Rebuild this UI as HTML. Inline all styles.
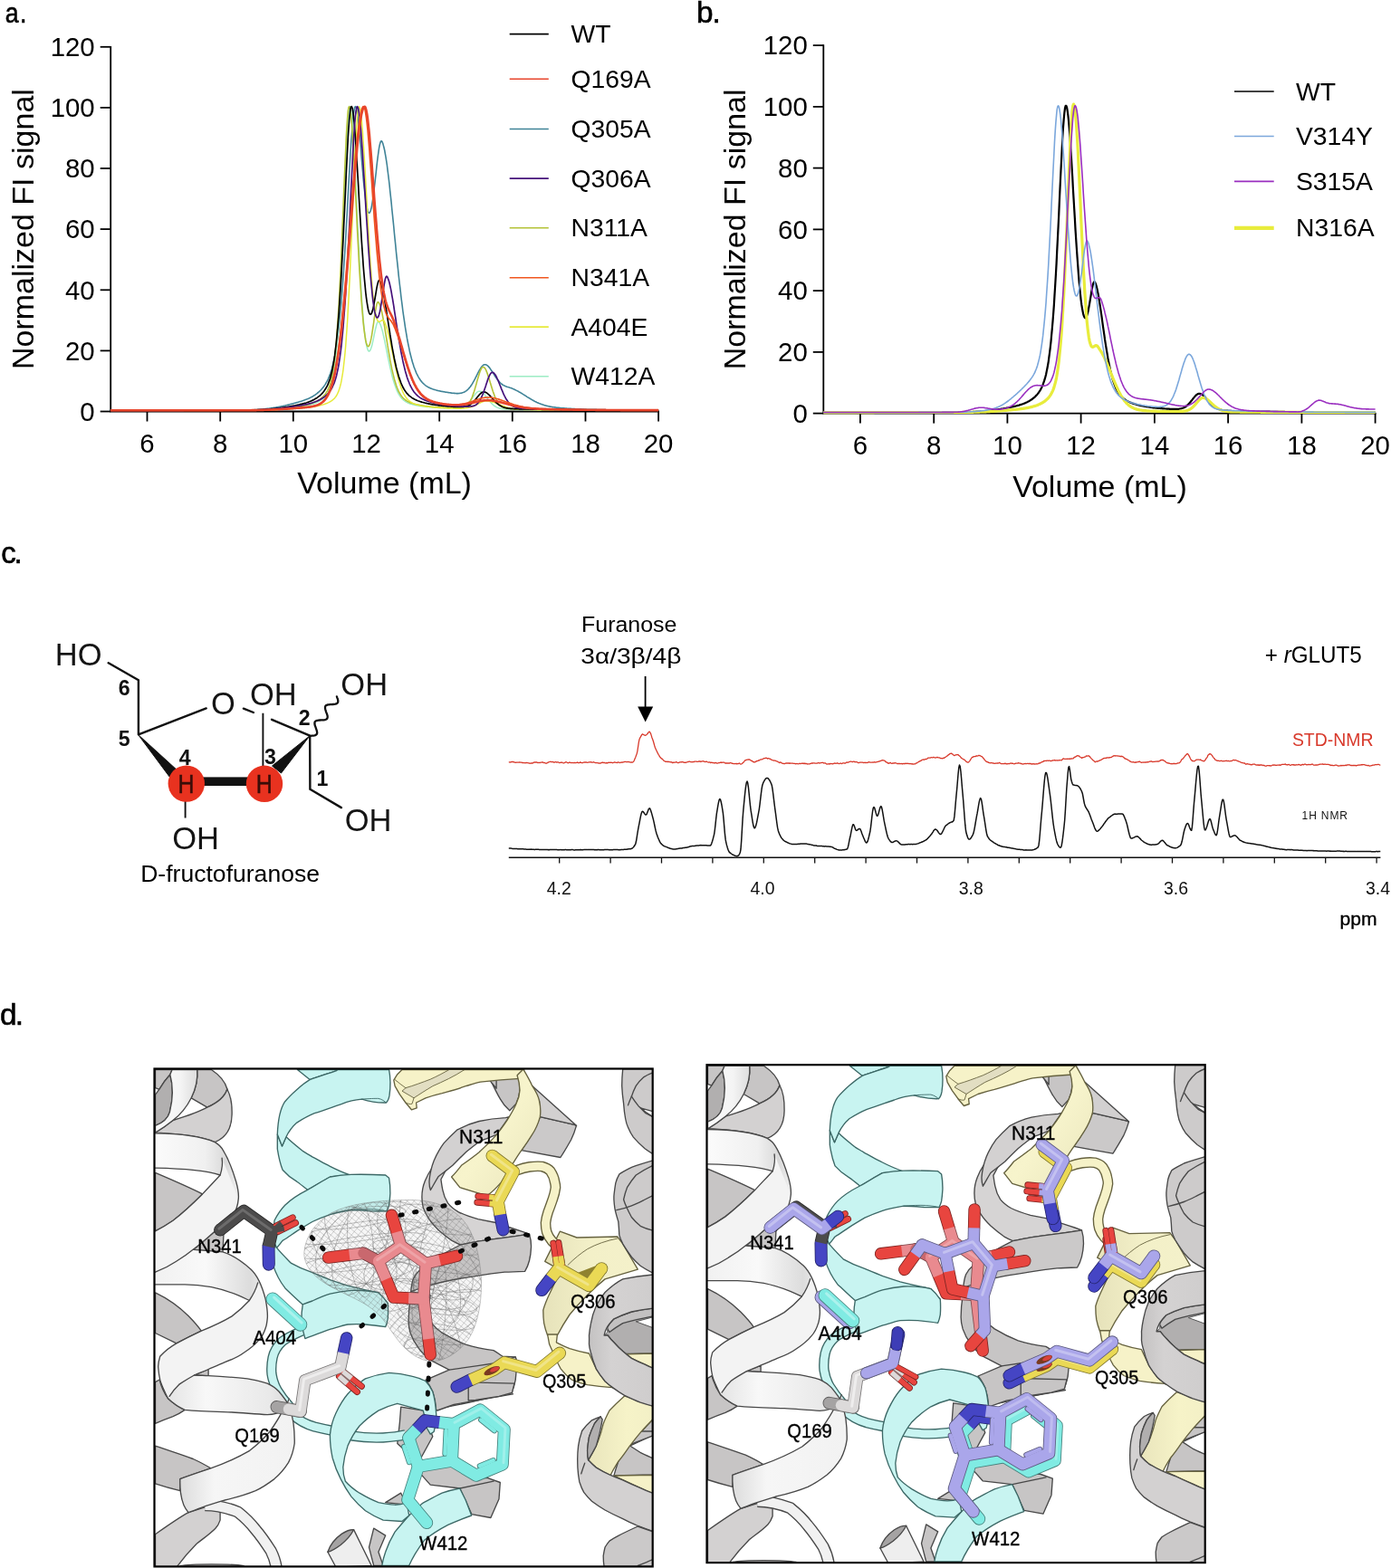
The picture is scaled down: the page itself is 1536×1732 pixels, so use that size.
<!DOCTYPE html>
<html lang="en"><head><meta charset="utf-8"><title>Figure</title><style>
html,body{margin:0;padding:0;background:#fff;}
body{width:1536px;height:1732px;overflow:hidden;font-family:"Liberation Sans",sans-serif;}
svg{display:block;}
text{font-family:"Liberation Sans",sans-serif;fill:#000;}
.tk{font-size:29.4px;}
.ti{font-size:34px;}
.lg{font-size:28.3px;}
.pl{font-size:31.8px;stroke:#000;stroke-width:0.6px;}
.nt{font-size:19.5px;fill:#111;}
.ppm{font-size:20px;stroke:#000;stroke-width:0.35px;}
.fur{font-size:24.5px;}
.glut{font-size:25.5px;}
.std{font-size:20px;fill:#d8392b;}
.h1{font-size:12px;fill:#111;}
.chA{font-size:34.5px;fill:#151515;}
.chN{font-size:23.2px;font-weight:bold;fill:#111;}
.chH{font-size:29px;fill:#3a0d08;stroke:#3a0d08;stroke-width:0.5px;}
.chT{font-size:25.5px;}
.rl{font-size:21.4px;fill:#000;stroke:#000;stroke-width:0.35px;}
</style></head><body>
<svg width="1536" height="1732" viewBox="0 0 1536 1732">
<rect width="1536" height="1732" fill="#fff"/>
<path d="M122.2,51.8 V454.5 H727.1" fill="none" stroke="#000" stroke-width="1.8" stroke-linecap="square"/>
<path d="M110.7,454.5 H122.2" stroke="#000" stroke-width="1.8"/>
<text x="104.7" y="464.7" text-anchor="end" class="tk">0</text>
<path d="M110.7,387.4 H122.2" stroke="#000" stroke-width="1.8"/>
<text x="104.7" y="397.6" text-anchor="end" class="tk">20</text>
<path d="M110.7,320.3 H122.2" stroke="#000" stroke-width="1.8"/>
<text x="104.7" y="330.5" text-anchor="end" class="tk">40</text>
<path d="M110.7,253.1 H122.2" stroke="#000" stroke-width="1.8"/>
<text x="104.7" y="263.3" text-anchor="end" class="tk">60</text>
<path d="M110.7,186.0 H122.2" stroke="#000" stroke-width="1.8"/>
<text x="104.7" y="196.2" text-anchor="end" class="tk">80</text>
<path d="M110.7,118.9 H122.2" stroke="#000" stroke-width="1.8"/>
<text x="104.7" y="129.1" text-anchor="end" class="tk">100</text>
<path d="M110.7,51.8 H122.2" stroke="#000" stroke-width="1.8"/>
<text x="104.7" y="62.0" text-anchor="end" class="tk">120</text>
<path d="M162.5,454.5 V465.5" stroke="#000" stroke-width="1.8"/>
<text x="162.5" y="500.0" text-anchor="middle" class="tk">6</text>
<path d="M243.2,454.5 V465.5" stroke="#000" stroke-width="1.8"/>
<text x="243.2" y="500.0" text-anchor="middle" class="tk">8</text>
<path d="M323.8,454.5 V465.5" stroke="#000" stroke-width="1.8"/>
<text x="323.8" y="500.0" text-anchor="middle" class="tk">10</text>
<path d="M404.5,454.5 V465.5" stroke="#000" stroke-width="1.8"/>
<text x="404.5" y="500.0" text-anchor="middle" class="tk">12</text>
<path d="M485.2,454.5 V465.5" stroke="#000" stroke-width="1.8"/>
<text x="485.2" y="500.0" text-anchor="middle" class="tk">14</text>
<path d="M565.8,454.5 V465.5" stroke="#000" stroke-width="1.8"/>
<text x="565.8" y="500.0" text-anchor="middle" class="tk">16</text>
<path d="M646.5,454.5 V465.5" stroke="#000" stroke-width="1.8"/>
<text x="646.5" y="500.0" text-anchor="middle" class="tk">18</text>
<path d="M727.1,454.5 V465.5" stroke="#000" stroke-width="1.8"/>
<text x="727.1" y="500.0" text-anchor="middle" class="tk">20</text>
<text x="424.6" y="545.0" text-anchor="middle" class="ti">Volume (mL)</text>
<text transform="translate(36.8,253.1) rotate(-90)" text-anchor="middle" class="ti">Normalized FI signal</text>
<path d="M122.2,453.3 L122.9,453.3 L123.5,453.3 L124.2,453.3 L124.9,453.3 L125.6,453.3 L126.2,453.3 L126.9,453.3 L127.6,453.3 L128.2,453.3 L128.9,453.2 L129.6,453.2 L130.3,453.2 L130.9,453.2 L131.6,453.2 L132.3,453.2 L133.0,453.2 L133.6,453.2 L134.3,453.2 L135.0,453.2 L135.6,453.2 L136.3,453.2 L137.0,453.2 L137.7,453.2 L138.3,453.2 L139.0,453.2 L139.7,453.2 L140.3,453.2 L141.0,453.2 L141.7,453.2 L142.4,453.2 L143.0,453.2 L143.7,453.2 L144.4,453.2 L145.1,453.2 L145.7,453.2 L146.4,453.2 L147.1,453.2 L147.7,453.2 L148.4,453.2 L149.1,453.2 L149.8,453.2 L150.4,453.2 L151.1,453.2 L151.8,453.2 L152.4,453.2 L153.1,453.2 L153.8,453.2 L154.5,453.2 L155.1,453.2 L155.8,453.2 L156.5,453.2 L157.2,453.2 L157.8,453.2 L158.5,453.2 L159.2,453.2 L159.8,453.2 L160.5,453.2 L161.2,453.2 L161.9,453.2 L162.5,453.2 L163.2,453.2 L163.9,453.2 L164.5,453.2 L165.2,453.2 L165.9,453.2 L166.6,453.2 L167.2,453.2 L167.9,453.2 L168.6,453.2 L169.3,453.2 L169.9,453.2 L170.6,453.2 L171.3,453.2 L171.9,453.2 L172.6,453.2 L173.3,453.2 L174.0,453.2 L174.6,453.2 L175.3,453.2 L176.0,453.2 L176.6,453.2 L177.3,453.2 L178.0,453.2 L178.7,453.2 L179.3,453.2 L180.0,453.2 L180.7,453.2 L181.4,453.2 L182.0,453.2 L182.7,453.2 L183.4,453.2 L184.0,453.2 L184.7,453.2 L185.4,453.2 L186.1,453.2 L186.7,453.2 L187.4,453.2 L188.1,453.2 L188.7,453.2 L189.4,453.2 L190.1,453.2 L190.8,453.2 L191.4,453.2 L192.1,453.2 L192.8,453.2 L193.4,453.2 L194.1,453.2 L194.8,453.2 L195.5,453.2 L196.1,453.2 L196.8,453.2 L197.5,453.2 L198.2,453.2 L198.8,453.2 L199.5,453.2 L200.2,453.2 L200.8,453.2 L201.5,453.2 L202.2,453.2 L202.9,453.2 L203.5,453.2 L204.2,453.2 L204.9,453.2 L205.5,453.2 L206.2,453.2 L206.9,453.2 L207.6,453.2 L208.2,453.2 L208.9,453.2 L209.6,453.2 L210.3,453.2 L210.9,453.2 L211.6,453.2 L212.3,453.2 L212.9,453.2 L213.6,453.2 L214.3,453.2 L215.0,453.2 L215.6,453.2 L216.3,453.2 L217.0,453.2 L217.6,453.2 L218.3,453.2 L219.0,453.2 L219.7,453.2 L220.3,453.2 L221.0,453.2 L221.7,453.2 L222.4,453.2 L223.0,453.1 L223.7,453.1 L224.4,453.1 L225.0,453.1 L225.7,453.1 L226.4,453.1 L227.1,453.1 L227.7,453.1 L228.4,453.1 L229.1,453.1 L229.7,453.1 L230.4,453.1 L231.1,453.1 L231.8,453.1 L232.4,453.1 L233.1,453.1 L233.8,453.1 L234.5,453.1 L235.1,453.1 L235.8,453.1 L236.5,453.1 L237.1,453.1 L237.8,453.1 L238.5,453.1 L239.2,453.1 L239.8,453.1 L240.5,453.1 L241.2,453.1 L241.8,453.1 L242.5,453.1 L243.2,453.1 L243.9,453.1 L244.5,453.1 L245.2,453.1 L245.9,453.1 L246.6,453.1 L247.2,453.1 L247.9,453.1 L248.6,453.1 L249.2,453.1 L249.9,453.1 L250.6,453.1 L251.3,453.1 L251.9,453.1 L252.6,453.1 L253.3,453.1 L253.9,453.1 L254.6,453.1 L255.3,453.1 L256.0,453.1 L256.6,453.1 L257.3,453.1 L258.0,453.1 L258.6,453.1 L259.3,453.0 L260.0,453.0 L260.7,453.0 L261.3,453.0 L262.0,453.0 L262.7,453.0 L263.4,453.0 L264.0,453.0 L264.7,453.0 L265.4,453.0 L266.0,453.0 L266.7,453.0 L267.4,453.0 L268.1,453.0 L268.7,453.0 L269.4,453.0 L270.1,453.0 L270.7,453.0 L271.4,453.0 L272.1,453.0 L272.8,452.9 L273.4,452.9 L274.1,452.9 L274.8,452.9 L275.5,452.9 L276.1,452.8 L276.8,452.8 L277.5,452.8 L278.1,452.8 L278.8,452.7 L279.5,452.7 L280.2,452.7 L280.8,452.6 L281.5,452.6 L282.2,452.5 L282.8,452.5 L283.5,452.5 L284.2,452.4 L284.9,452.4 L285.5,452.3 L286.2,452.3 L286.9,452.2 L287.6,452.2 L288.2,452.1 L288.9,452.0 L289.6,452.0 L290.2,451.9 L290.9,451.8 L291.6,451.8 L292.3,451.7 L292.9,451.6 L293.6,451.6 L294.3,451.5 L294.9,451.4 L295.6,451.3 L296.3,451.2 L297.0,451.2 L297.6,451.1 L298.3,451.0 L299.0,450.9 L299.7,450.8 L300.3,450.7 L301.0,450.6 L301.7,450.5 L302.3,450.4 L303.0,450.3 L303.7,450.2 L304.4,450.1 L305.0,449.9 L305.7,449.8 L306.4,449.7 L307.0,449.6 L307.7,449.5 L308.4,449.3 L309.1,449.2 L309.7,449.1 L310.4,448.9 L311.1,448.8 L311.8,448.7 L312.4,448.5 L313.1,448.4 L313.8,448.2 L314.4,448.1 L315.1,447.9 L315.8,447.8 L316.5,447.6 L317.1,447.4 L317.8,447.3 L318.5,447.1 L319.1,447.0 L319.8,446.8 L320.5,446.6 L321.2,446.4 L321.8,446.3 L322.5,446.1 L323.2,445.9 L323.8,445.7 L324.5,445.5 L325.2,445.3 L325.9,445.2 L326.5,445.0 L327.2,444.8 L327.9,444.6 L328.6,444.4 L329.2,444.2 L329.9,444.0 L330.6,443.8 L331.2,443.6 L331.9,443.4 L332.6,443.2 L333.3,443.0 L333.9,442.8 L334.6,442.6 L335.3,442.3 L335.9,442.1 L336.6,441.8 L337.3,441.6 L338.0,441.3 L338.6,441.1 L339.3,440.8 L340.0,440.5 L340.7,440.2 L341.3,439.9 L342.0,439.6 L342.7,439.2 L343.3,438.9 L344.0,438.5 L344.7,438.2 L345.4,437.8 L346.0,437.4 L346.7,436.9 L347.4,436.5 L348.0,436.1 L348.7,435.6 L349.4,435.1 L350.1,434.6 L350.7,434.0 L351.4,433.5 L352.1,432.9 L352.8,432.3 L353.4,431.6 L354.1,431.0 L354.8,430.3 L355.4,429.5 L356.1,428.7 L356.8,427.9 L357.5,427.0 L358.1,426.1 L358.8,425.1 L359.5,424.0 L360.1,422.9 L360.8,421.7 L361.5,420.4 L362.2,419.0 L362.8,417.5 L363.5,415.9 L364.2,414.1 L364.9,412.2 L365.5,410.2 L366.2,408.0 L366.9,405.6 L367.5,402.9 L368.2,400.1 L368.9,397.0 L369.6,393.6 L370.2,390.0 L370.9,386.0 L371.6,381.7 L372.2,377.0 L372.9,371.9 L373.6,366.5 L374.3,360.6 L374.9,354.2 L375.6,347.4 L376.3,340.1 L377.0,332.3 L377.6,324.1 L378.3,315.3 L379.0,306.0 L379.6,296.2 L380.3,285.9 L381.0,275.2 L381.7,264.0 L382.3,252.5 L383.0,240.7 L383.7,228.6 L384.3,216.3 L385.0,204.1 L385.7,191.9 L386.4,180.0 L387.0,168.6 L387.7,157.9 L388.4,148.0 L389.1,139.2 L389.7,131.7 L390.4,125.7 L391.1,121.3 L391.7,118.6 L392.4,117.7 L393.1,118.4 L393.8,120.5 L394.4,124.1 L395.1,128.8 L395.8,134.7 L396.4,141.4 L397.1,148.8 L397.8,156.6 L398.5,164.8 L399.1,173.0 L399.8,181.2 L400.5,189.2 L401.1,196.8 L401.8,204.0 L402.5,210.5 L403.2,216.5 L403.8,221.7 L404.5,226.1 L405.2,229.6 L405.9,232.4 L406.5,234.2 L407.2,235.1 L407.9,235.2 L408.5,234.4 L409.2,232.7 L409.9,230.3 L410.6,227.0 L411.2,223.1 L411.9,218.6 L412.6,213.6 L413.2,208.1 L413.9,202.3 L414.6,196.2 L415.3,190.1 L415.9,184.1 L416.6,178.2 L417.3,172.7 L418.0,167.7 L418.6,163.4 L419.3,159.9 L420.0,157.4 L420.6,156.0 L421.3,155.7 L422.0,156.6 L422.7,158.3 L423.3,160.4 L424.0,163.0 L424.7,166.0 L425.3,169.5 L426.0,173.4 L426.7,177.8 L427.4,182.5 L428.0,187.6 L428.7,193.0 L429.4,198.7 L430.1,204.6 L430.7,210.8 L431.4,217.1 L432.1,223.6 L432.7,230.2 L433.4,236.9 L434.1,243.7 L434.8,250.5 L435.4,257.3 L436.1,264.1 L436.8,270.8 L437.4,277.5 L438.1,284.1 L438.8,290.7 L439.5,297.1 L440.1,303.3 L440.8,309.5 L441.5,315.5 L442.2,321.3 L442.8,327.0 L443.5,332.5 L444.2,337.8 L444.8,343.0 L445.5,347.9 L446.2,352.7 L446.9,357.3 L447.5,361.7 L448.2,365.9 L448.9,369.9 L449.5,373.7 L450.2,377.4 L450.9,380.8 L451.6,384.1 L452.2,387.2 L452.9,390.2 L453.6,393.0 L454.3,395.6 L454.9,398.1 L455.6,400.4 L456.3,402.6 L456.9,404.6 L457.6,406.5 L458.3,408.3 L459.0,410.0 L459.6,411.6 L460.3,413.1 L461.0,414.4 L461.6,415.7 L462.3,416.9 L463.0,418.0 L463.7,419.0 L464.3,420.0 L465.0,420.9 L465.7,421.7 L466.3,422.5 L467.0,423.2 L467.7,423.8 L468.4,424.5 L469.0,425.0 L469.7,425.6 L470.4,426.1 L471.1,426.5 L471.7,427.0 L472.4,427.4 L473.1,427.7 L473.7,428.1 L474.4,428.4 L475.1,428.7 L475.8,429.0 L476.4,429.3 L477.1,429.6 L477.8,429.8 L478.4,430.0 L479.1,430.2 L479.8,430.4 L480.5,430.6 L481.1,430.8 L481.8,431.0 L482.5,431.2 L483.2,431.4 L483.8,431.5 L484.5,431.7 L485.2,431.8 L485.8,432.0 L486.5,432.1 L487.2,432.2 L487.9,432.4 L488.5,432.5 L489.2,432.6 L489.9,432.7 L490.5,432.8 L491.2,433.0 L491.9,433.1 L492.6,433.2 L493.2,433.3 L493.9,433.4 L494.6,433.5 L495.3,433.6 L495.9,433.7 L496.6,433.8 L497.3,433.9 L497.9,434.0 L498.6,434.1 L499.3,434.2 L500.0,434.3 L500.6,434.3 L501.3,434.4 L502.0,434.4 L502.6,434.5 L503.3,434.5 L504.0,434.6 L504.7,434.6 L505.3,434.6 L506.0,434.6 L506.7,434.5 L507.4,434.5 L508.0,434.4 L508.7,434.3 L509.4,434.2 L510.0,434.0 L510.7,433.8 L511.4,433.6 L512.1,433.3 L512.7,433.0 L513.4,432.7 L514.1,432.2 L514.7,431.8 L515.4,431.3 L516.1,430.7 L516.8,430.1 L517.4,429.4 L518.1,428.6 L518.8,427.8 L519.5,427.0 L520.1,426.0 L520.8,425.0 L521.5,423.9 L522.1,422.8 L522.8,421.6 L523.5,420.4 L524.2,419.2 L524.8,417.9 L525.5,416.5 L526.2,415.2 L526.8,413.9 L527.5,412.5 L528.2,411.2 L528.9,410.0 L529.5,408.7 L530.2,407.6 L530.9,406.5 L531.5,405.6 L532.2,404.7 L532.9,404.0 L533.6,403.4 L534.2,403.0 L534.9,402.8 L535.6,402.7 L536.3,402.8 L536.9,403.0 L537.6,403.4 L538.3,403.9 L538.9,404.4 L539.6,405.1 L540.3,405.9 L541.0,406.8 L541.6,407.7 L542.3,408.7 L543.0,409.7 L543.6,410.7 L544.3,411.8 L545.0,412.9 L545.7,413.9 L546.3,415.0 L547.0,416.0 L547.7,417.0 L548.4,418.0 L549.0,418.9 L549.7,419.8 L550.4,420.6 L551.0,421.4 L551.7,422.2 L552.4,422.8 L553.1,423.5 L553.7,424.0 L554.4,424.5 L555.1,425.0 L555.7,425.4 L556.4,425.8 L557.1,426.1 L557.8,426.4 L558.4,426.7 L559.1,426.9 L559.8,427.2 L560.5,427.4 L561.1,427.6 L561.8,427.8 L562.5,428.0 L563.1,428.2 L563.8,428.4 L564.5,428.6 L565.2,428.9 L565.8,429.2 L566.5,429.5 L567.2,429.8 L567.8,430.1 L568.5,430.4 L569.2,430.7 L569.9,431.1 L570.5,431.4 L571.2,431.8 L571.9,432.1 L572.6,432.5 L573.2,432.9 L573.9,433.2 L574.6,433.6 L575.2,434.0 L575.9,434.4 L576.6,434.9 L577.3,435.3 L577.9,435.7 L578.6,436.1 L579.3,436.5 L579.9,437.0 L580.6,437.4 L581.3,437.8 L582.0,438.3 L582.6,438.7 L583.3,439.1 L584.0,439.5 L584.7,439.9 L585.3,440.3 L586.0,440.7 L586.7,441.1 L587.3,441.5 L588.0,441.9 L588.7,442.3 L589.4,442.7 L590.0,443.0 L590.7,443.4 L591.4,443.7 L592.0,444.0 L592.7,444.4 L593.4,444.7 L594.1,445.0 L594.7,445.3 L595.4,445.6 L596.1,445.8 L596.7,446.1 L597.4,446.4 L598.1,446.6 L598.8,446.8 L599.4,447.1 L600.1,447.3 L600.8,447.5 L601.5,447.7 L602.1,447.9 L602.8,448.0 L603.5,448.2 L604.1,448.4 L604.8,448.5 L605.5,448.7 L606.2,448.8 L606.8,449.0 L607.5,449.1 L608.2,449.2 L608.8,449.3 L609.5,449.5 L610.2,449.6 L610.9,449.7 L611.5,449.8 L612.2,449.9 L612.9,449.9 L613.6,450.0 L614.2,450.1 L614.9,450.2 L615.6,450.3 L616.2,450.3 L616.9,450.4 L617.6,450.5 L618.3,450.5 L618.9,450.6 L619.6,450.7 L620.3,450.7 L620.9,450.8 L621.6,450.8 L622.3,450.9 L623.0,450.9 L623.6,451.0 L624.3,451.0 L625.0,451.1 L625.7,451.1 L626.3,451.2 L627.0,451.2 L627.7,451.3 L628.3,451.3 L629.0,451.3 L629.7,451.4 L630.4,451.4 L631.0,451.5 L631.7,451.5 L632.4,451.5 L633.0,451.6 L633.7,451.6 L634.4,451.6 L635.1,451.7 L635.7,451.7 L636.4,451.7 L637.1,451.8 L637.8,451.8 L638.4,451.8 L639.1,451.8 L639.8,451.9 L640.4,451.9 L641.1,451.9 L641.8,451.9 L642.5,452.0 L643.1,452.0 L643.8,452.0 L644.5,452.0 L645.1,452.1 L645.8,452.1 L646.5,452.1 L647.2,452.1 L647.8,452.2 L648.5,452.2 L649.2,452.2 L649.9,452.2 L650.5,452.2 L651.2,452.3 L651.9,452.3 L652.5,452.3 L653.2,452.3 L653.9,452.3 L654.6,452.3 L655.2,452.4 L655.9,452.4 L656.6,452.4 L657.2,452.4 L657.9,452.4 L658.6,452.4 L659.3,452.5 L659.9,452.5 L660.6,452.5 L661.3,452.5 L661.9,452.5 L662.6,452.5 L663.3,452.5 L664.0,452.6 L664.6,452.6 L665.3,452.6 L666.0,452.6 L666.7,452.6 L667.3,452.6 L668.0,452.6 L668.7,452.6 L669.3,452.7 L670.0,452.7 L670.7,452.7 L671.4,452.7 L672.0,452.7 L672.7,452.7 L673.4,452.7 L674.0,452.7 L674.7,452.7 L675.4,452.7 L676.1,452.7 L676.7,452.8 L677.4,452.8 L678.1,452.8 L678.8,452.8 L679.4,452.8 L680.1,452.8 L680.8,452.8 L681.4,452.8 L682.1,452.8 L682.8,452.8 L683.5,452.8 L684.1,452.8 L684.8,452.8 L685.5,452.9 L686.1,452.9 L686.8,452.9 L687.5,452.9 L688.2,452.9 L688.8,452.9 L689.5,452.9 L690.2,452.9 L690.9,452.9 L691.5,452.9 L692.2,452.9 L692.9,452.9 L693.5,452.9 L694.2,452.9 L694.9,452.9 L695.6,452.9 L696.2,452.9 L696.9,452.9 L697.6,452.9 L698.2,452.9 L698.9,452.9 L699.6,452.9 L700.3,453.0 L700.9,453.0 L701.6,453.0 L702.3,453.0 L703.0,453.0 L703.6,453.0 L704.3,453.0 L705.0,453.0 L705.6,453.0 L706.3,453.0 L707.0,453.0 L707.7,453.0 L708.3,453.0 L709.0,453.0 L709.7,453.0 L710.3,453.0 L711.0,453.0 L711.7,453.0 L712.4,453.0 L713.0,453.0 L713.7,453.0 L714.4,453.0 L715.1,453.0 L715.7,453.0 L716.4,453.0 L717.1,453.0 L717.7,453.0 L718.4,453.0 L719.1,453.0 L719.8,453.0 L720.4,453.0 L721.1,453.0 L721.8,453.0 L722.4,453.0 L723.1,453.0 L723.8,453.0 L724.5,453.0 L725.1,453.0 L725.8,453.0 L726.5,453.0 L727.1,453.0" fill="none" stroke="#3f8397" stroke-width="1.6" stroke-linejoin="round"/>
<path d="M122.2,453.3 L122.9,453.3 L123.5,453.3 L124.2,453.3 L124.9,453.3 L125.6,453.3 L126.2,453.3 L126.9,453.3 L127.6,453.3 L128.2,453.3 L128.9,453.3 L129.6,453.3 L130.3,453.3 L130.9,453.3 L131.6,453.3 L132.3,453.3 L133.0,453.3 L133.6,453.3 L134.3,453.3 L135.0,453.3 L135.6,453.3 L136.3,453.3 L137.0,453.3 L137.7,453.3 L138.3,453.3 L139.0,453.3 L139.7,453.3 L140.3,453.3 L141.0,453.3 L141.7,453.3 L142.4,453.3 L143.0,453.3 L143.7,453.3 L144.4,453.3 L145.1,453.3 L145.7,453.3 L146.4,453.3 L147.1,453.3 L147.7,453.3 L148.4,453.3 L149.1,453.3 L149.8,453.3 L150.4,453.3 L151.1,453.3 L151.8,453.3 L152.4,453.3 L153.1,453.3 L153.8,453.3 L154.5,453.3 L155.1,453.3 L155.8,453.3 L156.5,453.3 L157.2,453.3 L157.8,453.3 L158.5,453.3 L159.2,453.3 L159.8,453.3 L160.5,453.3 L161.2,453.3 L161.9,453.3 L162.5,453.3 L163.2,453.3 L163.9,453.3 L164.5,453.3 L165.2,453.3 L165.9,453.3 L166.6,453.3 L167.2,453.3 L167.9,453.3 L168.6,453.3 L169.3,453.3 L169.9,453.3 L170.6,453.3 L171.3,453.3 L171.9,453.3 L172.6,453.3 L173.3,453.3 L174.0,453.3 L174.6,453.3 L175.3,453.3 L176.0,453.3 L176.6,453.3 L177.3,453.3 L178.0,453.3 L178.7,453.3 L179.3,453.3 L180.0,453.3 L180.7,453.3 L181.4,453.3 L182.0,453.3 L182.7,453.3 L183.4,453.3 L184.0,453.3 L184.7,453.3 L185.4,453.3 L186.1,453.3 L186.7,453.3 L187.4,453.3 L188.1,453.3 L188.7,453.3 L189.4,453.3 L190.1,453.3 L190.8,453.3 L191.4,453.3 L192.1,453.3 L192.8,453.3 L193.4,453.3 L194.1,453.3 L194.8,453.3 L195.5,453.3 L196.1,453.3 L196.8,453.3 L197.5,453.3 L198.2,453.3 L198.8,453.3 L199.5,453.3 L200.2,453.3 L200.8,453.3 L201.5,453.3 L202.2,453.3 L202.9,453.3 L203.5,453.3 L204.2,453.3 L204.9,453.3 L205.5,453.3 L206.2,453.3 L206.9,453.3 L207.6,453.3 L208.2,453.3 L208.9,453.3 L209.6,453.3 L210.3,453.3 L210.9,453.3 L211.6,453.3 L212.3,453.3 L212.9,453.3 L213.6,453.3 L214.3,453.3 L215.0,453.3 L215.6,453.3 L216.3,453.3 L217.0,453.3 L217.6,453.3 L218.3,453.3 L219.0,453.3 L219.7,453.3 L220.3,453.3 L221.0,453.3 L221.7,453.3 L222.4,453.3 L223.0,453.3 L223.7,453.3 L224.4,453.3 L225.0,453.3 L225.7,453.3 L226.4,453.3 L227.1,453.3 L227.7,453.3 L228.4,453.3 L229.1,453.3 L229.7,453.3 L230.4,453.3 L231.1,453.3 L231.8,453.3 L232.4,453.3 L233.1,453.3 L233.8,453.3 L234.5,453.3 L235.1,453.3 L235.8,453.3 L236.5,453.3 L237.1,453.3 L237.8,453.3 L238.5,453.3 L239.2,453.3 L239.8,453.3 L240.5,453.3 L241.2,453.2 L241.8,453.2 L242.5,453.2 L243.2,453.2 L243.9,453.2 L244.5,453.2 L245.2,453.2 L245.9,453.2 L246.6,453.2 L247.2,453.2 L247.9,453.2 L248.6,453.2 L249.2,453.2 L249.9,453.2 L250.6,453.2 L251.3,453.2 L251.9,453.2 L252.6,453.2 L253.3,453.2 L253.9,453.2 L254.6,453.2 L255.3,453.2 L256.0,453.2 L256.6,453.2 L257.3,453.2 L258.0,453.2 L258.6,453.2 L259.3,453.2 L260.0,453.2 L260.7,453.2 L261.3,453.2 L262.0,453.2 L262.7,453.2 L263.4,453.2 L264.0,453.2 L264.7,453.2 L265.4,453.2 L266.0,453.2 L266.7,453.2 L267.4,453.2 L268.1,453.2 L268.7,453.2 L269.4,453.2 L270.1,453.2 L270.7,453.2 L271.4,453.2 L272.1,453.2 L272.8,453.2 L273.4,453.2 L274.1,453.2 L274.8,453.2 L275.5,453.2 L276.1,453.1 L276.8,453.1 L277.5,453.1 L278.1,453.1 L278.8,453.1 L279.5,453.1 L280.2,453.1 L280.8,453.1 L281.5,453.1 L282.2,453.0 L282.8,453.0 L283.5,453.0 L284.2,453.0 L284.9,453.0 L285.5,453.0 L286.2,452.9 L286.9,452.9 L287.6,452.9 L288.2,452.9 L288.9,452.8 L289.6,452.8 L290.2,452.8 L290.9,452.8 L291.6,452.7 L292.3,452.7 L292.9,452.7 L293.6,452.7 L294.3,452.6 L294.9,452.6 L295.6,452.6 L296.3,452.5 L297.0,452.5 L297.6,452.5 L298.3,452.4 L299.0,452.4 L299.7,452.4 L300.3,452.3 L301.0,452.3 L301.7,452.2 L302.3,452.2 L303.0,452.2 L303.7,452.1 L304.4,452.1 L305.0,452.0 L305.7,452.0 L306.4,451.9 L307.0,451.9 L307.7,451.8 L308.4,451.8 L309.1,451.7 L309.7,451.7 L310.4,451.6 L311.1,451.6 L311.8,451.5 L312.4,451.4 L313.1,451.4 L313.8,451.3 L314.4,451.3 L315.1,451.2 L315.8,451.1 L316.5,451.1 L317.1,451.0 L317.8,450.9 L318.5,450.9 L319.1,450.8 L319.8,450.7 L320.5,450.6 L321.2,450.6 L321.8,450.5 L322.5,450.4 L323.2,450.3 L323.8,450.2 L324.5,450.1 L325.2,450.1 L325.9,450.0 L326.5,449.9 L327.2,449.8 L327.9,449.7 L328.6,449.6 L329.2,449.5 L329.9,449.4 L330.6,449.3 L331.2,449.2 L331.9,449.1 L332.6,449.0 L333.3,448.9 L333.9,448.8 L334.6,448.7 L335.3,448.6 L335.9,448.5 L336.6,448.4 L337.3,448.2 L338.0,448.1 L338.6,448.0 L339.3,447.8 L340.0,447.7 L340.7,447.5 L341.3,447.3 L342.0,447.2 L342.7,447.0 L343.3,446.8 L344.0,446.6 L344.7,446.4 L345.4,446.2 L346.0,446.0 L346.7,445.7 L347.4,445.5 L348.0,445.2 L348.7,445.0 L349.4,444.7 L350.1,444.4 L350.7,444.1 L351.4,443.7 L352.1,443.4 L352.8,443.0 L353.4,442.6 L354.1,442.2 L354.8,441.8 L355.4,441.3 L356.1,440.8 L356.8,440.3 L357.5,439.7 L358.1,439.1 L358.8,438.4 L359.5,437.6 L360.1,436.8 L360.8,435.9 L361.5,434.9 L362.2,433.8 L362.8,432.5 L363.5,431.1 L364.2,429.5 L364.9,427.6 L365.5,425.5 L366.2,423.1 L366.9,420.3 L367.5,417.1 L368.2,413.4 L368.9,409.2 L369.6,404.4 L370.2,399.0 L370.9,392.8 L371.6,385.9 L372.2,378.1 L372.9,369.4 L373.6,359.8 L374.3,349.2 L374.9,337.6 L375.6,325.1 L376.3,311.6 L377.0,297.3 L377.6,282.2 L378.3,266.4 L379.0,250.0 L379.6,233.3 L380.3,216.5 L381.0,199.8 L381.7,183.6 L382.3,168.3 L383.0,154.3 L383.7,142.0 L384.3,131.8 L385.0,124.1 L385.7,119.4 L386.4,117.7 L387.0,118.8 L387.7,122.2 L388.4,127.8 L389.1,135.5 L389.7,144.8 L390.4,155.7 L391.1,167.8 L391.7,180.8 L392.4,194.4 L393.1,208.5 L393.8,222.8 L394.4,237.0 L395.1,251.1 L395.8,264.9 L396.4,278.2 L397.1,291.0 L397.8,303.1 L398.5,314.5 L399.1,325.2 L399.8,335.0 L400.5,344.1 L401.1,352.3 L401.8,359.6 L402.5,366.1 L403.2,371.7 L403.8,376.4 L404.5,380.3 L405.2,383.4 L405.9,385.6 L406.5,387.1 L407.2,387.9 L407.9,387.9 L408.5,387.3 L409.2,386.1 L409.9,384.3 L410.6,382.1 L411.2,379.4 L411.9,376.4 L412.6,373.2 L413.2,369.9 L413.9,366.6 L414.6,363.5 L415.3,360.7 L415.9,358.3 L416.6,356.5 L417.3,355.5 L418.0,355.3 L418.6,355.9 L419.3,357.0 L420.0,358.3 L420.6,360.1 L421.3,362.1 L422.0,364.5 L422.7,367.1 L423.3,370.0 L424.0,373.0 L424.7,376.1 L425.3,379.4 L426.0,382.7 L426.7,386.1 L427.4,389.5 L428.0,392.8 L428.7,396.1 L429.4,399.4 L430.1,402.6 L430.7,405.6 L431.4,408.6 L432.1,411.4 L432.7,414.1 L433.4,416.7 L434.1,419.2 L434.8,421.5 L435.4,423.6 L436.1,425.6 L436.8,427.5 L437.4,429.3 L438.1,430.9 L438.8,432.4 L439.5,433.8 L440.1,435.0 L440.8,436.2 L441.5,437.3 L442.2,438.2 L442.8,439.1 L443.5,439.9 L444.2,440.6 L444.8,441.3 L445.5,441.9 L446.2,442.5 L446.9,443.0 L447.5,443.4 L448.2,443.8 L448.9,444.2 L449.5,444.6 L450.2,444.9 L450.9,445.2 L451.6,445.5 L452.2,445.7 L452.9,446.0 L453.6,446.2 L454.3,446.4 L454.9,446.6 L455.6,446.8 L456.3,447.0 L456.9,447.1 L457.6,447.3 L458.3,447.4 L459.0,447.6 L459.6,447.7 L460.3,447.8 L461.0,448.0 L461.6,448.1 L462.3,448.2 L463.0,448.3 L463.7,448.4 L464.3,448.5 L465.0,448.6 L465.7,448.7 L466.3,448.8 L467.0,448.9 L467.7,449.0 L468.4,449.1 L469.0,449.1 L469.7,449.2 L470.4,449.3 L471.1,449.4 L471.7,449.4 L472.4,449.5 L473.1,449.6 L473.7,449.6 L474.4,449.7 L475.1,449.8 L475.8,449.8 L476.4,449.9 L477.1,449.9 L477.8,450.0 L478.4,450.0 L479.1,450.1 L479.8,450.1 L480.5,450.2 L481.1,450.2 L481.8,450.3 L482.5,450.3 L483.2,450.4 L483.8,450.4 L484.5,450.4 L485.2,450.5 L485.8,450.5 L486.5,450.6 L487.2,450.6 L487.9,450.6 L488.5,450.6 L489.2,450.7 L489.9,450.7 L490.5,450.7 L491.2,450.8 L491.9,450.8 L492.6,450.8 L493.2,450.8 L493.9,450.9 L494.6,450.9 L495.3,450.9 L495.9,450.9 L496.6,450.9 L497.3,450.9 L497.9,451.0 L498.6,451.0 L499.3,451.0 L500.0,451.0 L500.6,451.0 L501.3,451.0 L502.0,451.0 L502.6,451.0 L503.3,450.9 L504.0,450.9 L504.7,450.9 L505.3,450.8 L506.0,450.8 L506.7,450.7 L507.4,450.6 L508.0,450.5 L508.7,450.3 L509.4,450.2 L510.0,450.0 L510.7,449.7 L511.4,449.5 L512.1,449.2 L512.7,448.8 L513.4,448.4 L514.1,448.0 L514.7,447.5 L515.4,446.9 L516.1,446.3 L516.8,445.7 L517.4,444.9 L518.1,444.2 L518.8,443.4 L519.5,442.5 L520.1,441.6 L520.8,440.7 L521.5,439.8 L522.1,438.8 L522.8,437.9 L523.5,437.0 L524.2,436.1 L524.8,435.2 L525.5,434.5 L526.2,433.8 L526.8,433.2 L527.5,432.8 L528.2,432.4 L528.9,432.2 L529.5,432.2 L530.2,432.2 L530.9,432.4 L531.5,432.7 L532.2,433.2 L532.9,433.7 L533.6,434.3 L534.2,435.0 L534.9,435.7 L535.6,436.5 L536.3,437.4 L536.9,438.3 L537.6,439.2 L538.3,440.0 L538.9,440.9 L539.6,441.8 L540.3,442.7 L541.0,443.5 L541.6,444.3 L542.3,445.0 L543.0,445.7 L543.6,446.4 L544.3,447.0 L545.0,447.6 L545.7,448.1 L546.3,448.6 L547.0,449.0 L547.7,449.4 L548.4,449.8 L549.0,450.1 L549.7,450.4 L550.4,450.6 L551.0,450.8 L551.7,451.0 L552.4,451.2 L553.1,451.3 L553.7,451.5 L554.4,451.6 L555.1,451.7 L555.7,451.8 L556.4,451.8 L557.1,451.9 L557.8,451.9 L558.4,452.0 L559.1,452.0 L559.8,452.1 L560.5,452.1 L561.1,452.1 L561.8,452.2 L562.5,452.2 L563.1,452.2 L563.8,452.2 L564.5,452.3 L565.2,452.3 L565.8,452.3 L566.5,452.3 L567.2,452.3 L567.8,452.3 L568.5,452.4 L569.2,452.4 L569.9,452.4 L570.5,452.4 L571.2,452.4 L571.9,452.4 L572.6,452.4 L573.2,452.5 L573.9,452.5 L574.6,452.5 L575.2,452.5 L575.9,452.5 L576.6,452.5 L577.3,452.5 L577.9,452.5 L578.6,452.5 L579.3,452.5 L579.9,452.6 L580.6,452.6 L581.3,452.6 L582.0,452.6 L582.6,452.6 L583.3,452.6 L584.0,452.6 L584.7,452.6 L585.3,452.6 L586.0,452.6 L586.7,452.6 L587.3,452.6 L588.0,452.6 L588.7,452.6 L589.4,452.7 L590.0,452.7 L590.7,452.7 L591.4,452.7 L592.0,452.7 L592.7,452.7 L593.4,452.7 L594.1,452.7 L594.7,452.7 L595.4,452.7 L596.1,452.7 L596.7,452.7 L597.4,452.7 L598.1,452.7 L598.8,452.7 L599.4,452.8 L600.1,452.8 L600.8,452.8 L601.5,452.8 L602.1,452.8 L602.8,452.8 L603.5,452.8 L604.1,452.8 L604.8,452.8 L605.5,452.8 L606.2,452.8 L606.8,452.8 L607.5,452.8 L608.2,452.8 L608.8,452.8 L609.5,452.8 L610.2,452.8 L610.9,452.8 L611.5,452.9 L612.2,452.9 L612.9,452.9 L613.6,452.9 L614.2,452.9 L614.9,452.9 L615.6,452.9 L616.2,452.9 L616.9,452.9 L617.6,452.9 L618.3,452.9 L618.9,452.9 L619.6,452.9 L620.3,452.9 L620.9,452.9 L621.6,452.9 L622.3,452.9 L623.0,452.9 L623.6,452.9 L624.3,452.9 L625.0,453.0 L625.7,453.0 L626.3,453.0 L627.0,453.0 L627.7,453.0 L628.3,453.0 L629.0,453.0 L629.7,453.0 L630.4,453.0 L631.0,453.0 L631.7,453.0 L632.4,453.0 L633.0,453.0 L633.7,453.0 L634.4,453.0 L635.1,453.0 L635.7,453.0 L636.4,453.0 L637.1,453.0 L637.8,453.0 L638.4,453.0 L639.1,453.0 L639.8,453.0 L640.4,453.0 L641.1,453.0 L641.8,453.0 L642.5,453.1 L643.1,453.1 L643.8,453.1 L644.5,453.1 L645.1,453.1 L645.8,453.1 L646.5,453.1 L647.2,453.1 L647.8,453.1 L648.5,453.1 L649.2,453.1 L649.9,453.1 L650.5,453.1 L651.2,453.1 L651.9,453.1 L652.5,453.1 L653.2,453.1 L653.9,453.1 L654.6,453.1 L655.2,453.1 L655.9,453.1 L656.6,453.1 L657.2,453.1 L657.9,453.1 L658.6,453.1 L659.3,453.1 L659.9,453.1 L660.6,453.1 L661.3,453.1 L661.9,453.1 L662.6,453.1 L663.3,453.1 L664.0,453.1 L664.6,453.1 L665.3,453.2 L666.0,453.2 L666.7,453.2 L667.3,453.2 L668.0,453.2 L668.7,453.2 L669.3,453.2 L670.0,453.2 L670.7,453.2 L671.4,453.2 L672.0,453.2 L672.7,453.2 L673.4,453.2 L674.0,453.2 L674.7,453.2 L675.4,453.2 L676.1,453.2 L676.7,453.2 L677.4,453.2 L678.1,453.2 L678.8,453.2 L679.4,453.2 L680.1,453.2 L680.8,453.2 L681.4,453.2 L682.1,453.2 L682.8,453.2 L683.5,453.2 L684.1,453.2 L684.8,453.2 L685.5,453.2 L686.1,453.2 L686.8,453.2 L687.5,453.2 L688.2,453.2 L688.8,453.2 L689.5,453.2 L690.2,453.2 L690.9,453.2 L691.5,453.2 L692.2,453.2 L692.9,453.2 L693.5,453.2 L694.2,453.2 L694.9,453.2 L695.6,453.2 L696.2,453.2 L696.9,453.2 L697.6,453.2 L698.2,453.2 L698.9,453.2 L699.6,453.2 L700.3,453.2 L700.9,453.2 L701.6,453.2 L702.3,453.2 L703.0,453.2 L703.6,453.2 L704.3,453.2 L705.0,453.2 L705.6,453.2 L706.3,453.2 L707.0,453.2 L707.7,453.2 L708.3,453.2 L709.0,453.2 L709.7,453.2 L710.3,453.2 L711.0,453.2 L711.7,453.2 L712.4,453.2 L713.0,453.2 L713.7,453.2 L714.4,453.2 L715.1,453.2 L715.7,453.2 L716.4,453.2 L717.1,453.2 L717.7,453.2 L718.4,453.2 L719.1,453.2 L719.8,453.2 L720.4,453.2 L721.1,453.2 L721.8,453.2 L722.4,453.2 L723.1,453.2 L723.8,453.2 L724.5,453.2 L725.1,453.2 L725.8,453.2 L726.5,453.2 L727.1,453.2" fill="none" stroke="#9cecc4" stroke-width="1.5" stroke-linejoin="round"/>
<path d="M122.2,453.3 L122.9,453.3 L123.5,453.3 L124.2,453.3 L124.9,453.3 L125.6,453.3 L126.2,453.3 L126.9,453.3 L127.6,453.3 L128.2,453.3 L128.9,453.3 L129.6,453.3 L130.3,453.3 L130.9,453.3 L131.6,453.3 L132.3,453.3 L133.0,453.3 L133.6,453.3 L134.3,453.3 L135.0,453.3 L135.6,453.3 L136.3,453.3 L137.0,453.3 L137.7,453.3 L138.3,453.3 L139.0,453.3 L139.7,453.3 L140.3,453.3 L141.0,453.3 L141.7,453.3 L142.4,453.3 L143.0,453.3 L143.7,453.3 L144.4,453.3 L145.1,453.3 L145.7,453.3 L146.4,453.3 L147.1,453.3 L147.7,453.3 L148.4,453.3 L149.1,453.3 L149.8,453.3 L150.4,453.3 L151.1,453.3 L151.8,453.3 L152.4,453.3 L153.1,453.3 L153.8,453.3 L154.5,453.3 L155.1,453.3 L155.8,453.3 L156.5,453.3 L157.2,453.3 L157.8,453.3 L158.5,453.3 L159.2,453.3 L159.8,453.3 L160.5,453.3 L161.2,453.3 L161.9,453.3 L162.5,453.3 L163.2,453.3 L163.9,453.3 L164.5,453.3 L165.2,453.3 L165.9,453.3 L166.6,453.3 L167.2,453.3 L167.9,453.3 L168.6,453.3 L169.3,453.3 L169.9,453.3 L170.6,453.3 L171.3,453.3 L171.9,453.3 L172.6,453.3 L173.3,453.3 L174.0,453.3 L174.6,453.3 L175.3,453.3 L176.0,453.3 L176.6,453.3 L177.3,453.3 L178.0,453.3 L178.7,453.3 L179.3,453.3 L180.0,453.3 L180.7,453.3 L181.4,453.3 L182.0,453.3 L182.7,453.3 L183.4,453.3 L184.0,453.3 L184.7,453.3 L185.4,453.3 L186.1,453.3 L186.7,453.3 L187.4,453.3 L188.1,453.3 L188.7,453.3 L189.4,453.3 L190.1,453.3 L190.8,453.3 L191.4,453.3 L192.1,453.3 L192.8,453.3 L193.4,453.3 L194.1,453.3 L194.8,453.3 L195.5,453.3 L196.1,453.3 L196.8,453.3 L197.5,453.3 L198.2,453.3 L198.8,453.3 L199.5,453.3 L200.2,453.3 L200.8,453.3 L201.5,453.3 L202.2,453.3 L202.9,453.3 L203.5,453.3 L204.2,453.3 L204.9,453.3 L205.5,453.3 L206.2,453.3 L206.9,453.3 L207.6,453.3 L208.2,453.3 L208.9,453.3 L209.6,453.3 L210.3,453.3 L210.9,453.3 L211.6,453.3 L212.3,453.3 L212.9,453.3 L213.6,453.3 L214.3,453.3 L215.0,453.3 L215.6,453.3 L216.3,453.3 L217.0,453.3 L217.6,453.3 L218.3,453.3 L219.0,453.3 L219.7,453.3 L220.3,453.3 L221.0,453.3 L221.7,453.3 L222.4,453.3 L223.0,453.3 L223.7,453.3 L224.4,453.3 L225.0,453.3 L225.7,453.3 L226.4,453.3 L227.1,453.3 L227.7,453.3 L228.4,453.3 L229.1,453.3 L229.7,453.3 L230.4,453.3 L231.1,453.3 L231.8,453.2 L232.4,453.2 L233.1,453.2 L233.8,453.2 L234.5,453.2 L235.1,453.2 L235.8,453.2 L236.5,453.2 L237.1,453.2 L237.8,453.2 L238.5,453.2 L239.2,453.2 L239.8,453.2 L240.5,453.2 L241.2,453.2 L241.8,453.2 L242.5,453.2 L243.2,453.2 L243.9,453.2 L244.5,453.2 L245.2,453.2 L245.9,453.2 L246.6,453.2 L247.2,453.2 L247.9,453.2 L248.6,453.2 L249.2,453.2 L249.9,453.2 L250.6,453.2 L251.3,453.2 L251.9,453.2 L252.6,453.2 L253.3,453.2 L253.9,453.2 L254.6,453.2 L255.3,453.2 L256.0,453.2 L256.6,453.2 L257.3,453.2 L258.0,453.2 L258.6,453.2 L259.3,453.2 L260.0,453.2 L260.7,453.2 L261.3,453.2 L262.0,453.2 L262.7,453.2 L263.4,453.2 L264.0,453.2 L264.7,453.2 L265.4,453.2 L266.0,453.2 L266.7,453.2 L267.4,453.2 L268.1,453.2 L268.7,453.2 L269.4,453.2 L270.1,453.2 L270.7,453.2 L271.4,453.2 L272.1,453.2 L272.8,453.2 L273.4,453.2 L274.1,453.2 L274.8,453.1 L275.5,453.1 L276.1,453.1 L276.8,453.1 L277.5,453.1 L278.1,453.1 L278.8,453.1 L279.5,453.1 L280.2,453.1 L280.8,453.0 L281.5,453.0 L282.2,453.0 L282.8,453.0 L283.5,453.0 L284.2,452.9 L284.9,452.9 L285.5,452.9 L286.2,452.9 L286.9,452.9 L287.6,452.8 L288.2,452.8 L288.9,452.8 L289.6,452.8 L290.2,452.7 L290.9,452.7 L291.6,452.7 L292.3,452.6 L292.9,452.6 L293.6,452.6 L294.3,452.5 L294.9,452.5 L295.6,452.5 L296.3,452.4 L297.0,452.4 L297.6,452.4 L298.3,452.3 L299.0,452.3 L299.7,452.2 L300.3,452.2 L301.0,452.1 L301.7,452.1 L302.3,452.1 L303.0,452.0 L303.7,452.0 L304.4,451.9 L305.0,451.9 L305.7,451.8 L306.4,451.7 L307.0,451.7 L307.7,451.6 L308.4,451.6 L309.1,451.5 L309.7,451.4 L310.4,451.4 L311.1,451.3 L311.8,451.3 L312.4,451.2 L313.1,451.1 L313.8,451.0 L314.4,451.0 L315.1,450.9 L315.8,450.8 L316.5,450.7 L317.1,450.7 L317.8,450.6 L318.5,450.5 L319.1,450.4 L319.8,450.3 L320.5,450.3 L321.2,450.2 L321.8,450.1 L322.5,450.0 L323.2,449.9 L323.8,449.8 L324.5,449.7 L325.2,449.6 L325.9,449.5 L326.5,449.4 L327.2,449.3 L327.9,449.2 L328.6,449.1 L329.2,449.0 L329.9,448.9 L330.6,448.8 L331.2,448.7 L331.9,448.5 L332.6,448.4 L333.3,448.3 L333.9,448.2 L334.6,448.1 L335.3,447.9 L335.9,447.8 L336.6,447.6 L337.3,447.5 L338.0,447.3 L338.6,447.2 L339.3,447.0 L340.0,446.8 L340.7,446.6 L341.3,446.4 L342.0,446.2 L342.7,446.0 L343.3,445.8 L344.0,445.6 L344.7,445.4 L345.4,445.1 L346.0,444.8 L346.7,444.6 L347.4,444.3 L348.0,444.0 L348.7,443.7 L349.4,443.3 L350.1,443.0 L350.7,442.6 L351.4,442.2 L352.1,441.8 L352.8,441.4 L353.4,440.9 L354.1,440.4 L354.8,439.9 L355.4,439.3 L356.1,438.7 L356.8,438.1 L357.5,437.4 L358.1,436.6 L358.8,435.8 L359.5,434.9 L360.1,433.9 L360.8,432.8 L361.5,431.6 L362.2,430.2 L362.8,428.7 L363.5,427.0 L364.2,425.0 L364.9,422.8 L365.5,420.2 L366.2,417.3 L366.9,414.0 L367.5,410.2 L368.2,406.0 L368.9,401.1 L369.6,395.6 L370.2,389.3 L370.9,382.3 L371.6,374.5 L372.2,365.8 L372.9,356.2 L373.6,345.7 L374.3,334.2 L374.9,321.7 L375.6,308.4 L376.3,294.1 L377.0,279.1 L377.6,263.4 L378.3,247.1 L379.0,230.5 L379.6,213.8 L380.3,197.2 L381.0,181.2 L381.7,166.0 L382.3,152.1 L383.0,140.1 L383.7,130.2 L384.3,123.0 L385.0,118.8 L385.7,117.7 L386.4,119.3 L387.0,123.0 L387.7,128.9 L388.4,136.7 L389.1,146.2 L389.7,157.1 L390.4,169.1 L391.1,181.9 L391.7,195.3 L392.4,209.1 L393.1,223.0 L393.8,236.9 L394.4,250.6 L395.1,263.9 L395.8,276.8 L396.4,289.2 L397.1,300.9 L397.8,312.0 L398.5,322.3 L399.1,331.9 L399.8,340.7 L400.5,348.7 L401.1,355.9 L401.8,362.2 L402.5,367.6 L403.2,372.3 L403.8,376.0 L404.5,379.0 L405.2,381.0 L405.9,382.3 L406.5,382.7 L407.2,382.4 L407.9,381.2 L408.5,379.4 L409.2,376.9 L409.9,373.7 L410.6,370.0 L411.2,365.9 L411.9,361.5 L412.6,356.8 L413.2,352.1 L413.9,347.5 L414.6,343.3 L415.3,339.6 L415.9,336.6 L416.6,334.5 L417.3,333.6 L418.0,333.9 L418.6,334.9 L419.3,336.4 L420.0,338.3 L420.6,340.6 L421.3,343.3 L422.0,346.4 L422.7,349.8 L423.3,353.4 L424.0,357.2 L424.7,361.2 L425.3,365.2 L426.0,369.3 L426.7,373.5 L427.4,377.6 L428.0,381.7 L428.7,385.8 L429.4,389.7 L430.1,393.5 L430.7,397.2 L431.4,400.8 L432.1,404.2 L432.7,407.4 L433.4,410.5 L434.1,413.4 L434.8,416.1 L435.4,418.7 L436.1,421.0 L436.8,423.3 L437.4,425.3 L438.1,427.2 L438.8,429.0 L439.5,430.6 L440.1,432.1 L440.8,433.4 L441.5,434.6 L442.2,435.8 L442.8,436.8 L443.5,437.7 L444.2,438.5 L444.8,439.3 L445.5,440.0 L446.2,440.7 L446.9,441.2 L447.5,441.8 L448.2,442.2 L448.9,442.7 L449.5,443.1 L450.2,443.5 L450.9,443.8 L451.6,444.1 L452.2,444.4 L452.9,444.7 L453.6,445.0 L454.3,445.2 L454.9,445.4 L455.6,445.6 L456.3,445.8 L456.9,446.0 L457.6,446.2 L458.3,446.4 L459.0,446.5 L459.6,446.7 L460.3,446.9 L461.0,447.0 L461.6,447.1 L462.3,447.3 L463.0,447.4 L463.7,447.5 L464.3,447.7 L465.0,447.8 L465.7,447.9 L466.3,448.0 L467.0,448.1 L467.7,448.2 L468.4,448.3 L469.0,448.4 L469.7,448.5 L470.4,448.6 L471.1,448.6 L471.7,448.7 L472.4,448.8 L473.1,448.9 L473.7,449.0 L474.4,449.0 L475.1,449.1 L475.8,449.2 L476.4,449.2 L477.1,449.3 L477.8,449.4 L478.4,449.4 L479.1,449.5 L479.8,449.5 L480.5,449.6 L481.1,449.6 L481.8,449.7 L482.5,449.7 L483.2,449.8 L483.8,449.8 L484.5,449.9 L485.2,449.9 L485.8,449.9 L486.5,450.0 L487.2,450.0 L487.9,450.1 L488.5,450.1 L489.2,450.1 L489.9,450.2 L490.5,450.2 L491.2,450.2 L491.9,450.2 L492.6,450.3 L493.2,450.3 L493.9,450.3 L494.6,450.3 L495.3,450.4 L495.9,450.4 L496.6,450.4 L497.3,450.4 L497.9,450.4 L498.6,450.4 L499.3,450.4 L500.0,450.4 L500.6,450.5 L501.3,450.5 L502.0,450.5 L502.6,450.5 L503.3,450.5 L504.0,450.4 L504.7,450.4 L505.3,450.4 L506.0,450.4 L506.7,450.4 L507.4,450.3 L508.0,450.3 L508.7,450.2 L509.4,450.1 L510.0,450.0 L510.7,449.9 L511.4,449.7 L512.1,449.5 L512.7,449.3 L513.4,449.0 L514.1,448.7 L514.7,448.3 L515.4,447.8 L516.1,447.2 L516.8,446.5 L517.4,445.7 L518.1,444.8 L518.8,443.8 L519.5,442.6 L520.1,441.3 L520.8,439.8 L521.5,438.2 L522.1,436.5 L522.8,434.5 L523.5,432.5 L524.2,430.3 L524.8,428.1 L525.5,425.7 L526.2,423.3 L526.8,420.9 L527.5,418.5 L528.2,416.2 L528.9,413.9 L529.5,411.9 L530.2,410.0 L530.9,408.4 L531.5,407.1 L532.2,406.1 L532.9,405.6 L533.6,405.4 L534.2,405.6 L534.9,406.1 L535.6,406.9 L536.3,408.0 L536.9,409.4 L537.6,411.1 L538.3,412.9 L538.9,414.9 L539.6,417.0 L540.3,419.1 L541.0,421.4 L541.6,423.6 L542.3,425.8 L543.0,428.0 L543.6,430.1 L544.3,432.2 L545.0,434.1 L545.7,436.0 L546.3,437.7 L547.0,439.3 L547.7,440.7 L548.4,442.1 L549.0,443.3 L549.7,444.4 L550.4,445.4 L551.0,446.2 L551.7,447.0 L552.4,447.7 L553.1,448.3 L553.7,448.8 L554.4,449.2 L555.1,449.6 L555.7,449.9 L556.4,450.2 L557.1,450.4 L557.8,450.6 L558.4,450.8 L559.1,450.9 L559.8,451.1 L560.5,451.2 L561.1,451.3 L561.8,451.4 L562.5,451.4 L563.1,451.5 L563.8,451.6 L564.5,451.6 L565.2,451.7 L565.8,451.7 L566.5,451.7 L567.2,451.8 L567.8,451.8 L568.5,451.8 L569.2,451.9 L569.9,451.9 L570.5,451.9 L571.2,452.0 L571.9,452.0 L572.6,452.0 L573.2,452.0 L573.9,452.1 L574.6,452.1 L575.2,452.1 L575.9,452.1 L576.6,452.1 L577.3,452.2 L577.9,452.2 L578.6,452.2 L579.3,452.2 L579.9,452.2 L580.6,452.2 L581.3,452.3 L582.0,452.3 L582.6,452.3 L583.3,452.3 L584.0,452.3 L584.7,452.3 L585.3,452.3 L586.0,452.3 L586.7,452.4 L587.3,452.4 L588.0,452.4 L588.7,452.4 L589.4,452.4 L590.0,452.4 L590.7,452.4 L591.4,452.4 L592.0,452.5 L592.7,452.5 L593.4,452.5 L594.1,452.5 L594.7,452.5 L595.4,452.5 L596.1,452.5 L596.7,452.5 L597.4,452.5 L598.1,452.5 L598.8,452.6 L599.4,452.6 L600.1,452.6 L600.8,452.6 L601.5,452.6 L602.1,452.6 L602.8,452.6 L603.5,452.6 L604.1,452.6 L604.8,452.6 L605.5,452.6 L606.2,452.6 L606.8,452.7 L607.5,452.7 L608.2,452.7 L608.8,452.7 L609.5,452.7 L610.2,452.7 L610.9,452.7 L611.5,452.7 L612.2,452.7 L612.9,452.7 L613.6,452.7 L614.2,452.7 L614.9,452.7 L615.6,452.8 L616.2,452.8 L616.9,452.8 L617.6,452.8 L618.3,452.8 L618.9,452.8 L619.6,452.8 L620.3,452.8 L620.9,452.8 L621.6,452.8 L622.3,452.8 L623.0,452.8 L623.6,452.8 L624.3,452.8 L625.0,452.8 L625.7,452.9 L626.3,452.9 L627.0,452.9 L627.7,452.9 L628.3,452.9 L629.0,452.9 L629.7,452.9 L630.4,452.9 L631.0,452.9 L631.7,452.9 L632.4,452.9 L633.0,452.9 L633.7,452.9 L634.4,452.9 L635.1,452.9 L635.7,452.9 L636.4,452.9 L637.1,452.9 L637.8,452.9 L638.4,453.0 L639.1,453.0 L639.8,453.0 L640.4,453.0 L641.1,453.0 L641.8,453.0 L642.5,453.0 L643.1,453.0 L643.8,453.0 L644.5,453.0 L645.1,453.0 L645.8,453.0 L646.5,453.0 L647.2,453.0 L647.8,453.0 L648.5,453.0 L649.2,453.0 L649.9,453.0 L650.5,453.0 L651.2,453.0 L651.9,453.0 L652.5,453.0 L653.2,453.0 L653.9,453.1 L654.6,453.1 L655.2,453.1 L655.9,453.1 L656.6,453.1 L657.2,453.1 L657.9,453.1 L658.6,453.1 L659.3,453.1 L659.9,453.1 L660.6,453.1 L661.3,453.1 L661.9,453.1 L662.6,453.1 L663.3,453.1 L664.0,453.1 L664.6,453.1 L665.3,453.1 L666.0,453.1 L666.7,453.1 L667.3,453.1 L668.0,453.1 L668.7,453.1 L669.3,453.1 L670.0,453.1 L670.7,453.1 L671.4,453.1 L672.0,453.1 L672.7,453.1 L673.4,453.1 L674.0,453.1 L674.7,453.1 L675.4,453.1 L676.1,453.2 L676.7,453.2 L677.4,453.2 L678.1,453.2 L678.8,453.2 L679.4,453.2 L680.1,453.2 L680.8,453.2 L681.4,453.2 L682.1,453.2 L682.8,453.2 L683.5,453.2 L684.1,453.2 L684.8,453.2 L685.5,453.2 L686.1,453.2 L686.8,453.2 L687.5,453.2 L688.2,453.2 L688.8,453.2 L689.5,453.2 L690.2,453.2 L690.9,453.2 L691.5,453.2 L692.2,453.2 L692.9,453.2 L693.5,453.2 L694.2,453.2 L694.9,453.2 L695.6,453.2 L696.2,453.2 L696.9,453.2 L697.6,453.2 L698.2,453.2 L698.9,453.2 L699.6,453.2 L700.3,453.2 L700.9,453.2 L701.6,453.2 L702.3,453.2 L703.0,453.2 L703.6,453.2 L704.3,453.2 L705.0,453.2 L705.6,453.2 L706.3,453.2 L707.0,453.2 L707.7,453.2 L708.3,453.2 L709.0,453.2 L709.7,453.2 L710.3,453.2 L711.0,453.2 L711.7,453.2 L712.4,453.2 L713.0,453.2 L713.7,453.2 L714.4,453.2 L715.1,453.2 L715.7,453.2 L716.4,453.2 L717.1,453.2 L717.7,453.2 L718.4,453.2 L719.1,453.2 L719.8,453.2 L720.4,453.2 L721.1,453.2 L721.8,453.2 L722.4,453.2 L723.1,453.2 L723.8,453.2 L724.5,453.2 L725.1,453.2 L725.8,453.2 L726.5,453.2 L727.1,453.2" fill="none" stroke="#b4c236" stroke-width="1.6" stroke-linejoin="round"/>
<path d="M122.2,453.3 L122.9,453.3 L123.5,453.3 L124.2,453.3 L124.9,453.3 L125.6,453.3 L126.2,453.3 L126.9,453.3 L127.6,453.3 L128.2,453.3 L128.9,453.3 L129.6,453.3 L130.3,453.3 L130.9,453.3 L131.6,453.3 L132.3,453.3 L133.0,453.3 L133.6,453.3 L134.3,453.3 L135.0,453.3 L135.6,453.3 L136.3,453.3 L137.0,453.3 L137.7,453.3 L138.3,453.3 L139.0,453.3 L139.7,453.3 L140.3,453.3 L141.0,453.3 L141.7,453.3 L142.4,453.3 L143.0,453.3 L143.7,453.3 L144.4,453.3 L145.1,453.3 L145.7,453.3 L146.4,453.3 L147.1,453.3 L147.7,453.3 L148.4,453.3 L149.1,453.3 L149.8,453.3 L150.4,453.3 L151.1,453.3 L151.8,453.3 L152.4,453.3 L153.1,453.3 L153.8,453.3 L154.5,453.3 L155.1,453.3 L155.8,453.3 L156.5,453.3 L157.2,453.3 L157.8,453.3 L158.5,453.3 L159.2,453.3 L159.8,453.3 L160.5,453.3 L161.2,453.3 L161.9,453.3 L162.5,453.3 L163.2,453.3 L163.9,453.3 L164.5,453.3 L165.2,453.3 L165.9,453.3 L166.6,453.3 L167.2,453.3 L167.9,453.3 L168.6,453.3 L169.3,453.3 L169.9,453.3 L170.6,453.3 L171.3,453.3 L171.9,453.3 L172.6,453.3 L173.3,453.3 L174.0,453.3 L174.6,453.3 L175.3,453.3 L176.0,453.3 L176.6,453.3 L177.3,453.3 L178.0,453.3 L178.7,453.3 L179.3,453.3 L180.0,453.3 L180.7,453.3 L181.4,453.3 L182.0,453.3 L182.7,453.3 L183.4,453.3 L184.0,453.3 L184.7,453.3 L185.4,453.3 L186.1,453.3 L186.7,453.3 L187.4,453.3 L188.1,453.3 L188.7,453.3 L189.4,453.3 L190.1,453.3 L190.8,453.3 L191.4,453.3 L192.1,453.3 L192.8,453.3 L193.4,453.3 L194.1,453.3 L194.8,453.3 L195.5,453.3 L196.1,453.3 L196.8,453.3 L197.5,453.3 L198.2,453.3 L198.8,453.3 L199.5,453.3 L200.2,453.3 L200.8,453.3 L201.5,453.3 L202.2,453.3 L202.9,453.3 L203.5,453.3 L204.2,453.3 L204.9,453.3 L205.5,453.3 L206.2,453.3 L206.9,453.3 L207.6,453.3 L208.2,453.3 L208.9,453.3 L209.6,453.3 L210.3,453.3 L210.9,453.3 L211.6,453.3 L212.3,453.3 L212.9,453.3 L213.6,453.3 L214.3,453.3 L215.0,453.3 L215.6,453.3 L216.3,453.3 L217.0,453.3 L217.6,453.3 L218.3,453.3 L219.0,453.3 L219.7,453.3 L220.3,453.3 L221.0,453.3 L221.7,453.3 L222.4,453.3 L223.0,453.3 L223.7,453.3 L224.4,453.3 L225.0,453.3 L225.7,453.3 L226.4,453.3 L227.1,453.3 L227.7,453.3 L228.4,453.3 L229.1,453.3 L229.7,453.3 L230.4,453.3 L231.1,453.3 L231.8,453.3 L232.4,453.3 L233.1,453.3 L233.8,453.3 L234.5,453.3 L235.1,453.3 L235.8,453.3 L236.5,453.3 L237.1,453.3 L237.8,453.3 L238.5,453.3 L239.2,453.3 L239.8,453.3 L240.5,453.3 L241.2,453.3 L241.8,453.3 L242.5,453.3 L243.2,453.3 L243.9,453.3 L244.5,453.3 L245.2,453.3 L245.9,453.3 L246.6,453.3 L247.2,453.3 L247.9,453.3 L248.6,453.3 L249.2,453.3 L249.9,453.3 L250.6,453.3 L251.3,453.3 L251.9,453.3 L252.6,453.3 L253.3,453.3 L253.9,453.3 L254.6,453.3 L255.3,453.3 L256.0,453.3 L256.6,453.3 L257.3,453.3 L258.0,453.3 L258.6,453.3 L259.3,453.3 L260.0,453.3 L260.7,453.3 L261.3,453.3 L262.0,453.3 L262.7,453.2 L263.4,453.2 L264.0,453.2 L264.7,453.2 L265.4,453.2 L266.0,453.2 L266.7,453.2 L267.4,453.2 L268.1,453.2 L268.7,453.2 L269.4,453.2 L270.1,453.2 L270.7,453.2 L271.4,453.2 L272.1,453.2 L272.8,453.2 L273.4,453.2 L274.1,453.2 L274.8,453.2 L275.5,453.2 L276.1,453.2 L276.8,453.2 L277.5,453.2 L278.1,453.2 L278.8,453.2 L279.5,453.2 L280.2,453.2 L280.8,453.1 L281.5,453.1 L282.2,453.1 L282.8,453.1 L283.5,453.1 L284.2,453.1 L284.9,453.1 L285.5,453.1 L286.2,453.0 L286.9,453.0 L287.6,453.0 L288.2,453.0 L288.9,453.0 L289.6,453.0 L290.2,453.0 L290.9,452.9 L291.6,452.9 L292.3,452.9 L292.9,452.9 L293.6,452.9 L294.3,452.8 L294.9,452.8 L295.6,452.8 L296.3,452.8 L297.0,452.8 L297.6,452.7 L298.3,452.7 L299.0,452.7 L299.7,452.7 L300.3,452.6 L301.0,452.6 L301.7,452.6 L302.3,452.6 L303.0,452.5 L303.7,452.5 L304.4,452.5 L305.0,452.4 L305.7,452.4 L306.4,452.4 L307.0,452.3 L307.7,452.3 L308.4,452.3 L309.1,452.2 L309.7,452.2 L310.4,452.2 L311.1,452.1 L311.8,452.1 L312.4,452.1 L313.1,452.0 L313.8,452.0 L314.4,452.0 L315.1,451.9 L315.8,451.9 L316.5,451.8 L317.1,451.8 L317.8,451.8 L318.5,451.7 L319.1,451.7 L319.8,451.6 L320.5,451.6 L321.2,451.5 L321.8,451.5 L322.5,451.4 L323.2,451.4 L323.8,451.3 L324.5,451.3 L325.2,451.2 L325.9,451.2 L326.5,451.2 L327.2,451.1 L327.9,451.1 L328.6,451.0 L329.2,451.0 L329.9,450.9 L330.6,450.8 L331.2,450.8 L331.9,450.7 L332.6,450.7 L333.3,450.6 L333.9,450.6 L334.6,450.5 L335.3,450.5 L335.9,450.4 L336.6,450.3 L337.3,450.3 L338.0,450.2 L338.6,450.1 L339.3,450.1 L340.0,450.0 L340.7,449.9 L341.3,449.8 L342.0,449.8 L342.7,449.7 L343.3,449.6 L344.0,449.5 L344.7,449.4 L345.4,449.3 L346.0,449.2 L346.7,449.1 L347.4,449.0 L348.0,448.9 L348.7,448.8 L349.4,448.6 L350.1,448.5 L350.7,448.4 L351.4,448.2 L352.1,448.1 L352.8,447.9 L353.4,447.8 L354.1,447.6 L354.8,447.4 L355.4,447.3 L356.1,447.1 L356.8,446.9 L357.5,446.7 L358.1,446.5 L358.8,446.2 L359.5,446.0 L360.1,445.7 L360.8,445.5 L361.5,445.2 L362.2,444.9 L362.8,444.6 L363.5,444.2 L364.2,443.9 L364.9,443.5 L365.5,443.1 L366.2,442.6 L366.9,442.1 L367.5,441.6 L368.2,441.0 L368.9,440.4 L369.6,439.7 L370.2,438.9 L370.9,438.0 L371.6,437.0 L372.2,435.8 L372.9,434.4 L373.6,432.9 L374.3,431.1 L374.9,429.1 L375.6,426.7 L376.3,424.0 L377.0,420.8 L377.6,417.2 L378.3,413.1 L379.0,408.3 L379.6,402.9 L380.3,396.8 L381.0,389.9 L381.7,382.2 L382.3,373.6 L383.0,364.1 L383.7,353.7 L384.3,342.4 L385.0,330.1 L385.7,317.0 L386.4,303.1 L387.0,288.4 L387.7,273.0 L388.4,257.2 L389.1,241.1 L389.7,224.8 L390.4,208.6 L391.1,192.7 L391.7,177.6 L392.4,163.4 L393.1,150.5 L393.8,139.4 L394.4,130.3 L395.1,123.5 L395.8,119.2 L396.4,117.7 L397.1,118.5 L397.8,121.0 L398.5,125.1 L399.1,130.8 L399.8,138.0 L400.5,146.4 L401.1,155.8 L401.8,166.2 L402.5,177.3 L403.2,188.9 L403.8,200.9 L404.5,213.1 L405.2,225.4 L405.9,237.5 L406.5,249.5 L407.2,261.1 L407.9,272.3 L408.5,282.9 L409.2,293.0 L409.9,302.4 L410.6,311.0 L411.2,318.9 L411.9,326.0 L412.6,332.3 L413.2,337.7 L413.9,342.4 L414.6,346.2 L415.3,349.3 L415.9,351.7 L416.6,353.4 L417.3,354.6 L418.0,355.2 L418.6,355.4 L419.3,355.3 L420.0,354.9 L420.6,354.5 L421.3,354.0 L422.0,353.7 L422.7,353.6 L423.3,353.8 L424.0,354.5 L424.7,355.7 L425.3,357.2 L426.0,359.0 L426.7,361.0 L427.4,363.2 L428.0,365.6 L428.7,368.2 L429.4,371.0 L430.1,374.0 L430.7,377.0 L431.4,380.2 L432.1,383.4 L432.7,386.7 L433.4,389.9 L434.1,393.2 L434.8,396.5 L435.4,399.7 L436.1,402.8 L436.8,405.8 L437.4,408.8 L438.1,411.6 L438.8,414.4 L439.5,417.0 L440.1,419.4 L440.8,421.8 L441.5,424.0 L442.2,426.0 L442.8,427.9 L443.5,429.7 L444.2,431.4 L444.8,432.9 L445.5,434.3 L446.2,435.6 L446.9,436.8 L447.5,437.9 L448.2,438.9 L448.9,439.8 L449.5,440.6 L450.2,441.4 L450.9,442.0 L451.6,442.6 L452.2,443.2 L452.9,443.7 L453.6,444.1 L454.3,444.5 L454.9,444.9 L455.6,445.3 L456.3,445.6 L456.9,445.9 L457.6,446.1 L458.3,446.4 L459.0,446.6 L459.6,446.8 L460.3,447.0 L461.0,447.2 L461.6,447.3 L462.3,447.5 L463.0,447.6 L463.7,447.8 L464.3,447.9 L465.0,448.1 L465.7,448.2 L466.3,448.3 L467.0,448.4 L467.7,448.5 L468.4,448.6 L469.0,448.7 L469.7,448.8 L470.4,448.9 L471.1,449.0 L471.7,449.1 L472.4,449.2 L473.1,449.3 L473.7,449.3 L474.4,449.4 L475.1,449.5 L475.8,449.6 L476.4,449.6 L477.1,449.7 L477.8,449.8 L478.4,449.8 L479.1,449.9 L479.8,449.9 L480.5,450.0 L481.1,450.0 L481.8,450.1 L482.5,450.2 L483.2,450.2 L483.8,450.3 L484.5,450.3 L485.2,450.4 L485.8,450.4 L486.5,450.4 L487.2,450.5 L487.9,450.5 L488.5,450.6 L489.2,450.6 L489.9,450.6 L490.5,450.7 L491.2,450.7 L491.9,450.8 L492.6,450.8 L493.2,450.8 L493.9,450.9 L494.6,450.9 L495.3,450.9 L495.9,450.9 L496.6,451.0 L497.3,451.0 L497.9,451.0 L498.6,451.0 L499.3,451.1 L500.0,451.1 L500.6,451.1 L501.3,451.1 L502.0,451.1 L502.6,451.2 L503.3,451.2 L504.0,451.2 L504.7,451.2 L505.3,451.2 L506.0,451.2 L506.7,451.2 L507.4,451.2 L508.0,451.2 L508.7,451.2 L509.4,451.2 L510.0,451.1 L510.7,451.1 L511.4,451.1 L512.1,451.0 L512.7,451.0 L513.4,450.9 L514.1,450.8 L514.7,450.7 L515.4,450.7 L516.1,450.5 L516.8,450.4 L517.4,450.3 L518.1,450.1 L518.8,450.0 L519.5,449.8 L520.1,449.6 L520.8,449.3 L521.5,449.1 L522.1,448.9 L522.8,448.6 L523.5,448.3 L524.2,448.0 L524.8,447.7 L525.5,447.4 L526.2,447.0 L526.8,446.7 L527.5,446.4 L528.2,446.0 L528.9,445.7 L529.5,445.3 L530.2,445.0 L530.9,444.7 L531.5,444.4 L532.2,444.1 L532.9,443.8 L533.6,443.6 L534.2,443.4 L534.9,443.2 L535.6,443.1 L536.3,443.0 L536.9,442.9 L537.6,442.9 L538.3,443.0 L538.9,443.0 L539.6,443.1 L540.3,443.2 L541.0,443.3 L541.6,443.4 L542.3,443.6 L543.0,443.8 L543.6,443.9 L544.3,444.2 L545.0,444.4 L545.7,444.6 L546.3,444.9 L547.0,445.1 L547.7,445.4 L548.4,445.6 L549.0,445.9 L549.7,446.2 L550.4,446.5 L551.0,446.7 L551.7,447.0 L552.4,447.3 L553.1,447.5 L553.7,447.8 L554.4,448.1 L555.1,448.3 L555.7,448.6 L556.4,448.8 L557.1,449.0 L557.8,449.3 L558.4,449.5 L559.1,449.7 L559.8,449.9 L560.5,450.1 L561.1,450.3 L561.8,450.4 L562.5,450.6 L563.1,450.7 L563.8,450.9 L564.5,451.0 L565.2,451.1 L565.8,451.2 L566.5,451.4 L567.2,451.5 L567.8,451.6 L568.5,451.6 L569.2,451.7 L569.9,451.8 L570.5,451.9 L571.2,451.9 L571.9,452.0 L572.6,452.0 L573.2,452.1 L573.9,452.1 L574.6,452.2 L575.2,452.2 L575.9,452.3 L576.6,452.3 L577.3,452.3 L577.9,452.3 L578.6,452.4 L579.3,452.4 L579.9,452.4 L580.6,452.4 L581.3,452.5 L582.0,452.5 L582.6,452.5 L583.3,452.5 L584.0,452.5 L584.7,452.5 L585.3,452.5 L586.0,452.6 L586.7,452.6 L587.3,452.6 L588.0,452.6 L588.7,452.6 L589.4,452.6 L590.0,452.6 L590.7,452.6 L591.4,452.6 L592.0,452.6 L592.7,452.6 L593.4,452.7 L594.1,452.7 L594.7,452.7 L595.4,452.7 L596.1,452.7 L596.7,452.7 L597.4,452.7 L598.1,452.7 L598.8,452.7 L599.4,452.7 L600.1,452.7 L600.8,452.7 L601.5,452.7 L602.1,452.8 L602.8,452.8 L603.5,452.8 L604.1,452.8 L604.8,452.8 L605.5,452.8 L606.2,452.8 L606.8,452.8 L607.5,452.8 L608.2,452.8 L608.8,452.8 L609.5,452.8 L610.2,452.8 L610.9,452.8 L611.5,452.8 L612.2,452.8 L612.9,452.8 L613.6,452.9 L614.2,452.9 L614.9,452.9 L615.6,452.9 L616.2,452.9 L616.9,452.9 L617.6,452.9 L618.3,452.9 L618.9,452.9 L619.6,452.9 L620.3,452.9 L620.9,452.9 L621.6,452.9 L622.3,452.9 L623.0,452.9 L623.6,452.9 L624.3,452.9 L625.0,452.9 L625.7,452.9 L626.3,453.0 L627.0,453.0 L627.7,453.0 L628.3,453.0 L629.0,453.0 L629.7,453.0 L630.4,453.0 L631.0,453.0 L631.7,453.0 L632.4,453.0 L633.0,453.0 L633.7,453.0 L634.4,453.0 L635.1,453.0 L635.7,453.0 L636.4,453.0 L637.1,453.0 L637.8,453.0 L638.4,453.0 L639.1,453.0 L639.8,453.0 L640.4,453.0 L641.1,453.0 L641.8,453.0 L642.5,453.1 L643.1,453.1 L643.8,453.1 L644.5,453.1 L645.1,453.1 L645.8,453.1 L646.5,453.1 L647.2,453.1 L647.8,453.1 L648.5,453.1 L649.2,453.1 L649.9,453.1 L650.5,453.1 L651.2,453.1 L651.9,453.1 L652.5,453.1 L653.2,453.1 L653.9,453.1 L654.6,453.1 L655.2,453.1 L655.9,453.1 L656.6,453.1 L657.2,453.1 L657.9,453.1 L658.6,453.1 L659.3,453.1 L659.9,453.1 L660.6,453.1 L661.3,453.1 L661.9,453.1 L662.6,453.1 L663.3,453.1 L664.0,453.1 L664.6,453.1 L665.3,453.2 L666.0,453.2 L666.7,453.2 L667.3,453.2 L668.0,453.2 L668.7,453.2 L669.3,453.2 L670.0,453.2 L670.7,453.2 L671.4,453.2 L672.0,453.2 L672.7,453.2 L673.4,453.2 L674.0,453.2 L674.7,453.2 L675.4,453.2 L676.1,453.2 L676.7,453.2 L677.4,453.2 L678.1,453.2 L678.8,453.2 L679.4,453.2 L680.1,453.2 L680.8,453.2 L681.4,453.2 L682.1,453.2 L682.8,453.2 L683.5,453.2 L684.1,453.2 L684.8,453.2 L685.5,453.2 L686.1,453.2 L686.8,453.2 L687.5,453.2 L688.2,453.2 L688.8,453.2 L689.5,453.2 L690.2,453.2 L690.9,453.2 L691.5,453.2 L692.2,453.2 L692.9,453.2 L693.5,453.2 L694.2,453.2 L694.9,453.2 L695.6,453.2 L696.2,453.2 L696.9,453.2 L697.6,453.2 L698.2,453.2 L698.9,453.2 L699.6,453.2 L700.3,453.2 L700.9,453.2 L701.6,453.2 L702.3,453.2 L703.0,453.2 L703.6,453.2 L704.3,453.2 L705.0,453.2 L705.6,453.2 L706.3,453.2 L707.0,453.2 L707.7,453.2 L708.3,453.2 L709.0,453.2 L709.7,453.2 L710.3,453.2 L711.0,453.2 L711.7,453.2 L712.4,453.2 L713.0,453.2 L713.7,453.2 L714.4,453.2 L715.1,453.2 L715.7,453.2 L716.4,453.2 L717.1,453.2 L717.7,453.2 L718.4,453.2 L719.1,453.2 L719.8,453.2 L720.4,453.2 L721.1,453.2 L721.8,453.2 L722.4,453.2 L723.1,453.2 L723.8,453.2 L724.5,453.2 L725.1,453.2 L725.8,453.2 L726.5,453.2 L727.1,453.2" fill="none" stroke="#e6ea3a" stroke-width="1.5" stroke-linejoin="round"/>
<path d="M122.2,453.3 L122.9,453.3 L123.5,453.3 L124.2,453.3 L124.9,453.3 L125.6,453.3 L126.2,453.3 L126.9,453.3 L127.6,453.3 L128.2,453.3 L128.9,453.3 L129.6,453.3 L130.3,453.3 L130.9,453.3 L131.6,453.3 L132.3,453.3 L133.0,453.3 L133.6,453.3 L134.3,453.3 L135.0,453.3 L135.6,453.3 L136.3,453.3 L137.0,453.3 L137.7,453.3 L138.3,453.3 L139.0,453.3 L139.7,453.3 L140.3,453.3 L141.0,453.3 L141.7,453.3 L142.4,453.3 L143.0,453.3 L143.7,453.3 L144.4,453.3 L145.1,453.3 L145.7,453.3 L146.4,453.3 L147.1,453.3 L147.7,453.3 L148.4,453.3 L149.1,453.3 L149.8,453.3 L150.4,453.3 L151.1,453.3 L151.8,453.3 L152.4,453.3 L153.1,453.3 L153.8,453.3 L154.5,453.3 L155.1,453.3 L155.8,453.3 L156.5,453.3 L157.2,453.3 L157.8,453.3 L158.5,453.3 L159.2,453.3 L159.8,453.3 L160.5,453.3 L161.2,453.3 L161.9,453.3 L162.5,453.3 L163.2,453.3 L163.9,453.3 L164.5,453.3 L165.2,453.3 L165.9,453.3 L166.6,453.3 L167.2,453.3 L167.9,453.3 L168.6,453.3 L169.3,453.3 L169.9,453.3 L170.6,453.3 L171.3,453.3 L171.9,453.3 L172.6,453.3 L173.3,453.3 L174.0,453.3 L174.6,453.3 L175.3,453.3 L176.0,453.3 L176.6,453.3 L177.3,453.3 L178.0,453.3 L178.7,453.3 L179.3,453.3 L180.0,453.3 L180.7,453.3 L181.4,453.3 L182.0,453.3 L182.7,453.3 L183.4,453.3 L184.0,453.3 L184.7,453.3 L185.4,453.3 L186.1,453.3 L186.7,453.3 L187.4,453.3 L188.1,453.3 L188.7,453.3 L189.4,453.3 L190.1,453.3 L190.8,453.3 L191.4,453.3 L192.1,453.3 L192.8,453.3 L193.4,453.3 L194.1,453.3 L194.8,453.3 L195.5,453.3 L196.1,453.3 L196.8,453.2 L197.5,453.2 L198.2,453.2 L198.8,453.2 L199.5,453.2 L200.2,453.2 L200.8,453.2 L201.5,453.2 L202.2,453.2 L202.9,453.2 L203.5,453.2 L204.2,453.2 L204.9,453.2 L205.5,453.2 L206.2,453.2 L206.9,453.2 L207.6,453.2 L208.2,453.2 L208.9,453.2 L209.6,453.2 L210.3,453.2 L210.9,453.2 L211.6,453.2 L212.3,453.2 L212.9,453.2 L213.6,453.2 L214.3,453.2 L215.0,453.2 L215.6,453.2 L216.3,453.2 L217.0,453.2 L217.6,453.2 L218.3,453.2 L219.0,453.2 L219.7,453.2 L220.3,453.2 L221.0,453.2 L221.7,453.2 L222.4,453.2 L223.0,453.2 L223.7,453.2 L224.4,453.2 L225.0,453.2 L225.7,453.2 L226.4,453.2 L227.1,453.2 L227.7,453.2 L228.4,453.2 L229.1,453.2 L229.7,453.2 L230.4,453.2 L231.1,453.2 L231.8,453.2 L232.4,453.2 L233.1,453.2 L233.8,453.2 L234.5,453.2 L235.1,453.2 L235.8,453.2 L236.5,453.2 L237.1,453.2 L237.8,453.2 L238.5,453.2 L239.2,453.2 L239.8,453.2 L240.5,453.2 L241.2,453.2 L241.8,453.2 L242.5,453.2 L243.2,453.2 L243.9,453.2 L244.5,453.2 L245.2,453.2 L245.9,453.2 L246.6,453.2 L247.2,453.2 L247.9,453.2 L248.6,453.2 L249.2,453.2 L249.9,453.2 L250.6,453.2 L251.3,453.2 L251.9,453.2 L252.6,453.2 L253.3,453.2 L253.9,453.2 L254.6,453.2 L255.3,453.2 L256.0,453.2 L256.6,453.2 L257.3,453.2 L258.0,453.2 L258.6,453.2 L259.3,453.2 L260.0,453.2 L260.7,453.2 L261.3,453.2 L262.0,453.2 L262.7,453.2 L263.4,453.2 L264.0,453.1 L264.7,453.1 L265.4,453.1 L266.0,453.1 L266.7,453.1 L267.4,453.1 L268.1,453.1 L268.7,453.1 L269.4,453.1 L270.1,453.1 L270.7,453.1 L271.4,453.1 L272.1,453.1 L272.8,453.1 L273.4,453.1 L274.1,453.1 L274.8,453.1 L275.5,453.0 L276.1,453.0 L276.8,453.0 L277.5,453.0 L278.1,453.0 L278.8,453.0 L279.5,452.9 L280.2,452.9 L280.8,452.9 L281.5,452.9 L282.2,452.9 L282.8,452.8 L283.5,452.8 L284.2,452.8 L284.9,452.7 L285.5,452.7 L286.2,452.7 L286.9,452.6 L287.6,452.6 L288.2,452.6 L288.9,452.5 L289.6,452.5 L290.2,452.5 L290.9,452.4 L291.6,452.4 L292.3,452.3 L292.9,452.3 L293.6,452.2 L294.3,452.2 L294.9,452.1 L295.6,452.1 L296.3,452.0 L297.0,452.0 L297.6,451.9 L298.3,451.9 L299.0,451.8 L299.7,451.7 L300.3,451.7 L301.0,451.6 L301.7,451.5 L302.3,451.5 L303.0,451.4 L303.7,451.3 L304.4,451.3 L305.0,451.2 L305.7,451.1 L306.4,451.0 L307.0,451.0 L307.7,450.9 L308.4,450.8 L309.1,450.7 L309.7,450.6 L310.4,450.5 L311.1,450.4 L311.8,450.3 L312.4,450.2 L313.1,450.1 L313.8,450.0 L314.4,449.9 L315.1,449.8 L315.8,449.7 L316.5,449.6 L317.1,449.5 L317.8,449.4 L318.5,449.3 L319.1,449.2 L319.8,449.0 L320.5,448.9 L321.2,448.8 L321.8,448.7 L322.5,448.6 L323.2,448.4 L323.8,448.3 L324.5,448.2 L325.2,448.0 L325.9,447.9 L326.5,447.8 L327.2,447.6 L327.9,447.5 L328.6,447.3 L329.2,447.2 L329.9,447.0 L330.6,446.9 L331.2,446.7 L331.9,446.6 L332.6,446.4 L333.3,446.3 L333.9,446.1 L334.6,445.9 L335.3,445.7 L335.9,445.6 L336.6,445.4 L337.3,445.2 L338.0,445.0 L338.6,444.8 L339.3,444.5 L340.0,444.3 L340.7,444.1 L341.3,443.8 L342.0,443.5 L342.7,443.3 L343.3,443.0 L344.0,442.7 L344.7,442.4 L345.4,442.1 L346.0,441.7 L346.7,441.4 L347.4,441.0 L348.0,440.6 L348.7,440.2 L349.4,439.8 L350.1,439.4 L350.7,438.9 L351.4,438.4 L352.1,437.9 L352.8,437.4 L353.4,436.8 L354.1,436.2 L354.8,435.5 L355.4,434.8 L356.1,434.1 L356.8,433.3 L357.5,432.5 L358.1,431.6 L358.8,430.6 L359.5,429.6 L360.1,428.4 L360.8,427.2 L361.5,425.9 L362.2,424.4 L362.8,422.7 L363.5,420.9 L364.2,419.0 L364.9,416.8 L365.5,414.3 L366.2,411.6 L366.9,408.6 L367.5,405.2 L368.2,401.5 L368.9,397.3 L369.6,392.7 L370.2,387.6 L370.9,382.0 L371.6,375.8 L372.2,369.0 L372.9,361.6 L373.6,353.5 L374.3,344.7 L374.9,335.2 L375.6,325.0 L376.3,314.1 L377.0,302.5 L377.6,290.2 L378.3,277.3 L379.0,263.8 L379.6,249.8 L380.3,235.5 L381.0,221.0 L381.7,206.4 L382.3,192.0 L383.0,178.0 L383.7,164.7 L384.3,152.4 L385.0,141.5 L385.7,132.3 L386.4,125.1 L387.0,120.2 L387.7,117.8 L388.4,117.7 L389.1,119.5 L389.7,123.1 L390.4,128.2 L391.1,134.8 L391.7,142.7 L392.4,151.7 L393.1,161.7 L393.8,172.3 L394.4,183.4 L395.1,194.9 L395.8,206.6 L396.4,218.3 L397.1,229.9 L397.8,241.4 L398.5,252.5 L399.1,263.2 L399.8,273.5 L400.5,283.3 L401.1,292.6 L401.8,301.2 L402.5,309.1 L403.2,316.4 L403.8,323.0 L404.5,328.8 L405.2,333.9 L405.9,338.1 L406.5,341.6 L407.2,344.2 L407.9,346.1 L408.5,347.1 L409.2,347.3 L409.9,346.8 L410.6,345.5 L411.2,343.6 L411.9,341.0 L412.6,337.9 L413.2,334.4 L413.9,330.5 L414.6,326.5 L415.3,322.4 L415.9,318.6 L416.6,315.2 L417.3,312.4 L418.0,310.4 L418.6,309.6 L419.3,309.9 L420.0,311.2 L420.6,312.9 L421.3,315.1 L422.0,317.6 L422.7,320.5 L423.3,323.7 L424.0,327.2 L424.7,331.0 L425.3,335.0 L426.0,339.1 L426.7,343.3 L427.4,347.7 L428.0,352.0 L428.7,356.4 L429.4,360.8 L430.1,365.1 L430.7,369.4 L431.4,373.6 L432.1,377.6 L432.7,381.6 L433.4,385.4 L434.1,389.1 L434.8,392.6 L435.4,396.0 L436.1,399.2 L436.8,402.3 L437.4,405.2 L438.1,407.9 L438.8,410.5 L439.5,413.0 L440.1,415.2 L440.8,417.4 L441.5,419.4 L442.2,421.2 L442.8,423.0 L443.5,424.6 L444.2,426.1 L444.8,427.5 L445.5,428.8 L446.2,430.0 L446.9,431.1 L447.5,432.1 L448.2,433.0 L448.9,433.9 L449.5,434.7 L450.2,435.4 L450.9,436.1 L451.6,436.8 L452.2,437.4 L452.9,437.9 L453.6,438.4 L454.3,438.9 L454.9,439.4 L455.6,439.8 L456.3,440.2 L456.9,440.6 L457.6,440.9 L458.3,441.3 L459.0,441.6 L459.6,441.9 L460.3,442.2 L461.0,442.5 L461.6,442.7 L462.3,443.0 L463.0,443.2 L463.7,443.4 L464.3,443.7 L465.0,443.9 L465.7,444.1 L466.3,444.3 L467.0,444.5 L467.7,444.6 L468.4,444.8 L469.0,445.0 L469.7,445.2 L470.4,445.3 L471.1,445.5 L471.7,445.6 L472.4,445.8 L473.1,445.9 L473.7,446.1 L474.4,446.2 L475.1,446.3 L475.8,446.4 L476.4,446.6 L477.1,446.7 L477.8,446.8 L478.4,446.9 L479.1,447.0 L479.8,447.1 L480.5,447.2 L481.1,447.3 L481.8,447.4 L482.5,447.5 L483.2,447.6 L483.8,447.7 L484.5,447.8 L485.2,447.9 L485.8,447.9 L486.5,448.0 L487.2,448.1 L487.9,448.2 L488.5,448.2 L489.2,448.3 L489.9,448.4 L490.5,448.5 L491.2,448.5 L491.9,448.6 L492.6,448.6 L493.2,448.7 L493.9,448.8 L494.6,448.8 L495.3,448.9 L495.9,448.9 L496.6,449.0 L497.3,449.0 L497.9,449.1 L498.6,449.1 L499.3,449.2 L500.0,449.2 L500.6,449.3 L501.3,449.3 L502.0,449.3 L502.6,449.4 L503.3,449.4 L504.0,449.4 L504.7,449.4 L505.3,449.5 L506.0,449.5 L506.7,449.5 L507.4,449.5 L508.0,449.5 L508.7,449.5 L509.4,449.5 L510.0,449.5 L510.7,449.4 L511.4,449.4 L512.1,449.3 L512.7,449.2 L513.4,449.1 L514.1,449.0 L514.7,448.9 L515.4,448.7 L516.1,448.4 L516.8,448.2 L517.4,447.9 L518.1,447.6 L518.8,447.2 L519.5,446.7 L520.1,446.3 L520.8,445.7 L521.5,445.1 L522.1,444.5 L522.8,443.8 L523.5,443.1 L524.2,442.4 L524.8,441.6 L525.5,440.7 L526.2,439.9 L526.8,439.1 L527.5,438.2 L528.2,437.4 L528.9,436.6 L529.5,435.8 L530.2,435.1 L530.9,434.5 L531.5,434.0 L532.2,433.5 L532.9,433.2 L533.6,433.0 L534.2,432.9 L534.9,433.0 L535.6,433.1 L536.3,433.4 L536.9,433.7 L537.6,434.1 L538.3,434.6 L538.9,435.2 L539.6,435.8 L540.3,436.4 L541.0,437.1 L541.6,437.9 L542.3,438.6 L543.0,439.4 L543.6,440.1 L544.3,440.9 L545.0,441.6 L545.7,442.4 L546.3,443.1 L547.0,443.8 L547.7,444.5 L548.4,445.1 L549.0,445.7 L549.7,446.3 L550.4,446.8 L551.0,447.3 L551.7,447.7 L552.4,448.1 L553.1,448.5 L553.7,448.9 L554.4,449.2 L555.1,449.5 L555.7,449.7 L556.4,450.0 L557.1,450.2 L557.8,450.3 L558.4,450.5 L559.1,450.7 L559.8,450.8 L560.5,450.9 L561.1,451.0 L561.8,451.1 L562.5,451.2 L563.1,451.2 L563.8,451.3 L564.5,451.4 L565.2,451.4 L565.8,451.4 L566.5,451.5 L567.2,451.5 L567.8,451.6 L568.5,451.6 L569.2,451.6 L569.9,451.6 L570.5,451.7 L571.2,451.7 L571.9,451.7 L572.6,451.7 L573.2,451.8 L573.9,451.8 L574.6,451.8 L575.2,451.8 L575.9,451.8 L576.6,451.8 L577.3,451.9 L577.9,451.9 L578.6,451.9 L579.3,451.9 L579.9,451.9 L580.6,451.9 L581.3,452.0 L582.0,452.0 L582.6,452.0 L583.3,452.0 L584.0,452.0 L584.7,452.0 L585.3,452.0 L586.0,452.0 L586.7,452.1 L587.3,452.1 L588.0,452.1 L588.7,452.1 L589.4,452.1 L590.0,452.1 L590.7,452.1 L591.4,452.1 L592.0,452.2 L592.7,452.2 L593.4,452.2 L594.1,452.2 L594.7,452.2 L595.4,452.2 L596.1,452.2 L596.7,452.2 L597.4,452.2 L598.1,452.3 L598.8,452.3 L599.4,452.3 L600.1,452.3 L600.8,452.3 L601.5,452.3 L602.1,452.3 L602.8,452.3 L603.5,452.3 L604.1,452.3 L604.8,452.4 L605.5,452.4 L606.2,452.4 L606.8,452.4 L607.5,452.4 L608.2,452.4 L608.8,452.4 L609.5,452.4 L610.2,452.4 L610.9,452.4 L611.5,452.5 L612.2,452.5 L612.9,452.5 L613.6,452.5 L614.2,452.5 L614.9,452.5 L615.6,452.5 L616.2,452.5 L616.9,452.5 L617.6,452.5 L618.3,452.5 L618.9,452.6 L619.6,452.6 L620.3,452.6 L620.9,452.6 L621.6,452.6 L622.3,452.6 L623.0,452.6 L623.6,452.6 L624.3,452.6 L625.0,452.6 L625.7,452.6 L626.3,452.6 L627.0,452.7 L627.7,452.7 L628.3,452.7 L629.0,452.7 L629.7,452.7 L630.4,452.7 L631.0,452.7 L631.7,452.7 L632.4,452.7 L633.0,452.7 L633.7,452.7 L634.4,452.7 L635.1,452.7 L635.7,452.8 L636.4,452.8 L637.1,452.8 L637.8,452.8 L638.4,452.8 L639.1,452.8 L639.8,452.8 L640.4,452.8 L641.1,452.8 L641.8,452.8 L642.5,452.8 L643.1,452.8 L643.8,452.8 L644.5,452.8 L645.1,452.8 L645.8,452.8 L646.5,452.9 L647.2,452.9 L647.8,452.9 L648.5,452.9 L649.2,452.9 L649.9,452.9 L650.5,452.9 L651.2,452.9 L651.9,452.9 L652.5,452.9 L653.2,452.9 L653.9,452.9 L654.6,452.9 L655.2,452.9 L655.9,452.9 L656.6,452.9 L657.2,452.9 L657.9,452.9 L658.6,453.0 L659.3,453.0 L659.9,453.0 L660.6,453.0 L661.3,453.0 L661.9,453.0 L662.6,453.0 L663.3,453.0 L664.0,453.0 L664.6,453.0 L665.3,453.0 L666.0,453.0 L666.7,453.0 L667.3,453.0 L668.0,453.0 L668.7,453.0 L669.3,453.0 L670.0,453.0 L670.7,453.0 L671.4,453.0 L672.0,453.0 L672.7,453.0 L673.4,453.0 L674.0,453.1 L674.7,453.1 L675.4,453.1 L676.1,453.1 L676.7,453.1 L677.4,453.1 L678.1,453.1 L678.8,453.1 L679.4,453.1 L680.1,453.1 L680.8,453.1 L681.4,453.1 L682.1,453.1 L682.8,453.1 L683.5,453.1 L684.1,453.1 L684.8,453.1 L685.5,453.1 L686.1,453.1 L686.8,453.1 L687.5,453.1 L688.2,453.1 L688.8,453.1 L689.5,453.1 L690.2,453.1 L690.9,453.1 L691.5,453.1 L692.2,453.1 L692.9,453.1 L693.5,453.1 L694.2,453.1 L694.9,453.1 L695.6,453.1 L696.2,453.1 L696.9,453.1 L697.6,453.1 L698.2,453.1 L698.9,453.1 L699.6,453.1 L700.3,453.1 L700.9,453.1 L701.6,453.1 L702.3,453.1 L703.0,453.1 L703.6,453.2 L704.3,453.2 L705.0,453.2 L705.6,453.2 L706.3,453.2 L707.0,453.2 L707.7,453.2 L708.3,453.2 L709.0,453.2 L709.7,453.2 L710.3,453.2 L711.0,453.2 L711.7,453.2 L712.4,453.2 L713.0,453.2 L713.7,453.2 L714.4,453.2 L715.1,453.2 L715.7,453.2 L716.4,453.2 L717.1,453.2 L717.7,453.2 L718.4,453.2 L719.1,453.2 L719.8,453.2 L720.4,453.2 L721.1,453.2 L721.8,453.2 L722.4,453.2 L723.1,453.2 L723.8,453.2 L724.5,453.2 L725.1,453.2 L725.8,453.2 L726.5,453.2 L727.1,453.2" fill="none" stroke="#000000" stroke-width="1.7" stroke-linejoin="round"/>
<path d="M122.2,453.3 L122.9,453.3 L123.5,453.3 L124.2,453.3 L124.9,453.3 L125.6,453.3 L126.2,453.3 L126.9,453.3 L127.6,453.3 L128.2,453.3 L128.9,453.3 L129.6,453.3 L130.3,453.3 L130.9,453.3 L131.6,453.3 L132.3,453.3 L133.0,453.3 L133.6,453.3 L134.3,453.3 L135.0,453.3 L135.6,453.3 L136.3,453.3 L137.0,453.3 L137.7,453.3 L138.3,453.3 L139.0,453.3 L139.7,453.3 L140.3,453.3 L141.0,453.3 L141.7,453.3 L142.4,453.3 L143.0,453.3 L143.7,453.3 L144.4,453.3 L145.1,453.3 L145.7,453.3 L146.4,453.3 L147.1,453.3 L147.7,453.3 L148.4,453.3 L149.1,453.3 L149.8,453.3 L150.4,453.3 L151.1,453.3 L151.8,453.3 L152.4,453.3 L153.1,453.3 L153.8,453.3 L154.5,453.3 L155.1,453.3 L155.8,453.3 L156.5,453.3 L157.2,453.3 L157.8,453.3 L158.5,453.3 L159.2,453.3 L159.8,453.3 L160.5,453.3 L161.2,453.3 L161.9,453.3 L162.5,453.3 L163.2,453.3 L163.9,453.3 L164.5,453.3 L165.2,453.3 L165.9,453.3 L166.6,453.3 L167.2,453.3 L167.9,453.3 L168.6,453.3 L169.3,453.3 L169.9,453.3 L170.6,453.3 L171.3,453.3 L171.9,453.3 L172.6,453.3 L173.3,453.3 L174.0,453.3 L174.6,453.3 L175.3,453.3 L176.0,453.3 L176.6,453.3 L177.3,453.3 L178.0,453.3 L178.7,453.3 L179.3,453.3 L180.0,453.3 L180.7,453.3 L181.4,453.3 L182.0,453.3 L182.7,453.3 L183.4,453.3 L184.0,453.3 L184.7,453.3 L185.4,453.3 L186.1,453.3 L186.7,453.3 L187.4,453.3 L188.1,453.3 L188.7,453.3 L189.4,453.3 L190.1,453.3 L190.8,453.3 L191.4,453.3 L192.1,453.3 L192.8,453.3 L193.4,453.3 L194.1,453.3 L194.8,453.3 L195.5,453.3 L196.1,453.3 L196.8,453.3 L197.5,453.3 L198.2,453.3 L198.8,453.3 L199.5,453.3 L200.2,453.3 L200.8,453.3 L201.5,453.3 L202.2,453.3 L202.9,453.2 L203.5,453.2 L204.2,453.2 L204.9,453.2 L205.5,453.2 L206.2,453.2 L206.9,453.2 L207.6,453.2 L208.2,453.2 L208.9,453.2 L209.6,453.2 L210.3,453.2 L210.9,453.2 L211.6,453.2 L212.3,453.2 L212.9,453.2 L213.6,453.2 L214.3,453.2 L215.0,453.2 L215.6,453.2 L216.3,453.2 L217.0,453.2 L217.6,453.2 L218.3,453.2 L219.0,453.2 L219.7,453.2 L220.3,453.2 L221.0,453.2 L221.7,453.2 L222.4,453.2 L223.0,453.2 L223.7,453.2 L224.4,453.2 L225.0,453.2 L225.7,453.2 L226.4,453.2 L227.1,453.2 L227.7,453.2 L228.4,453.2 L229.1,453.2 L229.7,453.2 L230.4,453.2 L231.1,453.2 L231.8,453.2 L232.4,453.2 L233.1,453.2 L233.8,453.2 L234.5,453.2 L235.1,453.2 L235.8,453.2 L236.5,453.2 L237.1,453.2 L237.8,453.2 L238.5,453.2 L239.2,453.2 L239.8,453.2 L240.5,453.2 L241.2,453.2 L241.8,453.2 L242.5,453.2 L243.2,453.2 L243.9,453.2 L244.5,453.2 L245.2,453.2 L245.9,453.2 L246.6,453.2 L247.2,453.2 L247.9,453.2 L248.6,453.2 L249.2,453.2 L249.9,453.2 L250.6,453.2 L251.3,453.2 L251.9,453.2 L252.6,453.2 L253.3,453.2 L253.9,453.2 L254.6,453.2 L255.3,453.2 L256.0,453.2 L256.6,453.2 L257.3,453.2 L258.0,453.2 L258.6,453.2 L259.3,453.2 L260.0,453.2 L260.7,453.2 L261.3,453.2 L262.0,453.2 L262.7,453.2 L263.4,453.2 L264.0,453.2 L264.7,453.2 L265.4,453.2 L266.0,453.2 L266.7,453.2 L267.4,453.2 L268.1,453.2 L268.7,453.2 L269.4,453.1 L270.1,453.1 L270.7,453.1 L271.4,453.1 L272.1,453.1 L272.8,453.1 L273.4,453.1 L274.1,453.1 L274.8,453.1 L275.5,453.1 L276.1,453.1 L276.8,453.0 L277.5,453.0 L278.1,453.0 L278.8,453.0 L279.5,453.0 L280.2,453.0 L280.8,452.9 L281.5,452.9 L282.2,452.9 L282.8,452.9 L283.5,452.9 L284.2,452.8 L284.9,452.8 L285.5,452.8 L286.2,452.8 L286.9,452.7 L287.6,452.7 L288.2,452.7 L288.9,452.6 L289.6,452.6 L290.2,452.6 L290.9,452.5 L291.6,452.5 L292.3,452.4 L292.9,452.4 L293.6,452.4 L294.3,452.3 L294.9,452.3 L295.6,452.2 L296.3,452.2 L297.0,452.1 L297.6,452.1 L298.3,452.0 L299.0,452.0 L299.7,451.9 L300.3,451.9 L301.0,451.8 L301.7,451.8 L302.3,451.7 L303.0,451.7 L303.7,451.6 L304.4,451.5 L305.0,451.5 L305.7,451.4 L306.4,451.4 L307.0,451.3 L307.7,451.2 L308.4,451.1 L309.1,451.1 L309.7,451.0 L310.4,450.9 L311.1,450.9 L311.8,450.8 L312.4,450.7 L313.1,450.6 L313.8,450.5 L314.4,450.5 L315.1,450.4 L315.8,450.3 L316.5,450.2 L317.1,450.1 L317.8,450.0 L318.5,449.9 L319.1,449.8 L319.8,449.7 L320.5,449.7 L321.2,449.6 L321.8,449.5 L322.5,449.4 L323.2,449.3 L323.8,449.2 L324.5,449.1 L325.2,449.0 L325.9,448.9 L326.5,448.7 L327.2,448.6 L327.9,448.5 L328.6,448.4 L329.2,448.3 L329.9,448.2 L330.6,448.1 L331.2,448.0 L331.9,447.9 L332.6,447.8 L333.3,447.6 L333.9,447.5 L334.6,447.4 L335.3,447.3 L335.9,447.1 L336.6,447.0 L337.3,446.9 L338.0,446.7 L338.6,446.6 L339.3,446.4 L340.0,446.3 L340.7,446.1 L341.3,445.9 L342.0,445.7 L342.7,445.6 L343.3,445.4 L344.0,445.2 L344.7,445.0 L345.4,444.7 L346.0,444.5 L346.7,444.3 L347.4,444.0 L348.0,443.8 L348.7,443.5 L349.4,443.3 L350.1,443.0 L350.7,442.7 L351.4,442.4 L352.1,442.1 L352.8,441.7 L353.4,441.4 L354.1,441.0 L354.8,440.6 L355.4,440.2 L356.1,439.8 L356.8,439.3 L357.5,438.9 L358.1,438.4 L358.8,437.9 L359.5,437.3 L360.1,436.7 L360.8,436.1 L361.5,435.4 L362.2,434.7 L362.8,434.0 L363.5,433.1 L364.2,432.3 L364.9,431.3 L365.5,430.3 L366.2,429.1 L366.9,427.9 L367.5,426.5 L368.2,425.0 L368.9,423.4 L369.6,421.5 L370.2,419.5 L370.9,417.2 L371.6,414.7 L372.2,411.9 L372.9,408.8 L373.6,405.4 L374.3,401.5 L374.9,397.3 L375.6,392.6 L376.3,387.4 L377.0,381.6 L377.6,375.3 L378.3,368.5 L379.0,361.0 L379.6,352.8 L380.3,344.0 L381.0,334.6 L381.7,324.4 L382.3,313.7 L383.0,302.2 L383.7,290.2 L384.3,277.6 L385.0,264.5 L385.7,250.9 L386.4,237.1 L387.0,223.1 L387.7,209.0 L388.4,195.1 L389.1,181.5 L389.7,168.6 L390.4,156.5 L391.1,145.6 L391.7,136.1 L392.4,128.4 L393.1,122.6 L393.8,119.0 L394.4,117.7 L395.1,118.4 L395.8,120.6 L396.4,124.4 L397.1,129.5 L397.8,136.0 L398.5,143.6 L399.1,152.2 L399.8,161.6 L400.5,171.6 L401.1,182.2 L401.8,193.1 L402.5,204.2 L403.2,215.4 L403.8,226.6 L404.5,237.7 L405.2,248.5 L405.9,259.1 L406.5,269.3 L407.2,279.1 L407.9,288.5 L408.5,297.3 L409.2,305.5 L409.9,313.2 L410.6,320.2 L411.2,326.6 L411.9,332.3 L412.6,337.3 L413.2,341.5 L413.9,345.0 L414.6,347.6 L415.3,349.5 L415.9,350.6 L416.6,351.0 L417.3,350.5 L418.0,349.3 L418.6,347.4 L419.3,344.8 L420.0,341.6 L420.6,337.8 L421.3,333.7 L422.0,329.2 L422.7,324.6 L423.3,320.0 L424.0,315.7 L424.7,311.8 L425.3,308.6 L426.0,306.3 L426.7,305.2 L427.4,305.4 L428.0,306.5 L428.7,308.2 L429.4,310.2 L430.1,312.7 L430.7,315.5 L431.4,318.6 L432.1,322.1 L432.7,325.8 L433.4,329.7 L434.1,333.8 L434.8,338.1 L435.4,342.4 L436.1,346.8 L436.8,351.2 L437.4,355.6 L438.1,360.0 L438.8,364.4 L439.5,368.6 L440.1,372.8 L440.8,376.9 L441.5,380.8 L442.2,384.6 L442.8,388.3 L443.5,391.8 L444.2,395.2 L444.8,398.4 L445.5,401.5 L446.2,404.4 L446.9,407.2 L447.5,409.8 L448.2,412.2 L448.9,414.5 L449.5,416.7 L450.2,418.7 L450.9,420.6 L451.6,422.3 L452.2,424.0 L452.9,425.5 L453.6,426.9 L454.3,428.2 L454.9,429.4 L455.6,430.5 L456.3,431.6 L456.9,432.5 L457.6,433.4 L458.3,434.2 L459.0,435.0 L459.6,435.7 L460.3,436.4 L461.0,437.0 L461.6,437.6 L462.3,438.1 L463.0,438.6 L463.7,439.1 L464.3,439.5 L465.0,439.9 L465.7,440.3 L466.3,440.7 L467.0,441.0 L467.7,441.3 L468.4,441.6 L469.0,441.9 L469.7,442.2 L470.4,442.5 L471.1,442.7 L471.7,443.0 L472.4,443.2 L473.1,443.4 L473.7,443.6 L474.4,443.8 L475.1,444.0 L475.8,444.2 L476.4,444.4 L477.1,444.6 L477.8,444.8 L478.4,444.9 L479.1,445.1 L479.8,445.3 L480.5,445.4 L481.1,445.6 L481.8,445.7 L482.5,445.8 L483.2,446.0 L483.8,446.1 L484.5,446.2 L485.2,446.3 L485.8,446.5 L486.5,446.6 L487.2,446.7 L487.9,446.8 L488.5,446.9 L489.2,447.0 L489.9,447.1 L490.5,447.2 L491.2,447.3 L491.9,447.4 L492.6,447.5 L493.2,447.6 L493.9,447.6 L494.6,447.7 L495.3,447.8 L495.9,447.9 L496.6,447.9 L497.3,448.0 L497.9,448.1 L498.6,448.1 L499.3,448.2 L500.0,448.3 L500.6,448.3 L501.3,448.4 L502.0,448.5 L502.6,448.5 L503.3,448.6 L504.0,448.6 L504.7,448.7 L505.3,448.7 L506.0,448.7 L506.7,448.8 L507.4,448.8 L508.0,448.9 L508.7,448.9 L509.4,448.9 L510.0,449.0 L510.7,449.0 L511.4,449.0 L512.1,449.1 L512.7,449.1 L513.4,449.1 L514.1,449.1 L514.7,449.1 L515.4,449.1 L516.1,449.1 L516.8,449.1 L517.4,449.1 L518.1,449.1 L518.8,449.0 L519.5,449.0 L520.1,448.9 L520.8,448.8 L521.5,448.7 L522.1,448.6 L522.8,448.4 L523.5,448.2 L524.2,447.9 L524.8,447.6 L525.5,447.2 L526.2,446.7 L526.8,446.1 L527.5,445.5 L528.2,444.7 L528.9,443.8 L529.5,442.9 L530.2,441.8 L530.9,440.5 L531.5,439.1 L532.2,437.7 L532.9,436.0 L533.6,434.3 L534.2,432.5 L534.9,430.5 L535.6,428.5 L536.3,426.5 L536.9,424.5 L537.6,422.4 L538.3,420.4 L538.9,418.6 L539.6,416.8 L540.3,415.2 L541.0,413.9 L541.6,412.8 L542.3,412.0 L543.0,411.5 L543.6,411.3 L544.3,411.4 L545.0,411.8 L545.7,412.4 L546.3,413.2 L547.0,414.1 L547.7,415.3 L548.4,416.6 L549.0,418.0 L549.7,419.5 L550.4,421.1 L551.0,422.8 L551.7,424.5 L552.4,426.2 L553.1,427.9 L553.7,429.6 L554.4,431.2 L555.1,432.8 L555.7,434.4 L556.4,435.9 L557.1,437.3 L557.8,438.6 L558.4,439.9 L559.1,441.1 L559.8,442.1 L560.5,443.1 L561.1,444.1 L561.8,444.9 L562.5,445.6 L563.1,446.3 L563.8,446.9 L564.5,447.5 L565.2,448.0 L565.8,448.4 L566.5,448.8 L567.2,449.1 L567.8,449.4 L568.5,449.6 L569.2,449.9 L569.9,450.1 L570.5,450.2 L571.2,450.4 L571.9,450.5 L572.6,450.6 L573.2,450.7 L573.9,450.8 L574.6,450.9 L575.2,451.0 L575.9,451.0 L576.6,451.1 L577.3,451.1 L577.9,451.2 L578.6,451.2 L579.3,451.3 L579.9,451.3 L580.6,451.3 L581.3,451.4 L582.0,451.4 L582.6,451.4 L583.3,451.5 L584.0,451.5 L584.7,451.5 L585.3,451.5 L586.0,451.6 L586.7,451.6 L587.3,451.6 L588.0,451.6 L588.7,451.7 L589.4,451.7 L590.0,451.7 L590.7,451.7 L591.4,451.8 L592.0,451.8 L592.7,451.8 L593.4,451.8 L594.1,451.8 L594.7,451.9 L595.4,451.9 L596.1,451.9 L596.7,451.9 L597.4,451.9 L598.1,451.9 L598.8,452.0 L599.4,452.0 L600.1,452.0 L600.8,452.0 L601.5,452.0 L602.1,452.0 L602.8,452.1 L603.5,452.1 L604.1,452.1 L604.8,452.1 L605.5,452.1 L606.2,452.1 L606.8,452.1 L607.5,452.2 L608.2,452.2 L608.8,452.2 L609.5,452.2 L610.2,452.2 L610.9,452.2 L611.5,452.2 L612.2,452.3 L612.9,452.3 L613.6,452.3 L614.2,452.3 L614.9,452.3 L615.6,452.3 L616.2,452.3 L616.9,452.3 L617.6,452.4 L618.3,452.4 L618.9,452.4 L619.6,452.4 L620.3,452.4 L620.9,452.4 L621.6,452.4 L622.3,452.4 L623.0,452.4 L623.6,452.5 L624.3,452.5 L625.0,452.5 L625.7,452.5 L626.3,452.5 L627.0,452.5 L627.7,452.5 L628.3,452.5 L629.0,452.5 L629.7,452.6 L630.4,452.6 L631.0,452.6 L631.7,452.6 L632.4,452.6 L633.0,452.6 L633.7,452.6 L634.4,452.6 L635.1,452.6 L635.7,452.6 L636.4,452.6 L637.1,452.7 L637.8,452.7 L638.4,452.7 L639.1,452.7 L639.8,452.7 L640.4,452.7 L641.1,452.7 L641.8,452.7 L642.5,452.7 L643.1,452.7 L643.8,452.7 L644.5,452.7 L645.1,452.8 L645.8,452.8 L646.5,452.8 L647.2,452.8 L647.8,452.8 L648.5,452.8 L649.2,452.8 L649.9,452.8 L650.5,452.8 L651.2,452.8 L651.9,452.8 L652.5,452.8 L653.2,452.8 L653.9,452.8 L654.6,452.9 L655.2,452.9 L655.9,452.9 L656.6,452.9 L657.2,452.9 L657.9,452.9 L658.6,452.9 L659.3,452.9 L659.9,452.9 L660.6,452.9 L661.3,452.9 L661.9,452.9 L662.6,452.9 L663.3,452.9 L664.0,452.9 L664.6,452.9 L665.3,452.9 L666.0,453.0 L666.7,453.0 L667.3,453.0 L668.0,453.0 L668.7,453.0 L669.3,453.0 L670.0,453.0 L670.7,453.0 L671.4,453.0 L672.0,453.0 L672.7,453.0 L673.4,453.0 L674.0,453.0 L674.7,453.0 L675.4,453.0 L676.1,453.0 L676.7,453.0 L677.4,453.0 L678.1,453.0 L678.8,453.0 L679.4,453.0 L680.1,453.0 L680.8,453.0 L681.4,453.1 L682.1,453.1 L682.8,453.1 L683.5,453.1 L684.1,453.1 L684.8,453.1 L685.5,453.1 L686.1,453.1 L686.8,453.1 L687.5,453.1 L688.2,453.1 L688.8,453.1 L689.5,453.1 L690.2,453.1 L690.9,453.1 L691.5,453.1 L692.2,453.1 L692.9,453.1 L693.5,453.1 L694.2,453.1 L694.9,453.1 L695.6,453.1 L696.2,453.1 L696.9,453.1 L697.6,453.1 L698.2,453.1 L698.9,453.1 L699.6,453.1 L700.3,453.1 L700.9,453.1 L701.6,453.1 L702.3,453.1 L703.0,453.1 L703.6,453.1 L704.3,453.1 L705.0,453.1 L705.6,453.1 L706.3,453.1 L707.0,453.1 L707.7,453.1 L708.3,453.1 L709.0,453.1 L709.7,453.1 L710.3,453.1 L711.0,453.1 L711.7,453.1 L712.4,453.1 L713.0,453.1 L713.7,453.1 L714.4,453.1 L715.1,453.1 L715.7,453.1 L716.4,453.1 L717.1,453.1 L717.7,453.1 L718.4,453.1 L719.1,453.1 L719.8,453.1 L720.4,453.1 L721.1,453.1 L721.8,453.2 L722.4,453.2 L723.1,453.2 L723.8,453.2 L724.5,453.2 L725.1,453.2 L725.8,453.2 L726.5,453.2 L727.1,453.2" fill="none" stroke="#45107a" stroke-width="1.7" stroke-linejoin="round"/>
<path d="M122.2,453.3 L122.9,453.3 L123.5,453.3 L124.2,453.3 L124.9,453.3 L125.6,453.3 L126.2,453.3 L126.9,453.3 L127.6,453.3 L128.2,453.3 L128.9,453.3 L129.6,453.3 L130.3,453.3 L130.9,453.3 L131.6,453.3 L132.3,453.3 L133.0,453.3 L133.6,453.3 L134.3,453.3 L135.0,453.3 L135.6,453.3 L136.3,453.3 L137.0,453.3 L137.7,453.3 L138.3,453.3 L139.0,453.3 L139.7,453.3 L140.3,453.3 L141.0,453.3 L141.7,453.3 L142.4,453.3 L143.0,453.3 L143.7,453.3 L144.4,453.3 L145.1,453.3 L145.7,453.3 L146.4,453.3 L147.1,453.3 L147.7,453.3 L148.4,453.3 L149.1,453.3 L149.8,453.3 L150.4,453.3 L151.1,453.3 L151.8,453.3 L152.4,453.3 L153.1,453.3 L153.8,453.3 L154.5,453.3 L155.1,453.3 L155.8,453.3 L156.5,453.3 L157.2,453.3 L157.8,453.3 L158.5,453.3 L159.2,453.3 L159.8,453.3 L160.5,453.3 L161.2,453.3 L161.9,453.3 L162.5,453.3 L163.2,453.3 L163.9,453.3 L164.5,453.3 L165.2,453.3 L165.9,453.3 L166.6,453.3 L167.2,453.3 L167.9,453.3 L168.6,453.3 L169.3,453.3 L169.9,453.3 L170.6,453.3 L171.3,453.3 L171.9,453.3 L172.6,453.3 L173.3,453.3 L174.0,453.3 L174.6,453.3 L175.3,453.3 L176.0,453.3 L176.6,453.3 L177.3,453.3 L178.0,453.3 L178.7,453.3 L179.3,453.3 L180.0,453.3 L180.7,453.3 L181.4,453.3 L182.0,453.3 L182.7,453.3 L183.4,453.3 L184.0,453.3 L184.7,453.3 L185.4,453.3 L186.1,453.3 L186.7,453.3 L187.4,453.3 L188.1,453.3 L188.7,453.3 L189.4,453.3 L190.1,453.3 L190.8,453.3 L191.4,453.3 L192.1,453.3 L192.8,453.3 L193.4,453.3 L194.1,453.3 L194.8,453.3 L195.5,453.3 L196.1,453.3 L196.8,453.3 L197.5,453.3 L198.2,453.3 L198.8,453.3 L199.5,453.3 L200.2,453.3 L200.8,453.3 L201.5,453.3 L202.2,453.3 L202.9,453.3 L203.5,453.3 L204.2,453.3 L204.9,453.3 L205.5,453.3 L206.2,453.3 L206.9,453.3 L207.6,453.3 L208.2,453.3 L208.9,453.3 L209.6,453.3 L210.3,453.3 L210.9,453.3 L211.6,453.3 L212.3,453.3 L212.9,453.3 L213.6,453.3 L214.3,453.3 L215.0,453.3 L215.6,453.3 L216.3,453.3 L217.0,453.3 L217.6,453.3 L218.3,453.3 L219.0,453.3 L219.7,453.3 L220.3,453.3 L221.0,453.3 L221.7,453.3 L222.4,453.3 L223.0,453.3 L223.7,453.3 L224.4,453.3 L225.0,453.3 L225.7,453.3 L226.4,453.3 L227.1,453.3 L227.7,453.3 L228.4,453.3 L229.1,453.3 L229.7,453.3 L230.4,453.3 L231.1,453.3 L231.8,453.3 L232.4,453.3 L233.1,453.3 L233.8,453.3 L234.5,453.3 L235.1,453.3 L235.8,453.3 L236.5,453.3 L237.1,453.3 L237.8,453.3 L238.5,453.3 L239.2,453.3 L239.8,453.3 L240.5,453.3 L241.2,453.3 L241.8,453.3 L242.5,453.3 L243.2,453.3 L243.9,453.3 L244.5,453.3 L245.2,453.3 L245.9,453.3 L246.6,453.2 L247.2,453.2 L247.9,453.2 L248.6,453.2 L249.2,453.2 L249.9,453.2 L250.6,453.2 L251.3,453.2 L251.9,453.2 L252.6,453.2 L253.3,453.2 L253.9,453.2 L254.6,453.2 L255.3,453.2 L256.0,453.2 L256.6,453.2 L257.3,453.2 L258.0,453.2 L258.6,453.2 L259.3,453.2 L260.0,453.2 L260.7,453.2 L261.3,453.2 L262.0,453.2 L262.7,453.2 L263.4,453.2 L264.0,453.2 L264.7,453.2 L265.4,453.2 L266.0,453.2 L266.7,453.2 L267.4,453.2 L268.1,453.2 L268.7,453.2 L269.4,453.2 L270.1,453.2 L270.7,453.2 L271.4,453.2 L272.1,453.2 L272.8,453.2 L273.4,453.2 L274.1,453.2 L274.8,453.2 L275.5,453.2 L276.1,453.2 L276.8,453.2 L277.5,453.2 L278.1,453.1 L278.8,453.1 L279.5,453.1 L280.2,453.1 L280.8,453.1 L281.5,453.1 L282.2,453.1 L282.8,453.1 L283.5,453.1 L284.2,453.0 L284.9,453.0 L285.5,453.0 L286.2,453.0 L286.9,453.0 L287.6,453.0 L288.2,452.9 L288.9,452.9 L289.6,452.9 L290.2,452.9 L290.9,452.9 L291.6,452.8 L292.3,452.8 L292.9,452.8 L293.6,452.8 L294.3,452.8 L294.9,452.7 L295.6,452.7 L296.3,452.7 L297.0,452.7 L297.6,452.6 L298.3,452.6 L299.0,452.6 L299.7,452.5 L300.3,452.5 L301.0,452.5 L301.7,452.5 L302.3,452.4 L303.0,452.4 L303.7,452.4 L304.4,452.3 L305.0,452.3 L305.7,452.3 L306.4,452.2 L307.0,452.2 L307.7,452.1 L308.4,452.1 L309.1,452.1 L309.7,452.0 L310.4,452.0 L311.1,452.0 L311.8,451.9 L312.4,451.9 L313.1,451.8 L313.8,451.8 L314.4,451.8 L315.1,451.7 L315.8,451.7 L316.5,451.6 L317.1,451.6 L317.8,451.5 L318.5,451.5 L319.1,451.4 L319.8,451.4 L320.5,451.3 L321.2,451.3 L321.8,451.2 L322.5,451.2 L323.2,451.2 L323.8,451.1 L324.5,451.1 L325.2,451.0 L325.9,451.0 L326.5,450.9 L327.2,450.9 L327.9,450.8 L328.6,450.8 L329.2,450.7 L329.9,450.7 L330.6,450.6 L331.2,450.6 L331.9,450.5 L332.6,450.4 L333.3,450.4 L333.9,450.3 L334.6,450.3 L335.3,450.2 L335.9,450.2 L336.6,450.1 L337.3,450.0 L338.0,450.0 L338.6,449.9 L339.3,449.8 L340.0,449.7 L340.7,449.7 L341.3,449.6 L342.0,449.5 L342.7,449.4 L343.3,449.3 L344.0,449.1 L344.7,449.0 L345.4,448.9 L346.0,448.8 L346.7,448.6 L347.4,448.4 L348.0,448.3 L348.7,448.1 L349.4,447.8 L350.1,447.6 L350.7,447.4 L351.4,447.1 L352.1,446.8 L352.8,446.4 L353.4,446.0 L354.1,445.6 L354.8,445.2 L355.4,444.7 L356.1,444.1 L356.8,443.5 L357.5,442.8 L358.1,442.1 L358.8,441.2 L359.5,440.3 L360.1,439.3 L360.8,438.2 L361.5,437.0 L362.2,435.7 L362.8,434.3 L363.5,432.7 L364.2,431.0 L364.9,429.2 L365.5,427.1 L366.2,424.9 L366.9,422.6 L367.5,420.0 L368.2,417.2 L368.9,414.2 L369.6,411.0 L370.2,407.6 L370.9,403.9 L371.6,400.0 L372.2,395.8 L372.9,391.4 L373.6,386.6 L374.3,381.6 L374.9,376.4 L375.6,370.8 L376.3,365.0 L377.0,358.9 L377.6,352.5 L378.3,345.9 L379.0,338.9 L379.6,331.8 L380.3,324.3 L381.0,316.7 L381.7,308.8 L382.3,300.7 L383.0,292.4 L383.7,284.0 L384.3,275.4 L385.0,266.8 L385.7,258.0 L386.4,249.2 L387.0,240.4 L387.7,231.6 L388.4,222.8 L389.1,214.1 L389.7,205.6 L390.4,197.2 L391.1,189.0 L391.7,181.1 L392.4,173.4 L393.1,166.1 L393.8,159.2 L394.4,152.6 L395.1,146.6 L395.8,141.0 L396.4,135.9 L397.1,131.4 L397.8,127.5 L398.5,124.3 L399.1,121.6 L399.8,119.7 L400.5,118.3 L401.1,117.7 L401.8,117.9 L402.5,119.3 L403.2,121.9 L403.8,125.5 L404.5,130.2 L405.2,135.8 L405.9,142.3 L406.5,149.5 L407.2,157.4 L407.9,165.8 L408.5,174.6 L409.2,183.7 L409.9,193.0 L410.6,202.5 L411.2,212.0 L411.9,221.5 L412.6,230.9 L413.2,240.1 L413.9,249.1 L414.6,257.9 L415.3,266.3 L415.9,274.4 L416.6,282.1 L417.3,289.4 L418.0,296.3 L418.6,302.8 L419.3,308.8 L420.0,314.4 L420.6,319.5 L421.3,324.1 L422.0,328.4 L422.7,332.2 L423.3,335.6 L424.0,338.6 L424.7,341.2 L425.3,343.5 L426.0,345.4 L426.7,347.1 L427.4,348.5 L428.0,349.7 L428.7,350.7 L429.4,351.7 L430.1,352.5 L430.7,353.3 L431.4,354.1 L432.1,354.9 L432.7,355.9 L433.4,356.9 L434.1,358.2 L434.8,359.6 L435.4,361.1 L436.1,362.7 L436.8,364.4 L437.4,366.1 L438.1,368.0 L438.8,369.9 L439.5,371.8 L440.1,373.9 L440.8,375.9 L441.5,378.1 L442.2,380.3 L442.8,382.5 L443.5,384.7 L444.2,386.9 L444.8,389.2 L445.5,391.4 L446.2,393.7 L446.9,395.9 L447.5,398.1 L448.2,400.2 L448.9,402.4 L449.5,404.4 L450.2,406.5 L450.9,408.5 L451.6,410.4 L452.2,412.3 L452.9,414.1 L453.6,415.8 L454.3,417.5 L454.9,419.1 L455.6,420.7 L456.3,422.2 L456.9,423.6 L457.6,425.0 L458.3,426.3 L459.0,427.5 L459.6,428.7 L460.3,429.8 L461.0,430.9 L461.6,431.9 L462.3,432.8 L463.0,433.7 L463.7,434.5 L464.3,435.3 L465.0,436.0 L465.7,436.7 L466.3,437.4 L467.0,438.0 L467.7,438.6 L468.4,439.1 L469.0,439.6 L469.7,440.1 L470.4,440.5 L471.1,440.9 L471.7,441.3 L472.4,441.7 L473.1,442.0 L473.7,442.3 L474.4,442.6 L475.1,442.9 L475.8,443.2 L476.4,443.4 L477.1,443.7 L477.8,443.9 L478.4,444.1 L479.1,444.3 L479.8,444.5 L480.5,444.7 L481.1,444.9 L481.8,445.0 L482.5,445.2 L483.2,445.3 L483.8,445.5 L484.5,445.6 L485.2,445.7 L485.8,445.9 L486.5,446.0 L487.2,446.1 L487.9,446.2 L488.5,446.3 L489.2,446.4 L489.9,446.5 L490.5,446.6 L491.2,446.7 L491.9,446.7 L492.6,446.8 L493.2,446.9 L493.9,446.9 L494.6,447.0 L495.3,447.0 L495.9,447.1 L496.6,447.1 L497.3,447.1 L497.9,447.2 L498.6,447.2 L499.3,447.2 L500.0,447.2 L500.6,447.2 L501.3,447.2 L502.0,447.2 L502.6,447.2 L503.3,447.1 L504.0,447.1 L504.7,447.0 L505.3,447.0 L506.0,446.9 L506.7,446.9 L507.4,446.8 L508.0,446.7 L508.7,446.6 L509.4,446.5 L510.0,446.4 L510.7,446.3 L511.4,446.1 L512.1,446.0 L512.7,445.9 L513.4,445.7 L514.1,445.5 L514.7,445.4 L515.4,445.2 L516.1,445.0 L516.8,444.8 L517.4,444.6 L518.1,444.4 L518.8,444.2 L519.5,444.0 L520.1,443.8 L520.8,443.5 L521.5,443.3 L522.1,443.1 L522.8,442.8 L523.5,442.6 L524.2,442.4 L524.8,442.1 L525.5,441.9 L526.2,441.7 L526.8,441.4 L527.5,441.2 L528.2,441.0 L528.9,440.8 L529.5,440.5 L530.2,440.3 L530.9,440.2 L531.5,440.0 L532.2,439.8 L532.9,439.6 L533.6,439.5 L534.2,439.4 L534.9,439.3 L535.6,439.2 L536.3,439.1 L536.9,439.0 L537.6,439.0 L538.3,439.0 L538.9,438.9 L539.6,439.0 L540.3,439.0 L541.0,439.0 L541.6,439.1 L542.3,439.2 L543.0,439.3 L543.6,439.3 L544.3,439.5 L545.0,439.6 L545.7,439.7 L546.3,439.9 L547.0,440.0 L547.7,440.2 L548.4,440.4 L549.0,440.5 L549.7,440.7 L550.4,440.9 L551.0,441.1 L551.7,441.4 L552.4,441.6 L553.1,441.8 L553.7,442.0 L554.4,442.3 L555.1,442.5 L555.7,442.7 L556.4,443.0 L557.1,443.2 L557.8,443.5 L558.4,443.7 L559.1,444.0 L559.8,444.2 L560.5,444.4 L561.1,444.7 L561.8,444.9 L562.5,445.2 L563.1,445.4 L563.8,445.6 L564.5,445.9 L565.2,446.1 L565.8,446.3 L566.5,446.5 L567.2,446.8 L567.8,447.0 L568.5,447.2 L569.2,447.4 L569.9,447.6 L570.5,447.8 L571.2,447.9 L571.9,448.1 L572.6,448.3 L573.2,448.5 L573.9,448.6 L574.6,448.8 L575.2,449.0 L575.9,449.1 L576.6,449.3 L577.3,449.4 L577.9,449.5 L578.6,449.7 L579.3,449.8 L579.9,449.9 L580.6,450.0 L581.3,450.1 L582.0,450.2 L582.6,450.3 L583.3,450.4 L584.0,450.5 L584.7,450.6 L585.3,450.7 L586.0,450.8 L586.7,450.8 L587.3,450.9 L588.0,451.0 L588.7,451.0 L589.4,451.1 L590.0,451.2 L590.7,451.2 L591.4,451.3 L592.0,451.3 L592.7,451.4 L593.4,451.4 L594.1,451.5 L594.7,451.5 L595.4,451.5 L596.1,451.6 L596.7,451.6 L597.4,451.7 L598.1,451.7 L598.8,451.7 L599.4,451.8 L600.1,451.8 L600.8,451.8 L601.5,451.8 L602.1,451.9 L602.8,451.9 L603.5,451.9 L604.1,451.9 L604.8,452.0 L605.5,452.0 L606.2,452.0 L606.8,452.0 L607.5,452.0 L608.2,452.1 L608.8,452.1 L609.5,452.1 L610.2,452.1 L610.9,452.1 L611.5,452.2 L612.2,452.2 L612.9,452.2 L613.6,452.2 L614.2,452.2 L614.9,452.2 L615.6,452.2 L616.2,452.3 L616.9,452.3 L617.6,452.3 L618.3,452.3 L618.9,452.3 L619.6,452.3 L620.3,452.3 L620.9,452.4 L621.6,452.4 L622.3,452.4 L623.0,452.4 L623.6,452.4 L624.3,452.4 L625.0,452.4 L625.7,452.4 L626.3,452.4 L627.0,452.5 L627.7,452.5 L628.3,452.5 L629.0,452.5 L629.7,452.5 L630.4,452.5 L631.0,452.5 L631.7,452.5 L632.4,452.5 L633.0,452.6 L633.7,452.6 L634.4,452.6 L635.1,452.6 L635.7,452.6 L636.4,452.6 L637.1,452.6 L637.8,452.6 L638.4,452.6 L639.1,452.6 L639.8,452.6 L640.4,452.7 L641.1,452.7 L641.8,452.7 L642.5,452.7 L643.1,452.7 L643.8,452.7 L644.5,452.7 L645.1,452.7 L645.8,452.7 L646.5,452.7 L647.2,452.7 L647.8,452.8 L648.5,452.8 L649.2,452.8 L649.9,452.8 L650.5,452.8 L651.2,452.8 L651.9,452.8 L652.5,452.8 L653.2,452.8 L653.9,452.8 L654.6,452.8 L655.2,452.8 L655.9,452.8 L656.6,452.8 L657.2,452.9 L657.9,452.9 L658.6,452.9 L659.3,452.9 L659.9,452.9 L660.6,452.9 L661.3,452.9 L661.9,452.9 L662.6,452.9 L663.3,452.9 L664.0,452.9 L664.6,452.9 L665.3,452.9 L666.0,452.9 L666.7,452.9 L667.3,452.9 L668.0,452.9 L668.7,453.0 L669.3,453.0 L670.0,453.0 L670.7,453.0 L671.4,453.0 L672.0,453.0 L672.7,453.0 L673.4,453.0 L674.0,453.0 L674.7,453.0 L675.4,453.0 L676.1,453.0 L676.7,453.0 L677.4,453.0 L678.1,453.0 L678.8,453.0 L679.4,453.0 L680.1,453.0 L680.8,453.0 L681.4,453.0 L682.1,453.0 L682.8,453.0 L683.5,453.0 L684.1,453.0 L684.8,453.1 L685.5,453.1 L686.1,453.1 L686.8,453.1 L687.5,453.1 L688.2,453.1 L688.8,453.1 L689.5,453.1 L690.2,453.1 L690.9,453.1 L691.5,453.1 L692.2,453.1 L692.9,453.1 L693.5,453.1 L694.2,453.1 L694.9,453.1 L695.6,453.1 L696.2,453.1 L696.9,453.1 L697.6,453.1 L698.2,453.1 L698.9,453.1 L699.6,453.1 L700.3,453.1 L700.9,453.1 L701.6,453.1 L702.3,453.1 L703.0,453.1 L703.6,453.1 L704.3,453.1 L705.0,453.1 L705.6,453.1 L706.3,453.1 L707.0,453.1 L707.7,453.1 L708.3,453.1 L709.0,453.1 L709.7,453.1 L710.3,453.1 L711.0,453.1 L711.7,453.1 L712.4,453.1 L713.0,453.1 L713.7,453.1 L714.4,453.1 L715.1,453.1 L715.7,453.1 L716.4,453.1 L717.1,453.1 L717.7,453.1 L718.4,453.1 L719.1,453.1 L719.8,453.1 L720.4,453.1 L721.1,453.1 L721.8,453.1 L722.4,453.1 L723.1,453.1 L723.8,453.1 L724.5,453.1 L725.1,453.1 L725.8,453.1 L726.5,453.1 L727.1,453.1" fill="none" stroke="#f0561e" stroke-width="1.7" stroke-linejoin="round"/>
<path d="M122.2,453.3 L122.9,453.3 L123.5,453.3 L124.2,453.3 L124.9,453.3 L125.6,453.3 L126.2,453.3 L126.9,453.3 L127.6,453.3 L128.2,453.3 L128.9,453.3 L129.6,453.3 L130.3,453.3 L130.9,453.3 L131.6,453.3 L132.3,453.3 L133.0,453.3 L133.6,453.3 L134.3,453.3 L135.0,453.3 L135.6,453.3 L136.3,453.3 L137.0,453.3 L137.7,453.3 L138.3,453.3 L139.0,453.3 L139.7,453.3 L140.3,453.3 L141.0,453.3 L141.7,453.3 L142.4,453.3 L143.0,453.3 L143.7,453.3 L144.4,453.3 L145.1,453.3 L145.7,453.3 L146.4,453.3 L147.1,453.3 L147.7,453.3 L148.4,453.3 L149.1,453.3 L149.8,453.3 L150.4,453.3 L151.1,453.3 L151.8,453.3 L152.4,453.3 L153.1,453.3 L153.8,453.3 L154.5,453.3 L155.1,453.3 L155.8,453.3 L156.5,453.3 L157.2,453.3 L157.8,453.3 L158.5,453.3 L159.2,453.3 L159.8,453.3 L160.5,453.3 L161.2,453.3 L161.9,453.3 L162.5,453.3 L163.2,453.3 L163.9,453.3 L164.5,453.3 L165.2,453.3 L165.9,453.3 L166.6,453.3 L167.2,453.3 L167.9,453.3 L168.6,453.3 L169.3,453.3 L169.9,453.3 L170.6,453.3 L171.3,453.3 L171.9,453.3 L172.6,453.3 L173.3,453.3 L174.0,453.3 L174.6,453.3 L175.3,453.3 L176.0,453.3 L176.6,453.3 L177.3,453.3 L178.0,453.3 L178.7,453.3 L179.3,453.3 L180.0,453.3 L180.7,453.3 L181.4,453.3 L182.0,453.3 L182.7,453.3 L183.4,453.3 L184.0,453.3 L184.7,453.3 L185.4,453.3 L186.1,453.3 L186.7,453.3 L187.4,453.3 L188.1,453.3 L188.7,453.3 L189.4,453.3 L190.1,453.3 L190.8,453.3 L191.4,453.3 L192.1,453.3 L192.8,453.3 L193.4,453.3 L194.1,453.3 L194.8,453.3 L195.5,453.3 L196.1,453.3 L196.8,453.3 L197.5,453.3 L198.2,453.3 L198.8,453.3 L199.5,453.3 L200.2,453.3 L200.8,453.3 L201.5,453.3 L202.2,453.3 L202.9,453.3 L203.5,453.3 L204.2,453.3 L204.9,453.3 L205.5,453.3 L206.2,453.3 L206.9,453.3 L207.6,453.3 L208.2,453.3 L208.9,453.3 L209.6,453.3 L210.3,453.3 L210.9,453.3 L211.6,453.3 L212.3,453.3 L212.9,453.3 L213.6,453.3 L214.3,453.3 L215.0,453.3 L215.6,453.3 L216.3,453.3 L217.0,453.3 L217.6,453.3 L218.3,453.3 L219.0,453.3 L219.7,453.3 L220.3,453.3 L221.0,453.3 L221.7,453.3 L222.4,453.3 L223.0,453.3 L223.7,453.3 L224.4,453.3 L225.0,453.3 L225.7,453.3 L226.4,453.3 L227.1,453.3 L227.7,453.3 L228.4,453.3 L229.1,453.3 L229.7,453.3 L230.4,453.3 L231.1,453.3 L231.8,453.3 L232.4,453.3 L233.1,453.3 L233.8,453.3 L234.5,453.3 L235.1,453.3 L235.8,453.3 L236.5,453.3 L237.1,453.3 L237.8,453.3 L238.5,453.3 L239.2,453.3 L239.8,453.3 L240.5,453.3 L241.2,453.3 L241.8,453.3 L242.5,453.3 L243.2,453.3 L243.9,453.3 L244.5,453.2 L245.2,453.2 L245.9,453.2 L246.6,453.2 L247.2,453.2 L247.9,453.2 L248.6,453.2 L249.2,453.2 L249.9,453.2 L250.6,453.2 L251.3,453.2 L251.9,453.2 L252.6,453.2 L253.3,453.2 L253.9,453.2 L254.6,453.2 L255.3,453.2 L256.0,453.2 L256.6,453.2 L257.3,453.2 L258.0,453.2 L258.6,453.2 L259.3,453.2 L260.0,453.2 L260.7,453.2 L261.3,453.2 L262.0,453.2 L262.7,453.2 L263.4,453.2 L264.0,453.2 L264.7,453.2 L265.4,453.2 L266.0,453.2 L266.7,453.2 L267.4,453.2 L268.1,453.2 L268.7,453.2 L269.4,453.2 L270.1,453.2 L270.7,453.2 L271.4,453.2 L272.1,453.2 L272.8,453.2 L273.4,453.2 L274.1,453.2 L274.8,453.2 L275.5,453.2 L276.1,453.2 L276.8,453.2 L277.5,453.2 L278.1,453.1 L278.8,453.1 L279.5,453.1 L280.2,453.1 L280.8,453.1 L281.5,453.1 L282.2,453.1 L282.8,453.1 L283.5,453.0 L284.2,453.0 L284.9,453.0 L285.5,453.0 L286.2,453.0 L286.9,453.0 L287.6,453.0 L288.2,452.9 L288.9,452.9 L289.6,452.9 L290.2,452.9 L290.9,452.9 L291.6,452.8 L292.3,452.8 L292.9,452.8 L293.6,452.8 L294.3,452.7 L294.9,452.7 L295.6,452.7 L296.3,452.7 L297.0,452.6 L297.6,452.6 L298.3,452.6 L299.0,452.6 L299.7,452.5 L300.3,452.5 L301.0,452.5 L301.7,452.4 L302.3,452.4 L303.0,452.4 L303.7,452.3 L304.4,452.3 L305.0,452.3 L305.7,452.2 L306.4,452.2 L307.0,452.2 L307.7,452.1 L308.4,452.1 L309.1,452.1 L309.7,452.0 L310.4,452.0 L311.1,451.9 L311.8,451.9 L312.4,451.9 L313.1,451.8 L313.8,451.8 L314.4,451.7 L315.1,451.7 L315.8,451.6 L316.5,451.6 L317.1,451.6 L317.8,451.5 L318.5,451.5 L319.1,451.4 L319.8,451.4 L320.5,451.3 L321.2,451.3 L321.8,451.2 L322.5,451.2 L323.2,451.1 L323.8,451.1 L324.5,451.0 L325.2,451.0 L325.9,450.9 L326.5,450.9 L327.2,450.8 L327.9,450.8 L328.6,450.7 L329.2,450.7 L329.9,450.6 L330.6,450.6 L331.2,450.5 L331.9,450.5 L332.6,450.4 L333.3,450.4 L333.9,450.3 L334.6,450.3 L335.3,450.2 L335.9,450.1 L336.6,450.1 L337.3,450.0 L338.0,450.0 L338.6,449.9 L339.3,449.8 L340.0,449.7 L340.7,449.6 L341.3,449.6 L342.0,449.5 L342.7,449.4 L343.3,449.3 L344.0,449.1 L344.7,449.0 L345.4,448.9 L346.0,448.8 L346.7,448.6 L347.4,448.4 L348.0,448.3 L348.7,448.1 L349.4,447.9 L350.1,447.6 L350.7,447.4 L351.4,447.1 L352.1,446.8 L352.8,446.5 L353.4,446.1 L354.1,445.7 L354.8,445.3 L355.4,444.8 L356.1,444.3 L356.8,443.7 L357.5,443.0 L358.1,442.3 L358.8,441.6 L359.5,440.7 L360.1,439.8 L360.8,438.7 L361.5,437.6 L362.2,436.4 L362.8,435.0 L363.5,433.6 L364.2,432.0 L364.9,430.2 L365.5,428.3 L366.2,426.3 L366.9,424.1 L367.5,421.7 L368.2,419.1 L368.9,416.3 L369.6,413.4 L370.2,410.2 L370.9,406.8 L371.6,403.1 L372.2,399.2 L372.9,395.1 L373.6,390.7 L374.3,386.0 L374.9,381.1 L375.6,376.0 L376.3,370.5 L377.0,364.8 L377.6,358.8 L378.3,352.6 L379.0,346.1 L379.6,339.3 L380.3,332.3 L381.0,325.1 L381.7,317.6 L382.3,310.0 L383.0,302.1 L383.7,294.0 L384.3,285.8 L385.0,277.5 L385.7,269.0 L386.4,260.5 L387.0,251.9 L387.7,243.3 L388.4,234.7 L389.1,226.1 L389.7,217.5 L390.4,209.1 L391.1,200.9 L391.7,192.8 L392.4,184.9 L393.1,177.3 L393.8,170.0 L394.4,163.0 L395.1,156.4 L395.8,150.2 L396.4,144.4 L397.1,139.2 L397.8,134.4 L398.5,130.2 L399.1,126.6 L399.8,123.6 L400.5,121.1 L401.1,119.4 L401.8,118.2 L402.5,117.7 L403.2,118.1 L403.8,119.6 L404.5,122.2 L405.2,125.8 L405.9,130.4 L406.5,135.8 L407.2,142.1 L407.9,149.0 L408.5,156.5 L409.2,164.6 L409.9,173.0 L410.6,181.7 L411.2,190.6 L411.9,199.7 L412.6,208.7 L413.2,217.8 L413.9,226.8 L414.6,235.6 L415.3,244.2 L415.9,252.5 L416.6,260.6 L417.3,268.3 L418.0,275.7 L418.6,282.7 L419.3,289.3 L420.0,295.5 L420.6,301.3 L421.3,306.6 L422.0,311.6 L422.7,316.1 L423.3,320.2 L424.0,324.0 L424.7,327.3 L425.3,330.3 L426.0,333.0 L426.7,335.4 L427.4,337.5 L428.0,339.3 L428.7,341.0 L429.4,342.6 L430.1,344.0 L430.7,345.3 L431.4,346.7 L432.1,348.0 L432.7,349.4 L433.4,350.9 L434.1,352.6 L434.8,354.4 L435.4,356.3 L436.1,358.2 L436.8,360.2 L437.4,362.2 L438.1,364.3 L438.8,366.5 L439.5,368.7 L440.1,370.9 L440.8,373.2 L441.5,375.5 L442.2,377.8 L442.8,380.2 L443.5,382.5 L444.2,384.9 L444.8,387.2 L445.5,389.6 L446.2,391.9 L446.9,394.2 L447.5,396.5 L448.2,398.7 L448.9,400.9 L449.5,403.0 L450.2,405.1 L450.9,407.2 L451.6,409.1 L452.2,411.0 L452.9,412.9 L453.6,414.7 L454.3,416.4 L454.9,418.1 L455.6,419.7 L456.3,421.2 L456.9,422.7 L457.6,424.1 L458.3,425.4 L459.0,426.6 L459.6,427.8 L460.3,429.0 L461.0,430.1 L461.6,431.1 L462.3,432.0 L463.0,432.9 L463.7,433.8 L464.3,434.6 L465.0,435.4 L465.7,436.1 L466.3,436.7 L467.0,437.4 L467.7,437.9 L468.4,438.5 L469.0,439.0 L469.7,439.5 L470.4,439.9 L471.1,440.4 L471.7,440.8 L472.4,441.2 L473.1,441.5 L473.7,441.8 L474.4,442.2 L475.1,442.5 L475.8,442.7 L476.4,443.0 L477.1,443.2 L477.8,443.5 L478.4,443.7 L479.1,443.9 L479.8,444.1 L480.5,444.3 L481.1,444.5 L481.8,444.7 L482.5,444.8 L483.2,445.0 L483.8,445.2 L484.5,445.3 L485.2,445.4 L485.8,445.6 L486.5,445.7 L487.2,445.8 L487.9,445.9 L488.5,446.1 L489.2,446.2 L489.9,446.3 L490.5,446.4 L491.2,446.5 L491.9,446.5 L492.6,446.6 L493.2,446.7 L493.9,446.8 L494.6,446.9 L495.3,446.9 L495.9,447.0 L496.6,447.0 L497.3,447.1 L497.9,447.1 L498.6,447.2 L499.3,447.2 L500.0,447.2 L500.6,447.3 L501.3,447.3 L502.0,447.3 L502.6,447.3 L503.3,447.3 L504.0,447.3 L504.7,447.3 L505.3,447.3 L506.0,447.2 L506.7,447.2 L507.4,447.2 L508.0,447.1 L508.7,447.1 L509.4,447.0 L510.0,447.0 L510.7,446.9 L511.4,446.8 L512.1,446.8 L512.7,446.7 L513.4,446.6 L514.1,446.5 L514.7,446.4 L515.4,446.2 L516.1,446.1 L516.8,446.0 L517.4,445.9 L518.1,445.7 L518.8,445.6 L519.5,445.5 L520.1,445.3 L520.8,445.2 L521.5,445.0 L522.1,444.9 L522.8,444.7 L523.5,444.5 L524.2,444.4 L524.8,444.2 L525.5,444.1 L526.2,443.9 L526.8,443.8 L527.5,443.6 L528.2,443.4 L528.9,443.3 L529.5,443.2 L530.2,443.0 L530.9,442.9 L531.5,442.8 L532.2,442.7 L532.9,442.6 L533.6,442.5 L534.2,442.4 L534.9,442.3 L535.6,442.3 L536.3,442.2 L536.9,442.2 L537.6,442.1 L538.3,442.1 L538.9,442.1 L539.6,442.2 L540.3,442.2 L541.0,442.2 L541.6,442.3 L542.3,442.3 L543.0,442.4 L543.6,442.5 L544.3,442.6 L545.0,442.7 L545.7,442.8 L546.3,442.9 L547.0,443.0 L547.7,443.1 L548.4,443.3 L549.0,443.4 L549.7,443.6 L550.4,443.7 L551.0,443.9 L551.7,444.0 L552.4,444.2 L553.1,444.4 L553.7,444.5 L554.4,444.7 L555.1,444.9 L555.7,445.1 L556.4,445.2 L557.1,445.4 L557.8,445.6 L558.4,445.8 L559.1,446.0 L559.8,446.1 L560.5,446.3 L561.1,446.5 L561.8,446.7 L562.5,446.9 L563.1,447.0 L563.8,447.2 L564.5,447.4 L565.2,447.6 L565.8,447.7 L566.5,447.9 L567.2,448.0 L567.8,448.2 L568.5,448.4 L569.2,448.5 L569.9,448.6 L570.5,448.8 L571.2,448.9 L571.9,449.1 L572.6,449.2 L573.2,449.3 L573.9,449.4 L574.6,449.6 L575.2,449.7 L575.9,449.8 L576.6,449.9 L577.3,450.0 L577.9,450.1 L578.6,450.2 L579.3,450.3 L579.9,450.4 L580.6,450.5 L581.3,450.6 L582.0,450.6 L582.6,450.7 L583.3,450.8 L584.0,450.8 L584.7,450.9 L585.3,451.0 L586.0,451.0 L586.7,451.1 L587.3,451.2 L588.0,451.2 L588.7,451.3 L589.4,451.3 L590.0,451.4 L590.7,451.4 L591.4,451.4 L592.0,451.5 L592.7,451.5 L593.4,451.6 L594.1,451.6 L594.7,451.6 L595.4,451.7 L596.1,451.7 L596.7,451.7 L597.4,451.7 L598.1,451.8 L598.8,451.8 L599.4,451.8 L600.1,451.9 L600.8,451.9 L601.5,451.9 L602.1,451.9 L602.8,451.9 L603.5,452.0 L604.1,452.0 L604.8,452.0 L605.5,452.0 L606.2,452.0 L606.8,452.1 L607.5,452.1 L608.2,452.1 L608.8,452.1 L609.5,452.1 L610.2,452.1 L610.9,452.2 L611.5,452.2 L612.2,452.2 L612.9,452.2 L613.6,452.2 L614.2,452.2 L614.9,452.2 L615.6,452.3 L616.2,452.3 L616.9,452.3 L617.6,452.3 L618.3,452.3 L618.9,452.3 L619.6,452.3 L620.3,452.3 L620.9,452.4 L621.6,452.4 L622.3,452.4 L623.0,452.4 L623.6,452.4 L624.3,452.4 L625.0,452.4 L625.7,452.4 L626.3,452.4 L627.0,452.5 L627.7,452.5 L628.3,452.5 L629.0,452.5 L629.7,452.5 L630.4,452.5 L631.0,452.5 L631.7,452.5 L632.4,452.5 L633.0,452.6 L633.7,452.6 L634.4,452.6 L635.1,452.6 L635.7,452.6 L636.4,452.6 L637.1,452.6 L637.8,452.6 L638.4,452.6 L639.1,452.6 L639.8,452.6 L640.4,452.7 L641.1,452.7 L641.8,452.7 L642.5,452.7 L643.1,452.7 L643.8,452.7 L644.5,452.7 L645.1,452.7 L645.8,452.7 L646.5,452.7 L647.2,452.7 L647.8,452.7 L648.5,452.8 L649.2,452.8 L649.9,452.8 L650.5,452.8 L651.2,452.8 L651.9,452.8 L652.5,452.8 L653.2,452.8 L653.9,452.8 L654.6,452.8 L655.2,452.8 L655.9,452.8 L656.6,452.8 L657.2,452.8 L657.9,452.9 L658.6,452.9 L659.3,452.9 L659.9,452.9 L660.6,452.9 L661.3,452.9 L661.9,452.9 L662.6,452.9 L663.3,452.9 L664.0,452.9 L664.6,452.9 L665.3,452.9 L666.0,452.9 L666.7,452.9 L667.3,452.9 L668.0,452.9 L668.7,452.9 L669.3,453.0 L670.0,453.0 L670.7,453.0 L671.4,453.0 L672.0,453.0 L672.7,453.0 L673.4,453.0 L674.0,453.0 L674.7,453.0 L675.4,453.0 L676.1,453.0 L676.7,453.0 L677.4,453.0 L678.1,453.0 L678.8,453.0 L679.4,453.0 L680.1,453.0 L680.8,453.0 L681.4,453.0 L682.1,453.0 L682.8,453.0 L683.5,453.0 L684.1,453.0 L684.8,453.0 L685.5,453.1 L686.1,453.1 L686.8,453.1 L687.5,453.1 L688.2,453.1 L688.8,453.1 L689.5,453.1 L690.2,453.1 L690.9,453.1 L691.5,453.1 L692.2,453.1 L692.9,453.1 L693.5,453.1 L694.2,453.1 L694.9,453.1 L695.6,453.1 L696.2,453.1 L696.9,453.1 L697.6,453.1 L698.2,453.1 L698.9,453.1 L699.6,453.1 L700.3,453.1 L700.9,453.1 L701.6,453.1 L702.3,453.1 L703.0,453.1 L703.6,453.1 L704.3,453.1 L705.0,453.1 L705.6,453.1 L706.3,453.1 L707.0,453.1 L707.7,453.1 L708.3,453.1 L709.0,453.1 L709.7,453.1 L710.3,453.1 L711.0,453.1 L711.7,453.1 L712.4,453.1 L713.0,453.1 L713.7,453.1 L714.4,453.1 L715.1,453.1 L715.7,453.1 L716.4,453.1 L717.1,453.1 L717.7,453.1 L718.4,453.1 L719.1,453.1 L719.8,453.1 L720.4,453.1 L721.1,453.1 L721.8,453.1 L722.4,453.1 L723.1,453.1 L723.8,453.1 L724.5,453.1 L725.1,453.1 L725.8,453.1 L726.5,453.1 L727.1,453.1" fill="none" stroke="#e8452c" stroke-width="2.6" stroke-linejoin="round"/>
<path d="M562.7,37.6 H605.8" stroke="#000000" stroke-width="1.6"/>
<text x="630.5" y="47.2" class="lg">WT</text>
<path d="M562.7,87.3 H605.8" stroke="#e8452c" stroke-width="1.6"/>
<text x="630.5" y="96.9" class="lg">Q169A</text>
<path d="M562.7,142.5 H605.8" stroke="#3f8397" stroke-width="1.6"/>
<text x="630.5" y="152.1" class="lg">Q305A</text>
<path d="M562.7,197.1 H605.8" stroke="#45107a" stroke-width="1.6"/>
<text x="630.5" y="206.7" class="lg">Q306A</text>
<path d="M562.7,251.8 H605.8" stroke="#b4c236" stroke-width="1.6"/>
<text x="630.5" y="261.4" class="lg">N311A</text>
<path d="M562.7,306.7 H605.8" stroke="#f0561e" stroke-width="1.6"/>
<text x="630.5" y="316.3" class="lg">N341A</text>
<path d="M562.7,361.1 H605.8" stroke="#e6ea3a" stroke-width="1.6"/>
<text x="630.5" y="370.7" class="lg">A404E</text>
<path d="M562.7,415.8 H605.8" stroke="#9cecc4" stroke-width="1.6"/>
<text x="630.5" y="425.4" class="lg">W412A</text>
<path d="M909.3,50.1 V456.6 H1518.6" fill="none" stroke="#000" stroke-width="1.8" stroke-linecap="square"/>
<path d="M897.8,456.6 H909.3" stroke="#000" stroke-width="1.8"/>
<text x="891.8" y="466.8" text-anchor="end" class="tk">0</text>
<path d="M897.8,388.9 H909.3" stroke="#000" stroke-width="1.8"/>
<text x="891.8" y="399.1" text-anchor="end" class="tk">20</text>
<path d="M897.8,321.1 H909.3" stroke="#000" stroke-width="1.8"/>
<text x="891.8" y="331.3" text-anchor="end" class="tk">40</text>
<path d="M897.8,253.4 H909.3" stroke="#000" stroke-width="1.8"/>
<text x="891.8" y="263.6" text-anchor="end" class="tk">60</text>
<path d="M897.8,185.6 H909.3" stroke="#000" stroke-width="1.8"/>
<text x="891.8" y="195.8" text-anchor="end" class="tk">80</text>
<path d="M897.8,117.9 H909.3" stroke="#000" stroke-width="1.8"/>
<text x="891.8" y="128.1" text-anchor="end" class="tk">100</text>
<path d="M897.8,50.1 H909.3" stroke="#000" stroke-width="1.8"/>
<text x="891.8" y="60.3" text-anchor="end" class="tk">120</text>
<path d="M949.9,456.6 V467.6" stroke="#000" stroke-width="1.8"/>
<text x="949.9" y="502.1" text-anchor="middle" class="tk">6</text>
<path d="M1031.2,456.6 V467.6" stroke="#000" stroke-width="1.8"/>
<text x="1031.2" y="502.1" text-anchor="middle" class="tk">8</text>
<path d="M1112.4,456.6 V467.6" stroke="#000" stroke-width="1.8"/>
<text x="1112.4" y="502.1" text-anchor="middle" class="tk">10</text>
<path d="M1193.6,456.6 V467.6" stroke="#000" stroke-width="1.8"/>
<text x="1193.6" y="502.1" text-anchor="middle" class="tk">12</text>
<path d="M1274.9,456.6 V467.6" stroke="#000" stroke-width="1.8"/>
<text x="1274.9" y="502.1" text-anchor="middle" class="tk">14</text>
<path d="M1356.1,456.6 V467.6" stroke="#000" stroke-width="1.8"/>
<text x="1356.1" y="502.1" text-anchor="middle" class="tk">16</text>
<path d="M1437.4,456.6 V467.6" stroke="#000" stroke-width="1.8"/>
<text x="1437.4" y="502.1" text-anchor="middle" class="tk">18</text>
<path d="M1518.6,456.6 V467.6" stroke="#000" stroke-width="1.8"/>
<text x="1518.6" y="502.1" text-anchor="middle" class="tk">20</text>
<text x="1214.5" y="549.2" text-anchor="middle" class="ti">Volume (mL)</text>
<text transform="translate(823.0,253.4) rotate(-90)" text-anchor="middle" class="ti">Normalized FI signal</text>
<path d="M909.3,455.5 L910.0,455.5 L910.7,455.5 L911.3,455.5 L912.0,455.5 L912.7,455.5 L913.4,455.5 L914.0,455.5 L914.7,455.5 L915.4,455.5 L916.1,455.5 L916.7,455.5 L917.4,455.5 L918.1,455.5 L918.8,455.5 L919.5,455.5 L920.1,455.5 L920.8,455.5 L921.5,455.5 L922.2,455.5 L922.8,455.5 L923.5,455.5 L924.2,455.5 L924.9,455.5 L925.5,455.5 L926.2,455.5 L926.9,455.5 L927.6,455.5 L928.3,455.5 L928.9,455.5 L929.6,455.5 L930.3,455.5 L931.0,455.5 L931.6,455.5 L932.3,455.5 L933.0,455.5 L933.7,455.5 L934.3,455.5 L935.0,455.5 L935.7,455.5 L936.4,455.5 L937.1,455.5 L937.7,455.5 L938.4,455.5 L939.1,455.5 L939.8,455.5 L940.4,455.5 L941.1,455.5 L941.8,455.5 L942.5,455.5 L943.1,455.5 L943.8,455.5 L944.5,455.5 L945.2,455.5 L945.9,455.5 L946.5,455.5 L947.2,455.5 L947.9,455.5 L948.6,455.5 L949.2,455.5 L949.9,455.5 L950.6,455.5 L951.3,455.5 L952.0,455.5 L952.6,455.5 L953.3,455.5 L954.0,455.5 L954.7,455.5 L955.3,455.5 L956.0,455.5 L956.7,455.5 L957.4,455.5 L958.0,455.5 L958.7,455.5 L959.4,455.5 L960.1,455.5 L960.8,455.5 L961.4,455.5 L962.1,455.5 L962.8,455.5 L963.5,455.5 L964.1,455.5 L964.8,455.5 L965.5,455.5 L966.2,455.5 L966.8,455.5 L967.5,455.5 L968.2,455.5 L968.9,455.5 L969.6,455.5 L970.2,455.5 L970.9,455.5 L971.6,455.5 L972.3,455.5 L972.9,455.5 L973.6,455.5 L974.3,455.5 L975.0,455.5 L975.6,455.5 L976.3,455.5 L977.0,455.5 L977.7,455.5 L978.4,455.5 L979.0,455.5 L979.7,455.5 L980.4,455.5 L981.1,455.5 L981.7,455.5 L982.4,455.5 L983.1,455.5 L983.8,455.5 L984.4,455.5 L985.1,455.5 L985.8,455.5 L986.5,455.5 L987.2,455.5 L987.8,455.5 L988.5,455.5 L989.2,455.5 L989.9,455.5 L990.5,455.5 L991.2,455.5 L991.9,455.5 L992.6,455.5 L993.2,455.5 L993.9,455.5 L994.6,455.5 L995.3,455.5 L996.0,455.5 L996.6,455.5 L997.3,455.5 L998.0,455.5 L998.7,455.5 L999.3,455.5 L1000.0,455.5 L1000.7,455.5 L1001.4,455.5 L1002.0,455.5 L1002.7,455.5 L1003.4,455.5 L1004.1,455.5 L1004.8,455.5 L1005.4,455.5 L1006.1,455.5 L1006.8,455.5 L1007.5,455.5 L1008.1,455.5 L1008.8,455.5 L1009.5,455.5 L1010.2,455.5 L1010.8,455.5 L1011.5,455.5 L1012.2,455.5 L1012.9,455.5 L1013.6,455.5 L1014.2,455.5 L1014.9,455.5 L1015.6,455.5 L1016.3,455.5 L1016.9,455.5 L1017.6,455.5 L1018.3,455.5 L1019.0,455.5 L1019.7,455.5 L1020.3,455.5 L1021.0,455.5 L1021.7,455.5 L1022.4,455.5 L1023.0,455.5 L1023.7,455.5 L1024.4,455.5 L1025.1,455.5 L1025.7,455.5 L1026.4,455.5 L1027.1,455.5 L1027.8,455.5 L1028.5,455.5 L1029.1,455.5 L1029.8,455.5 L1030.5,455.5 L1031.2,455.5 L1031.8,455.5 L1032.5,455.4 L1033.2,455.4 L1033.9,455.4 L1034.5,455.4 L1035.2,455.4 L1035.9,455.4 L1036.6,455.4 L1037.3,455.4 L1037.9,455.4 L1038.6,455.4 L1039.3,455.4 L1040.0,455.4 L1040.6,455.4 L1041.3,455.4 L1042.0,455.4 L1042.7,455.4 L1043.3,455.4 L1044.0,455.4 L1044.7,455.4 L1045.4,455.4 L1046.1,455.4 L1046.7,455.4 L1047.4,455.4 L1048.1,455.4 L1048.8,455.4 L1049.4,455.4 L1050.1,455.4 L1050.8,455.4 L1051.5,455.4 L1052.1,455.4 L1052.8,455.4 L1053.5,455.4 L1054.2,455.4 L1054.9,455.4 L1055.5,455.4 L1056.2,455.4 L1056.9,455.4 L1057.6,455.4 L1058.2,455.4 L1058.9,455.4 L1059.6,455.4 L1060.3,455.4 L1060.9,455.3 L1061.6,455.3 L1062.3,455.3 L1063.0,455.3 L1063.7,455.3 L1064.3,455.3 L1065.0,455.3 L1065.7,455.3 L1066.4,455.2 L1067.0,455.2 L1067.7,455.2 L1068.4,455.2 L1069.1,455.2 L1069.7,455.1 L1070.4,455.1 L1071.1,455.1 L1071.8,455.1 L1072.5,455.0 L1073.1,455.0 L1073.8,455.0 L1074.5,454.9 L1075.2,454.9 L1075.8,454.9 L1076.5,454.8 L1077.2,454.8 L1077.9,454.7 L1078.5,454.7 L1079.2,454.7 L1079.9,454.6 L1080.6,454.6 L1081.3,454.5 L1081.9,454.5 L1082.6,454.4 L1083.3,454.4 L1084.0,454.3 L1084.6,454.3 L1085.3,454.2 L1086.0,454.2 L1086.7,454.1 L1087.4,454.0 L1088.0,454.0 L1088.7,453.9 L1089.4,453.9 L1090.1,453.8 L1090.7,453.7 L1091.4,453.6 L1092.1,453.6 L1092.8,453.5 L1093.4,453.4 L1094.1,453.3 L1094.8,453.3 L1095.5,453.2 L1096.2,453.1 L1096.8,453.0 L1097.5,452.9 L1098.2,452.8 L1098.9,452.8 L1099.5,452.7 L1100.2,452.6 L1100.9,452.5 L1101.6,452.4 L1102.2,452.3 L1102.9,452.2 L1103.6,452.1 L1104.3,452.0 L1105.0,451.8 L1105.6,451.7 L1106.3,451.6 L1107.0,451.5 L1107.7,451.4 L1108.3,451.3 L1109.0,451.1 L1109.7,451.0 L1110.4,450.9 L1111.0,450.8 L1111.7,450.6 L1112.4,450.5 L1113.1,450.4 L1113.8,450.2 L1114.4,450.1 L1115.1,450.0 L1115.8,449.8 L1116.5,449.7 L1117.1,449.5 L1117.8,449.4 L1118.5,449.2 L1119.2,449.1 L1119.8,448.9 L1120.5,448.8 L1121.2,448.6 L1121.9,448.5 L1122.6,448.3 L1123.2,448.1 L1123.9,447.9 L1124.6,447.8 L1125.3,447.6 L1125.9,447.4 L1126.6,447.1 L1127.3,446.9 L1128.0,446.7 L1128.6,446.5 L1129.3,446.2 L1130.0,446.0 L1130.7,445.7 L1131.4,445.4 L1132.0,445.2 L1132.7,444.9 L1133.4,444.5 L1134.1,444.2 L1134.7,443.9 L1135.4,443.5 L1136.1,443.2 L1136.8,442.8 L1137.4,442.4 L1138.1,441.9 L1138.8,441.5 L1139.5,441.0 L1140.2,440.5 L1140.8,440.0 L1141.5,439.5 L1142.2,438.9 L1142.9,438.3 L1143.5,437.6 L1144.2,436.9 L1144.9,436.2 L1145.6,435.4 L1146.2,434.6 L1146.9,433.7 L1147.6,432.7 L1148.3,431.6 L1149.0,430.5 L1149.6,429.2 L1150.3,427.9 L1151.0,426.4 L1151.7,424.7 L1152.3,422.9 L1153.0,420.9 L1153.7,418.7 L1154.4,416.2 L1155.1,413.5 L1155.7,410.4 L1156.4,407.0 L1157.1,403.2 L1157.8,399.1 L1158.4,394.4 L1159.1,389.3 L1159.8,383.6 L1160.5,377.3 L1161.1,370.5 L1161.8,363.0 L1162.5,354.8 L1163.2,345.9 L1163.9,336.3 L1164.5,326.0 L1165.2,315.0 L1165.9,303.3 L1166.6,290.9 L1167.2,277.9 L1167.9,264.3 L1168.6,250.2 L1169.3,235.7 L1169.9,221.1 L1170.6,206.3 L1171.3,191.8 L1172.0,177.7 L1172.7,164.3 L1173.3,151.9 L1174.0,140.9 L1174.7,131.6 L1175.4,124.3 L1176.0,119.3 L1176.7,116.9 L1177.4,116.8 L1178.1,118.7 L1178.7,122.2 L1179.4,127.4 L1180.1,134.1 L1180.8,142.1 L1181.5,151.2 L1182.1,161.3 L1182.8,172.0 L1183.5,183.3 L1184.2,194.9 L1184.8,206.7 L1185.5,218.5 L1186.2,230.3 L1186.9,241.9 L1187.5,253.1 L1188.2,264.0 L1188.9,274.5 L1189.6,284.5 L1190.3,293.9 L1190.9,302.6 L1191.6,310.8 L1192.3,318.3 L1193.0,325.0 L1193.6,331.1 L1194.3,336.4 L1195.0,340.8 L1195.7,344.5 L1196.3,347.4 L1197.0,349.5 L1197.7,350.8 L1198.4,351.3 L1199.1,351.0 L1199.7,349.9 L1200.4,348.2 L1201.1,345.8 L1201.8,342.8 L1202.4,339.3 L1203.1,335.5 L1203.8,331.3 L1204.5,327.1 L1205.1,323.0 L1205.8,319.2 L1206.5,315.8 L1207.2,313.3 L1207.9,311.7 L1208.5,311.2 L1209.2,311.9 L1209.9,313.5 L1210.6,315.5 L1211.2,318.1 L1211.9,321.1 L1212.6,324.5 L1213.3,328.3 L1213.9,332.5 L1214.6,336.8 L1215.3,341.4 L1216.0,346.1 L1216.7,350.9 L1217.3,355.7 L1218.0,360.6 L1218.7,365.4 L1219.4,370.1 L1220.0,374.7 L1220.7,379.2 L1221.4,383.5 L1222.1,387.7 L1222.8,391.7 L1223.4,395.5 L1224.1,399.2 L1224.8,402.6 L1225.5,405.9 L1226.1,409.0 L1226.8,411.8 L1227.5,414.5 L1228.2,417.0 L1228.8,419.4 L1229.5,421.5 L1230.2,423.5 L1230.9,425.4 L1231.6,427.1 L1232.2,428.7 L1232.9,430.1 L1233.6,431.4 L1234.3,432.6 L1234.9,433.8 L1235.6,434.8 L1236.3,435.7 L1237.0,436.6 L1237.6,437.4 L1238.3,438.1 L1239.0,438.8 L1239.7,439.4 L1240.4,440.0 L1241.0,440.5 L1241.7,441.0 L1242.4,441.5 L1243.1,442.0 L1243.7,442.4 L1244.4,442.8 L1245.1,443.1 L1245.8,443.5 L1246.4,443.8 L1247.1,444.1 L1247.8,444.4 L1248.5,444.7 L1249.2,444.9 L1249.8,445.2 L1250.5,445.4 L1251.2,445.7 L1251.9,445.9 L1252.5,446.1 L1253.2,446.3 L1253.9,446.5 L1254.6,446.7 L1255.2,446.9 L1255.9,447.1 L1256.6,447.3 L1257.3,447.4 L1258.0,447.6 L1258.6,447.8 L1259.3,447.9 L1260.0,448.1 L1260.7,448.2 L1261.3,448.4 L1262.0,448.5 L1262.7,448.6 L1263.4,448.7 L1264.0,448.9 L1264.7,449.0 L1265.4,449.1 L1266.1,449.2 L1266.8,449.3 L1267.4,449.4 L1268.1,449.5 L1268.8,449.6 L1269.5,449.7 L1270.1,449.8 L1270.8,449.9 L1271.5,450.0 L1272.2,450.1 L1272.8,450.2 L1273.5,450.3 L1274.2,450.3 L1274.9,450.4 L1275.6,450.5 L1276.2,450.6 L1276.9,450.6 L1277.6,450.7 L1278.3,450.8 L1278.9,450.9 L1279.6,450.9 L1280.3,451.0 L1281.0,451.0 L1281.6,451.1 L1282.3,451.2 L1283.0,451.2 L1283.7,451.3 L1284.4,451.3 L1285.0,451.4 L1285.7,451.4 L1286.4,451.5 L1287.1,451.5 L1287.7,451.6 L1288.4,451.6 L1289.1,451.6 L1289.8,451.7 L1290.5,451.7 L1291.1,451.7 L1291.8,451.8 L1292.5,451.8 L1293.2,451.8 L1293.8,451.9 L1294.5,451.9 L1295.2,451.9 L1295.9,451.9 L1296.5,451.9 L1297.2,451.9 L1297.9,451.9 L1298.6,451.9 L1299.3,451.9 L1299.9,451.9 L1300.6,451.8 L1301.3,451.8 L1302.0,451.7 L1302.6,451.6 L1303.3,451.5 L1304.0,451.4 L1304.7,451.2 L1305.3,451.0 L1306.0,450.8 L1306.7,450.5 L1307.4,450.2 L1308.1,449.9 L1308.7,449.5 L1309.4,449.0 L1310.1,448.5 L1310.8,448.0 L1311.4,447.4 L1312.1,446.7 L1312.8,446.0 L1313.5,445.3 L1314.1,444.5 L1314.8,443.7 L1315.5,442.8 L1316.2,442.0 L1316.9,441.1 L1317.5,440.2 L1318.2,439.4 L1318.9,438.6 L1319.6,437.8 L1320.2,437.1 L1320.9,436.4 L1321.6,435.9 L1322.3,435.4 L1322.9,435.1 L1323.6,434.9 L1324.3,434.8 L1325.0,434.8 L1325.7,435.0 L1326.3,435.2 L1327.0,435.6 L1327.7,436.0 L1328.4,436.5 L1329.0,437.1 L1329.7,437.7 L1330.4,438.4 L1331.1,439.1 L1331.7,439.8 L1332.4,440.6 L1333.1,441.4 L1333.8,442.2 L1334.5,442.9 L1335.1,443.7 L1335.8,444.5 L1336.5,445.2 L1337.2,445.9 L1337.8,446.6 L1338.5,447.3 L1339.2,447.9 L1339.9,448.4 L1340.5,449.0 L1341.2,449.5 L1341.9,450.0 L1342.6,450.4 L1343.3,450.8 L1343.9,451.1 L1344.6,451.5 L1345.3,451.7 L1346.0,452.0 L1346.6,452.2 L1347.3,452.5 L1348.0,452.6 L1348.7,452.8 L1349.3,453.0 L1350.0,453.1 L1350.7,453.2 L1351.4,453.3 L1352.1,453.4 L1352.7,453.5 L1353.4,453.5 L1354.1,453.6 L1354.8,453.7 L1355.4,453.7 L1356.1,453.8 L1356.8,453.8 L1357.5,453.8 L1358.2,453.9 L1358.8,453.9 L1359.5,453.9 L1360.2,454.0 L1360.9,454.0 L1361.5,454.0 L1362.2,454.0 L1362.9,454.0 L1363.6,454.1 L1364.2,454.1 L1364.9,454.1 L1365.6,454.1 L1366.3,454.1 L1367.0,454.2 L1367.6,454.2 L1368.3,454.2 L1369.0,454.2 L1369.7,454.2 L1370.3,454.2 L1371.0,454.3 L1371.7,454.3 L1372.4,454.3 L1373.0,454.3 L1373.7,454.3 L1374.4,454.3 L1375.1,454.3 L1375.8,454.3 L1376.4,454.4 L1377.1,454.4 L1377.8,454.4 L1378.5,454.4 L1379.1,454.4 L1379.8,454.4 L1380.5,454.4 L1381.2,454.4 L1381.8,454.4 L1382.5,454.5 L1383.2,454.5 L1383.9,454.5 L1384.6,454.5 L1385.2,454.5 L1385.9,454.5 L1386.6,454.5 L1387.3,454.5 L1387.9,454.5 L1388.6,454.6 L1389.3,454.6 L1390.0,454.6 L1390.6,454.6 L1391.3,454.6 L1392.0,454.6 L1392.7,454.6 L1393.4,454.6 L1394.0,454.6 L1394.7,454.6 L1395.4,454.7 L1396.1,454.7 L1396.7,454.7 L1397.4,454.7 L1398.1,454.7 L1398.8,454.7 L1399.4,454.7 L1400.1,454.7 L1400.8,454.7 L1401.5,454.7 L1402.2,454.7 L1402.8,454.8 L1403.5,454.8 L1404.2,454.8 L1404.9,454.8 L1405.5,454.8 L1406.2,454.8 L1406.9,454.8 L1407.6,454.8 L1408.2,454.8 L1408.9,454.8 L1409.6,454.8 L1410.3,454.9 L1411.0,454.9 L1411.6,454.9 L1412.3,454.9 L1413.0,454.9 L1413.7,454.9 L1414.3,454.9 L1415.0,454.9 L1415.7,454.9 L1416.4,454.9 L1417.0,454.9 L1417.7,454.9 L1418.4,454.9 L1419.1,455.0 L1419.8,455.0 L1420.4,455.0 L1421.1,455.0 L1421.8,455.0 L1422.5,455.0 L1423.1,455.0 L1423.8,455.0 L1424.5,455.0 L1425.2,455.0 L1425.9,455.0 L1426.5,455.0 L1427.2,455.0 L1427.9,455.0 L1428.6,455.1 L1429.2,455.1 L1429.9,455.1 L1430.6,455.1 L1431.3,455.1 L1431.9,455.1 L1432.6,455.1 L1433.3,455.1 L1434.0,455.1 L1434.7,455.1 L1435.3,455.1 L1436.0,455.1 L1436.7,455.1 L1437.4,455.1 L1438.0,455.1 L1438.7,455.1 L1439.4,455.1 L1440.1,455.2 L1440.7,455.2 L1441.4,455.2 L1442.1,455.2 L1442.8,455.2 L1443.5,455.2 L1444.1,455.2 L1444.8,455.2 L1445.5,455.2 L1446.2,455.2 L1446.8,455.2 L1447.5,455.2 L1448.2,455.2 L1448.9,455.2 L1449.5,455.2 L1450.2,455.2 L1450.9,455.2 L1451.6,455.2 L1452.3,455.2 L1452.9,455.3 L1453.6,455.3 L1454.3,455.3 L1455.0,455.3 L1455.6,455.3 L1456.3,455.3 L1457.0,455.3 L1457.7,455.3 L1458.3,455.3 L1459.0,455.3 L1459.7,455.3 L1460.4,455.3 L1461.1,455.3 L1461.7,455.3 L1462.4,455.3 L1463.1,455.3 L1463.8,455.3 L1464.4,455.3 L1465.1,455.3 L1465.8,455.3 L1466.5,455.3 L1467.1,455.3 L1467.8,455.3 L1468.5,455.3 L1469.2,455.3 L1469.9,455.3 L1470.5,455.3 L1471.2,455.3 L1471.9,455.4 L1472.6,455.4 L1473.2,455.4 L1473.9,455.4 L1474.6,455.4 L1475.3,455.4 L1475.9,455.4 L1476.6,455.4 L1477.3,455.4 L1478.0,455.4 L1478.7,455.4 L1479.3,455.4 L1480.0,455.4 L1480.7,455.4 L1481.4,455.4 L1482.0,455.4 L1482.7,455.4 L1483.4,455.4 L1484.1,455.4 L1484.7,455.4 L1485.4,455.4 L1486.1,455.4 L1486.8,455.4 L1487.5,455.4 L1488.1,455.4 L1488.8,455.4 L1489.5,455.4 L1490.2,455.4 L1490.8,455.4 L1491.5,455.4 L1492.2,455.4 L1492.9,455.4 L1493.6,455.4 L1494.2,455.4 L1494.9,455.4 L1495.6,455.4 L1496.3,455.4 L1496.9,455.4 L1497.6,455.4 L1498.3,455.4 L1499.0,455.4 L1499.6,455.4 L1500.3,455.4 L1501.0,455.4 L1501.7,455.4 L1502.4,455.4 L1503.0,455.4 L1503.7,455.4 L1504.4,455.4 L1505.1,455.4 L1505.7,455.4 L1506.4,455.4 L1507.1,455.4 L1507.8,455.4 L1508.4,455.4 L1509.1,455.4 L1509.8,455.4 L1510.5,455.4 L1511.2,455.4 L1511.8,455.4 L1512.5,455.4 L1513.2,455.4 L1513.9,455.4 L1514.5,455.4 L1515.2,455.4 L1515.9,455.4 L1516.6,455.4 L1517.2,455.4 L1517.9,455.4 L1518.6,455.4" fill="none" stroke="#000000" stroke-width="2.2" stroke-linejoin="round"/>
<path d="M909.3,455.6 L910.0,455.6 L910.7,455.6 L911.3,455.6 L912.0,455.6 L912.7,455.6 L913.4,455.6 L914.0,455.6 L914.7,455.6 L915.4,455.6 L916.1,455.6 L916.7,455.6 L917.4,455.6 L918.1,455.6 L918.8,455.6 L919.5,455.6 L920.1,455.6 L920.8,455.6 L921.5,455.6 L922.2,455.6 L922.8,455.6 L923.5,455.6 L924.2,455.6 L924.9,455.6 L925.5,455.6 L926.2,455.6 L926.9,455.6 L927.6,455.6 L928.3,455.6 L928.9,455.6 L929.6,455.6 L930.3,455.6 L931.0,455.6 L931.6,455.6 L932.3,455.6 L933.0,455.6 L933.7,455.6 L934.3,455.6 L935.0,455.6 L935.7,455.6 L936.4,455.6 L937.1,455.6 L937.7,455.6 L938.4,455.6 L939.1,455.6 L939.8,455.6 L940.4,455.6 L941.1,455.6 L941.8,455.6 L942.5,455.6 L943.1,455.6 L943.8,455.6 L944.5,455.6 L945.2,455.6 L945.9,455.6 L946.5,455.6 L947.2,455.6 L947.9,455.6 L948.6,455.6 L949.2,455.6 L949.9,455.6 L950.6,455.6 L951.3,455.6 L952.0,455.6 L952.6,455.6 L953.3,455.6 L954.0,455.6 L954.7,455.6 L955.3,455.6 L956.0,455.6 L956.7,455.6 L957.4,455.6 L958.0,455.6 L958.7,455.6 L959.4,455.6 L960.1,455.6 L960.8,455.6 L961.4,455.6 L962.1,455.6 L962.8,455.6 L963.5,455.6 L964.1,455.6 L964.8,455.6 L965.5,455.5 L966.2,455.5 L966.8,455.5 L967.5,455.5 L968.2,455.5 L968.9,455.5 L969.6,455.5 L970.2,455.5 L970.9,455.5 L971.6,455.5 L972.3,455.5 L972.9,455.5 L973.6,455.5 L974.3,455.5 L975.0,455.5 L975.6,455.5 L976.3,455.5 L977.0,455.5 L977.7,455.5 L978.4,455.5 L979.0,455.5 L979.7,455.5 L980.4,455.5 L981.1,455.5 L981.7,455.5 L982.4,455.5 L983.1,455.5 L983.8,455.5 L984.4,455.5 L985.1,455.5 L985.8,455.5 L986.5,455.5 L987.2,455.5 L987.8,455.5 L988.5,455.5 L989.2,455.5 L989.9,455.5 L990.5,455.5 L991.2,455.5 L991.9,455.5 L992.6,455.5 L993.2,455.5 L993.9,455.5 L994.6,455.5 L995.3,455.5 L996.0,455.5 L996.6,455.5 L997.3,455.5 L998.0,455.5 L998.7,455.5 L999.3,455.5 L1000.0,455.5 L1000.7,455.5 L1001.4,455.5 L1002.0,455.5 L1002.7,455.5 L1003.4,455.5 L1004.1,455.5 L1004.8,455.5 L1005.4,455.5 L1006.1,455.5 L1006.8,455.5 L1007.5,455.5 L1008.1,455.5 L1008.8,455.5 L1009.5,455.5 L1010.2,455.5 L1010.8,455.5 L1011.5,455.5 L1012.2,455.5 L1012.9,455.5 L1013.6,455.5 L1014.2,455.5 L1014.9,455.5 L1015.6,455.5 L1016.3,455.5 L1016.9,455.5 L1017.6,455.5 L1018.3,455.5 L1019.0,455.5 L1019.7,455.5 L1020.3,455.5 L1021.0,455.5 L1021.7,455.5 L1022.4,455.5 L1023.0,455.5 L1023.7,455.5 L1024.4,455.5 L1025.1,455.5 L1025.7,455.5 L1026.4,455.5 L1027.1,455.5 L1027.8,455.5 L1028.5,455.5 L1029.1,455.5 L1029.8,455.5 L1030.5,455.5 L1031.2,455.5 L1031.8,455.5 L1032.5,455.5 L1033.2,455.5 L1033.9,455.5 L1034.5,455.5 L1035.2,455.5 L1035.9,455.5 L1036.6,455.5 L1037.3,455.5 L1037.9,455.5 L1038.6,455.5 L1039.3,455.5 L1040.0,455.5 L1040.6,455.5 L1041.3,455.5 L1042.0,455.5 L1042.7,455.5 L1043.3,455.5 L1044.0,455.5 L1044.7,455.5 L1045.4,455.5 L1046.1,455.5 L1046.7,455.5 L1047.4,455.5 L1048.1,455.5 L1048.8,455.5 L1049.4,455.5 L1050.1,455.5 L1050.8,455.5 L1051.5,455.5 L1052.1,455.5 L1052.8,455.5 L1053.5,455.5 L1054.2,455.5 L1054.9,455.5 L1055.5,455.5 L1056.2,455.5 L1056.9,455.5 L1057.6,455.5 L1058.2,455.5 L1058.9,455.5 L1059.6,455.5 L1060.3,455.5 L1060.9,455.5 L1061.6,455.5 L1062.3,455.5 L1063.0,455.4 L1063.7,455.4 L1064.3,455.4 L1065.0,455.4 L1065.7,455.4 L1066.4,455.4 L1067.0,455.4 L1067.7,455.4 L1068.4,455.4 L1069.1,455.4 L1069.7,455.4 L1070.4,455.3 L1071.1,455.3 L1071.8,455.3 L1072.5,455.3 L1073.1,455.3 L1073.8,455.3 L1074.5,455.3 L1075.2,455.2 L1075.8,455.2 L1076.5,455.2 L1077.2,455.2 L1077.9,455.2 L1078.5,455.1 L1079.2,455.1 L1079.9,455.1 L1080.6,455.1 L1081.3,455.1 L1081.9,455.0 L1082.6,455.0 L1083.3,455.0 L1084.0,455.0 L1084.6,454.9 L1085.3,454.9 L1086.0,454.9 L1086.7,454.8 L1087.4,454.8 L1088.0,454.8 L1088.7,454.8 L1089.4,454.7 L1090.1,454.7 L1090.7,454.7 L1091.4,454.6 L1092.1,454.6 L1092.8,454.6 L1093.4,454.5 L1094.1,454.5 L1094.8,454.4 L1095.5,454.4 L1096.2,454.4 L1096.8,454.3 L1097.5,454.3 L1098.2,454.2 L1098.9,454.2 L1099.5,454.2 L1100.2,454.1 L1100.9,454.1 L1101.6,454.0 L1102.2,454.0 L1102.9,453.9 L1103.6,453.9 L1104.3,453.8 L1105.0,453.8 L1105.6,453.7 L1106.3,453.7 L1107.0,453.6 L1107.7,453.6 L1108.3,453.5 L1109.0,453.5 L1109.7,453.4 L1110.4,453.3 L1111.0,453.3 L1111.7,453.2 L1112.4,453.2 L1113.1,453.1 L1113.8,453.0 L1114.4,453.0 L1115.1,452.9 L1115.8,452.9 L1116.5,452.8 L1117.1,452.7 L1117.8,452.7 L1118.5,452.6 L1119.2,452.5 L1119.8,452.5 L1120.5,452.4 L1121.2,452.4 L1121.9,452.3 L1122.6,452.2 L1123.2,452.1 L1123.9,452.1 L1124.6,452.0 L1125.3,451.9 L1125.9,451.8 L1126.6,451.7 L1127.3,451.7 L1128.0,451.6 L1128.6,451.5 L1129.3,451.4 L1130.0,451.3 L1130.7,451.2 L1131.4,451.1 L1132.0,451.0 L1132.7,450.8 L1133.4,450.7 L1134.1,450.6 L1134.7,450.5 L1135.4,450.3 L1136.1,450.2 L1136.8,450.0 L1137.4,449.9 L1138.1,449.7 L1138.8,449.6 L1139.5,449.4 L1140.2,449.2 L1140.8,449.0 L1141.5,448.8 L1142.2,448.6 L1142.9,448.4 L1143.5,448.2 L1144.2,448.0 L1144.9,447.7 L1145.6,447.5 L1146.2,447.2 L1146.9,446.9 L1147.6,446.6 L1148.3,446.3 L1149.0,446.0 L1149.6,445.6 L1150.3,445.3 L1151.0,444.9 L1151.7,444.5 L1152.3,444.0 L1153.0,443.6 L1153.7,443.1 L1154.4,442.6 L1155.1,442.0 L1155.7,441.4 L1156.4,440.8 L1157.1,440.1 L1157.8,439.4 L1158.4,438.6 L1159.1,437.7 L1159.8,436.7 L1160.5,435.6 L1161.1,434.4 L1161.8,433.1 L1162.5,431.6 L1163.2,429.9 L1163.9,427.9 L1164.5,425.7 L1165.2,423.2 L1165.9,420.4 L1166.6,417.1 L1167.2,413.4 L1167.9,409.1 L1168.6,404.3 L1169.3,398.8 L1169.9,392.7 L1170.6,385.7 L1171.3,377.9 L1172.0,369.3 L1172.7,359.7 L1173.3,349.2 L1174.0,337.6 L1174.7,325.2 L1175.4,311.8 L1176.0,297.4 L1176.7,282.3 L1177.4,266.4 L1178.1,250.0 L1178.7,233.1 L1179.4,216.1 L1180.1,199.1 L1180.8,182.7 L1181.5,167.0 L1182.1,152.6 L1182.8,140.0 L1183.5,129.5 L1184.2,121.7 L1184.8,116.8 L1185.5,115.1 L1186.2,116.3 L1186.9,119.8 L1187.5,125.5 L1188.2,133.3 L1188.9,142.9 L1189.6,154.0 L1190.3,166.5 L1190.9,179.9 L1191.6,194.2 L1192.3,208.9 L1193.0,223.9 L1193.6,238.9 L1194.3,253.8 L1195.0,268.2 L1195.7,282.2 L1196.3,295.5 L1197.0,308.1 L1197.7,319.8 L1198.4,330.5 L1199.1,340.2 L1199.7,348.9 L1200.4,356.5 L1201.1,363.0 L1201.8,368.5 L1202.4,373.0 L1203.1,376.6 L1203.8,379.3 L1204.5,381.2 L1205.1,382.5 L1205.8,383.1 L1206.5,383.3 L1207.2,383.2 L1207.9,382.8 L1208.5,382.4 L1209.2,382.0 L1209.9,381.7 L1210.6,381.6 L1211.2,381.9 L1211.9,382.4 L1212.6,383.4 L1213.3,384.4 L1213.9,385.4 L1214.6,386.4 L1215.3,387.5 L1216.0,388.6 L1216.7,389.7 L1217.3,390.9 L1218.0,392.2 L1218.7,393.5 L1219.4,394.8 L1220.0,396.2 L1220.7,397.7 L1221.4,399.2 L1222.1,400.7 L1222.8,402.3 L1223.4,403.9 L1224.1,405.5 L1224.8,407.2 L1225.5,408.9 L1226.1,410.6 L1226.8,412.3 L1227.5,414.0 L1228.2,415.7 L1228.8,417.4 L1229.5,419.1 L1230.2,420.7 L1230.9,422.3 L1231.6,423.9 L1232.2,425.5 L1232.9,427.0 L1233.6,428.5 L1234.3,430.0 L1234.9,431.4 L1235.6,432.7 L1236.3,434.0 L1237.0,435.3 L1237.6,436.5 L1238.3,437.7 L1239.0,438.8 L1239.7,439.8 L1240.4,440.8 L1241.0,441.8 L1241.7,442.7 L1242.4,443.5 L1243.1,444.3 L1243.7,445.1 L1244.4,445.8 L1245.1,446.4 L1245.8,447.0 L1246.4,447.6 L1247.1,448.2 L1247.8,448.6 L1248.5,449.1 L1249.2,449.5 L1249.8,449.9 L1250.5,450.3 L1251.2,450.6 L1251.9,450.9 L1252.5,451.2 L1253.2,451.5 L1253.9,451.7 L1254.6,451.9 L1255.2,452.2 L1255.9,452.3 L1256.6,452.5 L1257.3,452.7 L1258.0,452.8 L1258.6,452.9 L1259.3,453.0 L1260.0,453.1 L1260.7,453.2 L1261.3,453.3 L1262.0,453.4 L1262.7,453.5 L1263.4,453.6 L1264.0,453.6 L1264.7,453.7 L1265.4,453.7 L1266.1,453.8 L1266.8,453.8 L1267.4,453.9 L1268.1,453.9 L1268.8,453.9 L1269.5,454.0 L1270.1,454.0 L1270.8,454.0 L1271.5,454.1 L1272.2,454.1 L1272.8,454.1 L1273.5,454.1 L1274.2,454.2 L1274.9,454.2 L1275.6,454.2 L1276.2,454.2 L1276.9,454.2 L1277.6,454.3 L1278.3,454.3 L1278.9,454.3 L1279.6,454.3 L1280.3,454.3 L1281.0,454.3 L1281.6,454.3 L1282.3,454.4 L1283.0,454.4 L1283.7,454.4 L1284.4,454.4 L1285.0,454.4 L1285.7,454.4 L1286.4,454.4 L1287.1,454.4 L1287.7,454.4 L1288.4,454.5 L1289.1,454.5 L1289.8,454.5 L1290.5,454.5 L1291.1,454.5 L1291.8,454.5 L1292.5,454.5 L1293.2,454.5 L1293.8,454.5 L1294.5,454.5 L1295.2,454.5 L1295.9,454.5 L1296.5,454.5 L1297.2,454.5 L1297.9,454.5 L1298.6,454.5 L1299.3,454.5 L1299.9,454.5 L1300.6,454.5 L1301.3,454.5 L1302.0,454.5 L1302.6,454.4 L1303.3,454.4 L1304.0,454.4 L1304.7,454.4 L1305.3,454.3 L1306.0,454.3 L1306.7,454.2 L1307.4,454.1 L1308.1,454.1 L1308.7,453.9 L1309.4,453.8 L1310.1,453.7 L1310.8,453.5 L1311.4,453.2 L1312.1,453.0 L1312.8,452.7 L1313.5,452.4 L1314.1,452.0 L1314.8,451.5 L1315.5,451.1 L1316.2,450.5 L1316.9,450.0 L1317.5,449.3 L1318.2,448.6 L1318.9,447.9 L1319.6,447.2 L1320.2,446.4 L1320.9,445.6 L1321.6,444.8 L1322.3,444.0 L1322.9,443.2 L1323.6,442.4 L1324.3,441.7 L1325.0,441.1 L1325.7,440.5 L1326.3,440.1 L1327.0,439.7 L1327.7,439.5 L1328.4,439.4 L1329.0,439.4 L1329.7,439.6 L1330.4,439.7 L1331.1,440.0 L1331.7,440.4 L1332.4,440.8 L1333.1,441.2 L1333.8,441.7 L1334.5,442.3 L1335.1,442.9 L1335.8,443.5 L1336.5,444.1 L1337.2,444.8 L1337.8,445.4 L1338.5,446.1 L1339.2,446.7 L1339.9,447.3 L1340.5,447.9 L1341.2,448.5 L1341.9,449.1 L1342.6,449.6 L1343.3,450.1 L1343.9,450.6 L1344.6,451.0 L1345.3,451.4 L1346.0,451.8 L1346.6,452.1 L1347.3,452.5 L1348.0,452.8 L1348.7,453.0 L1349.3,453.3 L1350.0,453.5 L1350.7,453.7 L1351.4,453.8 L1352.1,454.0 L1352.7,454.1 L1353.4,454.2 L1354.1,454.3 L1354.8,454.4 L1355.4,454.5 L1356.1,454.6 L1356.8,454.6 L1357.5,454.7 L1358.2,454.7 L1358.8,454.8 L1359.5,454.8 L1360.2,454.8 L1360.9,454.9 L1361.5,454.9 L1362.2,454.9 L1362.9,454.9 L1363.6,454.9 L1364.2,455.0 L1364.9,455.0 L1365.6,455.0 L1366.3,455.0 L1367.0,455.0 L1367.6,455.0 L1368.3,455.0 L1369.0,455.0 L1369.7,455.1 L1370.3,455.1 L1371.0,455.1 L1371.7,455.1 L1372.4,455.1 L1373.0,455.1 L1373.7,455.1 L1374.4,455.1 L1375.1,455.1 L1375.8,455.1 L1376.4,455.1 L1377.1,455.1 L1377.8,455.1 L1378.5,455.1 L1379.1,455.2 L1379.8,455.2 L1380.5,455.2 L1381.2,455.2 L1381.8,455.2 L1382.5,455.2 L1383.2,455.2 L1383.9,455.2 L1384.6,455.2 L1385.2,455.2 L1385.9,455.2 L1386.6,455.2 L1387.3,455.2 L1387.9,455.2 L1388.6,455.2 L1389.3,455.2 L1390.0,455.2 L1390.6,455.2 L1391.3,455.2 L1392.0,455.2 L1392.7,455.3 L1393.4,455.3 L1394.0,455.3 L1394.7,455.3 L1395.4,455.3 L1396.1,455.3 L1396.7,455.3 L1397.4,455.3 L1398.1,455.3 L1398.8,455.3 L1399.4,455.3 L1400.1,455.3 L1400.8,455.3 L1401.5,455.3 L1402.2,455.3 L1402.8,455.3 L1403.5,455.3 L1404.2,455.3 L1404.9,455.3 L1405.5,455.3 L1406.2,455.3 L1406.9,455.3 L1407.6,455.3 L1408.2,455.3 L1408.9,455.3 L1409.6,455.3 L1410.3,455.3 L1411.0,455.3 L1411.6,455.4 L1412.3,455.4 L1413.0,455.4 L1413.7,455.4 L1414.3,455.4 L1415.0,455.4 L1415.7,455.4 L1416.4,455.4 L1417.0,455.4 L1417.7,455.4 L1418.4,455.4 L1419.1,455.4 L1419.8,455.4 L1420.4,455.4 L1421.1,455.4 L1421.8,455.4 L1422.5,455.4 L1423.1,455.4 L1423.8,455.4 L1424.5,455.4 L1425.2,455.4 L1425.9,455.4 L1426.5,455.4 L1427.2,455.4 L1427.9,455.4 L1428.6,455.4 L1429.2,455.4 L1429.9,455.4 L1430.6,455.4 L1431.3,455.4 L1431.9,455.4 L1432.6,455.4 L1433.3,455.4 L1434.0,455.4 L1434.7,455.4 L1435.3,455.4 L1436.0,455.4 L1436.7,455.4 L1437.4,455.4 L1438.0,455.4 L1438.7,455.4 L1439.4,455.4 L1440.1,455.5 L1440.7,455.5 L1441.4,455.5 L1442.1,455.5 L1442.8,455.5 L1443.5,455.5 L1444.1,455.5 L1444.8,455.5 L1445.5,455.5 L1446.2,455.5 L1446.8,455.5 L1447.5,455.5 L1448.2,455.5 L1448.9,455.5 L1449.5,455.5 L1450.2,455.5 L1450.9,455.5 L1451.6,455.5 L1452.3,455.5 L1452.9,455.5 L1453.6,455.5 L1454.3,455.5 L1455.0,455.5 L1455.6,455.5 L1456.3,455.5 L1457.0,455.5 L1457.7,455.5 L1458.3,455.5 L1459.0,455.5 L1459.7,455.5 L1460.4,455.5 L1461.1,455.5 L1461.7,455.5 L1462.4,455.5 L1463.1,455.5 L1463.8,455.5 L1464.4,455.5 L1465.1,455.5 L1465.8,455.5 L1466.5,455.5 L1467.1,455.5 L1467.8,455.5 L1468.5,455.5 L1469.2,455.5 L1469.9,455.5 L1470.5,455.5 L1471.2,455.5 L1471.9,455.5 L1472.6,455.5 L1473.2,455.5 L1473.9,455.5 L1474.6,455.5 L1475.3,455.5 L1475.9,455.5 L1476.6,455.5 L1477.3,455.5 L1478.0,455.5 L1478.7,455.5 L1479.3,455.5 L1480.0,455.5 L1480.7,455.5 L1481.4,455.5 L1482.0,455.5 L1482.7,455.5 L1483.4,455.5 L1484.1,455.5 L1484.7,455.5 L1485.4,455.5 L1486.1,455.5 L1486.8,455.5 L1487.5,455.5 L1488.1,455.5 L1488.8,455.5 L1489.5,455.5 L1490.2,455.5 L1490.8,455.5 L1491.5,455.5 L1492.2,455.5 L1492.9,455.5 L1493.6,455.5 L1494.2,455.5 L1494.9,455.5 L1495.6,455.5 L1496.3,455.5 L1496.9,455.5 L1497.6,455.5 L1498.3,455.5 L1499.0,455.5 L1499.6,455.5 L1500.3,455.5 L1501.0,455.5 L1501.7,455.5 L1502.4,455.5 L1503.0,455.5 L1503.7,455.5 L1504.4,455.5 L1505.1,455.5 L1505.7,455.5 L1506.4,455.5 L1507.1,455.5 L1507.8,455.5 L1508.4,455.5 L1509.1,455.5 L1509.8,455.5 L1510.5,455.5 L1511.2,455.5 L1511.8,455.5 L1512.5,455.5 L1513.2,455.5 L1513.9,455.5 L1514.5,455.5 L1515.2,455.5 L1515.9,455.5 L1516.6,455.5 L1517.2,455.5 L1517.9,455.5 L1518.6,455.5" fill="none" stroke="#e8ec3c" stroke-width="3.2" stroke-linejoin="round"/>
<path d="M909.3,455.5 L910.0,455.5 L910.7,455.5 L911.3,455.5 L912.0,455.5 L912.7,455.5 L913.4,455.5 L914.0,455.5 L914.7,455.5 L915.4,455.5 L916.1,455.5 L916.7,455.5 L917.4,455.5 L918.1,455.5 L918.8,455.5 L919.5,455.5 L920.1,455.5 L920.8,455.5 L921.5,455.5 L922.2,455.5 L922.8,455.5 L923.5,455.5 L924.2,455.5 L924.9,455.5 L925.5,455.5 L926.2,455.5 L926.9,455.5 L927.6,455.5 L928.3,455.5 L928.9,455.5 L929.6,455.5 L930.3,455.5 L931.0,455.5 L931.6,455.5 L932.3,455.5 L933.0,455.5 L933.7,455.5 L934.3,455.5 L935.0,455.5 L935.7,455.5 L936.4,455.5 L937.1,455.5 L937.7,455.5 L938.4,455.5 L939.1,455.5 L939.8,455.5 L940.4,455.5 L941.1,455.5 L941.8,455.5 L942.5,455.5 L943.1,455.5 L943.8,455.5 L944.5,455.5 L945.2,455.5 L945.9,455.5 L946.5,455.5 L947.2,455.5 L947.9,455.5 L948.6,455.5 L949.2,455.5 L949.9,455.5 L950.6,455.5 L951.3,455.5 L952.0,455.5 L952.6,455.5 L953.3,455.5 L954.0,455.5 L954.7,455.5 L955.3,455.5 L956.0,455.5 L956.7,455.5 L957.4,455.5 L958.0,455.5 L958.7,455.5 L959.4,455.5 L960.1,455.5 L960.8,455.5 L961.4,455.5 L962.1,455.5 L962.8,455.5 L963.5,455.5 L964.1,455.5 L964.8,455.5 L965.5,455.5 L966.2,455.5 L966.8,455.5 L967.5,455.5 L968.2,455.5 L968.9,455.5 L969.6,455.5 L970.2,455.5 L970.9,455.5 L971.6,455.5 L972.3,455.5 L972.9,455.5 L973.6,455.5 L974.3,455.5 L975.0,455.5 L975.6,455.5 L976.3,455.5 L977.0,455.5 L977.7,455.5 L978.4,455.5 L979.0,455.5 L979.7,455.5 L980.4,455.5 L981.1,455.5 L981.7,455.5 L982.4,455.5 L983.1,455.5 L983.8,455.5 L984.4,455.5 L985.1,455.5 L985.8,455.5 L986.5,455.5 L987.2,455.5 L987.8,455.5 L988.5,455.5 L989.2,455.5 L989.9,455.5 L990.5,455.5 L991.2,455.5 L991.9,455.5 L992.6,455.5 L993.2,455.5 L993.9,455.5 L994.6,455.5 L995.3,455.5 L996.0,455.5 L996.6,455.5 L997.3,455.5 L998.0,455.5 L998.7,455.5 L999.3,455.5 L1000.0,455.5 L1000.7,455.5 L1001.4,455.5 L1002.0,455.5 L1002.7,455.5 L1003.4,455.5 L1004.1,455.5 L1004.8,455.5 L1005.4,455.5 L1006.1,455.5 L1006.8,455.5 L1007.5,455.5 L1008.1,455.5 L1008.8,455.5 L1009.5,455.5 L1010.2,455.5 L1010.8,455.5 L1011.5,455.5 L1012.2,455.5 L1012.9,455.5 L1013.6,455.5 L1014.2,455.5 L1014.9,455.4 L1015.6,455.4 L1016.3,455.4 L1016.9,455.4 L1017.6,455.4 L1018.3,455.4 L1019.0,455.4 L1019.7,455.4 L1020.3,455.4 L1021.0,455.4 L1021.7,455.4 L1022.4,455.4 L1023.0,455.4 L1023.7,455.4 L1024.4,455.4 L1025.1,455.4 L1025.7,455.4 L1026.4,455.4 L1027.1,455.4 L1027.8,455.4 L1028.5,455.4 L1029.1,455.4 L1029.8,455.4 L1030.5,455.4 L1031.2,455.4 L1031.8,455.4 L1032.5,455.4 L1033.2,455.4 L1033.9,455.4 L1034.5,455.4 L1035.2,455.4 L1035.9,455.4 L1036.6,455.4 L1037.3,455.4 L1037.9,455.4 L1038.6,455.4 L1039.3,455.4 L1040.0,455.4 L1040.6,455.4 L1041.3,455.4 L1042.0,455.4 L1042.7,455.4 L1043.3,455.4 L1044.0,455.4 L1044.7,455.4 L1045.4,455.4 L1046.1,455.4 L1046.7,455.4 L1047.4,455.4 L1048.1,455.4 L1048.8,455.4 L1049.4,455.4 L1050.1,455.4 L1050.8,455.4 L1051.5,455.4 L1052.1,455.4 L1052.8,455.4 L1053.5,455.3 L1054.2,455.3 L1054.9,455.3 L1055.5,455.3 L1056.2,455.3 L1056.9,455.3 L1057.6,455.3 L1058.2,455.3 L1058.9,455.3 L1059.6,455.3 L1060.3,455.3 L1060.9,455.3 L1061.6,455.3 L1062.3,455.2 L1063.0,455.2 L1063.7,455.2 L1064.3,455.2 L1065.0,455.2 L1065.7,455.2 L1066.4,455.1 L1067.0,455.1 L1067.7,455.1 L1068.4,455.0 L1069.1,455.0 L1069.7,455.0 L1070.4,455.0 L1071.1,454.9 L1071.8,454.9 L1072.5,454.8 L1073.1,454.8 L1073.8,454.8 L1074.5,454.7 L1075.2,454.7 L1075.8,454.6 L1076.5,454.6 L1077.2,454.5 L1077.9,454.5 L1078.5,454.4 L1079.2,454.3 L1079.9,454.3 L1080.6,454.2 L1081.3,454.1 L1081.9,454.1 L1082.6,454.0 L1083.3,453.9 L1084.0,453.8 L1084.6,453.8 L1085.3,453.7 L1086.0,453.6 L1086.7,453.5 L1087.4,453.4 L1088.0,453.3 L1088.7,453.2 L1089.4,453.1 L1090.1,452.9 L1090.7,452.8 L1091.4,452.7 L1092.1,452.5 L1092.8,452.4 L1093.4,452.3 L1094.1,452.1 L1094.8,451.9 L1095.5,451.8 L1096.2,451.6 L1096.8,451.4 L1097.5,451.2 L1098.2,451.0 L1098.9,450.7 L1099.5,450.5 L1100.2,450.3 L1100.9,450.0 L1101.6,449.7 L1102.2,449.5 L1102.9,449.2 L1103.6,448.9 L1104.3,448.5 L1105.0,448.2 L1105.6,447.8 L1106.3,447.5 L1107.0,447.1 L1107.7,446.7 L1108.3,446.3 L1109.0,445.9 L1109.7,445.4 L1110.4,445.0 L1111.0,444.5 L1111.7,444.0 L1112.4,443.5 L1113.1,443.0 L1113.8,442.5 L1114.4,442.0 L1115.1,441.4 L1115.8,440.9 L1116.5,440.3 L1117.1,439.7 L1117.8,439.2 L1118.5,438.6 L1119.2,438.0 L1119.8,437.4 L1120.5,436.8 L1121.2,436.3 L1121.9,435.7 L1122.6,435.1 L1123.2,434.5 L1123.9,433.8 L1124.6,433.2 L1125.3,432.6 L1125.9,431.9 L1126.6,431.3 L1127.3,430.7 L1128.0,430.0 L1128.6,429.3 L1129.3,428.7 L1130.0,428.0 L1130.7,427.3 L1131.4,426.6 L1132.0,425.9 L1132.7,425.2 L1133.4,424.5 L1134.1,423.8 L1134.7,423.0 L1135.4,422.2 L1136.1,421.4 L1136.8,420.6 L1137.4,419.7 L1138.1,418.8 L1138.8,417.9 L1139.5,416.9 L1140.2,415.9 L1140.8,414.8 L1141.5,413.6 L1142.2,412.3 L1142.9,411.0 L1143.5,409.4 L1144.2,407.8 L1144.9,405.9 L1145.6,403.8 L1146.2,401.5 L1146.9,398.9 L1147.6,396.1 L1148.3,392.9 L1149.0,389.3 L1149.6,385.3 L1150.3,380.8 L1151.0,375.9 L1151.7,370.4 L1152.3,364.3 L1153.0,357.7 L1153.7,350.4 L1154.4,342.4 L1155.1,333.7 L1155.7,324.3 L1156.4,314.2 L1157.1,303.4 L1157.8,291.9 L1158.4,279.7 L1159.1,266.9 L1159.8,253.6 L1160.5,239.7 L1161.1,225.6 L1161.8,211.2 L1162.5,196.9 L1163.2,182.8 L1163.9,169.3 L1164.5,156.6 L1165.2,145.1 L1165.9,135.1 L1166.6,127.1 L1167.2,121.2 L1167.9,117.7 L1168.6,116.8 L1169.3,117.9 L1169.9,120.7 L1170.6,125.0 L1171.3,130.8 L1172.0,137.8 L1172.7,146.0 L1173.3,155.2 L1174.0,165.1 L1174.7,175.5 L1175.4,186.4 L1176.0,197.4 L1176.7,208.6 L1177.4,219.6 L1178.1,230.6 L1178.7,241.2 L1179.4,251.5 L1180.1,261.3 L1180.8,270.6 L1181.5,279.4 L1182.1,287.5 L1182.8,295.0 L1183.5,301.8 L1184.2,307.8 L1184.8,313.0 L1185.5,317.4 L1186.2,321.0 L1186.9,323.8 L1187.5,325.7 L1188.2,326.7 L1188.9,326.9 L1189.6,326.2 L1190.3,324.7 L1190.9,322.5 L1191.6,319.4 L1192.3,315.8 L1193.0,311.5 L1193.6,306.7 L1194.3,301.5 L1195.0,296.1 L1195.7,290.6 L1196.3,285.1 L1197.0,280.0 L1197.7,275.3 L1198.4,271.3 L1199.1,268.3 L1199.7,266.5 L1200.4,265.9 L1201.1,266.7 L1201.8,268.3 L1202.4,270.5 L1203.1,273.2 L1203.8,276.4 L1204.5,280.1 L1205.1,284.2 L1205.8,288.7 L1206.5,293.5 L1207.2,298.6 L1207.9,304.0 L1208.5,309.4 L1209.2,315.1 L1209.9,320.8 L1210.6,326.5 L1211.2,332.2 L1211.9,337.9 L1212.6,343.5 L1213.3,349.0 L1213.9,354.4 L1214.6,359.7 L1215.3,364.8 L1216.0,369.7 L1216.7,374.5 L1217.3,379.0 L1218.0,383.4 L1218.7,387.5 L1219.4,391.5 L1220.0,395.2 L1220.7,398.8 L1221.4,402.1 L1222.1,405.2 L1222.8,408.2 L1223.4,410.9 L1224.1,413.5 L1224.8,415.9 L1225.5,418.1 L1226.1,420.2 L1226.8,422.1 L1227.5,423.9 L1228.2,425.5 L1228.8,427.0 L1229.5,428.4 L1230.2,429.7 L1230.9,430.9 L1231.6,432.0 L1232.2,433.0 L1232.9,434.0 L1233.6,434.8 L1234.3,435.6 L1234.9,436.4 L1235.6,437.1 L1236.3,437.7 L1237.0,438.3 L1237.6,438.9 L1238.3,439.4 L1239.0,439.9 L1239.7,440.3 L1240.4,440.7 L1241.0,441.1 L1241.7,441.5 L1242.4,441.9 L1243.1,442.2 L1243.7,442.5 L1244.4,442.9 L1245.1,443.1 L1245.8,443.4 L1246.4,443.7 L1247.1,444.0 L1247.8,444.2 L1248.5,444.4 L1249.2,444.7 L1249.8,444.9 L1250.5,445.1 L1251.2,445.3 L1251.9,445.5 L1252.5,445.7 L1253.2,445.9 L1253.9,446.1 L1254.6,446.2 L1255.2,446.4 L1255.9,446.5 L1256.6,446.7 L1257.3,446.9 L1258.0,447.0 L1258.6,447.1 L1259.3,447.3 L1260.0,447.4 L1260.7,447.5 L1261.3,447.7 L1262.0,447.8 L1262.7,447.9 L1263.4,448.0 L1264.0,448.1 L1264.7,448.2 L1265.4,448.3 L1266.1,448.4 L1266.8,448.5 L1267.4,448.6 L1268.1,448.7 L1268.8,448.8 L1269.5,448.8 L1270.1,448.9 L1270.8,449.0 L1271.5,449.1 L1272.2,449.1 L1272.8,449.2 L1273.5,449.2 L1274.2,449.3 L1274.9,449.3 L1275.6,449.4 L1276.2,449.4 L1276.9,449.4 L1277.6,449.5 L1278.3,449.5 L1278.9,449.5 L1279.6,449.5 L1280.3,449.5 L1281.0,449.4 L1281.6,449.4 L1282.3,449.3 L1283.0,449.2 L1283.7,449.1 L1284.4,449.0 L1285.0,448.8 L1285.7,448.6 L1286.4,448.3 L1287.1,448.0 L1287.7,447.7 L1288.4,447.2 L1289.1,446.8 L1289.8,446.2 L1290.5,445.6 L1291.1,444.9 L1291.8,444.1 L1292.5,443.2 L1293.2,442.2 L1293.8,441.1 L1294.5,439.9 L1295.2,438.6 L1295.9,437.1 L1296.5,435.5 L1297.2,433.9 L1297.9,432.1 L1298.6,430.2 L1299.3,428.1 L1299.9,426.0 L1300.6,423.8 L1301.3,421.5 L1302.0,419.2 L1302.6,416.8 L1303.3,414.4 L1304.0,412.0 L1304.7,409.6 L1305.3,407.2 L1306.0,404.9 L1306.7,402.7 L1307.4,400.6 L1308.1,398.7 L1308.7,396.9 L1309.4,395.4 L1310.1,394.0 L1310.8,392.9 L1311.4,392.1 L1312.1,391.6 L1312.8,391.3 L1313.5,391.4 L1314.1,391.7 L1314.8,392.3 L1315.5,393.2 L1316.2,394.3 L1316.9,395.7 L1317.5,397.3 L1318.2,399.0 L1318.9,400.9 L1319.6,403.0 L1320.2,405.2 L1320.9,407.4 L1321.6,409.8 L1322.3,412.1 L1322.9,414.5 L1323.6,416.9 L1324.3,419.3 L1325.0,421.6 L1325.7,423.9 L1326.3,426.1 L1327.0,428.3 L1327.7,430.3 L1328.4,432.3 L1329.0,434.1 L1329.7,435.9 L1330.4,437.5 L1331.1,439.1 L1331.7,440.5 L1332.4,441.8 L1333.1,443.0 L1333.8,444.1 L1334.5,445.1 L1335.1,446.1 L1335.8,446.9 L1336.5,447.6 L1337.2,448.3 L1337.8,448.9 L1338.5,449.4 L1339.2,449.9 L1339.9,450.3 L1340.5,450.7 L1341.2,451.0 L1341.9,451.3 L1342.6,451.5 L1343.3,451.8 L1343.9,452.0 L1344.6,452.1 L1345.3,452.3 L1346.0,452.4 L1346.6,452.5 L1347.3,452.6 L1348.0,452.7 L1348.7,452.8 L1349.3,452.9 L1350.0,452.9 L1350.7,453.0 L1351.4,453.1 L1352.1,453.1 L1352.7,453.2 L1353.4,453.2 L1354.1,453.2 L1354.8,453.3 L1355.4,453.3 L1356.1,453.4 L1356.8,453.4 L1357.5,453.4 L1358.2,453.5 L1358.8,453.5 L1359.5,453.5 L1360.2,453.5 L1360.9,453.6 L1361.5,453.6 L1362.2,453.6 L1362.9,453.6 L1363.6,453.7 L1364.2,453.7 L1364.9,453.7 L1365.6,453.7 L1366.3,453.8 L1367.0,453.8 L1367.6,453.8 L1368.3,453.8 L1369.0,453.8 L1369.7,453.9 L1370.3,453.9 L1371.0,453.9 L1371.7,453.9 L1372.4,453.9 L1373.0,453.9 L1373.7,454.0 L1374.4,454.0 L1375.1,454.0 L1375.8,454.0 L1376.4,454.0 L1377.1,454.0 L1377.8,454.1 L1378.5,454.1 L1379.1,454.1 L1379.8,454.1 L1380.5,454.1 L1381.2,454.1 L1381.8,454.1 L1382.5,454.2 L1383.2,454.2 L1383.9,454.2 L1384.6,454.2 L1385.2,454.2 L1385.9,454.2 L1386.6,454.2 L1387.3,454.3 L1387.9,454.3 L1388.6,454.3 L1389.3,454.3 L1390.0,454.3 L1390.6,454.3 L1391.3,454.3 L1392.0,454.3 L1392.7,454.4 L1393.4,454.4 L1394.0,454.4 L1394.7,454.4 L1395.4,454.4 L1396.1,454.4 L1396.7,454.4 L1397.4,454.4 L1398.1,454.5 L1398.8,454.5 L1399.4,454.5 L1400.1,454.5 L1400.8,454.5 L1401.5,454.5 L1402.2,454.5 L1402.8,454.5 L1403.5,454.6 L1404.2,454.6 L1404.9,454.6 L1405.5,454.6 L1406.2,454.6 L1406.9,454.6 L1407.6,454.6 L1408.2,454.6 L1408.9,454.6 L1409.6,454.7 L1410.3,454.7 L1411.0,454.7 L1411.6,454.7 L1412.3,454.7 L1413.0,454.7 L1413.7,454.7 L1414.3,454.7 L1415.0,454.7 L1415.7,454.7 L1416.4,454.8 L1417.0,454.8 L1417.7,454.8 L1418.4,454.8 L1419.1,454.8 L1419.8,454.8 L1420.4,454.8 L1421.1,454.8 L1421.8,454.8 L1422.5,454.8 L1423.1,454.8 L1423.8,454.9 L1424.5,454.9 L1425.2,454.9 L1425.9,454.9 L1426.5,454.9 L1427.2,454.9 L1427.9,454.9 L1428.6,454.9 L1429.2,454.9 L1429.9,454.9 L1430.6,454.9 L1431.3,455.0 L1431.9,455.0 L1432.6,455.0 L1433.3,455.0 L1434.0,455.0 L1434.7,455.0 L1435.3,455.0 L1436.0,455.0 L1436.7,455.0 L1437.4,455.0 L1438.0,455.0 L1438.7,455.0 L1439.4,455.0 L1440.1,455.0 L1440.7,455.1 L1441.4,455.1 L1442.1,455.1 L1442.8,455.1 L1443.5,455.1 L1444.1,455.1 L1444.8,455.1 L1445.5,455.1 L1446.2,455.1 L1446.8,455.1 L1447.5,455.1 L1448.2,455.1 L1448.9,455.1 L1449.5,455.1 L1450.2,455.1 L1450.9,455.2 L1451.6,455.2 L1452.3,455.2 L1452.9,455.2 L1453.6,455.2 L1454.3,455.2 L1455.0,455.2 L1455.6,455.2 L1456.3,455.2 L1457.0,455.2 L1457.7,455.2 L1458.3,455.2 L1459.0,455.2 L1459.7,455.2 L1460.4,455.2 L1461.1,455.2 L1461.7,455.2 L1462.4,455.2 L1463.1,455.2 L1463.8,455.2 L1464.4,455.3 L1465.1,455.3 L1465.8,455.3 L1466.5,455.3 L1467.1,455.3 L1467.8,455.3 L1468.5,455.3 L1469.2,455.3 L1469.9,455.3 L1470.5,455.3 L1471.2,455.3 L1471.9,455.3 L1472.6,455.3 L1473.2,455.3 L1473.9,455.3 L1474.6,455.3 L1475.3,455.3 L1475.9,455.3 L1476.6,455.3 L1477.3,455.3 L1478.0,455.3 L1478.7,455.3 L1479.3,455.3 L1480.0,455.3 L1480.7,455.3 L1481.4,455.3 L1482.0,455.3 L1482.7,455.3 L1483.4,455.3 L1484.1,455.3 L1484.7,455.3 L1485.4,455.4 L1486.1,455.4 L1486.8,455.4 L1487.5,455.4 L1488.1,455.4 L1488.8,455.4 L1489.5,455.4 L1490.2,455.4 L1490.8,455.4 L1491.5,455.4 L1492.2,455.4 L1492.9,455.4 L1493.6,455.4 L1494.2,455.4 L1494.9,455.4 L1495.6,455.4 L1496.3,455.4 L1496.9,455.4 L1497.6,455.4 L1498.3,455.4 L1499.0,455.4 L1499.6,455.4 L1500.3,455.4 L1501.0,455.4 L1501.7,455.4 L1502.4,455.4 L1503.0,455.4 L1503.7,455.4 L1504.4,455.4 L1505.1,455.4 L1505.7,455.4 L1506.4,455.4 L1507.1,455.4 L1507.8,455.4 L1508.4,455.4 L1509.1,455.4 L1509.8,455.4 L1510.5,455.4 L1511.2,455.4 L1511.8,455.4 L1512.5,455.4 L1513.2,455.4 L1513.9,455.4 L1514.5,455.4 L1515.2,455.4 L1515.9,455.4 L1516.6,455.4 L1517.2,455.4 L1517.9,455.4 L1518.6,455.4" fill="none" stroke="#7ba7dc" stroke-width="1.6" stroke-linejoin="round"/>
<path d="M909.3,455.5 L910.0,455.5 L910.7,455.5 L911.3,455.5 L912.0,455.5 L912.7,455.5 L913.4,455.5 L914.0,455.5 L914.7,455.5 L915.4,455.5 L916.1,455.5 L916.7,455.5 L917.4,455.5 L918.1,455.5 L918.8,455.5 L919.5,455.5 L920.1,455.5 L920.8,455.5 L921.5,455.5 L922.2,455.5 L922.8,455.5 L923.5,455.5 L924.2,455.5 L924.9,455.5 L925.5,455.5 L926.2,455.5 L926.9,455.5 L927.6,455.5 L928.3,455.5 L928.9,455.5 L929.6,455.5 L930.3,455.5 L931.0,455.5 L931.6,455.5 L932.3,455.5 L933.0,455.5 L933.7,455.5 L934.3,455.5 L935.0,455.5 L935.7,455.5 L936.4,455.5 L937.1,455.5 L937.7,455.5 L938.4,455.5 L939.1,455.5 L939.8,455.5 L940.4,455.5 L941.1,455.5 L941.8,455.5 L942.5,455.5 L943.1,455.5 L943.8,455.5 L944.5,455.5 L945.2,455.5 L945.9,455.5 L946.5,455.5 L947.2,455.5 L947.9,455.5 L948.6,455.5 L949.2,455.5 L949.9,455.5 L950.6,455.5 L951.3,455.5 L952.0,455.5 L952.6,455.5 L953.3,455.5 L954.0,455.5 L954.7,455.5 L955.3,455.5 L956.0,455.5 L956.7,455.5 L957.4,455.5 L958.0,455.5 L958.7,455.5 L959.4,455.5 L960.1,455.5 L960.8,455.5 L961.4,455.5 L962.1,455.5 L962.8,455.5 L963.5,455.5 L964.1,455.5 L964.8,455.5 L965.5,455.5 L966.2,455.5 L966.8,455.5 L967.5,455.5 L968.2,455.5 L968.9,455.5 L969.6,455.5 L970.2,455.5 L970.9,455.5 L971.6,455.5 L972.3,455.5 L972.9,455.5 L973.6,455.5 L974.3,455.5 L975.0,455.5 L975.6,455.5 L976.3,455.5 L977.0,455.5 L977.7,455.5 L978.4,455.5 L979.0,455.5 L979.7,455.5 L980.4,455.5 L981.1,455.5 L981.7,455.5 L982.4,455.5 L983.1,455.5 L983.8,455.5 L984.4,455.5 L985.1,455.5 L985.8,455.5 L986.5,455.5 L987.2,455.5 L987.8,455.5 L988.5,455.5 L989.2,455.5 L989.9,455.5 L990.5,455.5 L991.2,455.5 L991.9,455.5 L992.6,455.5 L993.2,455.5 L993.9,455.5 L994.6,455.5 L995.3,455.5 L996.0,455.5 L996.6,455.5 L997.3,455.5 L998.0,455.5 L998.7,455.5 L999.3,455.5 L1000.0,455.5 L1000.7,455.5 L1001.4,455.5 L1002.0,455.5 L1002.7,455.5 L1003.4,455.5 L1004.1,455.5 L1004.8,455.5 L1005.4,455.5 L1006.1,455.5 L1006.8,455.5 L1007.5,455.5 L1008.1,455.5 L1008.8,455.5 L1009.5,455.5 L1010.2,455.5 L1010.8,455.5 L1011.5,455.5 L1012.2,455.5 L1012.9,455.5 L1013.6,455.5 L1014.2,455.5 L1014.9,455.5 L1015.6,455.5 L1016.3,455.5 L1016.9,455.5 L1017.6,455.5 L1018.3,455.5 L1019.0,455.5 L1019.7,455.5 L1020.3,455.5 L1021.0,455.5 L1021.7,455.5 L1022.4,455.5 L1023.0,455.5 L1023.7,455.5 L1024.4,455.5 L1025.1,455.5 L1025.7,455.5 L1026.4,455.5 L1027.1,455.5 L1027.8,455.5 L1028.5,455.5 L1029.1,455.5 L1029.8,455.5 L1030.5,455.5 L1031.2,455.5 L1031.8,455.5 L1032.5,455.5 L1033.2,455.5 L1033.9,455.5 L1034.5,455.5 L1035.2,455.5 L1035.9,455.5 L1036.6,455.5 L1037.3,455.5 L1037.9,455.5 L1038.6,455.5 L1039.3,455.5 L1040.0,455.5 L1040.6,455.4 L1041.3,455.4 L1042.0,455.4 L1042.7,455.4 L1043.3,455.4 L1044.0,455.4 L1044.7,455.4 L1045.4,455.4 L1046.1,455.4 L1046.7,455.4 L1047.4,455.4 L1048.1,455.4 L1048.8,455.4 L1049.4,455.4 L1050.1,455.4 L1050.8,455.4 L1051.5,455.4 L1052.1,455.4 L1052.8,455.4 L1053.5,455.3 L1054.2,455.3 L1054.9,455.3 L1055.5,455.3 L1056.2,455.3 L1056.9,455.2 L1057.6,455.2 L1058.2,455.1 L1058.9,455.1 L1059.6,455.0 L1060.3,455.0 L1060.9,454.9 L1061.6,454.8 L1062.3,454.7 L1063.0,454.6 L1063.7,454.5 L1064.3,454.4 L1065.0,454.2 L1065.7,454.1 L1066.4,454.0 L1067.0,453.8 L1067.7,453.6 L1068.4,453.5 L1069.1,453.3 L1069.7,453.1 L1070.4,452.9 L1071.1,452.7 L1071.8,452.5 L1072.5,452.3 L1073.1,452.1 L1073.8,451.9 L1074.5,451.7 L1075.2,451.5 L1075.8,451.3 L1076.5,451.1 L1077.2,451.0 L1077.9,450.8 L1078.5,450.7 L1079.2,450.6 L1079.9,450.5 L1080.6,450.4 L1081.3,450.3 L1081.9,450.3 L1082.6,450.2 L1083.3,450.2 L1084.0,450.2 L1084.6,450.2 L1085.3,450.3 L1086.0,450.3 L1086.7,450.4 L1087.4,450.5 L1088.0,450.6 L1088.7,450.7 L1089.4,450.8 L1090.1,450.9 L1090.7,451.0 L1091.4,451.2 L1092.1,451.3 L1092.8,451.4 L1093.4,451.5 L1094.1,451.6 L1094.8,451.7 L1095.5,451.8 L1096.2,451.9 L1096.8,452.0 L1097.5,452.1 L1098.2,452.1 L1098.9,452.2 L1099.5,452.2 L1100.2,452.2 L1100.9,452.3 L1101.6,452.3 L1102.2,452.2 L1102.9,452.2 L1103.6,452.2 L1104.3,452.1 L1105.0,452.1 L1105.6,452.0 L1106.3,451.9 L1107.0,451.8 L1107.7,451.7 L1108.3,451.6 L1109.0,451.4 L1109.7,451.3 L1110.4,451.1 L1111.0,450.9 L1111.7,450.7 L1112.4,450.4 L1113.1,450.2 L1113.8,449.9 L1114.4,449.6 L1115.1,449.3 L1115.8,449.0 L1116.5,448.6 L1117.1,448.2 L1117.8,447.8 L1118.5,447.3 L1119.2,446.9 L1119.8,446.4 L1120.5,445.9 L1121.2,445.3 L1121.9,444.7 L1122.6,444.1 L1123.2,443.5 L1123.9,442.8 L1124.6,442.2 L1125.3,441.5 L1125.9,440.7 L1126.6,440.0 L1127.3,439.2 L1128.0,438.5 L1128.6,437.7 L1129.3,436.9 L1130.0,436.1 L1130.7,435.3 L1131.4,434.5 L1132.0,433.8 L1132.7,433.0 L1133.4,432.3 L1134.1,431.6 L1134.7,430.9 L1135.4,430.2 L1136.1,429.6 L1136.8,429.0 L1137.4,428.5 L1138.1,428.0 L1138.8,427.6 L1139.5,427.2 L1140.2,426.8 L1140.8,426.5 L1141.5,426.3 L1142.2,426.0 L1142.9,425.9 L1143.5,425.8 L1144.2,425.7 L1144.9,425.6 L1145.6,425.6 L1146.2,425.7 L1146.9,425.7 L1147.6,425.8 L1148.3,425.8 L1149.0,425.9 L1149.6,426.0 L1150.3,426.1 L1151.0,426.1 L1151.7,426.2 L1152.3,426.2 L1153.0,426.2 L1153.7,426.1 L1154.4,426.0 L1155.1,425.8 L1155.7,425.6 L1156.4,425.2 L1157.1,424.8 L1157.8,424.2 L1158.4,423.5 L1159.1,422.7 L1159.8,421.7 L1160.5,420.6 L1161.1,419.2 L1161.8,417.7 L1162.5,415.9 L1163.2,413.8 L1163.9,411.5 L1164.5,408.8 L1165.2,405.8 L1165.9,402.4 L1166.6,398.6 L1167.2,394.4 L1167.9,389.7 L1168.6,384.5 L1169.3,378.8 L1169.9,372.5 L1170.6,365.6 L1171.3,358.1 L1172.0,350.0 L1172.7,341.3 L1173.3,331.9 L1174.0,321.9 L1174.7,311.2 L1175.4,300.0 L1176.0,288.2 L1176.7,275.8 L1177.4,263.0 L1178.1,249.8 L1178.7,236.3 L1179.4,222.7 L1180.1,209.0 L1180.8,195.5 L1181.5,182.2 L1182.1,169.6 L1182.8,157.7 L1183.5,146.8 L1184.2,137.3 L1184.8,129.3 L1185.5,123.1 L1186.2,118.9 L1186.9,116.9 L1187.5,116.8 L1188.2,118.3 L1188.9,121.2 L1189.6,125.4 L1190.3,130.8 L1190.9,137.4 L1191.6,144.9 L1192.3,153.3 L1193.0,162.4 L1193.6,172.1 L1194.3,182.1 L1195.0,192.5 L1195.7,203.0 L1196.3,213.6 L1197.0,224.1 L1197.7,234.4 L1198.4,244.4 L1199.1,254.1 L1199.7,263.4 L1200.4,272.2 L1201.1,280.5 L1201.8,288.2 L1202.4,295.2 L1203.1,301.6 L1203.8,307.3 L1204.5,312.3 L1205.1,316.7 L1205.8,320.3 L1206.5,323.2 L1207.2,325.6 L1207.9,327.3 L1208.5,328.5 L1209.2,329.2 L1209.9,329.5 L1210.6,329.5 L1211.2,329.3 L1211.9,329.0 L1212.6,328.7 L1213.3,328.5 L1213.9,328.5 L1214.6,328.9 L1215.3,329.8 L1216.0,331.2 L1216.7,333.2 L1217.3,335.3 L1218.0,337.6 L1218.7,340.0 L1219.4,342.5 L1220.0,345.2 L1220.7,348.0 L1221.4,350.9 L1222.1,353.9 L1222.8,357.0 L1223.4,360.2 L1224.1,363.4 L1224.8,366.7 L1225.5,370.0 L1226.1,373.3 L1226.8,376.6 L1227.5,379.9 L1228.2,383.1 L1228.8,386.3 L1229.5,389.4 L1230.2,392.5 L1230.9,395.5 L1231.6,398.4 L1232.2,401.2 L1232.9,403.9 L1233.6,406.5 L1234.3,409.0 L1234.9,411.4 L1235.6,413.6 L1236.3,415.8 L1237.0,417.8 L1237.6,419.7 L1238.3,421.5 L1239.0,423.2 L1239.7,424.8 L1240.4,426.3 L1241.0,427.6 L1241.7,428.9 L1242.4,430.0 L1243.1,431.1 L1243.7,432.1 L1244.4,433.0 L1245.1,433.8 L1245.8,434.6 L1246.4,435.3 L1247.1,435.9 L1247.8,436.4 L1248.5,436.9 L1249.2,437.4 L1249.8,437.8 L1250.5,438.2 L1251.2,438.5 L1251.9,438.8 L1252.5,439.0 L1253.2,439.3 L1253.9,439.5 L1254.6,439.7 L1255.2,439.8 L1255.9,440.0 L1256.6,440.1 L1257.3,440.2 L1258.0,440.3 L1258.6,440.4 L1259.3,440.5 L1260.0,440.6 L1260.7,440.7 L1261.3,440.8 L1262.0,440.9 L1262.7,440.9 L1263.4,441.0 L1264.0,441.1 L1264.7,441.1 L1265.4,441.2 L1266.1,441.3 L1266.8,441.4 L1267.4,441.5 L1268.1,441.5 L1268.8,441.6 L1269.5,441.7 L1270.1,441.8 L1270.8,441.9 L1271.5,442.0 L1272.2,442.1 L1272.8,442.2 L1273.5,442.3 L1274.2,442.5 L1274.9,442.6 L1275.6,442.7 L1276.2,442.8 L1276.9,443.0 L1277.6,443.1 L1278.3,443.2 L1278.9,443.4 L1279.6,443.5 L1280.3,443.6 L1281.0,443.8 L1281.6,443.9 L1282.3,444.1 L1283.0,444.2 L1283.7,444.4 L1284.4,444.5 L1285.0,444.7 L1285.7,444.8 L1286.4,445.0 L1287.1,445.1 L1287.7,445.3 L1288.4,445.5 L1289.1,445.6 L1289.8,445.8 L1290.5,445.9 L1291.1,446.1 L1291.8,446.2 L1292.5,446.4 L1293.2,446.6 L1293.8,446.7 L1294.5,446.9 L1295.2,447.0 L1295.9,447.1 L1296.5,447.3 L1297.2,447.4 L1297.9,447.6 L1298.6,447.7 L1299.3,447.8 L1299.9,447.9 L1300.6,448.0 L1301.3,448.1 L1302.0,448.2 L1302.6,448.3 L1303.3,448.4 L1304.0,448.4 L1304.7,448.5 L1305.3,448.5 L1306.0,448.5 L1306.7,448.5 L1307.4,448.5 L1308.1,448.5 L1308.7,448.4 L1309.4,448.3 L1310.1,448.2 L1310.8,448.1 L1311.4,447.9 L1312.1,447.7 L1312.8,447.5 L1313.5,447.2 L1314.1,446.9 L1314.8,446.6 L1315.5,446.2 L1316.2,445.8 L1316.9,445.4 L1317.5,444.9 L1318.2,444.4 L1318.9,443.8 L1319.6,443.3 L1320.2,442.6 L1320.9,442.0 L1321.6,441.3 L1322.3,440.6 L1322.9,439.9 L1323.6,439.1 L1324.3,438.4 L1325.0,437.6 L1325.7,436.8 L1326.3,436.0 L1327.0,435.3 L1327.7,434.5 L1328.4,433.8 L1329.0,433.2 L1329.7,432.5 L1330.4,431.9 L1331.1,431.4 L1331.7,431.0 L1332.4,430.6 L1333.1,430.3 L1333.8,430.1 L1334.5,430.0 L1335.1,430.0 L1335.8,430.1 L1336.5,430.3 L1337.2,430.5 L1337.8,430.7 L1338.5,431.0 L1339.2,431.4 L1339.9,431.8 L1340.5,432.3 L1341.2,432.8 L1341.9,433.3 L1342.6,433.9 L1343.3,434.5 L1343.9,435.1 L1344.6,435.8 L1345.3,436.5 L1346.0,437.1 L1346.6,437.8 L1347.3,438.5 L1348.0,439.2 L1348.7,439.8 L1349.3,440.5 L1350.0,441.2 L1350.7,441.8 L1351.4,442.5 L1352.1,443.1 L1352.7,443.7 L1353.4,444.3 L1354.1,444.9 L1354.8,445.4 L1355.4,446.0 L1356.1,446.5 L1356.8,447.0 L1357.5,447.5 L1358.2,447.9 L1358.8,448.3 L1359.5,448.7 L1360.2,449.1 L1360.9,449.5 L1361.5,449.8 L1362.2,450.1 L1362.9,450.4 L1363.6,450.7 L1364.2,451.0 L1364.9,451.2 L1365.6,451.4 L1366.3,451.6 L1367.0,451.8 L1367.6,452.0 L1368.3,452.2 L1369.0,452.3 L1369.7,452.5 L1370.3,452.6 L1371.0,452.7 L1371.7,452.8 L1372.4,452.9 L1373.0,453.0 L1373.7,453.1 L1374.4,453.2 L1375.1,453.3 L1375.8,453.3 L1376.4,453.4 L1377.1,453.5 L1377.8,453.5 L1378.5,453.6 L1379.1,453.6 L1379.8,453.7 L1380.5,453.7 L1381.2,453.7 L1381.8,453.8 L1382.5,453.8 L1383.2,453.9 L1383.9,453.9 L1384.6,453.9 L1385.2,453.9 L1385.9,454.0 L1386.6,454.0 L1387.3,454.0 L1387.9,454.1 L1388.6,454.1 L1389.3,454.1 L1390.0,454.1 L1390.6,454.1 L1391.3,454.2 L1392.0,454.2 L1392.7,454.2 L1393.4,454.2 L1394.0,454.3 L1394.7,454.3 L1395.4,454.3 L1396.1,454.3 L1396.7,454.3 L1397.4,454.3 L1398.1,454.4 L1398.8,454.4 L1399.4,454.4 L1400.1,454.4 L1400.8,454.4 L1401.5,454.4 L1402.2,454.5 L1402.8,454.5 L1403.5,454.5 L1404.2,454.5 L1404.9,454.5 L1405.5,454.5 L1406.2,454.6 L1406.9,454.6 L1407.6,454.6 L1408.2,454.6 L1408.9,454.6 L1409.6,454.6 L1410.3,454.6 L1411.0,454.6 L1411.6,454.7 L1412.3,454.7 L1413.0,454.7 L1413.7,454.7 L1414.3,454.7 L1415.0,454.7 L1415.7,454.7 L1416.4,454.7 L1417.0,454.8 L1417.7,454.8 L1418.4,454.8 L1419.1,454.8 L1419.8,454.8 L1420.4,454.8 L1421.1,454.8 L1421.8,454.8 L1422.5,454.8 L1423.1,454.9 L1423.8,454.9 L1424.5,454.9 L1425.2,454.9 L1425.9,454.9 L1426.5,454.9 L1427.2,454.9 L1427.9,454.9 L1428.6,454.9 L1429.2,454.9 L1429.9,454.9 L1430.6,454.9 L1431.3,454.9 L1431.9,455.0 L1432.6,455.0 L1433.3,455.0 L1434.0,454.9 L1434.7,454.9 L1435.3,454.8 L1436.0,454.7 L1436.7,454.6 L1437.4,454.4 L1438.0,454.1 L1438.7,453.8 L1439.4,453.6 L1440.1,453.3 L1440.7,452.9 L1441.4,452.6 L1442.1,452.2 L1442.8,451.7 L1443.5,451.3 L1444.1,450.8 L1444.8,450.3 L1445.5,449.7 L1446.2,449.1 L1446.8,448.5 L1447.5,447.9 L1448.2,447.3 L1448.9,446.7 L1449.5,446.1 L1450.2,445.6 L1450.9,445.0 L1451.6,444.4 L1452.3,443.9 L1452.9,443.5 L1453.6,443.1 L1454.3,442.7 L1455.0,442.5 L1455.6,442.3 L1456.3,442.1 L1457.0,442.1 L1457.7,442.2 L1458.3,442.3 L1459.0,442.4 L1459.7,442.7 L1460.4,442.9 L1461.1,443.2 L1461.7,443.5 L1462.4,443.8 L1463.1,444.1 L1463.8,444.4 L1464.4,444.7 L1465.1,444.9 L1465.8,445.1 L1466.5,445.3 L1467.1,445.5 L1467.8,445.6 L1468.5,445.7 L1469.2,445.8 L1469.9,445.8 L1470.5,445.9 L1471.2,445.9 L1471.9,446.0 L1472.6,446.0 L1473.2,446.0 L1473.9,446.1 L1474.6,446.1 L1475.3,446.2 L1475.9,446.2 L1476.6,446.3 L1477.3,446.4 L1478.0,446.5 L1478.7,446.6 L1479.3,446.7 L1480.0,446.8 L1480.7,446.9 L1481.4,447.1 L1482.0,447.2 L1482.7,447.4 L1483.4,447.6 L1484.1,447.8 L1484.7,447.9 L1485.4,448.1 L1486.1,448.3 L1486.8,448.5 L1487.5,448.7 L1488.1,448.9 L1488.8,449.0 L1489.5,449.2 L1490.2,449.4 L1490.8,449.6 L1491.5,449.7 L1492.2,449.9 L1492.9,450.0 L1493.6,450.2 L1494.2,450.3 L1494.9,450.5 L1495.6,450.6 L1496.3,450.7 L1496.9,450.8 L1497.6,450.9 L1498.3,451.0 L1499.0,451.1 L1499.6,451.2 L1500.3,451.3 L1501.0,451.4 L1501.7,451.4 L1502.4,451.5 L1503.0,451.6 L1503.7,451.6 L1504.4,451.7 L1505.1,451.7 L1505.7,451.7 L1506.4,451.8 L1507.1,451.8 L1507.8,451.8 L1508.4,451.9 L1509.1,451.9 L1509.8,451.9 L1510.5,451.9 L1511.2,451.9 L1511.8,452.0 L1512.5,452.0 L1513.2,452.0 L1513.9,452.0 L1514.5,452.0 L1515.2,452.0 L1515.9,452.0 L1516.6,452.0 L1517.2,452.0 L1517.9,452.0 L1518.6,452.0" fill="none" stroke="#9a2fc0" stroke-width="1.6" stroke-linejoin="round"/>
<path d="M1363.0,101.0 H1406.7" stroke="#000000" stroke-width="1.7"/>
<text x="1431.0" y="110.6" class="lg">WT</text>
<path d="M1363.0,150.5 H1406.7" stroke="#7ba7dc" stroke-width="1.7"/>
<text x="1431.0" y="160.1" class="lg">V314Y</text>
<path d="M1363.0,200.4 H1406.7" stroke="#9a2fc0" stroke-width="1.7"/>
<text x="1431.0" y="210.0" class="lg">S315A</text>
<path d="M1363.0,251.8 H1406.7" stroke="#e8ec3c" stroke-width="4.2"/>
<text x="1431.0" y="261.4" class="lg">N316A</text>
<text transform="scale(0.840,1)" y="25.0" class="pl" style="font-size:31.8px"><tspan x="6.88">a</tspan><tspan x="26.11">.</tspan></text>
<text transform="scale(0.980,1)" y="25.0" class="pl" style="font-size:34.0px"><tspan x="784.69">b</tspan><tspan x="802.52">.</tspan></text>
<text transform="scale(0.970,1)" y="622.0" class="pl" style="font-size:34.0px"><tspan x="1.22">c</tspan><tspan x="15.87">.</tspan></text>
<text transform="scale(0.980,1)" y="1131.7" class="pl" style="font-size:34.0px"><tspan x="0.03">d</tspan><tspan x="17.11">.</tspan></text>
<g id="chem">
<path d="M119.7,732.3 L152.9,751.2M152.9,751.2 L152.9,811.3M152.9,811.3 L227.7,782.4M268.9,782.7 L279.9,787.0M300.1,794.8 L342.2,812.6M342.2,812.6 L342.4,871.8M342.4,871.8 L376.9,892.1" stroke="#111" stroke-width="2.4" fill="none" stroke-linecap="round" stroke-linejoin="round"/>
<path d="M290.4,787.7 V848 M204.6,884 V903.5" stroke="#111" stroke-width="1.9" fill="none"/>
<path d="M343.0,812.8 L344.5,812.7 L345.9,812.6 L347.2,812.4 L348.2,812.1 L349.1,811.6 L349.7,811.0 L350.1,810.2 L350.2,809.2 L350.0,808.1 L349.7,806.8 L349.3,805.5 L348.8,804.1 L348.3,802.7 L347.8,801.4 L347.5,800.1 L347.4,799.0 L347.5,798.0 L347.8,797.2 L348.5,796.6 L349.3,796.1 L350.4,795.8 L351.7,795.6 L353.1,795.5 L354.6,795.4 L356.0,795.4 L357.4,795.3 L358.7,795.1 L359.8,794.8 L360.7,794.3 L361.3,793.6 L361.6,792.8 L361.7,791.9 L361.6,790.7 L361.3,789.5 L360.8,788.1 L360.3,786.8 L359.8,785.4 L359.4,784.0 L359.1,782.8 L359.0,781.7 L359.1,780.7 L359.4,779.9 L360.0,779.2 L360.9,778.8 L362.0,778.4 L363.2,778.3 L364.6,778.1 L366.1,778.1 L367.6,778.0 L369.0,777.9 L370.3,777.7 L371.4,777.4 L372.2,776.9 L372.8,776.3 L373.2,775.5 L373.3,774.5 L373.2,773.4 L372.9,772.1 L372.4,770.8 L371.9,769.4" stroke="#111" stroke-width="2.3" fill="none" stroke-linecap="round"/>
<path d="M152.6,811.5 L196.5,851.5 L187.5,858.5 Z" fill="#111" stroke="#111" stroke-width="1" stroke-linejoin="round"/>
<path d="M341.9,812.9 L300.5,846 L310.5,854 Z" fill="#111" stroke="#111" stroke-width="1" stroke-linejoin="round"/>
<rect x="214" y="858.4" width="70" height="9.6" fill="#111"/>
<circle cx="205.8" cy="865.6" r="20.2" fill="#e8321f"/>
<circle cx="292.0" cy="865.8" r="20.2" fill="#e8321f"/>
<text transform="translate(205.6,876.0) scale(0.86,1)" text-anchor="middle" class="chH">H</text>
<text transform="translate(291.8,876.0) scale(0.86,1)" text-anchor="middle" class="chH">H</text>
<text x="60.8" y="735" class="chA">HO</text>
<text x="246.4" y="788.6" class="chA" text-anchor="middle">O</text>
<text x="276.0" y="778.6" class="chA">OH</text>
<text x="376.3" y="767.5" class="chA">OH</text>
<text x="380.7" y="917.6" class="chA">OH</text>
<text x="190.2" y="938.0" class="chA">OH</text>
<text x="137.2" y="768.3" class="chN" text-anchor="middle">6</text>
<text x="137.2" y="823.6" class="chN" text-anchor="middle">5</text>
<text x="204.3" y="845.2" class="chN" text-anchor="middle">4</text>
<text x="298.5" y="844.4" class="chN" text-anchor="middle">3</text>
<text x="336.2" y="801.4" class="chN" text-anchor="middle">2</text>
<text x="356.0" y="868.4" class="chN" text-anchor="middle">1</text>
<text x="155.2" y="974.4" class="chT" textLength="197.8" lengthAdjust="spacingAndGlyphs">D-fructofuranose</text>
</g>
<g id="nmr">
<path d="M561.8,841.9 L562.5,841.9 L563.2,842.0 L563.9,841.9 L564.6,841.6 L565.3,841.3 L566.0,841.7 L566.7,841.4 L567.4,841.9 L568.1,842.0 L568.8,842.2 L569.5,842.4 L570.2,842.1 L570.9,842.2 L571.6,842.1 L572.3,842.2 L573.0,842.1 L573.7,841.8 L574.4,842.1 L575.1,842.1 L575.8,842.1 L576.5,842.5 L577.2,842.4 L577.9,842.6 L578.6,842.6 L579.3,842.7 L580.0,842.8 L580.7,842.5 L581.4,842.3 L582.1,842.5 L582.8,842.7 L583.5,842.9 L584.2,842.9 L584.9,843.3 L585.6,843.1 L586.3,842.8 L587.0,843.0 L587.7,843.0 L588.4,842.9 L589.1,842.4 L589.8,842.0 L590.5,842.0 L591.2,841.8 L591.9,842.1 L592.6,841.8 L593.3,842.2 L594.0,842.6 L594.7,842.3 L595.4,842.4 L596.1,842.6 L596.8,842.2 L597.5,842.1 L598.2,842.2 L598.9,841.9 L599.6,842.0 L600.3,842.6 L601.0,842.6 L601.7,842.5 L602.4,843.0 L603.1,843.3 L603.8,842.9 L604.5,842.6 L605.2,842.1 L605.9,841.8 L606.6,841.7 L607.3,841.4 L608.0,841.4 L608.7,841.5 L609.4,841.6 L610.1,841.6 L610.8,841.5 L611.5,842.2 L612.2,842.2 L612.9,841.7 L613.6,841.7 L614.3,842.0 L615.0,842.0 L615.7,841.9 L616.4,841.8 L617.1,842.3 L617.8,842.6 L618.5,842.3 L619.2,842.2 L619.9,842.3 L620.6,842.0 L621.3,842.5 L622.0,842.8 L622.7,842.9 L623.4,842.5 L624.1,842.1 L624.8,841.7 L625.5,841.8 L626.2,842.2 L626.9,842.7 L627.6,842.8 L628.3,842.4 L629.0,842.0 L629.7,842.4 L630.4,842.5 L631.1,842.7 L631.8,842.3 L632.5,842.7 L633.2,842.7 L633.9,842.5 L634.6,842.4 L635.3,842.6 L636.0,842.6 L636.7,842.4 L637.4,842.0 L638.1,842.5 L638.8,842.3 L639.5,842.7 L640.2,842.4 L640.9,841.9 L641.6,842.4 L642.3,842.6 L643.0,842.6 L643.7,842.5 L644.4,842.2 L645.1,842.1 L645.8,841.9 L646.5,842.0 L647.2,841.8 L647.9,842.2 L648.6,842.3 L649.3,842.2 L650.0,842.0 L650.7,841.9 L651.4,841.8 L652.1,841.7 L652.8,842.0 L653.5,842.0 L654.2,842.2 L654.9,842.0 L655.6,841.7 L656.3,842.1 L657.0,842.3 L657.7,842.6 L658.4,842.6 L659.1,842.7 L659.8,842.6 L660.5,842.8 L661.2,843.0 L661.9,843.0 L662.6,843.1 L663.3,843.0 L664.0,842.6 L664.7,842.2 L665.4,842.1 L666.1,842.6 L666.8,842.4 L667.5,842.3 L668.2,842.9 L668.9,842.8 L669.6,842.6 L670.3,843.0 L671.0,842.6 L671.7,842.5 L672.4,842.2 L673.1,842.3 L673.8,842.4 L674.5,842.1 L675.2,842.4 L675.9,842.4 L676.6,842.8 L677.3,842.3 L678.0,842.1 L678.7,841.8 L679.4,842.2 L680.1,842.3 L680.8,842.3 L681.5,842.5 L682.2,841.9 L682.9,842.2 L683.6,842.2 L684.3,842.5 L685.0,842.3 L685.7,842.1 L686.4,842.0 L687.1,842.3 L687.8,841.9 L688.5,841.9 L689.2,841.6 L689.9,841.3 L690.6,841.4 L691.3,841.7 L692.0,841.7 L692.7,841.5 L693.4,841.3 L694.1,841.7 L694.8,841.6 L695.5,841.8 L696.2,842.0 L696.9,842.1 L697.6,841.9 L698.3,842.2 L699.0,841.8 L699.7,841.1 L700.4,839.8 L701.1,838.0 L701.8,836.4 L702.5,834.5 L703.2,832.6 L703.9,829.6 L704.6,824.8 L705.3,820.2 L706.0,816.7 L706.7,815.1 L707.4,813.9 L708.1,812.6 L708.8,811.4 L709.5,810.8 L710.2,811.2 L710.9,811.7 L711.6,812.0 L712.3,812.4 L713.0,812.2 L713.7,811.8 L714.4,811.1 L715.1,810.3 L715.8,809.5 L716.5,808.4 L717.2,808.2 L717.9,809.1 L718.6,810.4 L719.3,812.6 L720.0,815.0 L720.7,816.7 L721.4,818.8 L722.1,821.2 L722.8,823.7 L723.5,826.0 L724.2,827.5 L724.9,829.0 L725.6,830.4 L726.3,831.9 L727.0,833.3 L727.7,834.2 L728.4,835.7 L729.1,836.6 L729.8,837.2 L730.5,838.0 L731.2,838.2 L731.9,838.9 L732.6,840.0 L733.3,840.3 L734.0,840.7 L734.7,841.3 L735.4,841.4 L736.1,841.2 L736.8,841.5 L737.5,841.5 L738.2,841.2 L738.9,841.7 L739.6,841.7 L740.3,841.8 L741.0,841.7 L741.7,841.9 L742.4,842.6 L743.1,842.1 L743.8,842.5 L744.5,842.2 L745.2,842.2 L745.9,842.0 L746.6,841.7 L747.3,841.9 L748.0,842.3 L748.7,842.6 L749.4,842.5 L750.1,842.2 L750.8,841.9 L751.5,841.8 L752.2,841.6 L752.9,841.8 L753.6,841.6 L754.3,841.7 L755.0,842.2 L755.7,842.4 L756.4,842.2 L757.1,842.5 L757.8,842.2 L758.5,841.8 L759.2,841.7 L759.9,841.7 L760.6,841.2 L761.3,841.1 L762.0,841.3 L762.7,841.6 L763.4,841.7 L764.1,841.8 L764.8,841.5 L765.5,841.5 L766.2,841.7 L766.9,841.1 L767.6,841.2 L768.3,841.1 L769.0,841.1 L769.7,841.3 L770.4,841.3 L771.1,841.3 L771.8,840.9 L772.5,841.0 L773.2,840.9 L773.9,841.5 L774.6,841.2 L775.3,840.9 L776.0,840.8 L776.7,840.7 L777.4,841.2 L778.1,841.4 L778.8,841.5 L779.5,841.4 L780.2,841.1 L780.9,841.5 L781.6,841.8 L782.3,842.0 L783.0,841.8 L783.7,841.8 L784.4,842.5 L785.1,842.4 L785.8,842.2 L786.5,842.5 L787.2,842.3 L787.9,842.5 L788.6,842.9 L789.3,842.9 L790.0,842.4 L790.7,842.6 L791.4,843.0 L792.1,843.1 L792.8,842.9 L793.5,842.6 L794.2,842.6 L794.9,842.5 L795.6,842.1 L796.3,842.5 L797.0,842.0 L797.7,842.3 L798.4,842.2 L799.1,842.2 L799.8,842.2 L800.5,842.8 L801.2,843.1 L801.9,842.7 L802.6,843.2 L803.3,842.8 L804.0,843.0 L804.7,842.8 L805.4,843.2 L806.1,842.7 L806.8,842.7 L807.5,842.8 L808.2,843.3 L808.9,843.2 L809.6,843.5 L810.3,843.7 L811.0,843.7 L811.7,843.7 L812.4,843.5 L813.1,843.4 L813.8,843.9 L814.5,843.5 L815.2,843.7 L815.9,843.2 L816.6,843.0 L817.3,843.7 L818.0,844.1 L818.7,843.9 L819.4,843.5 L820.1,842.8 L820.8,842.3 L821.5,841.5 L822.2,840.5 L822.9,839.8 L823.6,839.6 L824.3,839.4 L825.0,839.2 L825.7,839.2 L826.4,838.8 L827.1,839.0 L827.8,839.0 L828.5,839.5 L829.2,840.1 L829.9,840.5 L830.6,840.4 L831.3,841.2 L832.0,841.8 L832.7,841.6 L833.4,841.9 L834.1,841.6 L834.8,841.1 L835.5,840.6 L836.2,840.7 L836.9,840.4 L837.6,839.9 L838.3,840.1 L839.0,839.4 L839.7,839.0 L840.4,838.8 L841.1,838.8 L841.8,838.8 L842.5,838.3 L843.2,837.9 L843.9,837.7 L844.6,837.6 L845.3,837.3 L846.0,837.1 L846.7,837.5 L847.4,838.1 L848.1,837.7 L848.8,837.7 L849.5,838.1 L850.2,838.1 L850.9,838.6 L851.6,839.2 L852.3,839.3 L853.0,839.6 L853.7,839.8 L854.4,840.1 L855.1,840.0 L855.8,840.2 L856.5,840.4 L857.2,840.8 L857.9,840.8 L858.6,841.3 L859.3,841.7 L860.0,842.0 L860.7,842.6 L861.4,842.2 L862.1,841.9 L862.8,842.6 L863.5,843.0 L864.2,843.4 L864.9,843.4 L865.6,843.5 L866.3,843.6 L867.0,843.3 L867.7,843.0 L868.4,843.0 L869.1,843.1 L869.8,842.8 L870.5,843.0 L871.2,842.9 L871.9,843.4 L872.6,843.0 L873.3,843.1 L874.0,843.2 L874.7,843.2 L875.4,843.2 L876.1,843.4 L876.8,843.3 L877.5,843.3 L878.2,843.8 L878.9,843.5 L879.6,843.6 L880.3,843.5 L881.0,843.7 L881.7,843.8 L882.4,843.5 L883.1,843.2 L883.8,843.7 L884.5,843.4 L885.2,843.3 L885.9,843.0 L886.6,843.4 L887.3,843.1 L888.0,843.6 L888.7,843.1 L889.4,843.7 L890.1,843.4 L890.8,843.7 L891.5,844.0 L892.2,843.9 L892.9,843.9 L893.6,843.9 L894.3,843.8 L895.0,843.4 L895.7,843.3 L896.4,842.9 L897.1,843.3 L897.8,842.9 L898.5,842.8 L899.2,842.9 L899.9,843.1 L900.6,843.1 L901.3,843.1 L902.0,843.1 L902.7,843.0 L903.4,842.7 L904.1,842.6 L904.8,843.0 L905.5,842.8 L906.2,842.7 L906.9,842.6 L907.6,842.4 L908.3,842.4 L909.0,842.5 L909.7,843.0 L910.4,842.9 L911.1,842.9 L911.8,843.2 L912.5,843.8 L913.2,844.0 L913.9,843.8 L914.6,843.8 L915.3,843.7 L916.0,844.1 L916.7,843.5 L917.4,843.5 L918.1,843.7 L918.8,843.7 L919.5,843.9 L920.2,843.5 L920.9,843.4 L921.6,843.0 L922.3,843.1 L923.0,843.4 L923.7,843.2 L924.4,842.9 L925.1,843.0 L925.8,843.3 L926.5,843.5 L927.2,843.3 L927.9,843.1 L928.6,843.1 L929.3,843.5 L930.0,843.3 L930.7,842.9 L931.4,842.8 L932.1,842.9 L932.8,843.2 L933.5,843.1 L934.2,842.5 L934.9,842.0 L935.6,842.1 L936.3,842.3 L937.0,841.8 L937.7,841.7 L938.4,841.4 L939.1,841.2 L939.8,841.2 L940.5,841.3 L941.2,841.5 L941.9,841.5 L942.6,841.2 L943.3,841.2 L944.0,841.8 L944.7,841.7 L945.4,841.6 L946.1,841.7 L946.8,842.0 L947.5,842.6 L948.2,842.7 L948.9,842.4 L949.6,842.2 L950.3,842.2 L951.0,842.0 L951.7,842.2 L952.4,842.2 L953.1,842.4 L953.8,842.5 L954.5,842.3 L955.2,842.2 L955.9,842.6 L956.6,842.3 L957.3,842.4 L958.0,842.5 L958.7,842.0 L959.4,841.7 L960.1,841.8 L960.8,842.2 L961.5,842.1 L962.2,842.1 L962.9,842.2 L963.6,842.0 L964.3,842.1 L965.0,842.0 L965.7,841.7 L966.4,842.1 L967.1,841.9 L967.8,841.8 L968.5,841.6 L969.2,841.4 L969.9,841.3 L970.6,841.0 L971.3,840.9 L972.0,840.6 L972.7,840.3 L973.4,840.0 L974.1,839.9 L974.8,839.6 L975.5,839.9 L976.2,840.1 L976.9,840.1 L977.6,841.0 L978.3,841.8 L979.0,841.9 L979.7,842.3 L980.4,843.0 L981.1,842.8 L981.8,843.3 L982.5,842.8 L983.2,842.3 L983.9,843.0 L984.6,843.3 L985.3,843.3 L986.0,842.8 L986.7,843.0 L987.4,843.0 L988.1,842.7 L988.8,842.9 L989.5,842.8 L990.2,843.3 L990.9,843.7 L991.6,843.3 L992.3,843.5 L993.0,843.5 L993.7,843.3 L994.4,843.5 L995.1,843.7 L995.8,843.3 L996.5,843.9 L997.2,843.5 L997.9,843.6 L998.6,843.4 L999.3,843.5 L1000.0,843.5 L1000.7,843.2 L1001.4,843.5 L1002.1,843.3 L1002.8,843.2 L1003.5,843.6 L1004.2,843.6 L1004.9,843.5 L1005.6,843.6 L1006.3,843.8 L1007.0,843.6 L1007.7,844.0 L1008.4,844.1 L1009.1,843.8 L1009.8,843.8 L1010.5,843.9 L1011.2,843.3 L1011.9,842.9 L1012.6,842.8 L1013.3,842.1 L1014.0,841.9 L1014.7,841.2 L1015.4,841.0 L1016.1,840.4 L1016.8,840.5 L1017.5,839.8 L1018.2,839.4 L1018.9,839.2 L1019.6,838.9 L1020.3,839.3 L1021.0,839.0 L1021.7,838.4 L1022.4,838.7 L1023.1,838.5 L1023.8,838.1 L1024.5,837.4 L1025.2,837.1 L1025.9,837.1 L1026.6,837.2 L1027.3,837.1 L1028.0,836.7 L1028.7,836.7 L1029.4,836.8 L1030.1,836.8 L1030.8,836.4 L1031.5,836.7 L1032.2,836.8 L1032.9,837.0 L1033.6,836.9 L1034.3,836.7 L1035.0,836.4 L1035.7,836.8 L1036.4,836.8 L1037.1,836.9 L1037.8,837.1 L1038.5,837.7 L1039.2,837.5 L1039.9,837.7 L1040.6,837.9 L1041.3,837.5 L1042.0,837.2 L1042.7,837.3 L1043.4,836.6 L1044.1,836.2 L1044.8,835.7 L1045.5,835.3 L1046.2,834.9 L1046.9,834.1 L1047.6,833.6 L1048.3,833.1 L1049.0,832.5 L1049.7,832.3 L1050.4,832.1 L1051.1,832.7 L1051.8,833.0 L1052.5,833.6 L1053.2,834.4 L1053.9,834.6 L1054.6,834.2 L1055.3,833.9 L1056.0,833.9 L1056.7,833.7 L1057.4,833.6 L1058.1,833.7 L1058.8,834.5 L1059.5,834.9 L1060.2,835.5 L1060.9,836.5 L1061.6,837.4 L1062.3,837.8 L1063.0,838.2 L1063.7,838.6 L1064.4,838.9 L1065.1,839.4 L1065.8,840.1 L1066.5,840.7 L1067.2,841.6 L1067.9,841.7 L1068.6,842.2 L1069.3,842.0 L1070.0,841.4 L1070.7,840.6 L1071.4,839.7 L1072.1,838.3 L1072.8,837.4 L1073.5,836.4 L1074.2,836.4 L1074.9,835.9 L1075.6,835.7 L1076.3,835.6 L1077.0,835.6 L1077.7,835.1 L1078.4,835.0 L1079.1,835.0 L1079.8,834.8 L1080.5,834.5 L1081.2,834.5 L1081.9,834.6 L1082.6,834.9 L1083.3,835.3 L1084.0,835.5 L1084.7,836.0 L1085.4,837.1 L1086.1,837.7 L1086.8,838.7 L1087.5,839.8 L1088.2,840.2 L1088.9,841.1 L1089.6,841.5 L1090.3,841.6 L1091.0,841.9 L1091.7,842.4 L1092.4,842.6 L1093.1,842.6 L1093.8,842.8 L1094.5,842.6 L1095.2,842.6 L1095.9,842.8 L1096.6,843.0 L1097.3,843.0 L1098.0,843.3 L1098.7,843.4 L1099.4,843.1 L1100.1,843.0 L1100.8,843.2 L1101.5,842.9 L1102.2,843.2 L1102.9,842.8 L1103.6,842.4 L1104.3,842.9 L1105.0,843.3 L1105.7,843.6 L1106.4,843.6 L1107.1,843.7 L1107.8,843.6 L1108.5,843.6 L1109.2,843.6 L1109.9,843.1 L1110.6,843.7 L1111.3,843.6 L1112.0,844.0 L1112.7,843.7 L1113.4,843.5 L1114.1,843.3 L1114.8,843.7 L1115.5,843.3 L1116.2,842.8 L1116.9,843.2 L1117.6,843.5 L1118.3,843.1 L1119.0,843.5 L1119.7,843.8 L1120.4,843.5 L1121.1,843.5 L1121.8,843.1 L1122.5,843.1 L1123.2,843.2 L1123.9,843.1 L1124.6,842.6 L1125.3,842.9 L1126.0,843.1 L1126.7,843.1 L1127.4,843.6 L1128.1,843.5 L1128.8,843.8 L1129.5,844.0 L1130.2,843.9 L1130.9,843.7 L1131.6,843.5 L1132.3,843.5 L1133.0,843.6 L1133.7,843.6 L1134.4,843.4 L1135.1,843.4 L1135.8,843.6 L1136.5,843.5 L1137.2,843.5 L1137.9,843.5 L1138.6,843.6 L1139.3,844.1 L1140.0,843.9 L1140.7,843.7 L1141.4,844.0 L1142.1,843.7 L1142.8,844.1 L1143.5,843.9 L1144.2,843.9 L1144.9,843.7 L1145.6,843.8 L1146.3,843.7 L1147.0,843.1 L1147.7,842.9 L1148.4,843.0 L1149.1,842.3 L1149.8,842.2 L1150.5,841.6 L1151.2,841.5 L1151.9,841.4 L1152.6,840.5 L1153.3,840.5 L1154.0,840.3 L1154.7,840.4 L1155.4,840.5 L1156.1,840.2 L1156.8,840.2 L1157.5,840.4 L1158.2,840.2 L1158.9,840.2 L1159.6,840.4 L1160.3,840.6 L1161.0,840.5 L1161.7,840.1 L1162.4,840.0 L1163.1,839.9 L1163.8,839.9 L1164.5,839.5 L1165.2,840.0 L1165.9,839.8 L1166.6,839.9 L1167.3,840.0 L1168.0,839.9 L1168.7,839.9 L1169.4,840.0 L1170.1,839.7 L1170.8,839.7 L1171.5,839.8 L1172.2,839.9 L1172.9,839.0 L1173.6,838.4 L1174.3,837.9 L1175.0,838.2 L1175.7,838.4 L1176.4,838.4 L1177.1,838.4 L1177.8,838.3 L1178.5,838.1 L1179.2,838.4 L1179.9,838.3 L1180.6,838.0 L1181.3,838.6 L1182.0,838.0 L1182.7,837.8 L1183.4,838.2 L1184.1,837.9 L1184.8,837.8 L1185.5,837.6 L1186.2,836.4 L1186.9,836.4 L1187.6,835.9 L1188.3,835.7 L1189.0,835.0 L1189.7,834.6 L1190.4,834.8 L1191.1,834.9 L1191.8,835.4 L1192.5,836.0 L1193.2,836.5 L1193.9,836.8 L1194.6,837.4 L1195.3,836.9 L1196.0,836.7 L1196.7,836.7 L1197.4,836.2 L1198.1,836.1 L1198.8,835.7 L1199.5,835.0 L1200.2,835.1 L1200.9,835.0 L1201.6,834.8 L1202.3,834.8 L1203.0,835.6 L1203.7,836.1 L1204.4,837.1 L1205.1,837.9 L1205.8,838.6 L1206.5,839.3 L1207.2,840.0 L1207.9,840.4 L1208.6,841.1 L1209.3,841.8 L1210.0,841.2 L1210.7,841.1 L1211.4,841.0 L1212.1,841.0 L1212.8,840.9 L1213.5,840.2 L1214.2,840.2 L1214.9,839.7 L1215.6,839.5 L1216.3,839.1 L1217.0,838.7 L1217.7,838.4 L1218.4,837.7 L1219.1,837.7 L1219.8,837.3 L1220.5,837.4 L1221.2,837.5 L1221.9,836.9 L1222.6,837.0 L1223.3,836.8 L1224.0,836.9 L1224.7,837.2 L1225.4,836.6 L1226.1,836.7 L1226.8,836.6 L1227.5,836.3 L1228.2,835.7 L1228.9,835.4 L1229.6,834.9 L1230.3,834.8 L1231.0,834.6 L1231.7,835.0 L1232.4,834.9 L1233.1,834.9 L1233.8,834.8 L1234.5,835.1 L1235.2,835.2 L1235.9,835.1 L1236.6,835.5 L1237.3,835.3 L1238.0,835.6 L1238.7,835.2 L1239.4,835.7 L1240.1,836.0 L1240.8,836.6 L1241.5,837.1 L1242.2,838.1 L1242.9,838.0 L1243.6,838.6 L1244.3,838.7 L1245.0,839.0 L1245.7,839.7 L1246.4,839.8 L1247.1,840.2 L1247.8,841.1 L1248.5,841.1 L1249.2,841.6 L1249.9,841.8 L1250.6,841.9 L1251.3,841.6 L1252.0,841.8 L1252.7,842.1 L1253.4,842.3 L1254.1,841.7 L1254.8,842.2 L1255.5,841.8 L1256.2,841.7 L1256.9,841.5 L1257.6,841.5 L1258.3,841.1 L1259.0,841.7 L1259.7,842.0 L1260.4,842.3 L1261.1,842.1 L1261.8,842.1 L1262.5,842.0 L1263.2,842.2 L1263.9,842.0 L1264.6,841.9 L1265.3,842.1 L1266.0,842.0 L1266.7,841.7 L1267.4,842.0 L1268.1,841.7 L1268.8,841.5 L1269.5,841.1 L1270.2,841.1 L1270.9,841.0 L1271.6,840.9 L1272.3,841.3 L1273.0,841.5 L1273.7,841.4 L1274.4,841.4 L1275.1,841.4 L1275.8,841.2 L1276.5,841.1 L1277.2,841.2 L1277.9,840.8 L1278.6,841.1 L1279.3,841.0 L1280.0,840.9 L1280.7,840.5 L1281.4,839.7 L1282.1,839.8 L1282.8,839.4 L1283.5,839.5 L1284.2,839.3 L1284.9,840.2 L1285.6,840.2 L1286.3,840.7 L1287.0,841.5 L1287.7,842.0 L1288.4,842.5 L1289.1,842.7 L1289.8,843.0 L1290.5,843.0 L1291.2,843.1 L1291.9,843.4 L1292.6,843.6 L1293.3,843.5 L1294.0,843.8 L1294.7,843.6 L1295.4,843.5 L1296.1,843.5 L1296.8,843.5 L1297.5,843.3 L1298.2,843.7 L1298.9,843.6 L1299.6,843.2 L1300.3,843.0 L1301.0,842.9 L1301.7,842.8 L1302.4,842.7 L1303.1,841.9 L1303.8,841.1 L1304.5,839.4 L1305.2,838.7 L1305.9,838.4 L1306.6,837.7 L1307.3,836.7 L1308.0,835.8 L1308.7,834.8 L1309.4,834.1 L1310.1,833.5 L1310.8,832.7 L1311.5,832.6 L1312.2,833.4 L1312.9,834.7 L1313.6,835.9 L1314.3,837.5 L1315.0,839.0 L1315.7,839.5 L1316.4,840.6 L1317.1,840.3 L1317.8,840.5 L1318.5,840.8 L1319.2,840.6 L1319.9,839.9 L1320.6,839.6 L1321.3,839.1 L1322.0,839.2 L1322.7,839.2 L1323.4,839.0 L1324.1,839.2 L1324.8,839.3 L1325.5,839.0 L1326.2,839.7 L1326.9,840.0 L1327.6,840.3 L1328.3,840.4 L1329.0,840.8 L1329.7,840.8 L1330.4,839.9 L1331.1,839.3 L1331.8,837.9 L1332.5,837.1 L1333.2,836.1 L1333.9,834.3 L1334.6,833.6 L1335.3,833.1 L1336.0,832.6 L1336.7,832.8 L1337.4,833.4 L1338.1,834.1 L1338.8,835.0 L1339.5,836.3 L1340.2,837.2 L1340.9,837.6 L1341.6,839.0 L1342.3,839.4 L1343.0,839.7 L1343.7,840.2 L1344.4,840.4 L1345.1,840.2 L1345.8,840.3 L1346.5,840.5 L1347.2,840.7 L1347.9,840.3 L1348.6,840.2 L1349.3,840.7 L1350.0,840.6 L1350.7,840.8 L1351.4,840.6 L1352.1,840.7 L1352.8,840.6 L1353.5,840.4 L1354.2,840.2 L1354.9,840.6 L1355.6,840.6 L1356.3,840.3 L1357.0,840.6 L1357.7,840.8 L1358.4,840.7 L1359.1,840.6 L1359.8,840.5 L1360.5,840.3 L1361.2,839.8 L1361.9,839.5 L1362.6,839.5 L1363.3,839.8 L1364.0,839.6 L1364.7,839.6 L1365.4,840.0 L1366.1,840.3 L1366.8,840.6 L1367.5,840.9 L1368.2,841.2 L1368.9,841.3 L1369.6,841.8 L1370.3,842.2 L1371.0,842.4 L1371.7,842.7 L1372.4,842.7 L1373.1,842.8 L1373.8,843.0 L1374.5,843.0 L1375.2,843.7 L1375.9,844.3 L1376.6,843.9 L1377.3,843.7 L1378.0,843.9 L1378.7,844.1 L1379.4,844.2 L1380.1,844.5 L1380.8,844.5 L1381.5,844.6 L1382.2,844.9 L1382.9,844.3 L1383.6,844.1 L1384.3,844.2 L1385.0,844.0 L1385.7,844.2 L1386.4,844.8 L1387.1,844.9 L1387.8,845.1 L1388.5,844.8 L1389.2,845.3 L1389.9,844.9 L1390.6,845.4 L1391.3,845.0 L1392.0,845.0 L1392.7,845.0 L1393.4,845.0 L1394.1,845.2 L1394.8,845.6 L1395.5,845.2 L1396.2,845.6 L1396.9,846.0 L1397.6,846.2 L1398.3,846.1 L1399.0,845.7 L1399.7,845.6 L1400.4,845.6 L1401.1,845.6 L1401.8,845.9 L1402.5,845.7 L1403.2,846.0 L1403.9,845.8 L1404.6,845.3 L1405.3,845.2 L1406.0,844.9 L1406.7,845.3 L1407.4,845.0 L1408.1,845.1 L1408.8,845.4 L1409.5,845.4 L1410.2,845.1 L1410.9,845.1 L1411.6,845.2 L1412.3,845.0 L1413.0,845.0 L1413.7,845.4 L1414.4,844.9 L1415.1,844.7 L1415.8,844.4 L1416.5,844.4 L1417.2,844.3 L1417.9,844.4 L1418.6,844.3 L1419.3,843.9 L1420.0,844.7 L1420.7,844.6 L1421.4,845.0 L1422.1,844.7 L1422.8,844.5 L1423.5,844.4 L1424.2,845.0 L1424.9,845.3 L1425.6,845.1 L1426.3,844.7 L1427.0,844.6 L1427.7,844.8 L1428.4,844.6 L1429.1,845.1 L1429.8,844.9 L1430.5,845.1 L1431.2,844.7 L1431.9,844.8 L1432.6,844.8 L1433.3,844.8 L1434.0,844.3 L1434.7,844.6 L1435.4,844.9 L1436.1,845.3 L1436.8,845.1 L1437.5,844.6 L1438.2,844.5 L1438.9,844.5 L1439.6,844.8 L1440.3,844.2 L1441.0,844.1 L1441.7,844.2 L1442.4,844.7 L1443.1,844.9 L1443.8,844.7 L1444.5,844.6 L1445.2,844.4 L1445.9,844.7 L1446.6,844.7 L1447.3,844.5 L1448.0,844.5 L1448.7,844.1 L1449.4,844.1 L1450.1,844.7 L1450.8,845.1 L1451.5,845.2 L1452.2,845.0 L1452.9,845.1 L1453.6,844.8 L1454.3,845.0 L1455.0,844.9 L1455.7,844.9 L1456.4,844.3 L1457.1,844.4 L1457.8,844.2 L1458.5,844.2 L1459.2,844.2 L1459.9,844.2 L1460.6,843.9 L1461.3,844.4 L1462.0,844.4 L1462.7,844.1 L1463.4,844.2 L1464.1,844.4 L1464.8,844.4 L1465.5,844.3 L1466.2,844.3 L1466.9,844.3 L1467.6,844.7 L1468.3,845.0 L1469.0,845.0 L1469.7,845.6 L1470.4,845.4 L1471.1,845.2 L1471.8,845.6 L1472.5,845.6 L1473.2,845.6 L1473.9,845.4 L1474.6,845.2 L1475.3,845.0 L1476.0,845.2 L1476.7,845.6 L1477.4,845.9 L1478.1,846.2 L1478.8,845.9 L1479.5,845.8 L1480.2,845.9 L1480.9,845.4 L1481.6,845.8 L1482.3,845.6 L1483.0,845.4 L1483.7,845.7 L1484.4,845.6 L1485.1,845.5 L1485.8,845.2 L1486.5,845.6 L1487.2,845.0 L1487.9,845.0 L1488.6,844.9 L1489.3,844.9 L1490.0,844.7 L1490.7,845.2 L1491.4,845.5 L1492.1,845.5 L1492.8,845.3 L1493.5,845.6 L1494.2,845.5 L1494.9,845.5 L1495.6,845.5 L1496.3,845.3 L1497.0,845.6 L1497.7,845.9 L1498.4,845.4 L1499.1,845.4 L1499.8,845.2 L1500.5,845.0 L1501.2,845.1 L1501.9,845.0 L1502.6,844.8 L1503.3,844.6 L1504.0,845.0 L1504.7,844.5 L1505.4,844.7 L1506.1,844.7 L1506.8,844.7 L1507.5,845.1 L1508.2,845.2 L1508.9,845.4 L1509.6,845.7 L1510.3,845.7 L1511.0,845.4 L1511.7,845.8 L1512.4,846.0 L1513.1,845.8 L1513.8,845.8 L1514.5,845.6 L1515.2,845.5 L1515.9,845.1 L1516.6,845.2 L1517.3,845.1 L1518.0,844.8 L1518.7,844.6 L1519.4,844.6 L1520.1,844.6 L1520.8,844.6 L1521.5,844.3 L1522.2,844.3 L1522.9,844.7 L1523.6,845.0 L1524.3,845.3" fill="none" stroke="#d8392b" stroke-width="1.3" stroke-linejoin="round"/>
<path d="M561.8,937.1 L562.5,937.1 L563.2,937.1 L563.9,937.1 L564.6,937.1 L565.3,937.3 L566.0,937.4 L566.7,937.4 L567.4,937.5 L568.1,937.5 L568.8,937.5 L569.5,937.6 L570.2,937.5 L570.9,937.6 L571.6,937.7 L572.3,937.8 L573.0,937.8 L573.7,937.8 L574.4,937.8 L575.1,937.7 L575.8,937.8 L576.5,937.8 L577.2,937.8 L577.9,937.8 L578.6,937.9 L579.3,938.0 L580.0,938.1 L580.7,938.1 L581.4,938.2 L582.1,938.2 L582.8,938.2 L583.5,938.3 L584.2,938.1 L584.9,938.3 L585.6,938.2 L586.3,938.1 L587.0,938.2 L587.7,938.2 L588.4,938.2 L589.1,938.2 L589.8,938.4 L590.5,938.5 L591.2,938.3 L591.9,938.3 L592.6,938.3 L593.3,938.3 L594.0,938.3 L594.7,938.3 L595.4,938.4 L596.1,938.4 L596.8,938.5 L597.5,938.5 L598.2,938.6 L598.9,938.6 L599.6,938.5 L600.3,938.6 L601.0,938.5 L601.7,938.6 L602.4,938.5 L603.1,938.5 L603.8,938.5 L604.5,938.6 L605.2,938.7 L605.9,938.5 L606.6,938.7 L607.3,938.6 L608.0,938.6 L608.7,938.6 L609.4,938.6 L610.1,938.5 L610.8,938.6 L611.5,938.6 L612.2,938.6 L612.9,938.6 L613.6,938.6 L614.3,938.6 L615.0,938.6 L615.7,938.7 L616.4,938.7 L617.1,938.7 L617.8,938.8 L618.5,938.6 L619.2,938.6 L619.9,938.8 L620.6,938.6 L621.3,938.7 L622.0,938.8 L622.7,938.6 L623.4,938.7 L624.1,938.6 L624.8,938.6 L625.5,938.7 L626.2,938.7 L626.9,938.8 L627.6,938.8 L628.3,938.8 L629.0,938.8 L629.7,938.8 L630.4,938.7 L631.1,938.6 L631.8,938.6 L632.5,938.6 L633.2,938.8 L633.9,938.9 L634.6,938.9 L635.3,938.8 L636.0,938.7 L636.7,938.7 L637.4,938.7 L638.1,938.7 L638.8,938.7 L639.5,938.7 L640.2,938.6 L640.9,938.7 L641.6,938.6 L642.3,938.7 L643.0,938.7 L643.7,938.8 L644.4,938.6 L645.1,938.6 L645.8,938.6 L646.5,938.6 L647.2,938.5 L647.9,938.4 L648.6,938.6 L649.3,938.6 L650.0,938.5 L650.7,938.5 L651.4,938.6 L652.1,938.5 L652.8,938.5 L653.5,938.5 L654.2,938.4 L654.9,938.5 L655.6,938.6 L656.3,938.7 L657.0,938.6 L657.7,938.7 L658.4,938.7 L659.1,938.6 L659.8,938.7 L660.5,938.6 L661.2,938.6 L661.9,938.7 L662.6,938.8 L663.3,938.7 L664.0,938.7 L664.7,938.7 L665.4,938.8 L666.1,938.8 L666.8,938.7 L667.5,938.5 L668.2,938.5 L668.9,938.5 L669.6,938.6 L670.3,938.6 L671.0,938.5 L671.7,938.6 L672.4,938.7 L673.1,938.7 L673.8,938.7 L674.5,938.7 L675.2,938.8 L675.9,938.7 L676.6,938.7 L677.3,938.6 L678.0,938.6 L678.7,938.6 L679.4,938.6 L680.1,938.6 L680.8,938.5 L681.5,938.6 L682.2,938.6 L682.9,938.7 L683.6,938.7 L684.3,938.7 L685.0,938.7 L685.7,938.6 L686.4,938.6 L687.1,938.6 L687.8,938.4 L688.5,938.4 L689.2,938.3 L689.9,938.3 L690.6,938.3 L691.3,938.2 L692.0,938.2 L692.7,938.0 L693.4,938.0 L694.1,937.8 L694.8,937.8 L695.5,937.8 L696.2,937.7 L696.9,937.5 L697.6,937.3 L698.3,936.8 L699.0,936.2 L699.7,935.5 L700.4,934.5 L701.1,933.5 L701.8,932.2 L702.5,929.3 L703.2,925.1 L703.9,920.5 L704.6,916.3 L705.3,912.7 L706.0,909.1 L706.7,905.3 L707.4,901.8 L708.1,898.8 L708.8,896.9 L709.5,896.2 L710.2,896.6 L710.9,897.4 L711.6,898.6 L712.3,899.5 L713.0,900.1 L713.7,899.9 L714.4,898.6 L715.1,896.8 L715.8,894.9 L716.5,893.3 L717.2,892.8 L717.9,893.4 L718.6,895.2 L719.3,897.4 L720.0,899.9 L720.7,902.5 L721.4,905.1 L722.1,908.2 L722.8,911.5 L723.5,914.8 L724.2,917.9 L724.9,920.5 L725.6,922.5 L726.3,924.5 L727.0,926.2 L727.7,927.8 L728.4,929.4 L729.1,930.7 L729.8,931.6 L730.5,932.4 L731.2,933.0 L731.9,933.6 L732.6,934.1 L733.3,934.5 L734.0,934.9 L734.7,935.1 L735.4,935.3 L736.1,935.7 L736.8,935.9 L737.5,936.2 L738.2,936.6 L738.9,936.8 L739.6,937.0 L740.3,937.3 L741.0,937.4 L741.7,937.5 L742.4,937.8 L743.1,937.9 L743.8,937.9 L744.5,938.0 L745.2,937.9 L745.9,937.9 L746.6,937.8 L747.3,937.7 L748.0,937.6 L748.7,937.5 L749.4,937.3 L750.1,937.2 L750.8,937.1 L751.5,937.1 L752.2,937.0 L752.9,937.0 L753.6,936.8 L754.3,936.6 L755.0,936.6 L755.7,936.5 L756.4,936.3 L757.1,936.2 L757.8,936.2 L758.5,936.0 L759.2,935.9 L759.9,935.7 L760.6,935.6 L761.3,935.2 L762.0,934.9 L762.7,934.8 L763.4,934.7 L764.1,934.6 L764.8,934.5 L765.5,934.5 L766.2,934.4 L766.9,934.4 L767.6,934.3 L768.3,934.2 L769.0,934.1 L769.7,934.1 L770.4,934.0 L771.1,933.9 L771.8,933.9 L772.5,933.7 L773.2,933.7 L773.9,933.6 L774.6,933.7 L775.3,933.7 L776.0,933.8 L776.7,933.8 L777.4,933.7 L778.1,933.7 L778.8,933.8 L779.5,933.7 L780.2,933.8 L780.9,933.9 L781.6,934.0 L782.3,933.9 L783.0,934.0 L783.7,933.9 L784.4,934.0 L785.1,933.2 L785.8,931.6 L786.5,929.5 L787.2,927.1 L787.9,924.4 L788.6,921.6 L789.3,917.0 L790.0,910.8 L790.7,904.1 L791.4,898.4 L792.1,894.1 L792.8,889.9 L793.5,886.1 L794.2,883.5 L794.9,882.5 L795.6,883.4 L796.3,886.0 L797.0,889.5 L797.7,893.7 L798.4,898.1 L799.1,905.1 L799.8,913.6 L800.5,921.7 L801.2,927.7 L801.9,931.1 L802.6,933.9 L803.3,936.4 L804.0,938.5 L804.7,940.2 L805.4,941.4 L806.1,942.0 L806.8,942.4 L807.5,943.0 L808.2,943.5 L808.9,944.0 L809.6,944.3 L810.3,944.6 L811.0,944.9 L811.7,945.2 L812.4,945.4 L813.1,945.6 L813.8,945.7 L814.5,945.6 L815.2,945.2 L815.9,944.4 L816.6,943.3 L817.3,941.8 L818.0,938.0 L818.7,928.6 L819.4,916.4 L820.1,904.3 L820.8,895.3 L821.5,887.9 L822.2,880.6 L822.9,873.9 L823.6,868.3 L824.3,864.5 L825.0,863.0 L825.7,864.8 L826.4,869.5 L827.1,876.1 L827.8,883.2 L828.5,890.2 L829.2,895.7 L829.9,899.9 L830.6,904.5 L831.3,908.8 L832.0,912.3 L832.7,914.3 L833.4,914.8 L834.1,913.7 L834.8,911.6 L835.5,908.9 L836.2,905.4 L836.9,901.6 L837.6,897.9 L838.3,894.1 L839.0,888.9 L839.7,882.8 L840.4,876.8 L841.1,871.5 L841.8,867.5 L842.5,865.4 L843.2,863.8 L843.9,862.5 L844.6,861.4 L845.3,860.4 L846.0,859.7 L846.7,859.4 L847.4,859.5 L848.1,859.8 L848.8,860.6 L849.5,861.5 L850.2,862.7 L850.9,864.0 L851.6,865.6 L852.3,867.5 L853.0,871.4 L853.7,876.5 L854.4,882.3 L855.1,888.1 L855.8,893.7 L856.5,898.7 L857.2,904.1 L857.9,909.5 L858.6,914.2 L859.3,917.4 L860.0,919.4 L860.7,921.3 L861.4,922.7 L862.1,924.1 L862.8,925.4 L863.5,926.3 L864.2,927.0 L864.9,927.9 L865.6,928.5 L866.3,929.0 L867.0,929.4 L867.7,929.8 L868.4,930.0 L869.1,930.5 L869.8,930.8 L870.5,931.1 L871.2,931.4 L871.9,931.7 L872.6,931.9 L873.3,932.1 L874.0,932.3 L874.7,932.4 L875.4,932.5 L876.1,932.5 L876.8,932.6 L877.5,932.5 L878.2,932.4 L878.9,932.5 L879.6,932.4 L880.3,932.4 L881.0,932.3 L881.7,932.2 L882.4,932.3 L883.1,932.2 L883.8,932.1 L884.5,932.1 L885.2,932.0 L885.9,931.9 L886.6,932.0 L887.3,932.1 L888.0,932.1 L888.7,932.1 L889.4,932.0 L890.1,932.1 L890.8,932.1 L891.5,932.3 L892.2,932.4 L892.9,932.5 L893.6,932.7 L894.3,932.7 L895.0,932.9 L895.7,933.1 L896.4,933.3 L897.1,933.6 L897.8,933.6 L898.5,933.9 L899.2,933.9 L899.9,933.9 L900.6,934.1 L901.3,934.0 L902.0,934.3 L902.7,934.4 L903.4,934.5 L904.1,934.5 L904.8,934.4 L905.5,934.5 L906.2,934.6 L906.9,934.6 L907.6,934.6 L908.3,934.7 L909.0,934.8 L909.7,934.8 L910.4,934.9 L911.1,934.8 L911.8,934.7 L912.5,934.9 L913.2,934.9 L913.9,934.9 L914.6,935.1 L915.3,935.1 L916.0,935.2 L916.7,935.2 L917.4,935.3 L918.1,935.4 L918.8,935.6 L919.5,935.9 L920.2,936.4 L920.9,936.9 L921.6,937.2 L922.3,937.4 L923.0,937.8 L923.7,938.1 L924.4,938.4 L925.1,938.6 L925.8,938.8 L926.5,939.0 L927.2,939.1 L927.9,938.9 L928.6,939.0 L929.3,938.9 L930.0,938.9 L930.7,938.7 L931.4,938.7 L932.1,938.7 L932.8,938.5 L933.5,938.4 L934.2,938.2 L934.9,938.1 L935.6,937.8 L936.3,936.0 L937.0,933.0 L937.7,929.4 L938.4,926.0 L939.1,923.0 L939.8,919.3 L940.5,915.8 L941.2,912.7 L941.9,910.8 L942.6,910.7 L943.3,912.2 L944.0,914.3 L944.7,916.4 L945.4,917.4 L946.1,917.2 L946.8,916.9 L947.5,916.2 L948.2,915.7 L948.9,915.4 L949.6,915.5 L950.3,916.7 L951.0,918.3 L951.7,920.5 L952.4,922.3 L953.1,924.0 L953.8,925.7 L954.5,927.3 L955.2,929.0 L955.9,930.2 L956.6,930.9 L957.3,930.7 L958.0,929.5 L958.7,927.2 L959.4,924.5 L960.1,921.5 L960.8,918.5 L961.5,913.8 L962.2,907.8 L962.9,901.5 L963.6,896.0 L964.3,892.4 L965.0,891.5 L965.7,892.5 L966.4,894.8 L967.1,897.5 L967.8,899.9 L968.5,901.3 L969.2,901.0 L969.9,899.2 L970.6,896.6 L971.3,893.9 L972.0,891.7 L972.7,890.6 L973.4,891.3 L974.1,894.0 L974.8,897.8 L975.5,902.2 L976.2,906.4 L976.9,909.8 L977.6,913.1 L978.3,916.5 L979.0,919.7 L979.7,922.6 L980.4,924.8 L981.1,926.3 L981.8,927.4 L982.5,928.4 L983.2,929.2 L983.9,930.0 L984.6,930.4 L985.3,930.4 L986.0,930.3 L986.7,930.0 L987.4,929.5 L988.1,929.2 L988.8,928.9 L989.5,928.7 L990.2,928.9 L990.9,929.1 L991.6,929.7 L992.3,930.4 L993.0,931.1 L993.7,931.9 L994.4,932.5 L995.1,932.8 L995.8,933.0 L996.5,933.0 L997.2,933.0 L997.9,933.0 L998.6,932.9 L999.3,932.9 L1000.0,932.8 L1000.7,932.7 L1001.4,932.7 L1002.1,932.7 L1002.8,932.6 L1003.5,932.5 L1004.2,932.6 L1004.9,932.7 L1005.6,932.6 L1006.3,932.5 L1007.0,932.6 L1007.7,932.7 L1008.4,932.6 L1009.1,932.6 L1009.8,932.6 L1010.5,932.4 L1011.2,932.4 L1011.9,932.3 L1012.6,932.1 L1013.3,931.9 L1014.0,931.7 L1014.7,931.4 L1015.4,931.1 L1016.1,930.8 L1016.8,930.6 L1017.5,930.3 L1018.2,930.0 L1018.9,929.7 L1019.6,929.4 L1020.3,929.0 L1021.0,928.6 L1021.7,928.2 L1022.4,927.9 L1023.1,927.4 L1023.8,926.7 L1024.5,926.1 L1025.2,925.3 L1025.9,924.5 L1026.6,923.8 L1027.3,922.9 L1028.0,922.1 L1028.7,921.3 L1029.4,920.2 L1030.1,919.1 L1030.8,917.8 L1031.5,917.0 L1032.2,916.3 L1032.9,916.0 L1033.6,916.2 L1034.3,916.8 L1035.0,917.5 L1035.7,918.5 L1036.4,919.6 L1037.1,920.5 L1037.8,921.2 L1038.5,921.5 L1039.2,921.2 L1039.9,920.4 L1040.6,919.2 L1041.3,917.7 L1042.0,916.3 L1042.7,914.8 L1043.4,913.3 L1044.1,912.2 L1044.8,911.6 L1045.5,911.1 L1046.2,910.6 L1046.9,910.0 L1047.6,909.5 L1048.3,909.1 L1049.0,908.7 L1049.7,908.4 L1050.4,908.1 L1051.1,908.0 L1051.8,907.7 L1052.5,907.1 L1053.2,906.1 L1053.9,901.9 L1054.6,894.5 L1055.3,886.1 L1056.0,878.4 L1056.7,871.1 L1057.4,862.7 L1058.1,854.4 L1058.8,848.0 L1059.5,845.0 L1060.2,846.5 L1060.9,851.8 L1061.6,859.5 L1062.3,868.2 L1063.0,876.1 L1063.7,884.1 L1064.4,893.3 L1065.1,902.7 L1065.8,911.2 L1066.5,917.5 L1067.2,920.8 L1067.9,923.1 L1068.6,925.1 L1069.3,926.5 L1070.0,927.1 L1070.7,927.0 L1071.4,926.6 L1072.1,925.8 L1072.8,924.7 L1073.5,923.5 L1074.2,922.1 L1074.9,920.4 L1075.6,917.6 L1076.3,914.1 L1077.0,910.0 L1077.7,905.8 L1078.4,901.9 L1079.1,898.4 L1079.8,894.3 L1080.5,890.0 L1081.2,886.2 L1081.9,883.2 L1082.6,881.6 L1083.3,882.2 L1084.0,885.2 L1084.7,889.7 L1085.4,894.8 L1086.1,899.6 L1086.8,903.7 L1087.5,908.2 L1088.2,912.9 L1088.9,917.3 L1089.6,921.0 L1090.3,923.5 L1091.0,924.7 L1091.7,925.8 L1092.4,926.7 L1093.1,927.5 L1093.8,928.1 L1094.5,928.6 L1095.2,929.2 L1095.9,929.7 L1096.6,930.0 L1097.3,930.6 L1098.0,931.1 L1098.7,931.5 L1099.4,931.9 L1100.1,932.3 L1100.8,932.7 L1101.5,933.2 L1102.2,933.5 L1102.9,933.7 L1103.6,934.0 L1104.3,934.4 L1105.0,934.5 L1105.7,934.7 L1106.4,935.0 L1107.1,935.2 L1107.8,935.3 L1108.5,935.4 L1109.2,935.5 L1109.9,935.6 L1110.6,935.8 L1111.3,935.8 L1112.0,936.0 L1112.7,936.2 L1113.4,936.2 L1114.1,936.3 L1114.8,936.5 L1115.5,936.5 L1116.2,936.7 L1116.9,936.9 L1117.6,937.0 L1118.3,937.1 L1119.0,937.2 L1119.7,937.4 L1120.4,937.5 L1121.1,937.6 L1121.8,937.8 L1122.5,937.9 L1123.2,938.1 L1123.9,938.2 L1124.6,938.2 L1125.3,938.3 L1126.0,938.3 L1126.7,938.4 L1127.4,938.6 L1128.1,938.6 L1128.8,938.6 L1129.5,938.7 L1130.2,938.9 L1130.9,939.0 L1131.6,939.1 L1132.3,939.0 L1133.0,938.8 L1133.7,938.9 L1134.4,938.9 L1135.1,938.9 L1135.8,938.9 L1136.5,939.0 L1137.2,939.0 L1137.9,939.1 L1138.6,939.0 L1139.3,938.9 L1140.0,938.9 L1140.7,938.7 L1141.4,938.6 L1142.1,938.4 L1142.8,938.0 L1143.5,937.8 L1144.2,937.3 L1144.9,936.9 L1145.6,936.3 L1146.3,935.8 L1147.0,933.7 L1147.7,928.3 L1148.4,920.5 L1149.1,911.8 L1149.8,903.3 L1150.5,896.0 L1151.2,887.9 L1151.9,879.1 L1152.6,870.4 L1153.3,862.6 L1154.0,856.7 L1154.7,853.5 L1155.4,853.4 L1156.1,855.6 L1156.8,859.2 L1157.5,863.8 L1158.2,868.9 L1158.9,874.0 L1159.6,878.8 L1160.3,884.6 L1161.0,891.0 L1161.7,897.7 L1162.4,904.2 L1163.1,909.8 L1163.8,914.4 L1164.5,918.3 L1165.2,922.1 L1165.9,925.7 L1166.6,928.7 L1167.3,931.1 L1168.0,932.8 L1168.7,933.9 L1169.4,935.0 L1170.1,935.9 L1170.8,936.2 L1171.5,935.9 L1172.2,933.9 L1172.9,930.1 L1173.6,925.0 L1174.3,919.1 L1175.0,912.8 L1175.7,905.8 L1176.4,895.4 L1177.1,883.0 L1177.8,871.4 L1178.5,862.5 L1179.2,854.0 L1179.9,847.7 L1180.6,846.6 L1181.3,850.2 L1182.0,855.7 L1182.7,860.6 L1183.4,863.3 L1184.1,865.5 L1184.8,866.8 L1185.5,867.1 L1186.2,867.2 L1186.9,867.4 L1187.6,867.6 L1188.3,867.6 L1189.0,867.7 L1189.7,867.8 L1190.4,868.2 L1191.1,868.8 L1191.8,869.6 L1192.5,870.5 L1193.2,871.7 L1193.9,873.0 L1194.6,874.4 L1195.3,876.4 L1196.0,880.0 L1196.7,884.0 L1197.4,887.6 L1198.1,889.9 L1198.8,891.5 L1199.5,892.6 L1200.2,893.8 L1200.9,894.8 L1201.6,895.9 L1202.3,897.2 L1203.0,899.0 L1203.7,900.8 L1204.4,902.8 L1205.1,904.8 L1205.8,906.5 L1206.5,908.2 L1207.2,910.1 L1207.9,912.1 L1208.6,914.0 L1209.3,915.7 L1210.0,917.0 L1210.7,917.9 L1211.4,918.2 L1212.1,918.0 L1212.8,917.6 L1213.5,916.9 L1214.2,916.3 L1214.9,915.5 L1215.6,914.6 L1216.3,913.7 L1217.0,912.9 L1217.7,912.0 L1218.4,911.0 L1219.1,909.9 L1219.8,909.0 L1220.5,908.0 L1221.2,907.0 L1221.9,906.1 L1222.6,905.2 L1223.3,904.2 L1224.0,903.6 L1224.7,903.1 L1225.4,902.5 L1226.1,902.1 L1226.8,901.5 L1227.5,900.9 L1228.2,900.6 L1228.9,900.0 L1229.6,899.6 L1230.3,899.3 L1231.0,899.1 L1231.7,899.2 L1232.4,899.3 L1233.1,899.2 L1233.8,899.2 L1234.5,899.1 L1235.2,899.1 L1235.9,899.1 L1236.6,899.1 L1237.3,899.1 L1238.0,899.1 L1238.7,899.1 L1239.4,899.1 L1240.1,899.5 L1240.8,900.7 L1241.5,902.1 L1242.2,903.9 L1242.9,905.6 L1243.6,907.7 L1244.3,909.9 L1245.0,912.8 L1245.7,916.0 L1246.4,919.0 L1247.1,921.8 L1247.8,924.1 L1248.5,925.7 L1249.2,926.1 L1249.9,926.0 L1250.6,925.8 L1251.3,925.4 L1252.0,925.2 L1252.7,924.8 L1253.4,924.3 L1254.1,924.1 L1254.8,923.9 L1255.5,923.8 L1256.2,923.9 L1256.9,924.4 L1257.6,925.0 L1258.3,925.7 L1259.0,926.4 L1259.7,927.1 L1260.4,928.0 L1261.1,928.5 L1261.8,929.0 L1262.5,929.6 L1263.2,930.1 L1263.9,930.6 L1264.6,930.9 L1265.3,931.3 L1266.0,931.6 L1266.7,932.0 L1267.4,932.3 L1268.1,932.5 L1268.8,932.7 L1269.5,933.0 L1270.2,933.1 L1270.9,933.2 L1271.6,933.2 L1272.3,933.1 L1273.0,933.0 L1273.7,933.0 L1274.4,933.0 L1275.1,932.9 L1275.8,932.9 L1276.5,932.8 L1277.2,932.7 L1277.9,932.6 L1278.6,932.3 L1279.3,931.7 L1280.0,931.1 L1280.7,930.3 L1281.4,929.5 L1282.1,928.9 L1282.8,928.4 L1283.5,928.2 L1284.2,928.5 L1284.9,929.1 L1285.6,930.0 L1286.3,930.8 L1287.0,931.7 L1287.7,932.6 L1288.4,933.3 L1289.1,933.8 L1289.8,934.1 L1290.5,934.3 L1291.2,934.8 L1291.9,935.1 L1292.6,935.6 L1293.3,935.8 L1294.0,936.1 L1294.7,936.2 L1295.4,936.5 L1296.1,936.6 L1296.8,936.7 L1297.5,936.8 L1298.2,936.8 L1298.9,936.6 L1299.6,936.4 L1300.3,936.1 L1301.0,935.6 L1301.7,935.2 L1302.4,934.7 L1303.1,934.1 L1303.8,933.4 L1304.5,931.9 L1305.2,929.3 L1305.9,926.1 L1306.6,922.4 L1307.3,919.0 L1308.0,916.3 L1308.7,914.3 L1309.4,912.3 L1310.1,910.6 L1310.8,909.6 L1311.5,909.4 L1312.2,910.3 L1312.9,911.9 L1313.6,913.9 L1314.3,915.7 L1315.0,916.9 L1315.7,917.3 L1316.4,913.4 L1317.1,905.7 L1317.8,896.1 L1318.5,887.2 L1319.2,879.9 L1319.9,871.9 L1320.6,863.7 L1321.3,856.1 L1322.0,849.9 L1322.7,846.4 L1323.4,846.3 L1324.1,851.1 L1324.8,859.2 L1325.5,868.9 L1326.2,878.2 L1326.9,885.6 L1327.6,893.2 L1328.3,901.0 L1329.0,908.3 L1329.7,913.9 L1330.4,916.8 L1331.1,916.8 L1331.8,915.5 L1332.5,913.5 L1333.2,911.2 L1333.9,908.7 L1334.6,906.6 L1335.3,905.1 L1336.0,904.6 L1336.7,905.4 L1337.4,907.7 L1338.1,910.6 L1338.8,913.6 L1339.5,915.9 L1340.2,917.5 L1340.9,919.3 L1341.6,920.9 L1342.3,922.1 L1343.0,922.7 L1343.7,921.5 L1344.4,917.9 L1345.1,913.0 L1345.8,907.4 L1346.5,902.6 L1347.2,898.4 L1347.9,893.9 L1348.6,889.3 L1349.3,885.5 L1350.0,883.2 L1350.7,883.3 L1351.4,885.8 L1352.1,890.2 L1352.8,895.5 L1353.5,900.8 L1354.2,905.3 L1354.9,909.2 L1355.6,913.2 L1356.3,917.1 L1357.0,920.7 L1357.7,923.3 L1358.4,924.6 L1359.1,924.5 L1359.8,924.2 L1360.5,923.8 L1361.2,923.5 L1361.9,923.2 L1362.6,922.9 L1363.3,922.7 L1364.0,922.9 L1364.7,923.3 L1365.4,924.0 L1366.1,924.6 L1366.8,925.5 L1367.5,926.3 L1368.2,927.1 L1368.9,927.8 L1369.6,928.3 L1370.3,928.6 L1371.0,928.9 L1371.7,929.4 L1372.4,929.7 L1373.1,930.0 L1373.8,930.3 L1374.5,930.4 L1375.2,930.7 L1375.9,930.9 L1376.6,931.1 L1377.3,931.3 L1378.0,931.3 L1378.7,931.4 L1379.4,931.6 L1380.1,931.6 L1380.8,931.7 L1381.5,931.8 L1382.2,931.9 L1382.9,932.0 L1383.6,932.1 L1384.3,932.2 L1385.0,932.3 L1385.7,932.5 L1386.4,932.5 L1387.1,932.7 L1387.8,932.9 L1388.5,932.9 L1389.2,933.1 L1389.9,933.2 L1390.6,933.2 L1391.3,933.3 L1392.0,933.5 L1392.7,933.6 L1393.4,933.7 L1394.1,933.9 L1394.8,934.1 L1395.5,934.2 L1396.2,934.4 L1396.9,934.5 L1397.6,934.8 L1398.3,935.0 L1399.0,935.2 L1399.7,935.3 L1400.4,935.4 L1401.1,935.6 L1401.8,935.8 L1402.5,936.0 L1403.2,936.2 L1403.9,936.4 L1404.6,936.4 L1405.3,936.6 L1406.0,936.7 L1406.7,936.8 L1407.4,936.9 L1408.1,937.0 L1408.8,937.2 L1409.5,937.2 L1410.2,937.5 L1410.9,937.5 L1411.6,937.6 L1412.3,937.7 L1413.0,937.9 L1413.7,937.9 L1414.4,938.0 L1415.1,938.0 L1415.8,938.0 L1416.5,938.2 L1417.2,938.3 L1417.9,938.3 L1418.6,938.5 L1419.3,938.6 L1420.0,938.7 L1420.7,938.7 L1421.4,938.6 L1422.1,938.5 L1422.8,938.5 L1423.5,938.5 L1424.2,938.5 L1424.9,938.7 L1425.6,938.6 L1426.3,938.6 L1427.0,938.7 L1427.7,938.8 L1428.4,938.9 L1429.1,938.9 L1429.8,939.0 L1430.5,938.9 L1431.2,939.0 L1431.9,939.0 L1432.6,939.0 L1433.3,939.1 L1434.0,939.2 L1434.7,939.2 L1435.4,939.3 L1436.1,939.1 L1436.8,939.3 L1437.5,939.3 L1438.2,939.3 L1438.9,939.4 L1439.6,939.4 L1440.3,939.5 L1441.0,939.4 L1441.7,939.5 L1442.4,939.6 L1443.1,939.7 L1443.8,939.6 L1444.5,939.5 L1445.2,939.5 L1445.9,939.5 L1446.6,939.4 L1447.3,939.5 L1448.0,939.5 L1448.7,939.5 L1449.4,939.6 L1450.1,939.7 L1450.8,939.6 L1451.5,939.8 L1452.2,939.8 L1452.9,939.8 L1453.6,939.7 L1454.3,939.8 L1455.0,939.9 L1455.7,940.0 L1456.4,939.9 L1457.1,940.1 L1457.8,940.1 L1458.5,940.1 L1459.2,940.1 L1459.9,940.1 L1460.6,940.1 L1461.3,940.0 L1462.0,940.0 L1462.7,940.1 L1463.4,940.1 L1464.1,940.1 L1464.8,940.2 L1465.5,940.1 L1466.2,940.1 L1466.9,940.0 L1467.6,940.1 L1468.3,940.2 L1469.0,940.1 L1469.7,940.2 L1470.4,940.3 L1471.1,940.3 L1471.8,940.3 L1472.5,940.2 L1473.2,940.3 L1473.9,940.3 L1474.6,940.3 L1475.3,940.3 L1476.0,940.1 L1476.7,940.1 L1477.4,940.1 L1478.1,940.1 L1478.8,940.1 L1479.5,940.1 L1480.2,940.2 L1480.9,940.3 L1481.6,940.3 L1482.3,940.3 L1483.0,940.4 L1483.7,940.3 L1484.4,940.4 L1485.1,940.4 L1485.8,940.3 L1486.5,940.3 L1487.2,940.4 L1487.9,940.5 L1488.6,940.4 L1489.3,940.4 L1490.0,940.4 L1490.7,940.5 L1491.4,940.4 L1492.1,940.4 L1492.8,940.5 L1493.5,940.5 L1494.2,940.4 L1494.9,940.4 L1495.6,940.5 L1496.3,940.6 L1497.0,940.6 L1497.7,940.4 L1498.4,940.4 L1499.1,940.4 L1499.8,940.4 L1500.5,940.5 L1501.2,940.6 L1501.9,940.5 L1502.6,940.4 L1503.3,940.4 L1504.0,940.4 L1504.7,940.5 L1505.4,940.5 L1506.1,940.5 L1506.8,940.5 L1507.5,940.6 L1508.2,940.4 L1508.9,940.5 L1509.6,940.5 L1510.3,940.4 L1511.0,940.4 L1511.7,940.5 L1512.4,940.5 L1513.1,940.5 L1513.8,940.6 L1514.5,940.7 L1515.2,940.7 L1515.9,940.7 L1516.6,940.7 L1517.3,940.7 L1518.0,940.7 L1518.7,940.7 L1519.4,940.6 L1520.1,940.5 L1520.8,940.5 L1521.5,940.7 L1522.2,940.6 L1522.9,940.6 L1523.6,940.5 L1524.3,940.5" fill="none" stroke="#111" stroke-width="1.5" stroke-linejoin="round"/>
<path d="M561.8,947.3 H1524.4" stroke="#111" stroke-width="1.4"/>
<path d="M617.7,947.3 v6.2M674.1,947.3 v6.2M730.5,947.3 v6.2M786.9,947.3 v6.2M843.3,947.3 v6.2M899.7,947.3 v6.2M956.1,947.3 v6.2M1012.5,947.3 v6.2M1068.9,947.3 v6.2M1125.3,947.3 v6.2M1181.7,947.3 v6.2M1238.1,947.3 v6.2M1294.5,947.3 v6.2M1350.9,947.3 v6.2M1407.3,947.3 v6.2M1463.7,947.3 v6.2M1520.1,947.3 v6.2" stroke="#111" stroke-width="1.3" fill="none"/>
<text x="617.2" y="987.6" text-anchor="middle" class="nt" textLength="27" lengthAdjust="spacingAndGlyphs">4.2</text>
<text x="842.0" y="987.6" text-anchor="middle" class="nt" textLength="27" lengthAdjust="spacingAndGlyphs">4.0</text>
<text x="1072.3" y="987.6" text-anchor="middle" class="nt" textLength="27" lengthAdjust="spacingAndGlyphs">3.8</text>
<text x="1298.5" y="987.6" text-anchor="middle" class="nt" textLength="27" lengthAdjust="spacingAndGlyphs">3.6</text>
<text x="1521.5" y="987.6" text-anchor="middle" class="nt" textLength="27" lengthAdjust="spacingAndGlyphs">3.4</text>
<text x="1479.5" y="1021.6" class="ppm" textLength="41" lengthAdjust="spacingAndGlyphs">ppm</text>
<text x="642" y="697.6" class="fur" textLength="105.5" lengthAdjust="spacingAndGlyphs">Furanose</text>
<text x="641.3" y="733" class="fur" textLength="111" lengthAdjust="spacingAndGlyphs">3α/3β/4β</text>
<path d="M712.6,747 V783" stroke="#000" stroke-width="1.8"/>
<path d="M704.2,780.6 H721.2 L712.7,797.6 Z" fill="#000"/>
<text x="1396.8" y="731.6" class="glut" textLength="107" lengthAdjust="spacingAndGlyphs">+ <tspan font-style="italic">r</tspan>GLUT5</text>
<text x="1426.9" y="824.4" class="std" textLength="89.6" lengthAdjust="spacingAndGlyphs">STD-NMR</text>
<text x="1437.6" y="904.6" class="h1" textLength="50.3" lengthAdjust="spacing">1H NMR</text>
</g>
<defs><linearGradient id="yg1" x1="0" y1="0" x2="1" y2="1"><stop offset="0" stop-color="#f3efc6"/><stop offset="0.5" stop-color="#f7f4cc"/><stop offset="1" stop-color="#e9e5bb"/></linearGradient>
<linearGradient id="yg2" x1="0" y1="0" x2="1" y2="0"><stop offset="0" stop-color="#e6e2ba"/><stop offset="0.5" stop-color="#f3f0c8"/><stop offset="1" stop-color="#f4f1ca"/></linearGradient>
<linearGradient id="yg3" x1="0" y1="0" x2="1" y2="0"><stop offset="0" stop-color="#e9e5bc"/><stop offset="0.6" stop-color="#f6f3c8"/><stop offset="1" stop-color="#f3f0c6"/></linearGradient>
<linearGradient id="gg1" x1="0" y1="0" x2="1" y2="0"><stop offset="0" stop-color="#c4c2c2"/><stop offset="0.35" stop-color="#d4d2d2"/><stop offset="1" stop-color="#cfcdcd"/></linearGradient>
<linearGradient id="wg1" x1="0" y1="0" x2="1" y2="0"><stop offset="0" stop-color="#fafafa"/><stop offset="0.6" stop-color="#f4f4f4"/><stop offset="1" stop-color="#dddddd"/></linearGradient>
<linearGradient id="wg2" x1="0" y1="0" x2="1" y2="0"><stop offset="0" stop-color="#fbfbfb"/><stop offset="0.6" stop-color="#f0f0f0"/><stop offset="0.85" stop-color="#d9d9d9"/><stop offset="1" stop-color="#f0f0f0"/></linearGradient>
<linearGradient id="wg3" x1="0" y1="0" x2="1" y2="0"><stop offset="0" stop-color="#f1f1f1"/><stop offset="0.45" stop-color="#f9f9f9"/><stop offset="0.85" stop-color="#dcdcdc"/><stop offset="1" stop-color="#eeeeee"/></linearGradient>
<linearGradient id="wg4" x1="0" y1="0" x2="1" y2="0"><stop offset="0" stop-color="#e4e4e4"/><stop offset="0.3" stop-color="#f8f8f8"/><stop offset="0.8" stop-color="#e9e9e9"/><stop offset="1" stop-color="#d6d6d6"/></linearGradient>
<linearGradient id="wg5" x1="0" y1="0" x2="1" y2="0"><stop offset="0" stop-color="#dcdcdc"/><stop offset="0.3" stop-color="#f6f6f6"/><stop offset="1" stop-color="#f2f2f2"/></linearGradient>
<clipPath id="cp1"><rect x="170.5" y="1180.5" width="550.2" height="549.9"/></clipPath><clipPath id="cp2"><rect x="780.5" y="1176.2" width="550.2" height="549.9"/></clipPath></defs>
<g clip-path="url(#cp1)">
<path d="M540.8,1191.1L573.0,1188.2C573.8,1193.6 574.2,1198.9 574.0,1204.3C573.5,1209.4 572.2,1214.3 570.1,1218.9L562.8,1226.8C558.4,1222.9 554.9,1218.5 552.5,1214.1C548.6,1207.7 544.7,1199.4 540.8,1191.1Z" fill="#c7c5c5" stroke="#484848" stroke-width="1.35" stroke-linejoin="round"/>
<path d="M596.4,1233.6L634.5,1242.4L636.5,1243.4C635.0,1248.7 633.1,1253.9 630.6,1259.0C626.9,1265.6 623.0,1272.2 618.9,1278.5L575.9,1270.7C583.8,1259.0 591.6,1247.3 596.4,1233.6Z" fill="#cbc9c9" stroke="#484848" stroke-width="1.35" stroke-linejoin="round"/>
<path d="M587.7,1199.4L634.5,1241.4L636.5,1243.4L634.5,1242.4L596.4,1233.6L595.5,1216.0Z" fill="#d2d0d0" stroke="#484848" stroke-width="1.35" stroke-linejoin="round"/>
<path d="M537.7,1189.6L548.1,1187.4L548.1,1202.3Z" fill="#c7c5c5" stroke="#484848" stroke-width="1.35" stroke-linejoin="round"/>
<path d="M477.1,1290.0C473.2,1295.9 470.8,1300.7 469.3,1304.6C466.9,1310.5 465.9,1316.4 465.9,1322.2C465.9,1326.6 466.4,1330.5 467.3,1333.9C468.8,1338.3 470.8,1342.2 473.2,1345.7C476.1,1350.5 480.0,1354.5 483.9,1358.4C488.8,1362.8 493.7,1366.7 498.6,1370.1C502.0,1372.0 505.2,1373.7 508.4,1375.0C514.7,1373.8 521.1,1372.3 527.9,1371.1C537.7,1369.6 547.4,1368.3 557.2,1367.1C567.0,1366.0 575.7,1364.7 584.5,1363.2L576.7,1360.3C567.0,1357.4 557.2,1354.0 547.4,1350.5C540.6,1349.1 534.2,1347.8 527.9,1346.6C520.1,1344.5 512.8,1342.0 506.4,1338.8C501.5,1335.9 497.6,1332.8 494.7,1329.1C491.8,1324.7 489.8,1319.8 488.8,1314.4C487.9,1310.0 487.4,1306.1 486.9,1302.7L493.7,1290.0Z" fill="#d6d4d4" stroke="#484848" stroke-width="1.35" stroke-linejoin="round"/>
<path d="M508.4,1375.0C514.7,1373.8 521.1,1372.3 527.9,1371.1C537.7,1369.6 547.4,1368.3 557.2,1367.1C567.0,1366.0 575.7,1364.7 584.5,1363.2C586.0,1368.1 586.7,1373.0 586.5,1377.9C586.3,1382.8 585.7,1387.7 584.5,1392.5C583.4,1396.9 581.8,1400.8 579.6,1404.3C571.8,1404.5 564.5,1404.7 557.2,1405.2C547.4,1406.2 537.7,1407.5 527.9,1409.1C518.1,1410.6 508.4,1412.1 498.6,1414.0C490.3,1415.8 482.0,1417.7 474.2,1419.9C467.3,1422.0 460.5,1424.3 453.7,1426.7C454.2,1420.9 455.1,1416.0 456.6,1412.1C458.6,1408.2 461.0,1405.0 464.4,1402.3C469.3,1398.4 474.2,1394.5 479.1,1391.6C488.8,1385.2 498.6,1379.8 508.4,1375.0Z" fill="#cbc9c9" stroke="#484848" stroke-width="1.35" stroke-linejoin="round"/>
<path d="M558.4,1234.6C548.6,1235.1 538.8,1236.3 529.1,1238.5C520.8,1240.6 512.5,1243.8 504.6,1248.2C499.8,1252.6 494.9,1257.5 490.0,1262.9C485.6,1268.8 482.0,1275.4 479.1,1282.2C476.3,1289.3 474.6,1296.9 474.0,1304.7C473.9,1308.3 474.4,1311.7 475.4,1314.5C478.3,1309.8 480.7,1304.9 483.9,1299.8C485.9,1298.0 488.0,1296.6 490.0,1295.1L499.8,1287.3C504.6,1282.4 509.5,1277.5 514.4,1272.7C519.8,1268.3 525.2,1263.9 531.0,1260.0C536.9,1257.8 542.7,1255.6 548.6,1253.1L562.3,1233.6Z" fill="#d3d1d1" stroke="#484848" stroke-width="1.35" stroke-linejoin="round"/>
<path d="M434.8,1193.2L438.8,1186.7L444.0,1181.5L578.7,1181.5L578.1,1182.8C576.8,1186.7 575.5,1189.3 574.2,1191.3C559.8,1192.2 545.5,1193.5 530.5,1195.2C524.7,1196.5 519.5,1198.2 514.3,1199.7C505.2,1203.0 496.7,1205.2 488.2,1207.6C481.7,1209.1 475.9,1210.8 470.0,1212.8L459.6,1218.0L460.2,1223.8L454.4,1225.8L447.9,1218.0L441.4,1208.9L436.1,1199.7Z" fill="#f6f2c8" stroke="#66623f" stroke-width="1.35" stroke-linejoin="round"/>
<path d="M444.0,1205.2L447.9,1201.7C457.0,1199.1 466.1,1195.6 475.2,1192.2C483.0,1188.7 489.5,1185.2 496.0,1181.5L513.0,1181.5C501.2,1189.3 489.5,1194.5 477.8,1199.7C470.0,1204.3 463.5,1208.6 457.0,1212.8Z" fill="#e2dec2" stroke="#66623f" stroke-width="0.90" stroke-linejoin="round"/>
<path d="M436.1,1192.6C440.1,1195.8 444.0,1199.1 447.9,1201.7" fill="none" stroke="#66623f" stroke-width="0.90" stroke-linejoin="round" stroke-linecap="round" />
<path d="M447.9,1218.0C450.5,1219.3 453.1,1219.9 455.0,1219.3L457.0,1213.0" fill="none" stroke="#66623f" stroke-width="0.90" stroke-linejoin="round" stroke-linecap="round" />
<path d="M571.1,1187.7L577.9,1181.1C581.8,1187.7 585.2,1193.6 587.7,1199.4C591.6,1205.3 594.5,1210.6 595.5,1216.0C596.9,1221.9 597.2,1227.7 596.4,1233.6C594.5,1240.4 591.6,1247.3 587.7,1253.1C583.8,1259.5 579.8,1265.3 575.9,1270.7C573.0,1274.6 570.6,1278.5 568.1,1282.4C563.2,1290.2 558.4,1298.0 553.5,1305.9C548.6,1311.7 543.7,1316.6 537.8,1320.8L507.8,1311.7L498.6,1300.0C502.7,1296.1 506.1,1291.7 509.5,1287.3C516.4,1282.4 523.2,1277.5 529.1,1272.7C535.9,1266.3 542.7,1259.8 548.6,1253.1C553.5,1246.8 558.4,1240.2 562.3,1233.6C565.2,1228.7 568.1,1223.8 570.1,1218.9C572.5,1214.1 573.8,1209.2 574.0,1204.3C573.8,1198.4 572.8,1193.1 571.1,1187.7Z" fill="url(#yg1)" stroke="#66623f" stroke-width="1.35" stroke-linejoin="round"/>
<path d="M453.7,1426.7C459.6,1427.9 467.4,1429.5 475.2,1430.5C473.3,1438.3 472.6,1446.1 473.3,1452.7C473.9,1459.2 479.1,1465.7 488.2,1472.2C496.7,1477.4 505.2,1481.6 514.3,1485.2C524.7,1488.5 535.1,1490.4 545.0,1491.7C549.4,1494.3 552.7,1496.7 554.9,1498.2L569.2,1498.9C570.3,1500.8 570.5,1502.8 570.5,1504.7C570.5,1511.2 570.0,1517.8 569.2,1524.3C568.3,1528.8 567.0,1533.4 565.3,1537.3C552.0,1541.2 538.4,1544.5 524.9,1547.7C513.0,1550.3 500.6,1552.9 488.2,1555.0L481.7,1558.1C481.1,1549.0 479.8,1543.2 477.8,1537.3C475.9,1532.7 473.3,1528.2 470.0,1524.3L496.0,1513.2C489.5,1509.7 481.7,1506.0 475.2,1502.1C470.0,1498.2 465.4,1493.7 462.2,1489.1C458.3,1483.9 455.0,1478.0 453.1,1472.2C451.8,1467.6 451.1,1463.7 451.1,1459.2C451.1,1451.4 451.8,1443.5 453.1,1435.7Z" fill="#c7c5c5" stroke="#484848" stroke-width="1.35" stroke-linejoin="round"/>
<path d="M496.0,1513.2C513.0,1510.6 528.6,1508.4 545.0,1506.0C553.3,1504.1 561.1,1501.5 569.2,1498.9" fill="none" stroke="#484848" stroke-width="1.35" stroke-linejoin="round" stroke-linecap="round" />
<path d="M481.7,1526.8L545.0,1524.2L566.4,1521.6L566.4,1539.8L545.0,1543.7L501.2,1551.5L483.0,1558.0Z" fill="#c7c5c5" stroke="none"/>
<path d="M566.4,1539.8L545.0,1543.7L501.2,1551.5L483.0,1558.0" fill="none" stroke="#484848" stroke-width="1.35" stroke-linejoin="round" stroke-linecap="round" />
<path d="M442.7,1554.1L467.4,1558.0L477.8,1586.7L462.2,1615.3L455.7,1610.1L438.8,1594.5L441.4,1571.1Z" fill="#c7c5c5" stroke="#484848" stroke-width="1.35" stroke-linejoin="round"/>
<path d="M425.7,1659.6L442.7,1649.2L449.2,1662.2Z" fill="#c7c5c5" stroke="#484848" stroke-width="1.35" stroke-linejoin="round"/>
<path d="M462.2,1615.3C472.6,1612.7 484.3,1610.8 494.7,1610.1L520.8,1633.6L538.0,1632.3L552.3,1637.5L551.0,1655.7L541.9,1676.5L520.8,1672.6L507.8,1644.0L475.2,1640.1L464.8,1628.4Z" fill="#c7c5c5" stroke="#484848" stroke-width="1.35" stroke-linejoin="round"/>
<path d="M507.8,1644.0L545.0,1636.2" fill="none" stroke="#484848" stroke-width="1.35" stroke-linejoin="round" stroke-linecap="round" />
<path d="M407.5,1709.1L412.7,1688.2L425.7,1696.1L417.9,1714.3L423.1,1729.3L412.7,1729.3Z" fill="#c7c5c5" stroke="#484848" stroke-width="1.35" stroke-linejoin="round"/>
<path d="M517.2,1526.8L568.0,1528.1L565.4,1538.5L551.0,1542.4L525.0,1546.3L517.2,1547.0Z" fill="#c7c5c5" stroke="#484848" stroke-width="1.35" stroke-linejoin="round"/>
<path d="M601.7,1393.4L618.3,1360.2L636.9,1367.0C651.5,1366.8 667.1,1366.2 681.8,1366.0L687.7,1373.8L704.3,1402.1L668.1,1412.9C661.3,1418.3 654.9,1424.1 648.6,1430.5C641.8,1437.3 635.1,1444.6 629.1,1452.0C624.2,1459.3 619.5,1467.1 615.4,1475.0L604.6,1475.0C602.9,1470.5 601.5,1466.1 600.7,1461.7C600.0,1456.8 599.8,1452.0 599.8,1447.1C601.7,1440.2 604.5,1433.9 607.6,1427.5C610.5,1421.2 614.4,1412.9 619.3,1403.1Z" fill="url(#yg2)" stroke="#66623f" stroke-width="1.35" stroke-linejoin="round"/>
<path d="M627.1,1397.3C633.9,1390.4 640.8,1384.8 648.6,1379.7C658.4,1374.3 669.6,1370.4 681.8,1368.0" fill="none" stroke="#66623f" stroke-width="0.90" stroke-linejoin="round" stroke-linecap="round" />
<path d="M604.6,1474.0L615.4,1474.0L614.4,1482.8C619.3,1485.3 624.2,1487.7 629.1,1489.6C635.9,1491.8 643.2,1493.6 650.5,1495.0L658.4,1512.1L668.1,1525.8L677.9,1533.6L675.9,1532.6C667.1,1532.1 657.9,1531.2 648.6,1529.7C642.2,1528.2 636.4,1526.3 631.0,1523.8C626.6,1520.4 622.7,1516.5 619.3,1512.1C616.9,1508.2 614.9,1503.8 613.4,1499.4C611.0,1494.5 608.6,1489.6 606.6,1484.8Z" fill="#f6f2c8" stroke="#66623f" stroke-width="1.35" stroke-linejoin="round"/>
<path d="M720.9,1567.8L720.9,1585.4L695.5,1597.1C699.2,1592.2 703.1,1587.3 707.2,1582.4C711.6,1577.5 716.0,1572.7 720.9,1567.8Z" fill="#c7c5c5" stroke="#484848" stroke-width="1.35" stroke-linejoin="round"/>
<path d="M694.5,1596.2C698.9,1599.1 703.1,1601.8 707.2,1604.5C711.6,1606.6 716.2,1608.8 720.9,1610.8L720.9,1628.9L677.9,1629.9C679.4,1624.5 681.0,1619.3 682.8,1614.2C686.2,1608.4 689.8,1602.5 693.5,1596.6Z" fill="#c7c5c5" stroke="#484848" stroke-width="1.35" stroke-linejoin="round"/>
<path d="M705.2,1581.0L720.9,1581.0L720.9,1585.9L694.5,1596.2Z" fill="#c7c5c5" stroke="#484848" stroke-width="1.35" stroke-linejoin="round"/>
<path d="M689.6,1541.9L720.9,1553.1L720.9,1567.8C716.0,1572.7 711.6,1577.5 707.2,1582.4C703.1,1587.3 699.2,1592.2 695.5,1597.1C691.6,1602.9 687.7,1608.8 682.8,1614.3C680.3,1618.4 677.9,1622.3 675.9,1626.0L674.0,1629.9C668.6,1627.3 663.2,1624.2 658.4,1621.1C655.2,1618.6 652.3,1615.6 649.6,1612.8C653.5,1606.3 657.4,1599.5 660.3,1592.2C662.8,1585.8 664.7,1579.3 666.2,1572.7C668.1,1567.6 670.6,1562.7 673.0,1558.0C678.4,1552.3 683.8,1547.1 689.6,1541.9Z" fill="url(#yg3)" stroke="#66623f" stroke-width="1.35" stroke-linejoin="round"/>
<path d="M677.9,1630.0L720.9,1629.4L720.9,1649.4C716.0,1647.6 711.6,1645.7 707.2,1643.5C700.4,1640.6 694.0,1637.7 687.7,1634.7C684.2,1633.3 681.0,1631.6 677.9,1630.0Z" fill="#f6f2c8" stroke="#66623f" stroke-width="1.35" stroke-linejoin="round"/>
<path d="M687.7,1180.9L720.9,1180.9L720.9,1274.6C717.7,1272.7 714.8,1270.7 712.1,1268.8C707.2,1264.6 703.1,1260.4 699.4,1256.1C696.9,1252.6 695.0,1249.0 693.5,1245.3C692.1,1242.2 691.2,1239.0 690.6,1235.5C689.6,1230.2 689.0,1224.6 688.6,1218.9C687.7,1212.6 687.0,1206.1 686.7,1199.4C686.7,1193.1 687.1,1186.9 687.7,1180.9Z" fill="#cdcbcb" stroke="#484848" stroke-width="1.35" stroke-linejoin="round"/>
<path d="M707.2,1223.8L720.9,1227.7L720.9,1233.6L713.0,1229.7Z" fill="#fff" stroke="#484848" stroke-width="1.35" stroke-linejoin="round"/>
<path d="M720.9,1184.8C717.0,1186.2 713.8,1187.9 711.1,1189.6C707.7,1192.6 704.7,1195.9 702.3,1199.4C700.4,1203.1 698.7,1207.0 697.4,1211.1C696.0,1214.3 694.7,1217.5 693.5,1220.9" fill="none" stroke="#484848" stroke-width="1.35" stroke-linejoin="round" stroke-linecap="round" />
<path d="M697.4,1211.1C699.9,1215.0 702.5,1218.6 705.2,1221.9C710.1,1226.3 715.3,1230.2 720.9,1233.6" fill="none" stroke="#484848" stroke-width="1.35" stroke-linejoin="round" stroke-linecap="round" />
<path d="M720.9,1281.9C712.1,1284.5 704.3,1286.9 697.4,1289.3C691.6,1292.3 686.7,1294.7 683.8,1297.1C681.8,1300.6 680.6,1303.5 679.8,1306.8C678.9,1312.3 678.2,1317.2 677.9,1321.5L677.9,1325.0C678.1,1328.4 678.4,1331.6 678.9,1334.8C679.8,1339.6 681.3,1344.5 682.8,1349.4C683.3,1354.3 683.6,1359.2 683.8,1364.1C684.7,1368.0 686.2,1370.9 687.7,1373.8C690.6,1378.7 694.0,1383.6 697.4,1388.5C700.4,1391.9 703.8,1395.3 707.2,1398.2C711.6,1401.2 716.0,1403.6 720.9,1406.1Z" fill="#cdcbcb" stroke="#484848" stroke-width="1.35" stroke-linejoin="round"/>
<path d="M720.9,1287.3C714.0,1290.6 708.0,1294.2 702.3,1298.0C698.6,1302.3 695.3,1306.9 692.5,1311.7C690.8,1316.0 689.6,1320.5 688.6,1325.0C689.6,1328.4 691.0,1331.6 692.5,1334.8C694.0,1338.2 695.7,1341.4 697.4,1344.5C700.4,1348.2 703.7,1351.4 707.2,1354.3C711.6,1356.4 716.2,1358.0 720.9,1359.2" fill="none" stroke="#484848" stroke-width="1.35" stroke-linejoin="round" stroke-linecap="round" />
<path d="M720.9,1320.5L712.1,1325.0C707.2,1327.4 702.3,1329.9 697.4,1331.8C691.8,1334.0 686.2,1335.5 680.8,1336.7" fill="none" stroke="#484848" stroke-width="1.35" stroke-linejoin="round" stroke-linecap="round" />
<path d="M720.9,1445.1C713.0,1446.1 705.2,1447.3 697.4,1449.0C690.8,1451.2 684.2,1453.7 677.9,1456.8C675.0,1459.8 672.2,1462.9 670.1,1466.6C668.6,1469.3 667.6,1472.1 667.1,1475.0L671.1,1475.0C673.2,1477.8 675.4,1480.5 677.9,1482.8C681.0,1486.3 684.2,1489.6 687.7,1492.6L691.6,1495.5L720.9,1495.0Z" fill="#b1afaf" stroke="#484848" stroke-width="1.35" stroke-linejoin="round"/>
<path d="M720.9,1445.1C713.0,1446.1 705.2,1447.3 697.4,1449.0C690.8,1451.2 684.2,1453.7 677.9,1456.8C675.0,1459.8 672.2,1462.9 670.1,1466.6L673.0,1471.5C677.9,1467.8 682.8,1464.6 687.7,1461.7C698.4,1458.6 709.6,1456.1 720.9,1453.9Z" fill="#c3c1c1" stroke="#484848" stroke-width="1.35" stroke-linejoin="round"/>
<path d="M667.6,1461.7L671.2,1460.9L670.7,1471.5L667.6,1475.0Z" fill="#fff" stroke="#484848" stroke-width="0.90" stroke-linejoin="round"/>
<path d="M702.3,1459.8L720.9,1454.9L720.9,1466.6Z" fill="#fff" stroke="#484848" stroke-width="0.90" stroke-linejoin="round"/>
<path d="M691.6,1495.8L720.9,1495.0L720.9,1511.1C717.9,1510.0 715.0,1508.7 712.1,1507.2C707.2,1505.1 702.3,1502.8 697.4,1500.4Z" fill="#f6f2c8" stroke="#66623f" stroke-width="1.35" stroke-linejoin="round"/>
<path d="M720.9,1408.0C709.1,1409.0 697.9,1410.7 687.7,1412.9C680.3,1416.8 674.0,1421.9 668.1,1427.5C664.2,1432.2 661.1,1437.1 658.4,1442.2C655.6,1448.5 653.7,1454.9 652.5,1461.7C651.5,1466.4 650.9,1470.7 650.5,1475.0C650.7,1479.3 650.5,1482.2 650.5,1484.8C650.7,1488.3 651.5,1491.5 652.5,1494.5C654.0,1500.8 656.0,1506.6 658.4,1512.1C661.3,1517.2 664.7,1521.7 668.1,1525.8C671.2,1528.9 674.6,1531.4 677.9,1533.6C681.8,1536.5 685.7,1539.1 689.6,1541.4C695.5,1544.2 701.3,1546.9 707.2,1549.2C711.9,1550.8 716.5,1552.1 720.9,1553.1L720.9,1511.1C717.9,1510.1 715.0,1508.8 712.1,1507.2C707.0,1505.2 702.1,1502.9 697.4,1500.4C694.0,1498.0 690.8,1495.4 687.7,1492.6C684.2,1489.6 681.0,1486.3 677.9,1482.8C675.4,1480.5 673.2,1477.8 671.1,1475.0L667.1,1475.0C667.6,1472.1 668.6,1469.3 670.1,1466.6C672.2,1462.9 675.0,1459.8 677.9,1456.8C684.2,1453.7 690.8,1451.2 697.4,1449.0C705.2,1447.3 713.0,1446.1 720.9,1445.1Z" fill="url(#gg1)" stroke="#484848" stroke-width="1.35" stroke-linejoin="round"/>
<path d="M663.2,1564.8C659.8,1565.8 656.4,1567.3 653.5,1568.8C649.6,1572.2 645.9,1576.1 642.7,1580.5C640.8,1585.8 639.4,1591.2 638.6,1597.1C638.0,1602.0 637.7,1606.8 637.7,1611.7C637.7,1614.8 637.8,1618.1 637.9,1621.1C638.2,1626.4 638.8,1631.7 639.8,1636.7C641.2,1641.0 642.7,1644.9 644.7,1648.4C647.4,1652.0 650.4,1655.2 653.5,1658.2C658.2,1661.7 663.0,1664.9 668.1,1668.0C674.5,1671.5 681.0,1674.7 687.7,1677.7C693.1,1680.5 698.6,1683.0 704.3,1685.5C709.7,1687.7 715.2,1689.6 720.9,1691.4L720.9,1649.4C716.2,1647.7 711.6,1645.7 707.2,1643.6C700.5,1640.8 694.0,1637.9 687.7,1634.8C682.6,1633.0 677.7,1631.1 673.0,1628.9C667.9,1626.6 663.0,1623.9 658.4,1621.1C655.2,1618.6 652.3,1615.7 649.6,1612.8C648.8,1609.3 648.6,1605.7 648.6,1602.0C649.0,1597.1 649.6,1592.2 650.5,1587.3C652.1,1582.2 654.1,1577.3 656.4,1572.7C658.4,1569.7 660.7,1567.3 663.2,1564.8Z" fill="#d3d1d1" stroke="#484848" stroke-width="1.35" stroke-linejoin="round"/>
<path d="M663.2,1564.8L665.2,1567.8C664.4,1572.7 663.4,1577.5 662.3,1582.4C661.1,1587.3 659.8,1592.2 658.4,1597.1C655.6,1602.4 652.7,1607.6 649.6,1612.8C648.8,1609.3 648.6,1605.7 648.6,1602.0C649.0,1597.1 649.6,1592.2 650.5,1587.3C652.1,1582.2 654.1,1577.3 656.4,1572.7C658.4,1569.7 660.7,1567.3 663.2,1564.8Z" fill="#b1afaf" stroke="#484848" stroke-width="1.35" stroke-linejoin="round"/>
<path d="M645.7,1616.2C644.2,1620.1 642.9,1624.0 641.8,1627.9" fill="none" stroke="#484848" stroke-width="1.35" stroke-linejoin="round" stroke-linecap="round" />
<path d="M704.3,1686.0L720.9,1691.9L720.9,1730.4L667.1,1730.4C666.4,1726.5 666.2,1722.6 666.2,1718.7C666.7,1715.3 667.3,1712.1 668.1,1709.0C669.6,1706.5 671.2,1704.3 673.0,1702.1C676.1,1700.0 679.4,1698.0 682.8,1696.3C689.6,1692.8 696.9,1689.4 704.3,1686.0Z" fill="#cbc9c9" stroke="#484848" stroke-width="1.35" stroke-linejoin="round"/>
<path d="M704.3,1729.5C709.9,1727.3 715.5,1725.1 720.9,1722.6" fill="none" stroke="#484848" stroke-width="1.35" stroke-linejoin="round" stroke-linecap="round" />
<path d="M570.6,1292.8C575.8,1290.9 580.3,1289.6 584.9,1288.9C589.5,1288.3 594.0,1288.0 598.6,1288.5C602.5,1289.6 605.5,1291.1 607.7,1293.5C610.3,1297.4 612.0,1301.3 612.5,1305.2C613.3,1307.8 613.5,1309.8 613.5,1311.7C612.9,1316.3 611.8,1320.6 610.3,1324.7C608.6,1329.7 606.8,1334.5 605.1,1339.1C603.8,1343.0 602.9,1346.9 602.5,1350.8C602.5,1354.7 602.9,1357.9 603.8,1361.2C605.1,1365.1 607.3,1368.4 609.6,1371.0L614.8,1376.2" fill="none" stroke="#66623f" stroke-width="11.70" stroke-linecap="butt" stroke-linejoin="round"/>
<path d="M570.6,1292.8C575.8,1290.9 580.3,1289.6 584.9,1288.9C589.5,1288.3 594.0,1288.0 598.6,1288.5C602.5,1289.6 605.5,1291.1 607.7,1293.5C610.3,1297.4 612.0,1301.3 612.5,1305.2C613.3,1307.8 613.5,1309.8 613.5,1311.7C612.9,1316.3 611.8,1320.6 610.3,1324.7C608.6,1329.7 606.8,1334.5 605.1,1339.1C603.8,1343.0 602.9,1346.9 602.5,1350.8C602.5,1354.7 602.9,1357.9 603.8,1361.2C605.1,1365.1 607.3,1368.4 609.6,1371.0L614.8,1376.2" fill="none" stroke="#f6f2c8" stroke-width="9.00" stroke-linecap="butt" stroke-linejoin="round"/>
<path d="M171.5,1181.5L190.1,1181.5L187.8,1187.0C183.2,1191.9 178.7,1198.4 175.8,1203.4L171.5,1201.7Z" fill="#c7c5c5" stroke="#484848" stroke-width="1.35" stroke-linejoin="round"/>
<path d="M187.8,1187.0C191.0,1198.4 191.0,1214.1 187.4,1228.4C185.8,1234.2 181.9,1239.5 171.5,1243.4L171.5,1209.1L175.8,1203.4C178.7,1198.4 183.2,1191.9 187.8,1187.0Z" fill="#b1afaf" stroke="#484848" stroke-width="1.35" stroke-linejoin="round"/>
<path d="M217.7,1181.5L233.4,1181.5C243.1,1188.0 249.0,1195.8 250.9,1203.0C248.3,1211.5 240.5,1218.0 228.8,1223.2L211.2,1212.8C216.0,1203.0 218.6,1191.9 217.7,1181.5Z" fill="#c7c5c5" stroke="#484848" stroke-width="1.35" stroke-linejoin="round"/>
<path d="M250.9,1203.0C254.8,1210.2 256.4,1219.3 256.1,1231.0C255.9,1245.3 250.3,1256.4 237.3,1261.6C223.6,1255.7 197.6,1252.1 177.4,1251.3L171.5,1251.2C178.0,1247.3 184.5,1242.7 191.0,1237.5C208.0,1232.3 219.7,1228.4 228.8,1223.2C240.5,1218.0 248.3,1211.5 250.9,1203.0Z" fill="#d3d1d1" stroke="#484848" stroke-width="1.35" stroke-linejoin="round"/>
<path d="M171.5,1295.4C188.4,1302.6 206.7,1310.4 223.6,1318.9C213.2,1329.3 202.8,1339.1 191.0,1348.2C184.5,1352.7 178.0,1356.6 171.5,1359.9Z" fill="#c7c5c5" stroke="#484848" stroke-width="1.35" stroke-linejoin="round"/>
<path d="M238.2,1359.2L247.0,1362.2L246.0,1382.9L213.8,1380.3C222.3,1373.6 230.1,1366.4 238.2,1359.2Z" fill="#c7c5c5" stroke="#484848" stroke-width="1.35" stroke-linejoin="round"/>
<path d="M171.5,1427.9C184.5,1434.1 197.6,1443.2 208.0,1453.6C213.2,1458.9 218.4,1464.7 222.3,1470.2C213.2,1474.5 204.1,1479.0 194.9,1483.9L171.5,1472.5Z" fill="#c7c5c5" stroke="#484848" stroke-width="1.35" stroke-linejoin="round"/>
<path d="M214.5,1519.0L230.1,1512.5L230.1,1519.7Z" fill="#c7c5c5" stroke="#484848" stroke-width="1.35" stroke-linejoin="round"/>
<path d="M171.5,1526.6L176.1,1524.0C178.0,1531.8 181.9,1539.6 185.8,1545.1C191.0,1550.0 197.6,1554.6 204.1,1557.4C198.9,1561.1 194.9,1563.0 191.0,1564.6C184.5,1566.9 178.0,1569.5 171.5,1572.4Z" fill="#c7c5c5" stroke="#484848" stroke-width="1.35" stroke-linejoin="round"/>
<path d="M171.5,1597.1C185.8,1602.1 200.2,1606.6 213.2,1611.5C219.7,1614.5 226.2,1617.7 232.7,1621.9L198.9,1633.6L198.9,1646.6C189.7,1644.4 180.6,1641.8 171.5,1638.8Z" fill="#c7c5c5" stroke="#484848" stroke-width="1.35" stroke-linejoin="round"/>
<path d="M208.0,1670.7L226.2,1664.8L243.1,1670.0L243.1,1679.1C241.8,1683.0 240.5,1685.6 237.9,1688.2C231.4,1694.8 223.6,1700.0 217.1,1705.2C209.3,1713.0 201.5,1722.1 194.9,1731.2L171.5,1731.2L171.5,1694.8C184.5,1685.6 197.6,1676.5 208.0,1670.7Z" fill="#d3d1d1" stroke="#484848" stroke-width="1.35" stroke-linejoin="round"/>
<path d="M198.9,1729.7C210.6,1727.3 256.1,1727.3 269.2,1729.7L269.2,1732.5L198.9,1732.5Z" fill="#b1afaf" stroke="#484848" stroke-width="1.35" stroke-linejoin="round"/>
<path d="M316.0,1255.7C321.2,1260.9 327.8,1266.1 334.3,1271.4C338.2,1274.0 342.1,1275.9 344.9,1277.9C351.2,1281.1 357.7,1285.0 364.5,1288.3C372.0,1292.2 379.8,1295.4 386.6,1298.0L364.5,1300.0L339.5,1314.3C335.6,1311.1 331.7,1307.8 327.8,1305.2C321.2,1301.3 316.0,1296.7 312.1,1292.2C309.5,1285.7 307.6,1277.9 306.3,1268.8L306.3,1253.1L311.5,1266.1Z" fill="#c8f4f1" stroke="#3c6866" stroke-width="1.35" stroke-linejoin="round"/>
<path d="M305.6,1378.4C310.8,1384.6 316.0,1389.8 321.2,1395.1C329.1,1399.6 336.9,1402.9 344.9,1405.7C351.2,1408.3 358.4,1411.3 365.0,1413.9C371.4,1416.1 377.9,1418.2 384.0,1420.1C395.5,1423.0 407.2,1425.7 417.9,1427.9L428.3,1439.6L334.3,1440.9C327.8,1435.4 321.2,1428.9 314.7,1422.7C309.5,1415.9 305.0,1408.1 301.7,1397.9L301.7,1370.3Z" fill="#c8f4f1" stroke="#3c6866" stroke-width="1.35" stroke-linejoin="round"/>
<path d="M328.4,1181.5L342.1,1192.6C352.5,1189.3 362.9,1185.4 371.0,1182.8L373.3,1181.5Z" fill="#c8f4f1" stroke="#3c6866" stroke-width="1.35" stroke-linejoin="round"/>
<path d="M342.1,1192.6C352.5,1189.3 362.9,1185.4 371.0,1182.8L373.3,1181.5L429.6,1181.5C431.3,1190.6 431.3,1201.0 430.0,1210.2C429.3,1214.1 428.0,1216.7 426.3,1218.0C418.9,1218.2 409.8,1217.3 399.6,1214.1C391.6,1214.7 383.8,1216.7 377.5,1219.3C368.1,1222.5 357.7,1226.4 347.3,1229.7C339.5,1232.9 333.0,1236.8 327.8,1240.1C322.6,1244.7 318.6,1250.5 316.0,1255.7L311.5,1266.1L306.3,1253.1C306.9,1237.5 309.5,1224.5 314.7,1216.7C321.2,1208.9 334.3,1197.1 342.1,1192.6Z" fill="#c8f4f1" stroke="#3c6866" stroke-width="1.35" stroke-linejoin="round"/>
<path d="M399.6,1214.1C407.2,1213.5 415.0,1213.3 417.9,1213.4C421.5,1214.1 424.8,1216.4 426.3,1218.0" fill="none" stroke="#3c6866" stroke-width="0.90" stroke-linejoin="round" stroke-linecap="round" />
<path d="M339.5,1314.3C347.3,1310.4 356.4,1303.9 364.5,1300.0C372.0,1298.7 379.8,1297.7 387.9,1297.4C400.7,1297.1 413.7,1297.4 425.7,1298.0L429.6,1301.3C430.6,1306.5 431.0,1312.4 430.9,1318.2C430.6,1323.4 430.2,1327.3 429.6,1331.2C428.9,1333.9 428.0,1336.1 427.0,1337.8C421.5,1338.0 415.7,1338.0 410.1,1337.8C402.6,1337.1 395.5,1336.5 387.9,1336.5C379.8,1337.8 372.0,1339.3 364.5,1341.7C357.7,1344.0 351.2,1346.6 344.9,1349.5C339.5,1352.7 333.0,1356.6 327.8,1359.9C321.9,1363.8 316.7,1367.7 312.1,1370.3C309.5,1373.6 307.6,1376.2 305.6,1378.4L301.7,1370.3C302.0,1362.5 302.4,1355.3 303.0,1348.2C305.6,1343.0 309.5,1336.5 314.7,1331.2C321.2,1324.7 330.4,1318.9 339.5,1314.3Z" fill="#c8f4f1" stroke="#3c6866" stroke-width="1.35" stroke-linejoin="round"/>
<path d="M387.9,1336.5C395.5,1335.8 405.9,1335.4 412.4,1335.8C418.9,1336.2 424.1,1337.1 427.0,1337.8" fill="none" stroke="#3c6866" stroke-width="0.90" stroke-linejoin="round" stroke-linecap="round" />
<path d="M338.2,1468.0C326.5,1473.2 317.3,1477.1 311.5,1481.9C305.6,1487.5 302.4,1493.4 301.1,1499.5C299.8,1505.7 299.4,1511.6 300.0,1517.7C301.1,1524.6 303.0,1530.5 306.3,1535.9C310.2,1542.2 314.7,1548.0 319.3,1553.3C321.2,1556.5 322.6,1559.8 323.9,1563.0C330.4,1569.5 338.2,1573.4 347.3,1576.0C353.8,1577.6 359.7,1578.9 365.0,1579.9C373.3,1581.9 381.1,1584.1 389.2,1586.1C400.7,1588.0 411.7,1588.4 423.1,1588.0C431.9,1587.5 440.4,1586.5 447.8,1584.8" fill="none" stroke="#3c6866" stroke-width="11.30" stroke-linecap="butt" stroke-linejoin="round"/>
<path d="M338.2,1468.0C326.5,1473.2 317.3,1477.1 311.5,1481.9C305.6,1487.5 302.4,1493.4 301.1,1499.5C299.8,1505.7 299.4,1511.6 300.0,1517.7C301.1,1524.6 303.0,1530.5 306.3,1535.9C310.2,1542.2 314.7,1548.0 319.3,1553.3C321.2,1556.5 322.6,1559.8 323.9,1563.0C330.4,1569.5 338.2,1573.4 347.3,1576.0C353.8,1577.6 359.7,1578.9 365.0,1579.9C373.3,1581.9 381.1,1584.1 389.2,1586.1C400.7,1588.0 411.7,1588.4 423.1,1588.0C431.9,1587.5 440.4,1586.5 447.8,1584.8" fill="none" stroke="#c8f4f1" stroke-width="8.60" stroke-linecap="butt" stroke-linejoin="round"/>
<path d="M428.3,1439.6C425.4,1435.4 422.2,1431.5 417.9,1427.9C408.5,1425.7 398.1,1425.0 387.9,1425.3C379.8,1426.0 372.0,1427.3 364.5,1429.2C357.7,1431.2 351.2,1434.1 344.9,1437.0C340.8,1438.3 337.5,1439.6 334.3,1440.9C333.2,1447.1 332.7,1453.0 333.0,1459.1C333.6,1466.0 334.9,1472.5 336.9,1478.6C346.0,1475.1 355.8,1471.6 365.0,1468.2C371.4,1466.4 377.9,1464.3 384.0,1463.0C390.3,1462.5 396.8,1462.5 403.5,1463.0C411.1,1463.7 418.9,1464.7 425.7,1465.6C427.0,1462.8 427.8,1459.5 428.3,1456.5C428.7,1451.0 428.7,1445.2 428.3,1439.6Z" fill="#c8f4f1" stroke="#3c6866" stroke-width="1.35" stroke-linejoin="round"/>
<path d="M421.8,1729.3C422.6,1724.5 423.9,1719.3 425.7,1714.3C428.3,1706.5 431.9,1699.1 436.1,1692.2C441.0,1686.1 446.2,1680.2 451.7,1674.0C456.0,1669.8 460.8,1665.2 466.0,1660.9C473.6,1656.8 480.8,1652.6 488.2,1649.2C494.4,1647.0 500.9,1645.3 507.7,1644.0L514.2,1657.0L520.7,1674.0C512.0,1677.0 503.5,1680.5 494.7,1684.4C485.3,1689.3 476.8,1694.5 468.6,1701.3C461.9,1710.2 456.0,1719.3 451.7,1729.3Z" fill="#c8f4f1" stroke="#3c6866" stroke-width="1.35" stroke-linejoin="round"/>
<path d="M475.2,1584.1L479.1,1581.5C481.4,1574.7 482.1,1568.2 481.7,1562.0C481.1,1552.6 480.1,1544.1 477.8,1537.2C475.5,1532.4 472.9,1528.5 469.9,1525.5C465.1,1522.9 460.6,1521.4 455.6,1520.3C446.9,1518.1 438.4,1516.8 429.6,1516.4C420.2,1517.7 411.7,1519.8 403.5,1522.9C396.1,1527.6 389.6,1533.3 384.0,1539.8C378.5,1546.1 374.6,1553.3 371.0,1560.7C367.5,1568.2 365.3,1576.0 364.5,1584.1C364.2,1593.0 365.3,1601.4 367.1,1610.2C369.4,1618.4 372.3,1626.2 376.2,1633.6C379.6,1640.5 383.5,1647.0 387.9,1653.1C392.6,1658.7 397.8,1663.9 403.5,1668.8C409.8,1673.0 416.3,1676.3 423.1,1679.2L443.9,1680.5L451.7,1674.0L449.1,1659.6C444.9,1661.3 440.4,1662.2 436.1,1662.2C430.0,1662.0 423.9,1660.9 417.9,1659.6C410.4,1656.8 403.5,1653.1 397.0,1649.2C390.9,1645.3 385.7,1641.1 381.4,1636.2C379.6,1631.4 378.8,1626.2 378.8,1620.6C379.6,1612.5 381.4,1604.7 384.0,1597.1C387.4,1589.1 391.8,1581.5 397.0,1575.0C403.3,1568.5 410.4,1563.0 417.9,1558.1C424.8,1554.6 431.9,1552.0 438.7,1550.3L467.3,1558.1C469.0,1563.7 469.7,1569.5 469.9,1575.0Z" fill="#c8f4f1" stroke="#3c6866" stroke-width="1.35" stroke-linejoin="round"/>
<path d="M190.1,1181.5L217.7,1181.5C218.6,1191.9 216.0,1203.0 211.2,1212.8C206.7,1221.9 199.5,1231.0 191.0,1237.5C184.5,1242.7 178.0,1247.3 171.5,1251.2L171.5,1243.4C181.9,1239.5 185.8,1234.2 187.4,1228.4C191.0,1214.1 191.0,1198.4 187.8,1187.0Z" fill="url(#wg1)" stroke="#484848" stroke-width="1.35" stroke-linejoin="round"/>
<path d="M226.2,1662.6C239.2,1662.6 253.5,1666.5 262.7,1670.1C270.5,1676.3 277.0,1682.8 282.2,1689.6C288.7,1697.1 293.9,1704.9 299.1,1713.0C302.4,1719.3 304.3,1725.1 305.6,1733.6" fill="none" stroke="#484848" stroke-width="13.30" stroke-linecap="butt" stroke-linejoin="round"/>
<path d="M226.2,1662.6C239.2,1662.6 253.5,1666.5 262.7,1670.1C270.5,1676.3 277.0,1682.8 282.2,1689.6C288.7,1697.1 293.9,1704.9 299.1,1713.0C302.4,1719.3 304.3,1725.1 305.6,1733.6" fill="none" stroke="#f1f1f1" stroke-width="10.60" stroke-linecap="butt" stroke-linejoin="round"/>
<path d="M361.9,1714.3L390.6,1689.6L410.1,1729.3L371.0,1731.2Z" fill="#eeeeee" stroke="#484848" stroke-width="1.35" stroke-linejoin="round"/>
<path d="M361.9,1714.3C364.5,1706.5 371.0,1698.7 377.6,1694.1C382.8,1690.9 387.3,1689.3 390.6,1689.8C388.0,1694.8 382.8,1701.3 376.2,1706.5C371.0,1710.4 366.5,1713.2 361.9,1714.3Z" fill="#a5a3a3" stroke="#484848" stroke-width="1.35" stroke-linejoin="round"/>
<path d="M171.5,1251.8C197.6,1252.1 223.6,1255.7 237.3,1261.6C241.8,1264.2 244.4,1266.8 246.4,1270.7C251.6,1279.2 256.8,1292.2 260.7,1305.2C262.9,1313.0 263.7,1319.5 263.3,1324.1L258.8,1337.8L243.1,1298.0C227.5,1292.8 204.1,1290.9 171.5,1290.2Z" fill="url(#wg2)" stroke="none"/>
<path d="M245.1,1279.2L263.3,1324.1C262.7,1331.2 260.7,1337.8 256.8,1343.0C251.6,1349.5 245.1,1354.7 238.2,1359.2C230.1,1366.4 222.3,1373.6 213.8,1379.8C208.0,1384.6 201.5,1389.2 194.3,1393.5C187.1,1398.3 179.3,1402.2 171.5,1405.2L171.5,1359.9C178.0,1356.6 184.5,1352.7 191.0,1348.2C202.8,1339.1 213.2,1329.3 223.6,1318.9C230.1,1311.7 236.6,1305.2 243.1,1298.0Z" fill="#f3f3f3" stroke="none"/>
<path d="M171.5,1405.2C179.3,1402.2 187.1,1398.3 194.3,1393.5C201.5,1389.2 208.0,1384.6 213.8,1380.3L246.0,1382.9C256.1,1385.9 269.2,1395.1 277.2,1402.2C284.8,1409.4 290.0,1422.4 293.3,1435.4C295.2,1445.8 295.6,1453.6 295.2,1456.9L275.3,1436.5C271.8,1434.8 267.9,1432.8 262.7,1430.6C253.5,1427.0 243.1,1423.7 233.4,1421.7C223.6,1420.1 214.5,1419.1 204.1,1418.9C194.9,1418.8 184.5,1418.9 171.5,1418.9Z" fill="url(#wg3)" stroke="none"/>
<path d="M284.7,1416.9C290.0,1422.4 293.9,1441.9 295.2,1456.9C294.6,1462.8 293.9,1465.4 293.3,1466.7C291.3,1473.2 288.7,1477.1 286.1,1479.9C280.9,1486.2 275.7,1490.1 269.2,1494.3C262.7,1499.2 256.1,1501.8 248.3,1504.7C241.8,1507.7 235.3,1510.3 230.1,1512.5C224.9,1514.8 219.7,1516.8 214.5,1519.0C208.0,1522.7 201.5,1526.6 197.6,1529.4C193.6,1533.1 189.7,1538.3 187.1,1542.4L185.8,1545.1C184.5,1542.8 183.2,1540.2 181.9,1537.2C180.0,1533.1 178.0,1529.2 176.7,1524.2C175.7,1520.1 175.2,1516.1 174.8,1511.2C174.4,1508.3 174.8,1504.4 176.7,1498.2C181.9,1492.7 188.4,1487.5 194.9,1483.9C204.1,1479.0 213.2,1474.5 222.3,1470.2C234.0,1465.4 245.7,1460.2 256.1,1453.9C262.7,1449.1 269.2,1443.2 275.3,1436.5Z" fill="#f3f3f3" stroke="none"/>
<path d="M185.8,1545.1L187.1,1542.4C189.7,1538.3 193.6,1533.1 197.6,1529.4C201.5,1526.6 208.0,1522.7 214.5,1519.0C219.7,1519.4 224.9,1519.4 230.1,1519.7C244.4,1520.3 258.8,1521.4 273.1,1522.9C280.9,1524.2 288.7,1525.9 295.2,1528.1C300.4,1530.5 305.0,1533.7 308.2,1537.2C313.4,1543.5 316.7,1548.0 318.6,1551.6C321.2,1557.8 322.8,1564.3 323.9,1571.1C324.9,1578.6 325.4,1586.5 325.2,1594.5L312.1,1558.1C308.2,1560.7 301.7,1562.4 295.2,1562.6C282.2,1562.0 269.2,1560.7 256.1,1560.0C239.2,1559.4 221.0,1559.1 204.1,1557.4C197.6,1554.6 191.0,1550.0 185.8,1545.1Z" fill="url(#wg4)" stroke="none"/>
<path d="M319.3,1545.1C322.6,1559.1 325.4,1578.6 325.2,1594.5C324.1,1602.1 321.9,1609.2 318.6,1615.4C314.7,1621.6 309.5,1628.1 303.0,1633.6C296.5,1638.5 290.0,1643.1 282.2,1646.6C271.8,1650.9 260.1,1654.2 248.3,1657.0C239.9,1659.6 231.4,1662.2 223.6,1664.8C218.4,1666.8 213.2,1668.8 208.0,1670.7C206.0,1668.1 204.1,1665.2 202.8,1662.2C201.2,1658.3 200.2,1654.2 199.5,1649.2C198.9,1643.8 198.6,1638.5 198.9,1633.6C209.3,1629.7 221.0,1625.8 232.7,1621.9C248.3,1616.4 262.7,1609.9 275.7,1602.3C283.5,1596.2 291.3,1589.1 297.8,1581.5C303.0,1574.1 308.2,1566.3 312.1,1558.1Z" fill="url(#wg5)" stroke="none"/>
<path d="M171.5,1251.8C197.6,1252.1 223.6,1255.7 237.3,1261.6C241.8,1264.2 244.4,1266.8 246.4,1270.7C251.6,1279.2 256.8,1292.2 260.7,1305.2C262.9,1313.0 263.7,1319.5 263.3,1324.1C262.7,1331.2 260.7,1337.8 256.8,1343.0C251.6,1349.5 245.1,1354.7 238.2,1359.2C230.1,1366.4 222.3,1373.6 213.8,1379.8C208.0,1384.6 201.5,1389.2 194.3,1393.5C187.1,1398.3 179.3,1402.2 171.5,1405.2" fill="none" stroke="#484848" stroke-width="1.35" stroke-linejoin="round" stroke-linecap="round" />
<path d="M171.5,1290.2C204.1,1290.9 227.5,1292.8 243.1,1298.0C245.1,1292.2 246.0,1285.7 245.1,1279.2" fill="none" stroke="#484848" stroke-width="1.35" stroke-linejoin="round" stroke-linecap="round" />
<path d="M243.1,1298.0C236.6,1305.2 230.1,1311.7 223.6,1318.9C213.2,1329.3 202.8,1339.1 191.0,1348.2C184.5,1352.7 178.0,1356.6 171.5,1359.9" fill="none" stroke="#484848" stroke-width="1.35" stroke-linejoin="round" stroke-linecap="round" />
<path d="M213.8,1380.3L246.0,1382.9C256.1,1385.9 269.2,1395.1 277.2,1402.2C284.8,1409.4 290.0,1422.4 293.3,1435.4C295.2,1445.8 295.6,1453.6 295.2,1456.9C294.6,1462.8 293.9,1465.4 293.3,1466.7C291.3,1473.2 288.7,1477.1 286.1,1479.9C280.9,1486.2 275.7,1490.1 269.2,1494.3C262.7,1499.2 256.1,1501.8 248.3,1504.7C241.8,1507.7 235.3,1510.3 230.1,1512.5C224.9,1514.8 219.7,1516.8 214.5,1519.0C208.0,1522.7 201.5,1526.6 197.6,1529.4C193.6,1533.1 189.7,1538.3 187.1,1542.4" fill="none" stroke="#484848" stroke-width="1.35" stroke-linejoin="round" stroke-linecap="round" />
<path d="M171.5,1418.9C184.5,1418.9 194.9,1418.8 204.1,1418.9C214.5,1419.1 223.6,1420.1 233.4,1421.7C243.1,1423.7 253.5,1427.0 262.7,1430.6C267.9,1432.8 271.8,1434.8 275.3,1436.5C279.6,1430.2 282.8,1423.7 284.7,1416.9" fill="none" stroke="#484848" stroke-width="1.35" stroke-linejoin="round" stroke-linecap="round" />
<path d="M275.3,1436.5C269.2,1443.2 262.7,1449.1 256.1,1453.9C245.7,1460.2 234.0,1465.4 222.3,1470.2C213.2,1474.5 204.1,1479.0 194.9,1483.9C188.4,1487.5 181.9,1492.7 176.7,1498.2C174.8,1504.4 174.4,1508.3 174.8,1511.2C175.2,1516.1 175.7,1520.1 176.7,1524.2C178.0,1529.2 180.0,1533.1 181.9,1537.2C183.2,1540.2 184.5,1542.8 185.8,1545.1C191.0,1550.0 197.6,1554.6 204.1,1557.4C221.0,1559.1 239.2,1559.4 256.1,1560.0C269.2,1560.7 282.2,1562.0 295.2,1562.6C301.7,1562.4 308.2,1560.7 312.1,1558.1C315.4,1553.9 318.0,1549.3 319.3,1545.1" fill="none" stroke="#484848" stroke-width="1.35" stroke-linejoin="round" stroke-linecap="round" />
<path d="M214.5,1519.0C219.7,1519.4 224.9,1519.4 230.1,1519.7C244.4,1520.3 258.8,1521.4 273.1,1522.9C280.9,1524.2 288.7,1525.9 295.2,1528.1C300.4,1530.5 305.0,1533.7 308.2,1537.2C313.4,1543.5 316.7,1548.0 318.6,1551.6C321.2,1557.8 322.8,1564.3 323.9,1571.1C324.9,1578.6 325.4,1586.5 325.2,1594.5C324.1,1602.1 321.9,1609.2 318.6,1615.4C314.7,1621.6 309.5,1628.1 303.0,1633.6C296.5,1638.5 290.0,1643.1 282.2,1646.6C271.8,1650.9 260.1,1654.2 248.3,1657.0C239.9,1659.6 231.4,1662.2 223.6,1664.8C218.4,1666.8 213.2,1668.8 208.0,1670.7" fill="none" stroke="#484848" stroke-width="1.35" stroke-linejoin="round" stroke-linecap="round" />
<path d="M312.1,1558.1C308.2,1566.3 303.0,1574.1 297.8,1581.5C291.3,1589.1 283.5,1596.2 275.7,1602.3C262.7,1609.9 248.3,1616.4 232.7,1621.9C221.0,1625.8 209.3,1629.7 198.9,1633.6C198.6,1638.5 198.9,1643.8 199.5,1649.2C200.2,1654.2 201.2,1658.3 202.8,1662.2C204.1,1665.2 206.0,1668.1 208.0,1670.7" fill="none" stroke="#484848" stroke-width="1.35" stroke-linejoin="round" stroke-linecap="round" />
<path d="M301.1,1435.1 L331.7,1463.1" fill="none" stroke="#46817c" stroke-width="15.2" stroke-linecap="round" stroke-linejoin="round"/>
<path d="M304.3,1354.4 L323.2,1344.9" fill="none" stroke="#7f2522" stroke-width="7.1" stroke-linecap="round" stroke-linejoin="round"/>
<path d="M306.9,1360.5 L326.5,1350.8" fill="none" stroke="#7f2522" stroke-width="7.1" stroke-linecap="round" stroke-linejoin="round"/>
<path d="M301.6,1359.1 L310.9,1351.1" fill="none" stroke="#292929" stroke-width="7.1" stroke-linecap="butt" stroke-linejoin="round"/>
<path d="M301.7,1359.4 L313.8,1357.1" fill="none" stroke="#292929" stroke-width="7.1" stroke-linecap="butt" stroke-linejoin="round"/>
<path d="M296.5,1377.1 L296.8,1396.7" fill="none" stroke="#25256b" stroke-width="14.0" stroke-linecap="round" stroke-linejoin="round"/>
<path d="M243.1,1358.6 L269.2,1337.8 L300.4,1359.9 L296.5,1377.1" fill="none" stroke="#292929" stroke-width="14.0" stroke-linecap="butt" stroke-linejoin="round"/><circle cx="243.1" cy="1358.6" r="7.00" fill="#292929"/>
<path d="M378.8,1515.0 L399.3,1531.2" fill="none" stroke="#7f2522" stroke-width="7.1" stroke-linecap="round" stroke-linejoin="round"/>
<path d="M374.5,1520.3 L394.4,1537.5" fill="none" stroke="#7f2522" stroke-width="7.1" stroke-linecap="round" stroke-linejoin="round"/>
<path d="M378.8,1515.0 L388.0,1522.3" fill="none" stroke="#797777" stroke-width="7.1" stroke-linecap="butt" stroke-linejoin="round"/>
<path d="M374.5,1520.3 L383.4,1528.0" fill="none" stroke="#797777" stroke-width="7.1" stroke-linecap="butt" stroke-linejoin="round"/>
<path d="M379.1,1494.5 L382.7,1477.9" fill="none" stroke="#25256b" stroke-width="13.5" stroke-linecap="round" stroke-linejoin="round"/>
<path d="M305.5,1554.1 L331.9,1559.0" fill="none" stroke="#5a5959" stroke-width="14.0" stroke-linecap="round" stroke-linejoin="round"/>
<path d="M318.7,1556.5 L331.9,1559.0 L336.8,1524.8 L375.8,1510.1 L379.1,1494.5" fill="none" stroke="#797777" stroke-width="13.5" stroke-linecap="butt" stroke-linejoin="round"/><circle cx="318.7" cy="1556.5" r="6.75" fill="#797777"/>
<path d="M519.5,1524.3 L504.5,1531.8" fill="none" stroke="#25256b" stroke-width="14.0" stroke-linecap="round" stroke-linejoin="round"/>
<path d="M618.1,1494.6 L593.0,1514.9 L556.9,1505.0 L545.0,1513.2 L519.5,1524.3" fill="none" stroke="#80772e" stroke-width="14.0" stroke-linecap="butt" stroke-linejoin="round"/><circle cx="618.1" cy="1494.6" r="7.00" fill="#80772e"/>
<path d="M471.2,1682.0 L450.2,1656.6 L461.9,1619.9" fill="none" stroke="#46817c" stroke-width="14.0" stroke-linecap="round" stroke-linejoin="round"/>
<path d="M451.3,1588.2 L461.9,1619.9 L499.0,1613.6 L500.9,1573.0" fill="none" stroke="#46817c" stroke-width="14.0" stroke-linecap="round" stroke-linejoin="round"/>
<path d="M500.9,1573.0 L530.2,1557.4 L556.8,1578.9 L554.8,1617.5 L525.9,1629.7 L499.0,1613.6" fill="none" stroke="#46817c" stroke-width="14.0" stroke-linecap="round" stroke-linejoin="round"/>
<path d="M460.3,1578.7 L451.3,1588.2" fill="none" stroke="#46817c" stroke-width="14.0" stroke-linecap="round" stroke-linejoin="round"/>
<path d="M485.1,1571.1 L500.9,1573.0" fill="none" stroke="#46817c" stroke-width="14.0" stroke-linecap="round" stroke-linejoin="round"/>
<path d="M460.3,1578.7 L469.3,1569.1 L485.1,1571.1" fill="none" stroke="#25256b" stroke-width="14.0" stroke-linecap="butt" stroke-linejoin="round"/>
<path d="M531.0,1568.4 L545.9,1580.4" fill="none" stroke="#46817c" stroke-width="5.9" stroke-linecap="round" stroke-linejoin="round"/>
<path d="M544.8,1613.0 L529.7,1619.3" fill="none" stroke="#46817c" stroke-width="5.9" stroke-linecap="round" stroke-linejoin="round"/>
<path d="M492.5,1580.1 L491.3,1605.8" fill="none" stroke="#46817c" stroke-width="5.9" stroke-linecap="round" stroke-linejoin="round"/>
<path d="M446.1,1597.9 L451.9,1615.3" fill="none" stroke="#46817c" stroke-width="5.9" stroke-linecap="round" stroke-linejoin="round"/>
<path d="M301.1,1435.1 L331.7,1463.1" fill="none" stroke="#80ebe3" stroke-width="13.5" stroke-linecap="round" stroke-linejoin="round"/>
<path d="M302.6,1433.1 L333.2,1461.1" fill="none" stroke="#ffffff" stroke-width="3.0" stroke-linecap="round" stroke-linejoin="round" opacity="0.35"/>
<path d="M304.3,1354.4 L323.2,1344.9" fill="none" stroke="#e8453f" stroke-width="5.4" stroke-linecap="round" stroke-linejoin="round"/>
<path d="M306.9,1360.5 L326.5,1350.8" fill="none" stroke="#e8453f" stroke-width="5.4" stroke-linecap="round" stroke-linejoin="round"/>
<path d="M301.6,1359.1 L310.9,1351.1" fill="none" stroke="#4c4b4b" stroke-width="5.4" stroke-linecap="butt" stroke-linejoin="round"/>
<path d="M301.7,1359.4 L313.8,1357.1" fill="none" stroke="#4c4b4b" stroke-width="5.4" stroke-linecap="butt" stroke-linejoin="round"/>
<path d="M296.5,1377.1 L296.8,1396.7" fill="none" stroke="#4545c4" stroke-width="12.3" stroke-linecap="round" stroke-linejoin="round"/>
<path d="M243.1,1358.6 L269.2,1337.8 L300.4,1359.9 L296.5,1377.1" fill="none" stroke="#4c4b4b" stroke-width="12.3" stroke-linecap="butt" stroke-linejoin="round"/><circle cx="243.1" cy="1358.6" r="6.15" fill="#4c4b4b"/>
<path d="M241.9,1357.2 L268.0,1336.4 L299.2,1358.5" fill="none" stroke="#ffffff" stroke-width="3.0" stroke-linecap="round" stroke-linejoin="round" opacity="0.18"/>
<path d="M378.8,1515.0 L399.3,1531.2" fill="none" stroke="#e8453f" stroke-width="5.4" stroke-linecap="round" stroke-linejoin="round"/>
<path d="M374.5,1520.3 L394.4,1537.5" fill="none" stroke="#e8453f" stroke-width="5.4" stroke-linecap="round" stroke-linejoin="round"/>
<path d="M378.8,1515.0 L388.0,1522.3" fill="none" stroke="#dcdada" stroke-width="5.4" stroke-linecap="butt" stroke-linejoin="round"/>
<path d="M374.5,1520.3 L383.4,1528.0" fill="none" stroke="#dcdada" stroke-width="5.4" stroke-linecap="butt" stroke-linejoin="round"/>
<path d="M379.1,1494.5 L382.7,1477.9" fill="none" stroke="#4545c4" stroke-width="11.8" stroke-linecap="round" stroke-linejoin="round"/>
<path d="M305.5,1554.1 L331.9,1559.0" fill="none" stroke="#a5a3a3" stroke-width="12.3" stroke-linecap="round" stroke-linejoin="round"/>
<path d="M318.7,1556.5 L331.9,1559.0 L336.8,1524.8 L375.8,1510.1 L379.1,1494.5" fill="none" stroke="#dcdada" stroke-width="11.8" stroke-linecap="butt" stroke-linejoin="round"/><circle cx="318.7" cy="1556.5" r="5.90" fill="#dcdada"/>
<path d="M330.7,1557.6 L335.6,1523.4 L374.6,1508.7" fill="none" stroke="#ffffff" stroke-width="3.0" stroke-linecap="round" stroke-linejoin="round" opacity="0.50"/>
<path d="M519.5,1524.3 L504.5,1531.8" fill="none" stroke="#4545c4" stroke-width="12.3" stroke-linecap="round" stroke-linejoin="round"/>
<path d="M618.1,1494.6 L593.0,1514.9 L556.9,1505.0 L545.0,1513.2 L519.5,1524.3" fill="none" stroke="#ead955" stroke-width="12.3" stroke-linecap="butt" stroke-linejoin="round"/><circle cx="618.1" cy="1494.6" r="6.15" fill="#ead955"/>
<ellipse cx="543.2" cy="1514.1" rx="9.5" ry="3.6" transform="rotate(-24 543.2 1514.1)" fill="#7a3a20"/>
<ellipse cx="546.2" cy="1512.6" rx="5.5" ry="2.2" transform="rotate(-24 546.2 1512.6)" fill="#d9413a"/>
<path d="M616.9,1493.2 L591.8,1513.5 L555.7,1503.6" fill="none" stroke="#ffffff" stroke-width="3.0" stroke-linecap="round" stroke-linejoin="round" opacity="0.30"/>
<path d="M471.2,1682.0 L450.2,1656.6 L461.9,1619.9" fill="none" stroke="#80ebe3" stroke-width="12.3" stroke-linecap="round" stroke-linejoin="round"/>
<path d="M451.3,1588.2 L461.9,1619.9 L499.0,1613.6 L500.9,1573.0" fill="none" stroke="#80ebe3" stroke-width="12.3" stroke-linecap="round" stroke-linejoin="round"/>
<path d="M500.9,1573.0 L530.2,1557.4 L556.8,1578.9 L554.8,1617.5 L525.9,1629.7 L499.0,1613.6" fill="none" stroke="#80ebe3" stroke-width="12.3" stroke-linecap="round" stroke-linejoin="round"/>
<path d="M460.3,1578.7 L451.3,1588.2" fill="none" stroke="#80ebe3" stroke-width="12.3" stroke-linecap="round" stroke-linejoin="round"/>
<path d="M485.1,1571.1 L500.9,1573.0" fill="none" stroke="#80ebe3" stroke-width="12.3" stroke-linecap="round" stroke-linejoin="round"/>
<path d="M460.3,1578.7 L469.3,1569.1 L485.1,1571.1" fill="none" stroke="#4545c4" stroke-width="12.3" stroke-linecap="butt" stroke-linejoin="round"/>
<path d="M531.0,1568.4 L545.9,1580.4" fill="none" stroke="#80ebe3" stroke-width="4.2" stroke-linecap="round" stroke-linejoin="round"/>
<path d="M544.8,1613.0 L529.7,1619.3" fill="none" stroke="#80ebe3" stroke-width="4.2" stroke-linecap="round" stroke-linejoin="round"/>
<path d="M492.5,1580.1 L491.3,1605.8" fill="none" stroke="#80ebe3" stroke-width="4.2" stroke-linecap="round" stroke-linejoin="round"/>
<path d="M446.1,1597.9 L451.9,1615.3" fill="none" stroke="#80ebe3" stroke-width="4.2" stroke-linecap="round" stroke-linejoin="round"/>
<path d="M502.1,1571.2 L531.4,1555.6 L558.0,1577.1 L556.0,1615.7" fill="none" stroke="#ffffff" stroke-width="3.0" stroke-linecap="round" stroke-linejoin="round" opacity="0.25"/>
<clipPath id="mcp"><path d="M335.8,1386.1C335.8,1368.0 347.9,1349.8 366.0,1339.7C386.2,1329.6 414.5,1326.0 446.8,1325.6C475.0,1324.4 497.2,1331.6 511.4,1347.8C523.5,1361.9 529.5,1384.1 531.5,1412.4C532.3,1440.6 526.7,1464.8 517.4,1479.0C507.3,1493.1 491.2,1504.4 475.0,1503.6C458.9,1502.0 444.8,1489.1 432.6,1470.9C424.6,1458.8 418.5,1450.7 406.4,1442.6C394.3,1434.6 378.2,1428.5 364.0,1420.4C347.9,1411.6 337.0,1400.3 335.8,1386.1Z"/></clipPath>
<path d="M335.8,1386.1C335.8,1368.0 347.9,1349.8 366.0,1339.7C386.2,1329.6 414.5,1326.0 446.8,1325.6C475.0,1324.4 497.2,1331.6 511.4,1347.8C523.5,1361.9 529.5,1384.1 531.5,1412.4C532.3,1440.6 526.7,1464.8 517.4,1479.0C507.3,1493.1 491.2,1504.4 475.0,1503.6C458.9,1502.0 444.8,1489.1 432.6,1470.9C424.6,1458.8 418.5,1450.7 406.4,1442.6C394.3,1434.6 378.2,1428.5 364.0,1420.4C347.9,1411.6 337.0,1400.3 335.8,1386.1Z" fill="#808080" fill-opacity="0.07" stroke="none"/>
<g clip-path="url(#mcp)" fill="none" stroke="#606060" stroke-width="0.7" stroke-opacity="0.5">
<ellipse cx="398.3" cy="1344.8" rx="54.8" ry="10.4" transform="rotate(-8 398.3 1376.0)"/>
<ellipse cx="398.3" cy="1360.4" rx="69.3" ry="10.4" transform="rotate(-8 398.3 1376.0)"/>
<ellipse cx="398.3" cy="1376.0" rx="73.5" ry="10.4" transform="rotate(-8 398.3 1376.0)"/>
<ellipse cx="398.3" cy="1391.6" rx="69.3" ry="10.4" transform="rotate(-8 398.3 1376.0)"/>
<ellipse cx="398.3" cy="1407.2" rx="54.8" ry="10.4" transform="rotate(-8 398.3 1376.0)"/>
<ellipse cx="398.3" cy="1376.0" rx="57.2" ry="39.2" transform="rotate(26 398.3 1376.0)"/>
<ellipse cx="398.3" cy="1376.0" rx="57.2" ry="26.6" transform="rotate(54 398.3 1376.0)"/>
<ellipse cx="398.3" cy="1376.0" rx="57.2" ry="14.0" transform="rotate(85 398.3 1376.0)"/>
<ellipse cx="398.3" cy="1376.0" rx="57.2" ry="26.6" transform="rotate(110 398.3 1376.0)"/>
<ellipse cx="398.3" cy="1376.0" rx="57.2" ry="39.2" transform="rotate(138 398.3 1376.0)"/>
<ellipse cx="475.0" cy="1346.2" rx="48.5" ry="14.0" transform="rotate(12 475.0 1388.2)"/>
<ellipse cx="475.0" cy="1367.2" rx="61.4" ry="14.0" transform="rotate(12 475.0 1388.2)"/>
<ellipse cx="475.0" cy="1388.2" rx="65.1" ry="14.0" transform="rotate(12 475.0 1388.2)"/>
<ellipse cx="475.0" cy="1409.2" rx="61.4" ry="14.0" transform="rotate(12 475.0 1388.2)"/>
<ellipse cx="475.0" cy="1430.2" rx="48.5" ry="14.0" transform="rotate(12 475.0 1388.2)"/>
<ellipse cx="475.0" cy="1388.2" rx="77.0" ry="34.7" transform="rotate(47 475.0 1388.2)"/>
<ellipse cx="475.0" cy="1388.2" rx="77.0" ry="23.6" transform="rotate(71 475.0 1388.2)"/>
<ellipse cx="475.0" cy="1388.2" rx="77.0" ry="12.4" transform="rotate(102 475.0 1388.2)"/>
<ellipse cx="475.0" cy="1388.2" rx="77.0" ry="23.6" transform="rotate(131 475.0 1388.2)"/>
<ellipse cx="475.0" cy="1388.2" rx="77.0" ry="34.7" transform="rotate(160 475.0 1388.2)"/>
<ellipse cx="483.1" cy="1423.8" rx="32.9" ry="11.0" transform="rotate(8 483.1 1456.8)"/>
<ellipse cx="483.1" cy="1440.3" rx="41.6" ry="11.0" transform="rotate(8 483.1 1456.8)"/>
<ellipse cx="483.1" cy="1456.8" rx="44.1" ry="11.0" transform="rotate(8 483.1 1456.8)"/>
<ellipse cx="483.1" cy="1473.3" rx="41.6" ry="11.0" transform="rotate(8 483.1 1456.8)"/>
<ellipse cx="483.1" cy="1489.8" rx="32.9" ry="11.0" transform="rotate(8 483.1 1456.8)"/>
<ellipse cx="483.1" cy="1456.8" rx="60.5" ry="23.5" transform="rotate(39 483.1 1456.8)"/>
<ellipse cx="483.1" cy="1456.8" rx="60.5" ry="16.0" transform="rotate(68 483.1 1456.8)"/>
<ellipse cx="483.1" cy="1456.8" rx="60.5" ry="8.4" transform="rotate(95 483.1 1456.8)"/>
<ellipse cx="483.1" cy="1456.8" rx="60.5" ry="16.0" transform="rotate(128 483.1 1456.8)"/>
<ellipse cx="483.1" cy="1456.8" rx="60.5" ry="23.5" transform="rotate(156 483.1 1456.8)"/>
<path d="M109.7,1309.5 l240,200 M319.7,1309.5 l-200,240 M117.3,1309.5 l240,200 M327.3,1309.5 l-200,240 M124.9,1309.5 l240,200 M334.9,1309.5 l-200,240 M132.5,1309.5 l240,200 M342.5,1309.5 l-200,240 M140.1,1309.5 l240,200 M350.1,1309.5 l-200,240 M147.7,1309.5 l240,200 M357.7,1309.5 l-200,240 M155.3,1309.5 l240,200 M365.3,1309.5 l-200,240 M162.9,1309.5 l240,200 M372.9,1309.5 l-200,240 M170.5,1309.5 l240,200 M380.5,1309.5 l-200,240 M178.1,1309.5 l240,200 M388.1,1309.5 l-200,240 M185.7,1309.5 l240,200 M395.7,1309.5 l-200,240 M193.3,1309.5 l240,200 M403.3,1309.5 l-200,240 M200.9,1309.5 l240,200 M410.9,1309.5 l-200,240 M208.5,1309.5 l240,200 M418.5,1309.5 l-200,240 M216.1,1309.5 l240,200 M426.1,1309.5 l-200,240 M223.7,1309.5 l240,200 M433.7,1309.5 l-200,240 M231.3,1309.5 l240,200 M441.3,1309.5 l-200,240 M238.9,1309.5 l240,200 M448.9,1309.5 l-200,240 M246.5,1309.5 l240,200 M456.5,1309.5 l-200,240 M254.1,1309.5 l240,200 M464.1,1309.5 l-200,240 M261.7,1309.5 l240,200 M471.7,1309.5 l-200,240 M269.3,1309.5 l240,200 M479.3,1309.5 l-200,240 M276.9,1309.5 l240,200 M486.9,1309.5 l-200,240 M284.5,1309.5 l240,200 M494.5,1309.5 l-200,240 M292.1,1309.5 l240,200 M502.1,1309.5 l-200,240 M299.7,1309.5 l240,200 M509.7,1309.5 l-200,240 M307.3,1309.5 l240,200 M517.3,1309.5 l-200,240 M314.9,1309.5 l240,200 M524.9,1309.5 l-200,240 M322.5,1309.5 l240,200 M532.5,1309.5 l-200,240 M330.1,1309.5 l240,200 M540.1,1309.5 l-200,240 M337.7,1309.5 l240,200 M547.7,1309.5 l-200,240 M345.3,1309.5 l240,200 M555.3,1309.5 l-200,240 M352.9,1309.5 l240,200 M562.9,1309.5 l-200,240 M360.5,1309.5 l240,200 M570.5,1309.5 l-200,240 M368.1,1309.5 l240,200 M578.1,1309.5 l-200,240 M375.7,1309.5 l240,200 M585.7,1309.5 l-200,240 M383.3,1309.5 l240,200 M593.3,1309.5 l-200,240 M390.9,1309.5 l240,200 M600.9,1309.5 l-200,240 M398.5,1309.5 l240,200 M608.5,1309.5 l-200,240 M406.1,1309.5 l240,200 M616.1,1309.5 l-200,240 M413.7,1309.5 l240,200 M623.7,1309.5 l-200,240 M421.3,1309.5 l240,200 M631.3,1309.5 l-200,240 M428.9,1309.5 l240,200 M638.9,1309.5 l-200,240 M436.5,1309.5 l240,200 M646.5,1309.5 l-200,240 M444.1,1309.5 l240,200 M654.1,1309.5 l-200,240 M451.7,1309.5 l240,200 M661.7,1309.5 l-200,240 M459.3,1309.5 l240,200 M669.3,1309.5 l-200,240 M466.9,1309.5 l240,200 M676.9,1309.5 l-200,240 M474.5,1309.5 l240,200 M684.5,1309.5 l-200,240 M482.1,1309.5 l240,200 M692.1,1309.5 l-200,240 M489.7,1309.5 l240,200 M699.7,1309.5 l-200,240 M497.3,1309.5 l240,200 M707.3,1309.5 l-200,240 M504.9,1309.5 l240,200 M714.9,1309.5 l-200,240 M512.5,1309.5 l240,200 M722.5,1309.5 l-200,240 M520.1,1309.5 l240,200 M730.1,1309.5 l-200,240 M527.7,1309.5 l240,200 M737.7,1309.5 l-200,240 M535.3,1309.5 l240,200 M745.3,1309.5 l-200,240 M542.9,1309.5 l240,200 M752.9,1309.5 l-200,240 M550.5,1309.5 l240,200 M760.5,1309.5 l-200,240 M558.1,1309.5 l240,200 M768.1,1309.5 l-200,240 M565.7,1309.5 l240,200 M775.7,1309.5 l-200,240 M573.3,1309.5 l240,200 M783.3,1309.5 l-200,240 M580.9,1309.5 l240,200 M790.9,1309.5 l-200,240 M588.5,1309.5 l240,200 M798.5,1309.5 l-200,240 M596.1,1309.5 l240,200 M806.1,1309.5 l-200,240 M603.7,1309.5 l240,200 M813.7,1309.5 l-200,240 M611.3,1309.5 l240,200 M821.3,1309.5 l-200,240 M618.9,1309.5 l240,200 M828.9,1309.5 l-200,240 M626.5,1309.5 l240,200 M836.5,1309.5 l-200,240 M634.1,1309.5 l240,200 M844.1,1309.5 l-200,240 M641.7,1309.5 l240,200 M851.7,1309.5 l-200,240 M649.3,1309.5 l240,200 M859.3,1309.5 l-200,240 M656.9,1309.5 l240,200 M866.9,1309.5 l-200,240 M664.5,1309.5 l240,200 M874.5,1309.5 l-200,240 M672.1,1309.5 l240,200 M882.1,1309.5 l-200,240 M679.7,1309.5 l240,200 M889.7,1309.5 l-200,240 M687.3,1309.5 l240,200 M897.3,1309.5 l-200,240 M694.9,1309.5 l240,200 M904.9,1309.5 l-200,240 M702.5,1309.5 l240,200 M912.5,1309.5 l-200,240 M710.1,1309.5 l240,200 M920.1,1309.5 l-200,240 M717.7,1309.5 l240,200 M927.7,1309.5 l-200,240 M725.3,1309.5 l240,200 M935.3,1309.5 l-200,240 M732.9,1309.5 l240,200 M942.9,1309.5 l-200,240 M740.5,1309.5 l240,200 M950.5,1309.5 l-200,240 M748.1,1309.5 l240,200 M958.1,1309.5 l-200,240 M755.7,1309.5 l240,200 M965.7,1309.5 l-200,240 " stroke-opacity="0.4" stroke-width="0.65"/>
</g>
<path d="M335.8,1386.1C335.8,1368.0 347.9,1349.8 366.0,1339.7C386.2,1329.6 414.5,1326.0 446.8,1325.6C475.0,1324.4 497.2,1331.6 511.4,1347.8C523.5,1361.9 529.5,1384.1 531.5,1412.4C532.3,1440.6 526.7,1464.8 517.4,1479.0C507.3,1493.1 491.2,1504.4 475.0,1503.6C458.9,1502.0 444.8,1489.1 432.6,1470.9C424.6,1458.8 418.5,1450.7 406.4,1442.6C394.3,1434.6 378.2,1428.5 364.0,1420.4C347.9,1411.6 337.0,1400.3 335.8,1386.1Z" fill="none" stroke="#707070" stroke-width="0.7" stroke-opacity="0.55"/>
<path d="M438.1,1360.9 L432.5,1342.3" fill="none" stroke="#7f2522" stroke-width="13.5" stroke-linecap="round" stroke-linejoin="round"/>
<path d="M442.7,1376.1 L438.1,1360.9" fill="none" stroke="#804b4e" stroke-width="13.5" stroke-linecap="butt" stroke-linejoin="round"/><circle cx="442.7" cy="1376.1" r="6.75" fill="#804b4e"/>
<path d="M385.8,1386.2 L362.6,1389.1" fill="none" stroke="#7f2522" stroke-width="13.5" stroke-linecap="round" stroke-linejoin="round"/>
<path d="M401.2,1384.3 L385.8,1386.2" fill="none" stroke="#804b4e" stroke-width="13.5" stroke-linecap="butt" stroke-linejoin="round"/><circle cx="401.2" cy="1384.3" r="6.75" fill="#804b4e"/>
<path d="M401.2,1384.3 L417.9,1393.0" fill="none" stroke="#6e393c" stroke-width="13.5" stroke-linecap="round" stroke-linejoin="round"/>
<path d="M485.7,1391.9 L504.5,1387.3" fill="none" stroke="#7f2522" stroke-width="13.5" stroke-linecap="round" stroke-linejoin="round"/>
<path d="M470.3,1395.6 L485.7,1391.9" fill="none" stroke="#804b4e" stroke-width="13.5" stroke-linecap="butt" stroke-linejoin="round"/><circle cx="470.3" cy="1395.6" r="6.75" fill="#804b4e"/>
<path d="M473.1,1479.0 L475.2,1496.3" fill="none" stroke="#7f2522" stroke-width="13.5" stroke-linecap="round" stroke-linejoin="round"/>
<path d="M467.7,1434.7 L473.1,1479.0" fill="none" stroke="#804b4e" stroke-width="13.5" stroke-linecap="butt" stroke-linejoin="round"/><circle cx="467.7" cy="1434.7" r="6.75" fill="#804b4e"/>
<path d="M417.9,1393.0 L442.7,1376.1 L470.3,1395.6 L467.7,1434.7" fill="none" stroke="#804b4e" stroke-width="13.5" stroke-linecap="round" stroke-linejoin="round"/>
<path d="M426.4,1413.1 L434.8,1433.1 L451.2,1433.9" fill="none" stroke="#7f2522" stroke-width="13.5" stroke-linecap="round" stroke-linejoin="round"/>
<path d="M417.9,1393.0 L426.4,1413.1" fill="none" stroke="#804b4e" stroke-width="13.5" stroke-linecap="butt" stroke-linejoin="round"/>
<path d="M467.7,1434.7 L451.2,1433.9" fill="none" stroke="#804b4e" stroke-width="13.5" stroke-linecap="butt" stroke-linejoin="round"/>
<path d="M417.9,1393.0 L420.4,1391.3" fill="none" stroke="#804b4e" stroke-width="13.5" stroke-linecap="round" stroke-linejoin="round"/>
<path d="M438.1,1360.9 L432.5,1342.3" fill="none" stroke="#e8453f" stroke-width="11.8" stroke-linecap="round" stroke-linejoin="round"/>
<path d="M442.7,1376.1 L438.1,1360.9" fill="none" stroke="#e98a8f" stroke-width="11.8" stroke-linecap="butt" stroke-linejoin="round"/><circle cx="442.7" cy="1376.1" r="5.90" fill="#e98a8f"/>
<path d="M385.8,1386.2 L362.6,1389.1" fill="none" stroke="#e8453f" stroke-width="11.8" stroke-linecap="round" stroke-linejoin="round"/>
<path d="M401.2,1384.3 L385.8,1386.2" fill="none" stroke="#e98a8f" stroke-width="11.8" stroke-linecap="butt" stroke-linejoin="round"/><circle cx="401.2" cy="1384.3" r="5.90" fill="#e98a8f"/>
<path d="M401.2,1384.3 L417.9,1393.0" fill="none" stroke="#c9686e" stroke-width="11.8" stroke-linecap="round" stroke-linejoin="round"/>
<path d="M485.7,1391.9 L504.5,1387.3" fill="none" stroke="#e8453f" stroke-width="11.8" stroke-linecap="round" stroke-linejoin="round"/>
<path d="M470.3,1395.6 L485.7,1391.9" fill="none" stroke="#e98a8f" stroke-width="11.8" stroke-linecap="butt" stroke-linejoin="round"/><circle cx="470.3" cy="1395.6" r="5.90" fill="#e98a8f"/>
<path d="M473.1,1479.0 L475.2,1496.3" fill="none" stroke="#e8453f" stroke-width="11.8" stroke-linecap="round" stroke-linejoin="round"/>
<path d="M467.7,1434.7 L473.1,1479.0" fill="none" stroke="#e98a8f" stroke-width="11.8" stroke-linecap="butt" stroke-linejoin="round"/><circle cx="467.7" cy="1434.7" r="5.90" fill="#e98a8f"/>
<path d="M417.9,1393.0 L442.7,1376.1 L470.3,1395.6 L467.7,1434.7" fill="none" stroke="#e98a8f" stroke-width="11.8" stroke-linecap="round" stroke-linejoin="round"/>
<path d="M426.4,1413.1 L434.8,1433.1 L451.2,1433.9" fill="none" stroke="#e8453f" stroke-width="11.8" stroke-linecap="round" stroke-linejoin="round"/>
<path d="M417.9,1393.0 L426.4,1413.1" fill="none" stroke="#e98a8f" stroke-width="11.8" stroke-linecap="butt" stroke-linejoin="round"/>
<path d="M467.7,1434.7 L451.2,1433.9" fill="none" stroke="#e98a8f" stroke-width="11.8" stroke-linecap="butt" stroke-linejoin="round"/>
<path d="M417.9,1393.0 L420.4,1391.3" fill="none" stroke="#e98a8f" stroke-width="11.8" stroke-linecap="round" stroke-linejoin="round"/>
<path d="M416.7,1391.6 L441.5,1374.7 L469.1,1394.2" fill="none" stroke="#ffffff" stroke-width="3.0" stroke-linecap="round" stroke-linejoin="round" opacity="0.22"/>
<path d="M545.5,1322.8 L527.9,1321.2" fill="none" stroke="#7f2522" stroke-width="7.1" stroke-linecap="round" stroke-linejoin="round"/>
<path d="M546.4,1330.0 L526.9,1328.1" fill="none" stroke="#7f2522" stroke-width="7.1" stroke-linecap="round" stroke-linejoin="round"/>
<path d="M545.5,1322.8 L540.2,1322.3" fill="none" stroke="#80772e" stroke-width="7.1" stroke-linecap="butt" stroke-linejoin="round"/>
<path d="M546.4,1330.0 L540.6,1329.5" fill="none" stroke="#80772e" stroke-width="7.1" stroke-linecap="butt" stroke-linejoin="round"/>
<path d="M552.3,1341.8 L555.6,1358.4" fill="none" stroke="#25256b" stroke-width="14.0" stroke-linecap="round" stroke-linejoin="round"/>
<path d="M543.5,1276.7 L567.0,1294.3 L549.8,1327.1 L552.3,1341.8" fill="none" stroke="#80772e" stroke-width="14.0" stroke-linecap="butt" stroke-linejoin="round"/><circle cx="543.5" cy="1276.7" r="7.00" fill="#80772e"/>
<path d="M614.8,1398.0 L610.9,1373.2" fill="none" stroke="#7f2522" stroke-width="7.1" stroke-linecap="round" stroke-linejoin="round"/>
<path d="M620.7,1397.3 L616.8,1372.6" fill="none" stroke="#7f2522" stroke-width="7.1" stroke-linecap="round" stroke-linejoin="round"/>
<path d="M614.8,1398.0 L613.3,1388.1" fill="none" stroke="#80772e" stroke-width="7.1" stroke-linecap="butt" stroke-linejoin="round"/>
<path d="M620.7,1397.3 L619.1,1387.4" fill="none" stroke="#80772e" stroke-width="7.1" stroke-linecap="butt" stroke-linejoin="round"/>
<path d="M608.4,1411.9 L598.2,1425.1" fill="none" stroke="#25256b" stroke-width="14.0" stroke-linecap="round" stroke-linejoin="round"/>
<path d="M664.3,1401.2 L650.3,1420.1 L616.8,1401.2 L608.4,1411.9" fill="none" stroke="#80772e" stroke-width="14.0" stroke-linecap="butt" stroke-linejoin="round"/><circle cx="664.3" cy="1401.2" r="7.00" fill="#80772e"/>
<path d="M545.5,1322.8 L527.9,1321.2" fill="none" stroke="#e8453f" stroke-width="5.4" stroke-linecap="round" stroke-linejoin="round"/>
<path d="M546.4,1330.0 L526.9,1328.1" fill="none" stroke="#e8453f" stroke-width="5.4" stroke-linecap="round" stroke-linejoin="round"/>
<path d="M545.5,1322.8 L540.2,1322.3" fill="none" stroke="#ead955" stroke-width="5.4" stroke-linecap="butt" stroke-linejoin="round"/>
<path d="M546.4,1330.0 L540.6,1329.5" fill="none" stroke="#ead955" stroke-width="5.4" stroke-linecap="butt" stroke-linejoin="round"/>
<path d="M552.3,1341.8 L555.6,1358.4" fill="none" stroke="#4545c4" stroke-width="12.3" stroke-linecap="round" stroke-linejoin="round"/>
<path d="M543.5,1276.7 L567.0,1294.3 L549.8,1327.1 L552.3,1341.8" fill="none" stroke="#ead955" stroke-width="12.3" stroke-linecap="butt" stroke-linejoin="round"/><circle cx="543.5" cy="1276.7" r="6.15" fill="#ead955"/>
<path d="M542.3,1275.3 L565.8,1292.9 L548.6,1325.7" fill="none" stroke="#ffffff" stroke-width="3.0" stroke-linecap="round" stroke-linejoin="round" opacity="0.30"/>
<path d="M660.3,1397.2 L648.3,1414.1 L634.3,1407.2 Z" fill="#8f8230"/>
<path d="M614.8,1398.0 L610.9,1373.2" fill="none" stroke="#e8453f" stroke-width="5.4" stroke-linecap="round" stroke-linejoin="round"/>
<path d="M620.7,1397.3 L616.8,1372.6" fill="none" stroke="#e8453f" stroke-width="5.4" stroke-linecap="round" stroke-linejoin="round"/>
<path d="M614.8,1398.0 L613.3,1388.1" fill="none" stroke="#ead955" stroke-width="5.4" stroke-linecap="butt" stroke-linejoin="round"/>
<path d="M620.7,1397.3 L619.1,1387.4" fill="none" stroke="#ead955" stroke-width="5.4" stroke-linecap="butt" stroke-linejoin="round"/>
<path d="M608.4,1411.9 L598.2,1425.1" fill="none" stroke="#4545c4" stroke-width="12.3" stroke-linecap="round" stroke-linejoin="round"/>
<path d="M664.3,1401.2 L650.3,1420.1 L616.8,1401.2 L608.4,1411.9" fill="none" stroke="#ead955" stroke-width="12.3" stroke-linecap="butt" stroke-linejoin="round"/><circle cx="664.3" cy="1401.2" r="6.15" fill="#ead955"/>
<path d="M649.1,1418.7 L615.6,1399.8" fill="none" stroke="#ffffff" stroke-width="3.0" stroke-linecap="round" stroke-linejoin="round" opacity="0.30"/>
<path d="M332.9,1355.4 L361.2,1383.8" stroke="#0a0a0a" stroke-width="5.0" stroke-linecap="round" stroke-dasharray="2.2 13.8" fill="none"/>
<path d="M442.0,1342.3 L520.1,1325.4" stroke="#0a0a0a" stroke-width="5.0" stroke-linecap="round" stroke-dasharray="2.2 13.8" fill="none"/>
<path d="M508.4,1382.2 L549.4,1363.8" stroke="#0a0a0a" stroke-width="5.0" stroke-linecap="round" stroke-dasharray="2.2 13.8" fill="none"/>
<path d="M565.0,1360.3 L608.9,1370.5" stroke="#0a0a0a" stroke-width="5.0" stroke-linecap="round" stroke-dasharray="2.2 13.8" fill="none"/>
<path d="M424.7,1442.5 L389.9,1472.8" stroke="#0a0a0a" stroke-width="5.0" stroke-linecap="round" stroke-dasharray="2.2 13.8" fill="none"/>
<path d="M473.9,1506.0 L471.6,1556.1" stroke="#0a0a0a" stroke-width="5.0" stroke-linecap="round" stroke-dasharray="2.2 13.8" fill="none"/>
<text x="218.3" y="1384.1" class="rl" textLength="48.4" lengthAdjust="spacingAndGlyphs">N341</text>
<text x="507.1" y="1263.0" class="rl" textLength="48.4" lengthAdjust="spacingAndGlyphs">N311</text>
<text x="630.1" y="1444.6" class="rl" textLength="49.5" lengthAdjust="spacingAndGlyphs">Q306</text>
<text x="279.2" y="1485.0" class="rl" textLength="48.1" lengthAdjust="spacingAndGlyphs">A404</text>
<text x="259.3" y="1592.5" class="rl" textLength="49.4" lengthAdjust="spacingAndGlyphs">Q169</text>
<text x="598.9" y="1532.9" class="rl" textLength="48.4" lengthAdjust="spacingAndGlyphs">Q305</text>
<text x="463.1" y="1711.6" class="rl" textLength="53.4" lengthAdjust="spacingAndGlyphs">W412</text>
</g>
<rect x="170.5" y="1180.5" width="550.2" height="549.9" fill="none" stroke="#000" stroke-width="2.2"/>
<g clip-path="url(#cp2)"><g transform="translate(610.0,-4.3)">
<path d="M540.8,1191.1L573.0,1188.2C573.8,1193.6 574.2,1198.9 574.0,1204.3C573.5,1209.4 572.2,1214.3 570.1,1218.9L562.8,1226.8C558.4,1222.9 554.9,1218.5 552.5,1214.1C548.6,1207.7 544.7,1199.4 540.8,1191.1Z" fill="#c7c5c5" stroke="#484848" stroke-width="1.35" stroke-linejoin="round"/>
<path d="M596.4,1233.6L634.5,1242.4L636.5,1243.4C635.0,1248.7 633.1,1253.9 630.6,1259.0C626.9,1265.6 623.0,1272.2 618.9,1278.5L575.9,1270.7C583.8,1259.0 591.6,1247.3 596.4,1233.6Z" fill="#cbc9c9" stroke="#484848" stroke-width="1.35" stroke-linejoin="round"/>
<path d="M587.7,1199.4L634.5,1241.4L636.5,1243.4L634.5,1242.4L596.4,1233.6L595.5,1216.0Z" fill="#d2d0d0" stroke="#484848" stroke-width="1.35" stroke-linejoin="round"/>
<path d="M537.7,1189.6L548.1,1187.4L548.1,1202.3Z" fill="#c7c5c5" stroke="#484848" stroke-width="1.35" stroke-linejoin="round"/>
<path d="M477.1,1290.0C473.2,1295.9 470.8,1300.7 469.3,1304.6C466.9,1310.5 465.9,1316.4 465.9,1322.2C465.9,1326.6 466.4,1330.5 467.3,1333.9C468.8,1338.3 470.8,1342.2 473.2,1345.7C476.1,1350.5 480.0,1354.5 483.9,1358.4C488.8,1362.8 493.7,1366.7 498.6,1370.1C502.0,1372.0 505.2,1373.7 508.4,1375.0C514.7,1373.8 521.1,1372.3 527.9,1371.1C537.7,1369.6 547.4,1368.3 557.2,1367.1C567.0,1366.0 575.7,1364.7 584.5,1363.2L576.7,1360.3C567.0,1357.4 557.2,1354.0 547.4,1350.5C540.6,1349.1 534.2,1347.8 527.9,1346.6C520.1,1344.5 512.8,1342.0 506.4,1338.8C501.5,1335.9 497.6,1332.8 494.7,1329.1C491.8,1324.7 489.8,1319.8 488.8,1314.4C487.9,1310.0 487.4,1306.1 486.9,1302.7L493.7,1290.0Z" fill="#d6d4d4" stroke="#484848" stroke-width="1.35" stroke-linejoin="round"/>
<path d="M508.4,1375.0C514.7,1373.8 521.1,1372.3 527.9,1371.1C537.7,1369.6 547.4,1368.3 557.2,1367.1C567.0,1366.0 575.7,1364.7 584.5,1363.2C586.0,1368.1 586.7,1373.0 586.5,1377.9C586.3,1382.8 585.7,1387.7 584.5,1392.5C583.4,1396.9 581.8,1400.8 579.6,1404.3C571.8,1404.5 564.5,1404.7 557.2,1405.2C547.4,1406.2 537.7,1407.5 527.9,1409.1C518.1,1410.6 508.4,1412.1 498.6,1414.0C490.3,1415.8 482.0,1417.7 474.2,1419.9C467.3,1422.0 460.5,1424.3 453.7,1426.7C454.2,1420.9 455.1,1416.0 456.6,1412.1C458.6,1408.2 461.0,1405.0 464.4,1402.3C469.3,1398.4 474.2,1394.5 479.1,1391.6C488.8,1385.2 498.6,1379.8 508.4,1375.0Z" fill="#cbc9c9" stroke="#484848" stroke-width="1.35" stroke-linejoin="round"/>
<path d="M558.4,1234.6C548.6,1235.1 538.8,1236.3 529.1,1238.5C520.8,1240.6 512.5,1243.8 504.6,1248.2C499.8,1252.6 494.9,1257.5 490.0,1262.9C485.6,1268.8 482.0,1275.4 479.1,1282.2C476.3,1289.3 474.6,1296.9 474.0,1304.7C473.9,1308.3 474.4,1311.7 475.4,1314.5C478.3,1309.8 480.7,1304.9 483.9,1299.8C485.9,1298.0 488.0,1296.6 490.0,1295.1L499.8,1287.3C504.6,1282.4 509.5,1277.5 514.4,1272.7C519.8,1268.3 525.2,1263.9 531.0,1260.0C536.9,1257.8 542.7,1255.6 548.6,1253.1L562.3,1233.6Z" fill="#d3d1d1" stroke="#484848" stroke-width="1.35" stroke-linejoin="round"/>
<path d="M434.8,1193.2L438.8,1186.7L444.0,1181.5L578.7,1181.5L578.1,1182.8C576.8,1186.7 575.5,1189.3 574.2,1191.3C559.8,1192.2 545.5,1193.5 530.5,1195.2C524.7,1196.5 519.5,1198.2 514.3,1199.7C505.2,1203.0 496.7,1205.2 488.2,1207.6C481.7,1209.1 475.9,1210.8 470.0,1212.8L459.6,1218.0L460.2,1223.8L454.4,1225.8L447.9,1218.0L441.4,1208.9L436.1,1199.7Z" fill="#f6f2c8" stroke="#66623f" stroke-width="1.35" stroke-linejoin="round"/>
<path d="M444.0,1205.2L447.9,1201.7C457.0,1199.1 466.1,1195.6 475.2,1192.2C483.0,1188.7 489.5,1185.2 496.0,1181.5L513.0,1181.5C501.2,1189.3 489.5,1194.5 477.8,1199.7C470.0,1204.3 463.5,1208.6 457.0,1212.8Z" fill="#e2dec2" stroke="#66623f" stroke-width="0.90" stroke-linejoin="round"/>
<path d="M436.1,1192.6C440.1,1195.8 444.0,1199.1 447.9,1201.7" fill="none" stroke="#66623f" stroke-width="0.90" stroke-linejoin="round" stroke-linecap="round" />
<path d="M447.9,1218.0C450.5,1219.3 453.1,1219.9 455.0,1219.3L457.0,1213.0" fill="none" stroke="#66623f" stroke-width="0.90" stroke-linejoin="round" stroke-linecap="round" />
<path d="M571.1,1187.7L577.9,1181.1C581.8,1187.7 585.2,1193.6 587.7,1199.4C591.6,1205.3 594.5,1210.6 595.5,1216.0C596.9,1221.9 597.2,1227.7 596.4,1233.6C594.5,1240.4 591.6,1247.3 587.7,1253.1C583.8,1259.5 579.8,1265.3 575.9,1270.7C573.0,1274.6 570.6,1278.5 568.1,1282.4C563.2,1290.2 558.4,1298.0 553.5,1305.9C548.6,1311.7 543.7,1316.6 537.8,1320.8L507.8,1311.7L498.6,1300.0C502.7,1296.1 506.1,1291.7 509.5,1287.3C516.4,1282.4 523.2,1277.5 529.1,1272.7C535.9,1266.3 542.7,1259.8 548.6,1253.1C553.5,1246.8 558.4,1240.2 562.3,1233.6C565.2,1228.7 568.1,1223.8 570.1,1218.9C572.5,1214.1 573.8,1209.2 574.0,1204.3C573.8,1198.4 572.8,1193.1 571.1,1187.7Z" fill="url(#yg1)" stroke="#66623f" stroke-width="1.35" stroke-linejoin="round"/>
<path d="M453.7,1426.7C459.6,1427.9 467.4,1429.5 475.2,1430.5C473.3,1438.3 472.6,1446.1 473.3,1452.7C473.9,1459.2 479.1,1465.7 488.2,1472.2C496.7,1477.4 505.2,1481.6 514.3,1485.2C524.7,1488.5 535.1,1490.4 545.0,1491.7C549.4,1494.3 552.7,1496.7 554.9,1498.2L569.2,1498.9C570.3,1500.8 570.5,1502.8 570.5,1504.7C570.5,1511.2 570.0,1517.8 569.2,1524.3C568.3,1528.8 567.0,1533.4 565.3,1537.3C552.0,1541.2 538.4,1544.5 524.9,1547.7C513.0,1550.3 500.6,1552.9 488.2,1555.0L481.7,1558.1C481.1,1549.0 479.8,1543.2 477.8,1537.3C475.9,1532.7 473.3,1528.2 470.0,1524.3L496.0,1513.2C489.5,1509.7 481.7,1506.0 475.2,1502.1C470.0,1498.2 465.4,1493.7 462.2,1489.1C458.3,1483.9 455.0,1478.0 453.1,1472.2C451.8,1467.6 451.1,1463.7 451.1,1459.2C451.1,1451.4 451.8,1443.5 453.1,1435.7Z" fill="#c7c5c5" stroke="#484848" stroke-width="1.35" stroke-linejoin="round"/>
<path d="M496.0,1513.2C513.0,1510.6 528.6,1508.4 545.0,1506.0C553.3,1504.1 561.1,1501.5 569.2,1498.9" fill="none" stroke="#484848" stroke-width="1.35" stroke-linejoin="round" stroke-linecap="round" />
<path d="M481.7,1526.8L545.0,1524.2L566.4,1521.6L566.4,1539.8L545.0,1543.7L501.2,1551.5L483.0,1558.0Z" fill="#c7c5c5" stroke="none"/>
<path d="M566.4,1539.8L545.0,1543.7L501.2,1551.5L483.0,1558.0" fill="none" stroke="#484848" stroke-width="1.35" stroke-linejoin="round" stroke-linecap="round" />
<path d="M442.7,1554.1L467.4,1558.0L477.8,1586.7L462.2,1615.3L455.7,1610.1L438.8,1594.5L441.4,1571.1Z" fill="#c7c5c5" stroke="#484848" stroke-width="1.35" stroke-linejoin="round"/>
<path d="M425.7,1659.6L442.7,1649.2L449.2,1662.2Z" fill="#c7c5c5" stroke="#484848" stroke-width="1.35" stroke-linejoin="round"/>
<path d="M462.2,1615.3C472.6,1612.7 484.3,1610.8 494.7,1610.1L520.8,1633.6L538.0,1632.3L552.3,1637.5L551.0,1655.7L541.9,1676.5L520.8,1672.6L507.8,1644.0L475.2,1640.1L464.8,1628.4Z" fill="#c7c5c5" stroke="#484848" stroke-width="1.35" stroke-linejoin="round"/>
<path d="M507.8,1644.0L545.0,1636.2" fill="none" stroke="#484848" stroke-width="1.35" stroke-linejoin="round" stroke-linecap="round" />
<path d="M407.5,1709.1L412.7,1688.2L425.7,1696.1L417.9,1714.3L423.1,1729.3L412.7,1729.3Z" fill="#c7c5c5" stroke="#484848" stroke-width="1.35" stroke-linejoin="round"/>
<path d="M517.2,1526.8L568.0,1528.1L565.4,1538.5L551.0,1542.4L525.0,1546.3L517.2,1547.0Z" fill="#c7c5c5" stroke="#484848" stroke-width="1.35" stroke-linejoin="round"/>
<path d="M601.7,1393.4L618.3,1360.2L636.9,1367.0C651.5,1366.8 667.1,1366.2 681.8,1366.0L687.7,1373.8L704.3,1402.1L668.1,1412.9C661.3,1418.3 654.9,1424.1 648.6,1430.5C641.8,1437.3 635.1,1444.6 629.1,1452.0C624.2,1459.3 619.5,1467.1 615.4,1475.0L604.6,1475.0C602.9,1470.5 601.5,1466.1 600.7,1461.7C600.0,1456.8 599.8,1452.0 599.8,1447.1C601.7,1440.2 604.5,1433.9 607.6,1427.5C610.5,1421.2 614.4,1412.9 619.3,1403.1Z" fill="url(#yg2)" stroke="#66623f" stroke-width="1.35" stroke-linejoin="round"/>
<path d="M627.1,1397.3C633.9,1390.4 640.8,1384.8 648.6,1379.7C658.4,1374.3 669.6,1370.4 681.8,1368.0" fill="none" stroke="#66623f" stroke-width="0.90" stroke-linejoin="round" stroke-linecap="round" />
<path d="M604.6,1474.0L615.4,1474.0L614.4,1482.8C619.3,1485.3 624.2,1487.7 629.1,1489.6C635.9,1491.8 643.2,1493.6 650.5,1495.0L658.4,1512.1L668.1,1525.8L677.9,1533.6L675.9,1532.6C667.1,1532.1 657.9,1531.2 648.6,1529.7C642.2,1528.2 636.4,1526.3 631.0,1523.8C626.6,1520.4 622.7,1516.5 619.3,1512.1C616.9,1508.2 614.9,1503.8 613.4,1499.4C611.0,1494.5 608.6,1489.6 606.6,1484.8Z" fill="#f6f2c8" stroke="#66623f" stroke-width="1.35" stroke-linejoin="round"/>
<path d="M720.9,1567.8L720.9,1585.4L695.5,1597.1C699.2,1592.2 703.1,1587.3 707.2,1582.4C711.6,1577.5 716.0,1572.7 720.9,1567.8Z" fill="#c7c5c5" stroke="#484848" stroke-width="1.35" stroke-linejoin="round"/>
<path d="M694.5,1596.2C698.9,1599.1 703.1,1601.8 707.2,1604.5C711.6,1606.6 716.2,1608.8 720.9,1610.8L720.9,1628.9L677.9,1629.9C679.4,1624.5 681.0,1619.3 682.8,1614.2C686.2,1608.4 689.8,1602.5 693.5,1596.6Z" fill="#c7c5c5" stroke="#484848" stroke-width="1.35" stroke-linejoin="round"/>
<path d="M705.2,1581.0L720.9,1581.0L720.9,1585.9L694.5,1596.2Z" fill="#c7c5c5" stroke="#484848" stroke-width="1.35" stroke-linejoin="round"/>
<path d="M689.6,1541.9L720.9,1553.1L720.9,1567.8C716.0,1572.7 711.6,1577.5 707.2,1582.4C703.1,1587.3 699.2,1592.2 695.5,1597.1C691.6,1602.9 687.7,1608.8 682.8,1614.3C680.3,1618.4 677.9,1622.3 675.9,1626.0L674.0,1629.9C668.6,1627.3 663.2,1624.2 658.4,1621.1C655.2,1618.6 652.3,1615.6 649.6,1612.8C653.5,1606.3 657.4,1599.5 660.3,1592.2C662.8,1585.8 664.7,1579.3 666.2,1572.7C668.1,1567.6 670.6,1562.7 673.0,1558.0C678.4,1552.3 683.8,1547.1 689.6,1541.9Z" fill="url(#yg3)" stroke="#66623f" stroke-width="1.35" stroke-linejoin="round"/>
<path d="M677.9,1630.0L720.9,1629.4L720.9,1649.4C716.0,1647.6 711.6,1645.7 707.2,1643.5C700.4,1640.6 694.0,1637.7 687.7,1634.7C684.2,1633.3 681.0,1631.6 677.9,1630.0Z" fill="#f6f2c8" stroke="#66623f" stroke-width="1.35" stroke-linejoin="round"/>
<path d="M687.7,1180.9L720.9,1180.9L720.9,1274.6C717.7,1272.7 714.8,1270.7 712.1,1268.8C707.2,1264.6 703.1,1260.4 699.4,1256.1C696.9,1252.6 695.0,1249.0 693.5,1245.3C692.1,1242.2 691.2,1239.0 690.6,1235.5C689.6,1230.2 689.0,1224.6 688.6,1218.9C687.7,1212.6 687.0,1206.1 686.7,1199.4C686.7,1193.1 687.1,1186.9 687.7,1180.9Z" fill="#cdcbcb" stroke="#484848" stroke-width="1.35" stroke-linejoin="round"/>
<path d="M707.2,1223.8L720.9,1227.7L720.9,1233.6L713.0,1229.7Z" fill="#fff" stroke="#484848" stroke-width="1.35" stroke-linejoin="round"/>
<path d="M720.9,1184.8C717.0,1186.2 713.8,1187.9 711.1,1189.6C707.7,1192.6 704.7,1195.9 702.3,1199.4C700.4,1203.1 698.7,1207.0 697.4,1211.1C696.0,1214.3 694.7,1217.5 693.5,1220.9" fill="none" stroke="#484848" stroke-width="1.35" stroke-linejoin="round" stroke-linecap="round" />
<path d="M697.4,1211.1C699.9,1215.0 702.5,1218.6 705.2,1221.9C710.1,1226.3 715.3,1230.2 720.9,1233.6" fill="none" stroke="#484848" stroke-width="1.35" stroke-linejoin="round" stroke-linecap="round" />
<path d="M720.9,1281.9C712.1,1284.5 704.3,1286.9 697.4,1289.3C691.6,1292.3 686.7,1294.7 683.8,1297.1C681.8,1300.6 680.6,1303.5 679.8,1306.8C678.9,1312.3 678.2,1317.2 677.9,1321.5L677.9,1325.0C678.1,1328.4 678.4,1331.6 678.9,1334.8C679.8,1339.6 681.3,1344.5 682.8,1349.4C683.3,1354.3 683.6,1359.2 683.8,1364.1C684.7,1368.0 686.2,1370.9 687.7,1373.8C690.6,1378.7 694.0,1383.6 697.4,1388.5C700.4,1391.9 703.8,1395.3 707.2,1398.2C711.6,1401.2 716.0,1403.6 720.9,1406.1Z" fill="#cdcbcb" stroke="#484848" stroke-width="1.35" stroke-linejoin="round"/>
<path d="M720.9,1287.3C714.0,1290.6 708.0,1294.2 702.3,1298.0C698.6,1302.3 695.3,1306.9 692.5,1311.7C690.8,1316.0 689.6,1320.5 688.6,1325.0C689.6,1328.4 691.0,1331.6 692.5,1334.8C694.0,1338.2 695.7,1341.4 697.4,1344.5C700.4,1348.2 703.7,1351.4 707.2,1354.3C711.6,1356.4 716.2,1358.0 720.9,1359.2" fill="none" stroke="#484848" stroke-width="1.35" stroke-linejoin="round" stroke-linecap="round" />
<path d="M720.9,1320.5L712.1,1325.0C707.2,1327.4 702.3,1329.9 697.4,1331.8C691.8,1334.0 686.2,1335.5 680.8,1336.7" fill="none" stroke="#484848" stroke-width="1.35" stroke-linejoin="round" stroke-linecap="round" />
<path d="M720.9,1445.1C713.0,1446.1 705.2,1447.3 697.4,1449.0C690.8,1451.2 684.2,1453.7 677.9,1456.8C675.0,1459.8 672.2,1462.9 670.1,1466.6C668.6,1469.3 667.6,1472.1 667.1,1475.0L671.1,1475.0C673.2,1477.8 675.4,1480.5 677.9,1482.8C681.0,1486.3 684.2,1489.6 687.7,1492.6L691.6,1495.5L720.9,1495.0Z" fill="#b1afaf" stroke="#484848" stroke-width="1.35" stroke-linejoin="round"/>
<path d="M720.9,1445.1C713.0,1446.1 705.2,1447.3 697.4,1449.0C690.8,1451.2 684.2,1453.7 677.9,1456.8C675.0,1459.8 672.2,1462.9 670.1,1466.6L673.0,1471.5C677.9,1467.8 682.8,1464.6 687.7,1461.7C698.4,1458.6 709.6,1456.1 720.9,1453.9Z" fill="#c3c1c1" stroke="#484848" stroke-width="1.35" stroke-linejoin="round"/>
<path d="M667.6,1461.7L671.2,1460.9L670.7,1471.5L667.6,1475.0Z" fill="#fff" stroke="#484848" stroke-width="0.90" stroke-linejoin="round"/>
<path d="M702.3,1459.8L720.9,1454.9L720.9,1466.6Z" fill="#fff" stroke="#484848" stroke-width="0.90" stroke-linejoin="round"/>
<path d="M691.6,1495.8L720.9,1495.0L720.9,1511.1C717.9,1510.0 715.0,1508.7 712.1,1507.2C707.2,1505.1 702.3,1502.8 697.4,1500.4Z" fill="#f6f2c8" stroke="#66623f" stroke-width="1.35" stroke-linejoin="round"/>
<path d="M720.9,1408.0C709.1,1409.0 697.9,1410.7 687.7,1412.9C680.3,1416.8 674.0,1421.9 668.1,1427.5C664.2,1432.2 661.1,1437.1 658.4,1442.2C655.6,1448.5 653.7,1454.9 652.5,1461.7C651.5,1466.4 650.9,1470.7 650.5,1475.0C650.7,1479.3 650.5,1482.2 650.5,1484.8C650.7,1488.3 651.5,1491.5 652.5,1494.5C654.0,1500.8 656.0,1506.6 658.4,1512.1C661.3,1517.2 664.7,1521.7 668.1,1525.8C671.2,1528.9 674.6,1531.4 677.9,1533.6C681.8,1536.5 685.7,1539.1 689.6,1541.4C695.5,1544.2 701.3,1546.9 707.2,1549.2C711.9,1550.8 716.5,1552.1 720.9,1553.1L720.9,1511.1C717.9,1510.1 715.0,1508.8 712.1,1507.2C707.0,1505.2 702.1,1502.9 697.4,1500.4C694.0,1498.0 690.8,1495.4 687.7,1492.6C684.2,1489.6 681.0,1486.3 677.9,1482.8C675.4,1480.5 673.2,1477.8 671.1,1475.0L667.1,1475.0C667.6,1472.1 668.6,1469.3 670.1,1466.6C672.2,1462.9 675.0,1459.8 677.9,1456.8C684.2,1453.7 690.8,1451.2 697.4,1449.0C705.2,1447.3 713.0,1446.1 720.9,1445.1Z" fill="url(#gg1)" stroke="#484848" stroke-width="1.35" stroke-linejoin="round"/>
<path d="M663.2,1564.8C659.8,1565.8 656.4,1567.3 653.5,1568.8C649.6,1572.2 645.9,1576.1 642.7,1580.5C640.8,1585.8 639.4,1591.2 638.6,1597.1C638.0,1602.0 637.7,1606.8 637.7,1611.7C637.7,1614.8 637.8,1618.1 637.9,1621.1C638.2,1626.4 638.8,1631.7 639.8,1636.7C641.2,1641.0 642.7,1644.9 644.7,1648.4C647.4,1652.0 650.4,1655.2 653.5,1658.2C658.2,1661.7 663.0,1664.9 668.1,1668.0C674.5,1671.5 681.0,1674.7 687.7,1677.7C693.1,1680.5 698.6,1683.0 704.3,1685.5C709.7,1687.7 715.2,1689.6 720.9,1691.4L720.9,1649.4C716.2,1647.7 711.6,1645.7 707.2,1643.6C700.5,1640.8 694.0,1637.9 687.7,1634.8C682.6,1633.0 677.7,1631.1 673.0,1628.9C667.9,1626.6 663.0,1623.9 658.4,1621.1C655.2,1618.6 652.3,1615.7 649.6,1612.8C648.8,1609.3 648.6,1605.7 648.6,1602.0C649.0,1597.1 649.6,1592.2 650.5,1587.3C652.1,1582.2 654.1,1577.3 656.4,1572.7C658.4,1569.7 660.7,1567.3 663.2,1564.8Z" fill="#d3d1d1" stroke="#484848" stroke-width="1.35" stroke-linejoin="round"/>
<path d="M663.2,1564.8L665.2,1567.8C664.4,1572.7 663.4,1577.5 662.3,1582.4C661.1,1587.3 659.8,1592.2 658.4,1597.1C655.6,1602.4 652.7,1607.6 649.6,1612.8C648.8,1609.3 648.6,1605.7 648.6,1602.0C649.0,1597.1 649.6,1592.2 650.5,1587.3C652.1,1582.2 654.1,1577.3 656.4,1572.7C658.4,1569.7 660.7,1567.3 663.2,1564.8Z" fill="#b1afaf" stroke="#484848" stroke-width="1.35" stroke-linejoin="round"/>
<path d="M645.7,1616.2C644.2,1620.1 642.9,1624.0 641.8,1627.9" fill="none" stroke="#484848" stroke-width="1.35" stroke-linejoin="round" stroke-linecap="round" />
<path d="M704.3,1686.0L720.9,1691.9L720.9,1730.4L667.1,1730.4C666.4,1726.5 666.2,1722.6 666.2,1718.7C666.7,1715.3 667.3,1712.1 668.1,1709.0C669.6,1706.5 671.2,1704.3 673.0,1702.1C676.1,1700.0 679.4,1698.0 682.8,1696.3C689.6,1692.8 696.9,1689.4 704.3,1686.0Z" fill="#cbc9c9" stroke="#484848" stroke-width="1.35" stroke-linejoin="round"/>
<path d="M704.3,1729.5C709.9,1727.3 715.5,1725.1 720.9,1722.6" fill="none" stroke="#484848" stroke-width="1.35" stroke-linejoin="round" stroke-linecap="round" />
<path d="M570.6,1292.8C575.8,1290.9 580.3,1289.6 584.9,1288.9C589.5,1288.3 594.0,1288.0 598.6,1288.5C602.5,1289.6 605.5,1291.1 607.7,1293.5C610.3,1297.4 612.0,1301.3 612.5,1305.2C613.3,1307.8 613.5,1309.8 613.5,1311.7C612.9,1316.3 611.8,1320.6 610.3,1324.7C608.6,1329.7 606.8,1334.5 605.1,1339.1C603.8,1343.0 602.9,1346.9 602.5,1350.8C602.5,1354.7 602.9,1357.9 603.8,1361.2C605.1,1365.1 607.3,1368.4 609.6,1371.0L614.8,1376.2" fill="none" stroke="#66623f" stroke-width="11.70" stroke-linecap="butt" stroke-linejoin="round"/>
<path d="M570.6,1292.8C575.8,1290.9 580.3,1289.6 584.9,1288.9C589.5,1288.3 594.0,1288.0 598.6,1288.5C602.5,1289.6 605.5,1291.1 607.7,1293.5C610.3,1297.4 612.0,1301.3 612.5,1305.2C613.3,1307.8 613.5,1309.8 613.5,1311.7C612.9,1316.3 611.8,1320.6 610.3,1324.7C608.6,1329.7 606.8,1334.5 605.1,1339.1C603.8,1343.0 602.9,1346.9 602.5,1350.8C602.5,1354.7 602.9,1357.9 603.8,1361.2C605.1,1365.1 607.3,1368.4 609.6,1371.0L614.8,1376.2" fill="none" stroke="#f6f2c8" stroke-width="9.00" stroke-linecap="butt" stroke-linejoin="round"/>
<path d="M171.5,1181.5L190.1,1181.5L187.8,1187.0C183.2,1191.9 178.7,1198.4 175.8,1203.4L171.5,1201.7Z" fill="#c7c5c5" stroke="#484848" stroke-width="1.35" stroke-linejoin="round"/>
<path d="M187.8,1187.0C191.0,1198.4 191.0,1214.1 187.4,1228.4C185.8,1234.2 181.9,1239.5 171.5,1243.4L171.5,1209.1L175.8,1203.4C178.7,1198.4 183.2,1191.9 187.8,1187.0Z" fill="#b1afaf" stroke="#484848" stroke-width="1.35" stroke-linejoin="round"/>
<path d="M217.7,1181.5L233.4,1181.5C243.1,1188.0 249.0,1195.8 250.9,1203.0C248.3,1211.5 240.5,1218.0 228.8,1223.2L211.2,1212.8C216.0,1203.0 218.6,1191.9 217.7,1181.5Z" fill="#c7c5c5" stroke="#484848" stroke-width="1.35" stroke-linejoin="round"/>
<path d="M250.9,1203.0C254.8,1210.2 256.4,1219.3 256.1,1231.0C255.9,1245.3 250.3,1256.4 237.3,1261.6C223.6,1255.7 197.6,1252.1 177.4,1251.3L171.5,1251.2C178.0,1247.3 184.5,1242.7 191.0,1237.5C208.0,1232.3 219.7,1228.4 228.8,1223.2C240.5,1218.0 248.3,1211.5 250.9,1203.0Z" fill="#d3d1d1" stroke="#484848" stroke-width="1.35" stroke-linejoin="round"/>
<path d="M171.5,1295.4C188.4,1302.6 206.7,1310.4 223.6,1318.9C213.2,1329.3 202.8,1339.1 191.0,1348.2C184.5,1352.7 178.0,1356.6 171.5,1359.9Z" fill="#c7c5c5" stroke="#484848" stroke-width="1.35" stroke-linejoin="round"/>
<path d="M238.2,1359.2L247.0,1362.2L246.0,1382.9L213.8,1380.3C222.3,1373.6 230.1,1366.4 238.2,1359.2Z" fill="#c7c5c5" stroke="#484848" stroke-width="1.35" stroke-linejoin="round"/>
<path d="M171.5,1427.9C184.5,1434.1 197.6,1443.2 208.0,1453.6C213.2,1458.9 218.4,1464.7 222.3,1470.2C213.2,1474.5 204.1,1479.0 194.9,1483.9L171.5,1472.5Z" fill="#c7c5c5" stroke="#484848" stroke-width="1.35" stroke-linejoin="round"/>
<path d="M214.5,1519.0L230.1,1512.5L230.1,1519.7Z" fill="#c7c5c5" stroke="#484848" stroke-width="1.35" stroke-linejoin="round"/>
<path d="M171.5,1526.6L176.1,1524.0C178.0,1531.8 181.9,1539.6 185.8,1545.1C191.0,1550.0 197.6,1554.6 204.1,1557.4C198.9,1561.1 194.9,1563.0 191.0,1564.6C184.5,1566.9 178.0,1569.5 171.5,1572.4Z" fill="#c7c5c5" stroke="#484848" stroke-width="1.35" stroke-linejoin="round"/>
<path d="M171.5,1597.1C185.8,1602.1 200.2,1606.6 213.2,1611.5C219.7,1614.5 226.2,1617.7 232.7,1621.9L198.9,1633.6L198.9,1646.6C189.7,1644.4 180.6,1641.8 171.5,1638.8Z" fill="#c7c5c5" stroke="#484848" stroke-width="1.35" stroke-linejoin="round"/>
<path d="M208.0,1670.7L226.2,1664.8L243.1,1670.0L243.1,1679.1C241.8,1683.0 240.5,1685.6 237.9,1688.2C231.4,1694.8 223.6,1700.0 217.1,1705.2C209.3,1713.0 201.5,1722.1 194.9,1731.2L171.5,1731.2L171.5,1694.8C184.5,1685.6 197.6,1676.5 208.0,1670.7Z" fill="#d3d1d1" stroke="#484848" stroke-width="1.35" stroke-linejoin="round"/>
<path d="M198.9,1729.7C210.6,1727.3 256.1,1727.3 269.2,1729.7L269.2,1732.5L198.9,1732.5Z" fill="#b1afaf" stroke="#484848" stroke-width="1.35" stroke-linejoin="round"/>
<path d="M316.0,1255.7C321.2,1260.9 327.8,1266.1 334.3,1271.4C338.2,1274.0 342.1,1275.9 344.9,1277.9C351.2,1281.1 357.7,1285.0 364.5,1288.3C372.0,1292.2 379.8,1295.4 386.6,1298.0L364.5,1300.0L339.5,1314.3C335.6,1311.1 331.7,1307.8 327.8,1305.2C321.2,1301.3 316.0,1296.7 312.1,1292.2C309.5,1285.7 307.6,1277.9 306.3,1268.8L306.3,1253.1L311.5,1266.1Z" fill="#c8f4f1" stroke="#3c6866" stroke-width="1.35" stroke-linejoin="round"/>
<path d="M305.6,1378.4C310.8,1384.6 316.0,1389.8 321.2,1395.1C329.1,1399.6 336.9,1402.9 344.9,1405.7C351.2,1408.3 358.4,1411.3 365.0,1413.9C371.4,1416.1 377.9,1418.2 384.0,1420.1C395.5,1423.0 407.2,1425.7 417.9,1427.9L428.3,1439.6L334.3,1440.9C327.8,1435.4 321.2,1428.9 314.7,1422.7C309.5,1415.9 305.0,1408.1 301.7,1397.9L301.7,1370.3Z" fill="#c8f4f1" stroke="#3c6866" stroke-width="1.35" stroke-linejoin="round"/>
<path d="M328.4,1181.5L342.1,1192.6C352.5,1189.3 362.9,1185.4 371.0,1182.8L373.3,1181.5Z" fill="#c8f4f1" stroke="#3c6866" stroke-width="1.35" stroke-linejoin="round"/>
<path d="M342.1,1192.6C352.5,1189.3 362.9,1185.4 371.0,1182.8L373.3,1181.5L429.6,1181.5C431.3,1190.6 431.3,1201.0 430.0,1210.2C429.3,1214.1 428.0,1216.7 426.3,1218.0C418.9,1218.2 409.8,1217.3 399.6,1214.1C391.6,1214.7 383.8,1216.7 377.5,1219.3C368.1,1222.5 357.7,1226.4 347.3,1229.7C339.5,1232.9 333.0,1236.8 327.8,1240.1C322.6,1244.7 318.6,1250.5 316.0,1255.7L311.5,1266.1L306.3,1253.1C306.9,1237.5 309.5,1224.5 314.7,1216.7C321.2,1208.9 334.3,1197.1 342.1,1192.6Z" fill="#c8f4f1" stroke="#3c6866" stroke-width="1.35" stroke-linejoin="round"/>
<path d="M399.6,1214.1C407.2,1213.5 415.0,1213.3 417.9,1213.4C421.5,1214.1 424.8,1216.4 426.3,1218.0" fill="none" stroke="#3c6866" stroke-width="0.90" stroke-linejoin="round" stroke-linecap="round" />
<path d="M339.5,1314.3C347.3,1310.4 356.4,1303.9 364.5,1300.0C372.0,1298.7 379.8,1297.7 387.9,1297.4C400.7,1297.1 413.7,1297.4 425.7,1298.0L429.6,1301.3C430.6,1306.5 431.0,1312.4 430.9,1318.2C430.6,1323.4 430.2,1327.3 429.6,1331.2C428.9,1333.9 428.0,1336.1 427.0,1337.8C421.5,1338.0 415.7,1338.0 410.1,1337.8C402.6,1337.1 395.5,1336.5 387.9,1336.5C379.8,1337.8 372.0,1339.3 364.5,1341.7C357.7,1344.0 351.2,1346.6 344.9,1349.5C339.5,1352.7 333.0,1356.6 327.8,1359.9C321.9,1363.8 316.7,1367.7 312.1,1370.3C309.5,1373.6 307.6,1376.2 305.6,1378.4L301.7,1370.3C302.0,1362.5 302.4,1355.3 303.0,1348.2C305.6,1343.0 309.5,1336.5 314.7,1331.2C321.2,1324.7 330.4,1318.9 339.5,1314.3Z" fill="#c8f4f1" stroke="#3c6866" stroke-width="1.35" stroke-linejoin="round"/>
<path d="M387.9,1336.5C395.5,1335.8 405.9,1335.4 412.4,1335.8C418.9,1336.2 424.1,1337.1 427.0,1337.8" fill="none" stroke="#3c6866" stroke-width="0.90" stroke-linejoin="round" stroke-linecap="round" />
<path d="M338.2,1468.0C326.5,1473.2 317.3,1477.1 311.5,1481.9C305.6,1487.5 302.4,1493.4 301.1,1499.5C299.8,1505.7 299.4,1511.6 300.0,1517.7C301.1,1524.6 303.0,1530.5 306.3,1535.9C310.2,1542.2 314.7,1548.0 319.3,1553.3C321.2,1556.5 322.6,1559.8 323.9,1563.0C330.4,1569.5 338.2,1573.4 347.3,1576.0C353.8,1577.6 359.7,1578.9 365.0,1579.9C373.3,1581.9 381.1,1584.1 389.2,1586.1C400.7,1588.0 411.7,1588.4 423.1,1588.0C431.9,1587.5 440.4,1586.5 447.8,1584.8" fill="none" stroke="#3c6866" stroke-width="11.30" stroke-linecap="butt" stroke-linejoin="round"/>
<path d="M338.2,1468.0C326.5,1473.2 317.3,1477.1 311.5,1481.9C305.6,1487.5 302.4,1493.4 301.1,1499.5C299.8,1505.7 299.4,1511.6 300.0,1517.7C301.1,1524.6 303.0,1530.5 306.3,1535.9C310.2,1542.2 314.7,1548.0 319.3,1553.3C321.2,1556.5 322.6,1559.8 323.9,1563.0C330.4,1569.5 338.2,1573.4 347.3,1576.0C353.8,1577.6 359.7,1578.9 365.0,1579.9C373.3,1581.9 381.1,1584.1 389.2,1586.1C400.7,1588.0 411.7,1588.4 423.1,1588.0C431.9,1587.5 440.4,1586.5 447.8,1584.8" fill="none" stroke="#c8f4f1" stroke-width="8.60" stroke-linecap="butt" stroke-linejoin="round"/>
<path d="M428.3,1439.6C425.4,1435.4 422.2,1431.5 417.9,1427.9C408.5,1425.7 398.1,1425.0 387.9,1425.3C379.8,1426.0 372.0,1427.3 364.5,1429.2C357.7,1431.2 351.2,1434.1 344.9,1437.0C340.8,1438.3 337.5,1439.6 334.3,1440.9C333.2,1447.1 332.7,1453.0 333.0,1459.1C333.6,1466.0 334.9,1472.5 336.9,1478.6C346.0,1475.1 355.8,1471.6 365.0,1468.2C371.4,1466.4 377.9,1464.3 384.0,1463.0C390.3,1462.5 396.8,1462.5 403.5,1463.0C411.1,1463.7 418.9,1464.7 425.7,1465.6C427.0,1462.8 427.8,1459.5 428.3,1456.5C428.7,1451.0 428.7,1445.2 428.3,1439.6Z" fill="#c8f4f1" stroke="#3c6866" stroke-width="1.35" stroke-linejoin="round"/>
<path d="M421.8,1729.3C422.6,1724.5 423.9,1719.3 425.7,1714.3C428.3,1706.5 431.9,1699.1 436.1,1692.2C441.0,1686.1 446.2,1680.2 451.7,1674.0C456.0,1669.8 460.8,1665.2 466.0,1660.9C473.6,1656.8 480.8,1652.6 488.2,1649.2C494.4,1647.0 500.9,1645.3 507.7,1644.0L514.2,1657.0L520.7,1674.0C512.0,1677.0 503.5,1680.5 494.7,1684.4C485.3,1689.3 476.8,1694.5 468.6,1701.3C461.9,1710.2 456.0,1719.3 451.7,1729.3Z" fill="#c8f4f1" stroke="#3c6866" stroke-width="1.35" stroke-linejoin="round"/>
<path d="M475.2,1584.1L479.1,1581.5C481.4,1574.7 482.1,1568.2 481.7,1562.0C481.1,1552.6 480.1,1544.1 477.8,1537.2C475.5,1532.4 472.9,1528.5 469.9,1525.5C465.1,1522.9 460.6,1521.4 455.6,1520.3C446.9,1518.1 438.4,1516.8 429.6,1516.4C420.2,1517.7 411.7,1519.8 403.5,1522.9C396.1,1527.6 389.6,1533.3 384.0,1539.8C378.5,1546.1 374.6,1553.3 371.0,1560.7C367.5,1568.2 365.3,1576.0 364.5,1584.1C364.2,1593.0 365.3,1601.4 367.1,1610.2C369.4,1618.4 372.3,1626.2 376.2,1633.6C379.6,1640.5 383.5,1647.0 387.9,1653.1C392.6,1658.7 397.8,1663.9 403.5,1668.8C409.8,1673.0 416.3,1676.3 423.1,1679.2L443.9,1680.5L451.7,1674.0L449.1,1659.6C444.9,1661.3 440.4,1662.2 436.1,1662.2C430.0,1662.0 423.9,1660.9 417.9,1659.6C410.4,1656.8 403.5,1653.1 397.0,1649.2C390.9,1645.3 385.7,1641.1 381.4,1636.2C379.6,1631.4 378.8,1626.2 378.8,1620.6C379.6,1612.5 381.4,1604.7 384.0,1597.1C387.4,1589.1 391.8,1581.5 397.0,1575.0C403.3,1568.5 410.4,1563.0 417.9,1558.1C424.8,1554.6 431.9,1552.0 438.7,1550.3L467.3,1558.1C469.0,1563.7 469.7,1569.5 469.9,1575.0Z" fill="#c8f4f1" stroke="#3c6866" stroke-width="1.35" stroke-linejoin="round"/>
<path d="M190.1,1181.5L217.7,1181.5C218.6,1191.9 216.0,1203.0 211.2,1212.8C206.7,1221.9 199.5,1231.0 191.0,1237.5C184.5,1242.7 178.0,1247.3 171.5,1251.2L171.5,1243.4C181.9,1239.5 185.8,1234.2 187.4,1228.4C191.0,1214.1 191.0,1198.4 187.8,1187.0Z" fill="url(#wg1)" stroke="#484848" stroke-width="1.35" stroke-linejoin="round"/>
<path d="M226.2,1662.6C239.2,1662.6 253.5,1666.5 262.7,1670.1C270.5,1676.3 277.0,1682.8 282.2,1689.6C288.7,1697.1 293.9,1704.9 299.1,1713.0C302.4,1719.3 304.3,1725.1 305.6,1733.6" fill="none" stroke="#484848" stroke-width="13.30" stroke-linecap="butt" stroke-linejoin="round"/>
<path d="M226.2,1662.6C239.2,1662.6 253.5,1666.5 262.7,1670.1C270.5,1676.3 277.0,1682.8 282.2,1689.6C288.7,1697.1 293.9,1704.9 299.1,1713.0C302.4,1719.3 304.3,1725.1 305.6,1733.6" fill="none" stroke="#f1f1f1" stroke-width="10.60" stroke-linecap="butt" stroke-linejoin="round"/>
<path d="M361.9,1714.3L390.6,1689.6L410.1,1729.3L371.0,1731.2Z" fill="#eeeeee" stroke="#484848" stroke-width="1.35" stroke-linejoin="round"/>
<path d="M361.9,1714.3C364.5,1706.5 371.0,1698.7 377.6,1694.1C382.8,1690.9 387.3,1689.3 390.6,1689.8C388.0,1694.8 382.8,1701.3 376.2,1706.5C371.0,1710.4 366.5,1713.2 361.9,1714.3Z" fill="#a5a3a3" stroke="#484848" stroke-width="1.35" stroke-linejoin="round"/>
<path d="M171.5,1251.8C197.6,1252.1 223.6,1255.7 237.3,1261.6C241.8,1264.2 244.4,1266.8 246.4,1270.7C251.6,1279.2 256.8,1292.2 260.7,1305.2C262.9,1313.0 263.7,1319.5 263.3,1324.1L258.8,1337.8L243.1,1298.0C227.5,1292.8 204.1,1290.9 171.5,1290.2Z" fill="url(#wg2)" stroke="none"/>
<path d="M245.1,1279.2L263.3,1324.1C262.7,1331.2 260.7,1337.8 256.8,1343.0C251.6,1349.5 245.1,1354.7 238.2,1359.2C230.1,1366.4 222.3,1373.6 213.8,1379.8C208.0,1384.6 201.5,1389.2 194.3,1393.5C187.1,1398.3 179.3,1402.2 171.5,1405.2L171.5,1359.9C178.0,1356.6 184.5,1352.7 191.0,1348.2C202.8,1339.1 213.2,1329.3 223.6,1318.9C230.1,1311.7 236.6,1305.2 243.1,1298.0Z" fill="#f3f3f3" stroke="none"/>
<path d="M171.5,1405.2C179.3,1402.2 187.1,1398.3 194.3,1393.5C201.5,1389.2 208.0,1384.6 213.8,1380.3L246.0,1382.9C256.1,1385.9 269.2,1395.1 277.2,1402.2C284.8,1409.4 290.0,1422.4 293.3,1435.4C295.2,1445.8 295.6,1453.6 295.2,1456.9L275.3,1436.5C271.8,1434.8 267.9,1432.8 262.7,1430.6C253.5,1427.0 243.1,1423.7 233.4,1421.7C223.6,1420.1 214.5,1419.1 204.1,1418.9C194.9,1418.8 184.5,1418.9 171.5,1418.9Z" fill="url(#wg3)" stroke="none"/>
<path d="M284.7,1416.9C290.0,1422.4 293.9,1441.9 295.2,1456.9C294.6,1462.8 293.9,1465.4 293.3,1466.7C291.3,1473.2 288.7,1477.1 286.1,1479.9C280.9,1486.2 275.7,1490.1 269.2,1494.3C262.7,1499.2 256.1,1501.8 248.3,1504.7C241.8,1507.7 235.3,1510.3 230.1,1512.5C224.9,1514.8 219.7,1516.8 214.5,1519.0C208.0,1522.7 201.5,1526.6 197.6,1529.4C193.6,1533.1 189.7,1538.3 187.1,1542.4L185.8,1545.1C184.5,1542.8 183.2,1540.2 181.9,1537.2C180.0,1533.1 178.0,1529.2 176.7,1524.2C175.7,1520.1 175.2,1516.1 174.8,1511.2C174.4,1508.3 174.8,1504.4 176.7,1498.2C181.9,1492.7 188.4,1487.5 194.9,1483.9C204.1,1479.0 213.2,1474.5 222.3,1470.2C234.0,1465.4 245.7,1460.2 256.1,1453.9C262.7,1449.1 269.2,1443.2 275.3,1436.5Z" fill="#f3f3f3" stroke="none"/>
<path d="M185.8,1545.1L187.1,1542.4C189.7,1538.3 193.6,1533.1 197.6,1529.4C201.5,1526.6 208.0,1522.7 214.5,1519.0C219.7,1519.4 224.9,1519.4 230.1,1519.7C244.4,1520.3 258.8,1521.4 273.1,1522.9C280.9,1524.2 288.7,1525.9 295.2,1528.1C300.4,1530.5 305.0,1533.7 308.2,1537.2C313.4,1543.5 316.7,1548.0 318.6,1551.6C321.2,1557.8 322.8,1564.3 323.9,1571.1C324.9,1578.6 325.4,1586.5 325.2,1594.5L312.1,1558.1C308.2,1560.7 301.7,1562.4 295.2,1562.6C282.2,1562.0 269.2,1560.7 256.1,1560.0C239.2,1559.4 221.0,1559.1 204.1,1557.4C197.6,1554.6 191.0,1550.0 185.8,1545.1Z" fill="url(#wg4)" stroke="none"/>
<path d="M319.3,1545.1C322.6,1559.1 325.4,1578.6 325.2,1594.5C324.1,1602.1 321.9,1609.2 318.6,1615.4C314.7,1621.6 309.5,1628.1 303.0,1633.6C296.5,1638.5 290.0,1643.1 282.2,1646.6C271.8,1650.9 260.1,1654.2 248.3,1657.0C239.9,1659.6 231.4,1662.2 223.6,1664.8C218.4,1666.8 213.2,1668.8 208.0,1670.7C206.0,1668.1 204.1,1665.2 202.8,1662.2C201.2,1658.3 200.2,1654.2 199.5,1649.2C198.9,1643.8 198.6,1638.5 198.9,1633.6C209.3,1629.7 221.0,1625.8 232.7,1621.9C248.3,1616.4 262.7,1609.9 275.7,1602.3C283.5,1596.2 291.3,1589.1 297.8,1581.5C303.0,1574.1 308.2,1566.3 312.1,1558.1Z" fill="url(#wg5)" stroke="none"/>
<path d="M171.5,1251.8C197.6,1252.1 223.6,1255.7 237.3,1261.6C241.8,1264.2 244.4,1266.8 246.4,1270.7C251.6,1279.2 256.8,1292.2 260.7,1305.2C262.9,1313.0 263.7,1319.5 263.3,1324.1C262.7,1331.2 260.7,1337.8 256.8,1343.0C251.6,1349.5 245.1,1354.7 238.2,1359.2C230.1,1366.4 222.3,1373.6 213.8,1379.8C208.0,1384.6 201.5,1389.2 194.3,1393.5C187.1,1398.3 179.3,1402.2 171.5,1405.2" fill="none" stroke="#484848" stroke-width="1.35" stroke-linejoin="round" stroke-linecap="round" />
<path d="M171.5,1290.2C204.1,1290.9 227.5,1292.8 243.1,1298.0C245.1,1292.2 246.0,1285.7 245.1,1279.2" fill="none" stroke="#484848" stroke-width="1.35" stroke-linejoin="round" stroke-linecap="round" />
<path d="M243.1,1298.0C236.6,1305.2 230.1,1311.7 223.6,1318.9C213.2,1329.3 202.8,1339.1 191.0,1348.2C184.5,1352.7 178.0,1356.6 171.5,1359.9" fill="none" stroke="#484848" stroke-width="1.35" stroke-linejoin="round" stroke-linecap="round" />
<path d="M213.8,1380.3L246.0,1382.9C256.1,1385.9 269.2,1395.1 277.2,1402.2C284.8,1409.4 290.0,1422.4 293.3,1435.4C295.2,1445.8 295.6,1453.6 295.2,1456.9C294.6,1462.8 293.9,1465.4 293.3,1466.7C291.3,1473.2 288.7,1477.1 286.1,1479.9C280.9,1486.2 275.7,1490.1 269.2,1494.3C262.7,1499.2 256.1,1501.8 248.3,1504.7C241.8,1507.7 235.3,1510.3 230.1,1512.5C224.9,1514.8 219.7,1516.8 214.5,1519.0C208.0,1522.7 201.5,1526.6 197.6,1529.4C193.6,1533.1 189.7,1538.3 187.1,1542.4" fill="none" stroke="#484848" stroke-width="1.35" stroke-linejoin="round" stroke-linecap="round" />
<path d="M171.5,1418.9C184.5,1418.9 194.9,1418.8 204.1,1418.9C214.5,1419.1 223.6,1420.1 233.4,1421.7C243.1,1423.7 253.5,1427.0 262.7,1430.6C267.9,1432.8 271.8,1434.8 275.3,1436.5C279.6,1430.2 282.8,1423.7 284.7,1416.9" fill="none" stroke="#484848" stroke-width="1.35" stroke-linejoin="round" stroke-linecap="round" />
<path d="M275.3,1436.5C269.2,1443.2 262.7,1449.1 256.1,1453.9C245.7,1460.2 234.0,1465.4 222.3,1470.2C213.2,1474.5 204.1,1479.0 194.9,1483.9C188.4,1487.5 181.9,1492.7 176.7,1498.2C174.8,1504.4 174.4,1508.3 174.8,1511.2C175.2,1516.1 175.7,1520.1 176.7,1524.2C178.0,1529.2 180.0,1533.1 181.9,1537.2C183.2,1540.2 184.5,1542.8 185.8,1545.1C191.0,1550.0 197.6,1554.6 204.1,1557.4C221.0,1559.1 239.2,1559.4 256.1,1560.0C269.2,1560.7 282.2,1562.0 295.2,1562.6C301.7,1562.4 308.2,1560.7 312.1,1558.1C315.4,1553.9 318.0,1549.3 319.3,1545.1" fill="none" stroke="#484848" stroke-width="1.35" stroke-linejoin="round" stroke-linecap="round" />
<path d="M214.5,1519.0C219.7,1519.4 224.9,1519.4 230.1,1519.7C244.4,1520.3 258.8,1521.4 273.1,1522.9C280.9,1524.2 288.7,1525.9 295.2,1528.1C300.4,1530.5 305.0,1533.7 308.2,1537.2C313.4,1543.5 316.7,1548.0 318.6,1551.6C321.2,1557.8 322.8,1564.3 323.9,1571.1C324.9,1578.6 325.4,1586.5 325.2,1594.5C324.1,1602.1 321.9,1609.2 318.6,1615.4C314.7,1621.6 309.5,1628.1 303.0,1633.6C296.5,1638.5 290.0,1643.1 282.2,1646.6C271.8,1650.9 260.1,1654.2 248.3,1657.0C239.9,1659.6 231.4,1662.2 223.6,1664.8C218.4,1666.8 213.2,1668.8 208.0,1670.7" fill="none" stroke="#484848" stroke-width="1.35" stroke-linejoin="round" stroke-linecap="round" />
<path d="M312.1,1558.1C308.2,1566.3 303.0,1574.1 297.8,1581.5C291.3,1589.1 283.5,1596.2 275.7,1602.3C262.7,1609.9 248.3,1616.4 232.7,1621.9C221.0,1625.8 209.3,1629.7 198.9,1633.6C198.6,1638.5 198.9,1643.8 199.5,1649.2C200.2,1654.2 201.2,1658.3 202.8,1662.2C204.1,1665.2 206.0,1668.1 208.0,1670.7" fill="none" stroke="#484848" stroke-width="1.35" stroke-linejoin="round" stroke-linecap="round" />
<path d="M297.1,1437.1 L327.7,1465.1" fill="none" stroke="#5d5b80" stroke-width="15.2" stroke-linecap="round" stroke-linejoin="round"/>
<path d="M297.1,1437.1 L327.7,1465.1" fill="none" stroke="#aaa6ea" stroke-width="13.5" stroke-linecap="round" stroke-linejoin="round"/>
<path d="M298.6,1435.1 L329.2,1463.1" fill="none" stroke="#ffffff" stroke-width="3.0" stroke-linecap="round" stroke-linejoin="round" opacity="0.35"/>
<path d="M301.1,1435.1 L331.7,1463.1" fill="none" stroke="#46817c" stroke-width="15.2" stroke-linecap="round" stroke-linejoin="round"/>
<path d="M304.3,1354.4 L323.2,1344.9" fill="none" stroke="#7f2522" stroke-width="7.1" stroke-linecap="round" stroke-linejoin="round"/>
<path d="M306.9,1360.5 L326.5,1350.8" fill="none" stroke="#7f2522" stroke-width="7.1" stroke-linecap="round" stroke-linejoin="round"/>
<path d="M301.6,1359.1 L310.9,1351.1" fill="none" stroke="#292929" stroke-width="7.1" stroke-linecap="butt" stroke-linejoin="round"/>
<path d="M301.7,1359.4 L313.8,1357.1" fill="none" stroke="#292929" stroke-width="7.1" stroke-linecap="butt" stroke-linejoin="round"/>
<path d="M296.5,1377.1 L296.8,1396.7" fill="none" stroke="#25256b" stroke-width="14.0" stroke-linecap="round" stroke-linejoin="round"/>
<path d="M243.1,1358.6 L269.2,1337.8 L300.4,1359.9 L296.5,1377.1" fill="none" stroke="#292929" stroke-width="14.0" stroke-linecap="butt" stroke-linejoin="round"/><circle cx="243.1" cy="1358.6" r="7.00" fill="#292929"/>
<path d="M378.8,1515.0 L399.3,1531.2" fill="none" stroke="#7f2522" stroke-width="7.1" stroke-linecap="round" stroke-linejoin="round"/>
<path d="M374.5,1520.3 L394.4,1537.5" fill="none" stroke="#7f2522" stroke-width="7.1" stroke-linecap="round" stroke-linejoin="round"/>
<path d="M378.8,1515.0 L388.0,1522.3" fill="none" stroke="#797777" stroke-width="7.1" stroke-linecap="butt" stroke-linejoin="round"/>
<path d="M374.5,1520.3 L383.4,1528.0" fill="none" stroke="#797777" stroke-width="7.1" stroke-linecap="butt" stroke-linejoin="round"/>
<path d="M379.1,1494.5 L382.7,1477.9" fill="none" stroke="#25256b" stroke-width="13.5" stroke-linecap="round" stroke-linejoin="round"/>
<path d="M305.5,1554.1 L331.9,1559.0" fill="none" stroke="#5a5959" stroke-width="14.0" stroke-linecap="round" stroke-linejoin="round"/>
<path d="M318.7,1556.5 L331.9,1559.0 L336.8,1524.8 L375.8,1510.1 L379.1,1494.5" fill="none" stroke="#797777" stroke-width="13.5" stroke-linecap="butt" stroke-linejoin="round"/><circle cx="318.7" cy="1556.5" r="6.75" fill="#797777"/>
<path d="M519.5,1524.3 L504.5,1531.8" fill="none" stroke="#25256b" stroke-width="14.0" stroke-linecap="round" stroke-linejoin="round"/>
<path d="M618.1,1494.6 L593.0,1514.9 L556.9,1505.0 L545.0,1513.2 L519.5,1524.3" fill="none" stroke="#80772e" stroke-width="14.0" stroke-linecap="butt" stroke-linejoin="round"/><circle cx="618.1" cy="1494.6" r="7.00" fill="#80772e"/>
<path d="M471.2,1682.0 L450.2,1656.6 L461.9,1619.9" fill="none" stroke="#46817c" stroke-width="14.0" stroke-linecap="round" stroke-linejoin="round"/>
<path d="M451.3,1588.2 L461.9,1619.9 L499.0,1613.6 L500.9,1573.0" fill="none" stroke="#46817c" stroke-width="14.0" stroke-linecap="round" stroke-linejoin="round"/>
<path d="M500.9,1573.0 L530.2,1557.4 L556.8,1578.9 L554.8,1617.5 L525.9,1629.7 L499.0,1613.6" fill="none" stroke="#46817c" stroke-width="14.0" stroke-linecap="round" stroke-linejoin="round"/>
<path d="M460.3,1578.7 L451.3,1588.2" fill="none" stroke="#46817c" stroke-width="14.0" stroke-linecap="round" stroke-linejoin="round"/>
<path d="M485.1,1571.1 L500.9,1573.0" fill="none" stroke="#46817c" stroke-width="14.0" stroke-linecap="round" stroke-linejoin="round"/>
<path d="M460.3,1578.7 L469.3,1569.1 L485.1,1571.1" fill="none" stroke="#25256b" stroke-width="14.0" stroke-linecap="butt" stroke-linejoin="round"/>
<path d="M531.0,1568.4 L545.9,1580.4" fill="none" stroke="#46817c" stroke-width="5.9" stroke-linecap="round" stroke-linejoin="round"/>
<path d="M544.8,1613.0 L529.7,1619.3" fill="none" stroke="#46817c" stroke-width="5.9" stroke-linecap="round" stroke-linejoin="round"/>
<path d="M492.5,1580.1 L491.3,1605.8" fill="none" stroke="#46817c" stroke-width="5.9" stroke-linecap="round" stroke-linejoin="round"/>
<path d="M446.1,1597.9 L451.9,1615.3" fill="none" stroke="#46817c" stroke-width="5.9" stroke-linecap="round" stroke-linejoin="round"/>
<path d="M301.1,1435.1 L331.7,1463.1" fill="none" stroke="#80ebe3" stroke-width="13.5" stroke-linecap="round" stroke-linejoin="round"/>
<path d="M302.6,1433.1 L333.2,1461.1" fill="none" stroke="#ffffff" stroke-width="3.0" stroke-linecap="round" stroke-linejoin="round" opacity="0.35"/>
<path d="M304.3,1354.4 L323.2,1344.9" fill="none" stroke="#e8453f" stroke-width="5.4" stroke-linecap="round" stroke-linejoin="round"/>
<path d="M306.9,1360.5 L326.5,1350.8" fill="none" stroke="#e8453f" stroke-width="5.4" stroke-linecap="round" stroke-linejoin="round"/>
<path d="M301.6,1359.1 L310.9,1351.1" fill="none" stroke="#4c4b4b" stroke-width="5.4" stroke-linecap="butt" stroke-linejoin="round"/>
<path d="M301.7,1359.4 L313.8,1357.1" fill="none" stroke="#4c4b4b" stroke-width="5.4" stroke-linecap="butt" stroke-linejoin="round"/>
<path d="M296.5,1377.1 L296.8,1396.7" fill="none" stroke="#4545c4" stroke-width="12.3" stroke-linecap="round" stroke-linejoin="round"/>
<path d="M243.1,1358.6 L269.2,1337.8 L300.4,1359.9 L296.5,1377.1" fill="none" stroke="#4c4b4b" stroke-width="12.3" stroke-linecap="butt" stroke-linejoin="round"/><circle cx="243.1" cy="1358.6" r="6.15" fill="#4c4b4b"/>
<path d="M241.9,1357.2 L268.0,1336.4 L299.2,1358.5" fill="none" stroke="#ffffff" stroke-width="3.0" stroke-linecap="round" stroke-linejoin="round" opacity="0.18"/>
<path d="M378.8,1515.0 L399.3,1531.2" fill="none" stroke="#e8453f" stroke-width="5.4" stroke-linecap="round" stroke-linejoin="round"/>
<path d="M374.5,1520.3 L394.4,1537.5" fill="none" stroke="#e8453f" stroke-width="5.4" stroke-linecap="round" stroke-linejoin="round"/>
<path d="M378.8,1515.0 L388.0,1522.3" fill="none" stroke="#dcdada" stroke-width="5.4" stroke-linecap="butt" stroke-linejoin="round"/>
<path d="M374.5,1520.3 L383.4,1528.0" fill="none" stroke="#dcdada" stroke-width="5.4" stroke-linecap="butt" stroke-linejoin="round"/>
<path d="M379.1,1494.5 L382.7,1477.9" fill="none" stroke="#4545c4" stroke-width="11.8" stroke-linecap="round" stroke-linejoin="round"/>
<path d="M305.5,1554.1 L331.9,1559.0" fill="none" stroke="#a5a3a3" stroke-width="12.3" stroke-linecap="round" stroke-linejoin="round"/>
<path d="M318.7,1556.5 L331.9,1559.0 L336.8,1524.8 L375.8,1510.1 L379.1,1494.5" fill="none" stroke="#dcdada" stroke-width="11.8" stroke-linecap="butt" stroke-linejoin="round"/><circle cx="318.7" cy="1556.5" r="5.90" fill="#dcdada"/>
<path d="M330.7,1557.6 L335.6,1523.4 L374.6,1508.7" fill="none" stroke="#ffffff" stroke-width="3.0" stroke-linecap="round" stroke-linejoin="round" opacity="0.50"/>
<path d="M519.5,1524.3 L504.5,1531.8" fill="none" stroke="#4545c4" stroke-width="12.3" stroke-linecap="round" stroke-linejoin="round"/>
<path d="M618.1,1494.6 L593.0,1514.9 L556.9,1505.0 L545.0,1513.2 L519.5,1524.3" fill="none" stroke="#ead955" stroke-width="12.3" stroke-linecap="butt" stroke-linejoin="round"/><circle cx="618.1" cy="1494.6" r="6.15" fill="#ead955"/>
<ellipse cx="543.2" cy="1514.1" rx="9.5" ry="3.6" transform="rotate(-24 543.2 1514.1)" fill="#7a3a20"/>
<ellipse cx="546.2" cy="1512.6" rx="5.5" ry="2.2" transform="rotate(-24 546.2 1512.6)" fill="#d9413a"/>
<path d="M616.9,1493.2 L591.8,1513.5 L555.7,1503.6" fill="none" stroke="#ffffff" stroke-width="3.0" stroke-linecap="round" stroke-linejoin="round" opacity="0.30"/>
<path d="M471.2,1682.0 L450.2,1656.6 L461.9,1619.9" fill="none" stroke="#80ebe3" stroke-width="12.3" stroke-linecap="round" stroke-linejoin="round"/>
<path d="M451.3,1588.2 L461.9,1619.9 L499.0,1613.6 L500.9,1573.0" fill="none" stroke="#80ebe3" stroke-width="12.3" stroke-linecap="round" stroke-linejoin="round"/>
<path d="M500.9,1573.0 L530.2,1557.4 L556.8,1578.9 L554.8,1617.5 L525.9,1629.7 L499.0,1613.6" fill="none" stroke="#80ebe3" stroke-width="12.3" stroke-linecap="round" stroke-linejoin="round"/>
<path d="M460.3,1578.7 L451.3,1588.2" fill="none" stroke="#80ebe3" stroke-width="12.3" stroke-linecap="round" stroke-linejoin="round"/>
<path d="M485.1,1571.1 L500.9,1573.0" fill="none" stroke="#80ebe3" stroke-width="12.3" stroke-linecap="round" stroke-linejoin="round"/>
<path d="M460.3,1578.7 L469.3,1569.1 L485.1,1571.1" fill="none" stroke="#4545c4" stroke-width="12.3" stroke-linecap="butt" stroke-linejoin="round"/>
<path d="M531.0,1568.4 L545.9,1580.4" fill="none" stroke="#80ebe3" stroke-width="4.2" stroke-linecap="round" stroke-linejoin="round"/>
<path d="M544.8,1613.0 L529.7,1619.3" fill="none" stroke="#80ebe3" stroke-width="4.2" stroke-linecap="round" stroke-linejoin="round"/>
<path d="M492.5,1580.1 L491.3,1605.8" fill="none" stroke="#80ebe3" stroke-width="4.2" stroke-linecap="round" stroke-linejoin="round"/>
<path d="M446.1,1597.9 L451.9,1615.3" fill="none" stroke="#80ebe3" stroke-width="4.2" stroke-linecap="round" stroke-linejoin="round"/>
<path d="M502.1,1571.2 L531.4,1555.6 L558.0,1577.1 L556.0,1615.7" fill="none" stroke="#ffffff" stroke-width="3.0" stroke-linecap="round" stroke-linejoin="round" opacity="0.25"/>
<path d="M438.1,1360.9 L432.5,1342.3" fill="none" stroke="#7f2522" stroke-width="13.5" stroke-linecap="round" stroke-linejoin="round"/>
<path d="M442.7,1376.1 L438.1,1360.9" fill="none" stroke="#804b4e" stroke-width="13.5" stroke-linecap="butt" stroke-linejoin="round"/><circle cx="442.7" cy="1376.1" r="6.75" fill="#804b4e"/>
<path d="M385.8,1386.2 L362.6,1389.1" fill="none" stroke="#7f2522" stroke-width="13.5" stroke-linecap="round" stroke-linejoin="round"/>
<path d="M401.2,1384.3 L385.8,1386.2" fill="none" stroke="#804b4e" stroke-width="13.5" stroke-linecap="butt" stroke-linejoin="round"/><circle cx="401.2" cy="1384.3" r="6.75" fill="#804b4e"/>
<path d="M401.2,1384.3 L417.9,1393.0" fill="none" stroke="#6e393c" stroke-width="13.5" stroke-linecap="round" stroke-linejoin="round"/>
<path d="M485.7,1391.9 L504.5,1387.3" fill="none" stroke="#7f2522" stroke-width="13.5" stroke-linecap="round" stroke-linejoin="round"/>
<path d="M470.3,1395.6 L485.7,1391.9" fill="none" stroke="#804b4e" stroke-width="13.5" stroke-linecap="butt" stroke-linejoin="round"/><circle cx="470.3" cy="1395.6" r="6.75" fill="#804b4e"/>
<path d="M473.1,1479.0 L475.2,1496.3" fill="none" stroke="#7f2522" stroke-width="13.5" stroke-linecap="round" stroke-linejoin="round"/>
<path d="M467.7,1434.7 L473.1,1479.0" fill="none" stroke="#804b4e" stroke-width="13.5" stroke-linecap="butt" stroke-linejoin="round"/><circle cx="467.7" cy="1434.7" r="6.75" fill="#804b4e"/>
<path d="M417.9,1393.0 L442.7,1376.1 L470.3,1395.6 L467.7,1434.7" fill="none" stroke="#804b4e" stroke-width="13.5" stroke-linecap="round" stroke-linejoin="round"/>
<path d="M426.4,1413.1 L434.8,1433.1 L451.2,1433.9" fill="none" stroke="#7f2522" stroke-width="13.5" stroke-linecap="round" stroke-linejoin="round"/>
<path d="M417.9,1393.0 L426.4,1413.1" fill="none" stroke="#804b4e" stroke-width="13.5" stroke-linecap="butt" stroke-linejoin="round"/>
<path d="M467.7,1434.7 L451.2,1433.9" fill="none" stroke="#804b4e" stroke-width="13.5" stroke-linecap="butt" stroke-linejoin="round"/>
<path d="M417.9,1393.0 L420.4,1391.3" fill="none" stroke="#804b4e" stroke-width="13.5" stroke-linecap="round" stroke-linejoin="round"/>
<path d="M438.1,1360.9 L432.5,1342.3" fill="none" stroke="#e8453f" stroke-width="11.8" stroke-linecap="round" stroke-linejoin="round"/>
<path d="M442.7,1376.1 L438.1,1360.9" fill="none" stroke="#e98a8f" stroke-width="11.8" stroke-linecap="butt" stroke-linejoin="round"/><circle cx="442.7" cy="1376.1" r="5.90" fill="#e98a8f"/>
<path d="M385.8,1386.2 L362.6,1389.1" fill="none" stroke="#e8453f" stroke-width="11.8" stroke-linecap="round" stroke-linejoin="round"/>
<path d="M401.2,1384.3 L385.8,1386.2" fill="none" stroke="#e98a8f" stroke-width="11.8" stroke-linecap="butt" stroke-linejoin="round"/><circle cx="401.2" cy="1384.3" r="5.90" fill="#e98a8f"/>
<path d="M401.2,1384.3 L417.9,1393.0" fill="none" stroke="#c9686e" stroke-width="11.8" stroke-linecap="round" stroke-linejoin="round"/>
<path d="M485.7,1391.9 L504.5,1387.3" fill="none" stroke="#e8453f" stroke-width="11.8" stroke-linecap="round" stroke-linejoin="round"/>
<path d="M470.3,1395.6 L485.7,1391.9" fill="none" stroke="#e98a8f" stroke-width="11.8" stroke-linecap="butt" stroke-linejoin="round"/><circle cx="470.3" cy="1395.6" r="5.90" fill="#e98a8f"/>
<path d="M473.1,1479.0 L475.2,1496.3" fill="none" stroke="#e8453f" stroke-width="11.8" stroke-linecap="round" stroke-linejoin="round"/>
<path d="M467.7,1434.7 L473.1,1479.0" fill="none" stroke="#e98a8f" stroke-width="11.8" stroke-linecap="butt" stroke-linejoin="round"/><circle cx="467.7" cy="1434.7" r="5.90" fill="#e98a8f"/>
<path d="M417.9,1393.0 L442.7,1376.1 L470.3,1395.6 L467.7,1434.7" fill="none" stroke="#e98a8f" stroke-width="11.8" stroke-linecap="round" stroke-linejoin="round"/>
<path d="M426.4,1413.1 L434.8,1433.1 L451.2,1433.9" fill="none" stroke="#e8453f" stroke-width="11.8" stroke-linecap="round" stroke-linejoin="round"/>
<path d="M417.9,1393.0 L426.4,1413.1" fill="none" stroke="#e98a8f" stroke-width="11.8" stroke-linecap="butt" stroke-linejoin="round"/>
<path d="M467.7,1434.7 L451.2,1433.9" fill="none" stroke="#e98a8f" stroke-width="11.8" stroke-linecap="butt" stroke-linejoin="round"/>
<path d="M417.9,1393.0 L420.4,1391.3" fill="none" stroke="#e98a8f" stroke-width="11.8" stroke-linecap="round" stroke-linejoin="round"/>
<path d="M416.7,1391.6 L441.5,1374.7 L469.1,1394.2" fill="none" stroke="#ffffff" stroke-width="3.0" stroke-linecap="round" stroke-linejoin="round" opacity="0.22"/>
<path d="M545.5,1322.8 L527.9,1321.2" fill="none" stroke="#7f2522" stroke-width="7.1" stroke-linecap="round" stroke-linejoin="round"/>
<path d="M546.4,1330.0 L526.9,1328.1" fill="none" stroke="#7f2522" stroke-width="7.1" stroke-linecap="round" stroke-linejoin="round"/>
<path d="M545.5,1322.8 L540.2,1322.3" fill="none" stroke="#80772e" stroke-width="7.1" stroke-linecap="butt" stroke-linejoin="round"/>
<path d="M546.4,1330.0 L540.6,1329.5" fill="none" stroke="#80772e" stroke-width="7.1" stroke-linecap="butt" stroke-linejoin="round"/>
<path d="M552.3,1341.8 L555.6,1358.4" fill="none" stroke="#25256b" stroke-width="14.0" stroke-linecap="round" stroke-linejoin="round"/>
<path d="M543.5,1276.7 L567.0,1294.3 L549.8,1327.1 L552.3,1341.8" fill="none" stroke="#80772e" stroke-width="14.0" stroke-linecap="butt" stroke-linejoin="round"/><circle cx="543.5" cy="1276.7" r="7.00" fill="#80772e"/>
<path d="M614.8,1398.0 L610.9,1373.2" fill="none" stroke="#7f2522" stroke-width="7.1" stroke-linecap="round" stroke-linejoin="round"/>
<path d="M620.7,1397.3 L616.8,1372.6" fill="none" stroke="#7f2522" stroke-width="7.1" stroke-linecap="round" stroke-linejoin="round"/>
<path d="M614.8,1398.0 L613.3,1388.1" fill="none" stroke="#80772e" stroke-width="7.1" stroke-linecap="butt" stroke-linejoin="round"/>
<path d="M620.7,1397.3 L619.1,1387.4" fill="none" stroke="#80772e" stroke-width="7.1" stroke-linecap="butt" stroke-linejoin="round"/>
<path d="M608.4,1411.9 L598.2,1425.1" fill="none" stroke="#25256b" stroke-width="14.0" stroke-linecap="round" stroke-linejoin="round"/>
<path d="M664.3,1401.2 L650.3,1420.1 L616.8,1401.2 L608.4,1411.9" fill="none" stroke="#80772e" stroke-width="14.0" stroke-linecap="butt" stroke-linejoin="round"/><circle cx="664.3" cy="1401.2" r="7.00" fill="#80772e"/>
<path d="M545.5,1322.8 L527.9,1321.2" fill="none" stroke="#e8453f" stroke-width="5.4" stroke-linecap="round" stroke-linejoin="round"/>
<path d="M546.4,1330.0 L526.9,1328.1" fill="none" stroke="#e8453f" stroke-width="5.4" stroke-linecap="round" stroke-linejoin="round"/>
<path d="M545.5,1322.8 L540.2,1322.3" fill="none" stroke="#ead955" stroke-width="5.4" stroke-linecap="butt" stroke-linejoin="round"/>
<path d="M546.4,1330.0 L540.6,1329.5" fill="none" stroke="#ead955" stroke-width="5.4" stroke-linecap="butt" stroke-linejoin="round"/>
<path d="M552.3,1341.8 L555.6,1358.4" fill="none" stroke="#4545c4" stroke-width="12.3" stroke-linecap="round" stroke-linejoin="round"/>
<path d="M543.5,1276.7 L567.0,1294.3 L549.8,1327.1 L552.3,1341.8" fill="none" stroke="#ead955" stroke-width="12.3" stroke-linecap="butt" stroke-linejoin="round"/><circle cx="543.5" cy="1276.7" r="6.15" fill="#ead955"/>
<path d="M542.3,1275.3 L565.8,1292.9 L548.6,1325.7" fill="none" stroke="#ffffff" stroke-width="3.0" stroke-linecap="round" stroke-linejoin="round" opacity="0.30"/>
<path d="M660.3,1397.2 L648.3,1414.1 L634.3,1407.2 Z" fill="#8f8230"/>
<path d="M614.8,1398.0 L610.9,1373.2" fill="none" stroke="#e8453f" stroke-width="5.4" stroke-linecap="round" stroke-linejoin="round"/>
<path d="M620.7,1397.3 L616.8,1372.6" fill="none" stroke="#e8453f" stroke-width="5.4" stroke-linecap="round" stroke-linejoin="round"/>
<path d="M614.8,1398.0 L613.3,1388.1" fill="none" stroke="#ead955" stroke-width="5.4" stroke-linecap="butt" stroke-linejoin="round"/>
<path d="M620.7,1397.3 L619.1,1387.4" fill="none" stroke="#ead955" stroke-width="5.4" stroke-linecap="butt" stroke-linejoin="round"/>
<path d="M608.4,1411.9 L598.2,1425.1" fill="none" stroke="#4545c4" stroke-width="12.3" stroke-linecap="round" stroke-linejoin="round"/>
<path d="M664.3,1401.2 L650.3,1420.1 L616.8,1401.2 L608.4,1411.9" fill="none" stroke="#ead955" stroke-width="12.3" stroke-linecap="butt" stroke-linejoin="round"/><circle cx="664.3" cy="1401.2" r="6.15" fill="#ead955"/>
<path d="M649.1,1418.7 L615.6,1399.8" fill="none" stroke="#ffffff" stroke-width="3.0" stroke-linecap="round" stroke-linejoin="round" opacity="0.30"/>
<path d="M304.7,1356.1 L315.2,1348.0" fill="none" stroke="#25256b" stroke-width="14.0" stroke-linecap="round" stroke-linejoin="round"/>
<path d="M240.4,1360.2 L266.5,1339.4 L297.7,1361.5 L304.7,1356.1" fill="none" stroke="#5d5b80" stroke-width="14.0" stroke-linecap="butt" stroke-linejoin="round"/><circle cx="240.4" cy="1360.2" r="7.00" fill="#5d5b80"/>
<path d="M304.7,1356.1 L315.2,1348.0" fill="none" stroke="#4545c4" stroke-width="12.3" stroke-linecap="round" stroke-linejoin="round"/>
<path d="M240.4,1360.2 L266.5,1339.4 L297.7,1361.5 L304.7,1356.1" fill="none" stroke="#aaa6ea" stroke-width="12.3" stroke-linecap="butt" stroke-linejoin="round"/><circle cx="240.4" cy="1360.2" r="6.15" fill="#aaa6ea"/>
<path d="M239.2,1358.8 L265.3,1338.0 L296.5,1360.1" fill="none" stroke="#ffffff" stroke-width="3.0" stroke-linecap="round" stroke-linejoin="round" opacity="0.30"/>
<path d="M378.8,1513.1 L401.3,1525.2" fill="none" stroke="#7f2522" stroke-width="6.3" stroke-linecap="round" stroke-linejoin="round"/>
<path d="M380.0,1490.3 L381.2,1475.9" fill="none" stroke="#212164" stroke-width="13.2" stroke-linecap="round" stroke-linejoin="round"/>
<path d="M346.5,1521.1 L375.8,1510.1 L378.8,1496.1" fill="none" stroke="#5d5b80" stroke-width="13.2" stroke-linecap="butt" stroke-linejoin="round"/><circle cx="346.5" cy="1521.1" r="6.60" fill="#5d5b80"/>
<path d="M378.8,1513.1 L401.3,1525.2" fill="none" stroke="#e8453f" stroke-width="4.6" stroke-linecap="round" stroke-linejoin="round"/>
<path d="M380.0,1490.3 L381.2,1475.9" fill="none" stroke="#3d3db6" stroke-width="11.5" stroke-linecap="round" stroke-linejoin="round"/>
<path d="M346.5,1521.1 L375.8,1510.1 L378.8,1496.1" fill="none" stroke="#aaa6ea" stroke-width="11.5" stroke-linecap="butt" stroke-linejoin="round"/><circle cx="346.5" cy="1521.1" r="5.75" fill="#aaa6ea"/>
<path d="M542.5,1314.8 L524.9,1313.2" fill="none" stroke="#7f2522" stroke-width="7.1" stroke-linecap="round" stroke-linejoin="round"/>
<path d="M543.4,1322.0 L523.9,1320.1" fill="none" stroke="#7f2522" stroke-width="7.1" stroke-linecap="round" stroke-linejoin="round"/>
<path d="M542.5,1314.8 L537.2,1314.3" fill="none" stroke="#5d5b80" stroke-width="7.1" stroke-linecap="butt" stroke-linejoin="round"/>
<path d="M543.4,1322.0 L537.6,1321.5" fill="none" stroke="#5d5b80" stroke-width="7.1" stroke-linecap="butt" stroke-linejoin="round"/>
<path d="M549.3,1333.8 L552.6,1350.4" fill="none" stroke="#25256b" stroke-width="14.0" stroke-linecap="round" stroke-linejoin="round"/>
<path d="M540.5,1268.7 L564.0,1286.3 L546.8,1319.1 L549.3,1333.8" fill="none" stroke="#5d5b80" stroke-width="14.0" stroke-linecap="butt" stroke-linejoin="round"/><circle cx="540.5" cy="1268.7" r="7.00" fill="#5d5b80"/>
<path d="M542.5,1314.8 L524.9,1313.2" fill="none" stroke="#e8453f" stroke-width="5.4" stroke-linecap="round" stroke-linejoin="round"/>
<path d="M543.4,1322.0 L523.9,1320.1" fill="none" stroke="#e8453f" stroke-width="5.4" stroke-linecap="round" stroke-linejoin="round"/>
<path d="M542.5,1314.8 L537.2,1314.3" fill="none" stroke="#aaa6ea" stroke-width="5.4" stroke-linecap="butt" stroke-linejoin="round"/>
<path d="M543.4,1322.0 L537.6,1321.5" fill="none" stroke="#aaa6ea" stroke-width="5.4" stroke-linecap="butt" stroke-linejoin="round"/>
<path d="M549.3,1333.8 L552.6,1350.4" fill="none" stroke="#4545c4" stroke-width="12.3" stroke-linecap="round" stroke-linejoin="round"/>
<path d="M540.5,1268.7 L564.0,1286.3 L546.8,1319.1 L549.3,1333.8" fill="none" stroke="#aaa6ea" stroke-width="12.3" stroke-linecap="butt" stroke-linejoin="round"/><circle cx="540.5" cy="1268.7" r="6.15" fill="#aaa6ea"/>
<path d="M539.3,1267.3 L562.8,1284.9 L545.6,1317.7" fill="none" stroke="#ffffff" stroke-width="3.0" stroke-linecap="round" stroke-linejoin="round" opacity="0.30"/>
<path d="M614.8,1388.5 L610.9,1363.7" fill="none" stroke="#7f2522" stroke-width="7.1" stroke-linecap="round" stroke-linejoin="round"/>
<path d="M620.7,1387.8 L616.8,1363.1" fill="none" stroke="#7f2522" stroke-width="7.1" stroke-linecap="round" stroke-linejoin="round"/>
<path d="M614.8,1388.5 L613.3,1378.6" fill="none" stroke="#5d5b80" stroke-width="7.1" stroke-linecap="butt" stroke-linejoin="round"/>
<path d="M620.7,1387.8 L619.1,1377.9" fill="none" stroke="#5d5b80" stroke-width="7.1" stroke-linecap="butt" stroke-linejoin="round"/>
<path d="M608.4,1402.4 L598.2,1415.6" fill="none" stroke="#25256b" stroke-width="14.0" stroke-linecap="round" stroke-linejoin="round"/>
<path d="M664.3,1391.7 L650.3,1410.6 L616.8,1391.7 L608.4,1402.4" fill="none" stroke="#5d5b80" stroke-width="14.0" stroke-linecap="butt" stroke-linejoin="round"/><circle cx="664.3" cy="1391.7" r="7.00" fill="#5d5b80"/>
<path d="M614.8,1388.5 L610.9,1363.7" fill="none" stroke="#e8453f" stroke-width="5.4" stroke-linecap="round" stroke-linejoin="round"/>
<path d="M620.7,1387.8 L616.8,1363.1" fill="none" stroke="#e8453f" stroke-width="5.4" stroke-linecap="round" stroke-linejoin="round"/>
<path d="M614.8,1388.5 L613.3,1378.6" fill="none" stroke="#aaa6ea" stroke-width="5.4" stroke-linecap="butt" stroke-linejoin="round"/>
<path d="M620.7,1387.8 L619.1,1377.9" fill="none" stroke="#aaa6ea" stroke-width="5.4" stroke-linecap="butt" stroke-linejoin="round"/>
<path d="M608.4,1402.4 L598.2,1415.6" fill="none" stroke="#4545c4" stroke-width="12.3" stroke-linecap="round" stroke-linejoin="round"/>
<path d="M664.3,1391.7 L650.3,1410.6 L616.8,1391.7 L608.4,1402.4" fill="none" stroke="#aaa6ea" stroke-width="12.3" stroke-linecap="butt" stroke-linejoin="round"/><circle cx="664.3" cy="1391.7" r="6.15" fill="#aaa6ea"/>
<path d="M649.1,1409.2 L615.6,1390.3" fill="none" stroke="#ffffff" stroke-width="3.0" stroke-linecap="round" stroke-linejoin="round" opacity="0.30"/>
<path d="M519.5,1516.3 L504.5,1523.8" fill="none" stroke="#25256b" stroke-width="14.0" stroke-linecap="round" stroke-linejoin="round"/>
<path d="M618.1,1486.6 L593.0,1506.9 L556.9,1497.0 L545.0,1505.2 L519.5,1516.3" fill="none" stroke="#5d5b80" stroke-width="14.0" stroke-linecap="butt" stroke-linejoin="round"/><circle cx="618.1" cy="1486.6" r="7.00" fill="#5d5b80"/>
<path d="M519.5,1516.3 L504.5,1523.8" fill="none" stroke="#4545c4" stroke-width="12.3" stroke-linecap="round" stroke-linejoin="round"/>
<path d="M618.1,1486.6 L593.0,1506.9 L556.9,1497.0 L545.0,1505.2 L519.5,1516.3" fill="none" stroke="#aaa6ea" stroke-width="12.3" stroke-linecap="butt" stroke-linejoin="round"/><circle cx="618.1" cy="1486.6" r="6.15" fill="#aaa6ea"/>
<ellipse cx="543.2" cy="1506.1" rx="9.5" ry="3.6" transform="rotate(-24 543.2 1506.1)" fill="#7a3a20"/>
<ellipse cx="546.2" cy="1504.6" rx="5.5" ry="2.2" transform="rotate(-24 546.2 1504.6)" fill="#d9413a"/>
<path d="M616.9,1485.2 L591.8,1505.5 L555.7,1495.6" fill="none" stroke="#ffffff" stroke-width="3.0" stroke-linecap="round" stroke-linejoin="round" opacity="0.30"/>
<path d="M464.8,1674.0 L443.7,1648.6 L455.4,1611.9" fill="none" stroke="#5d5b80" stroke-width="14.0" stroke-linecap="round" stroke-linejoin="round"/>
<path d="M444.8,1580.2 L455.4,1611.9 L492.5,1605.6 L494.4,1565.0" fill="none" stroke="#5d5b80" stroke-width="14.0" stroke-linecap="round" stroke-linejoin="round"/>
<path d="M494.4,1565.0 L523.7,1549.4 L550.3,1570.9 L548.3,1609.5 L519.4,1621.7 L492.5,1605.6" fill="none" stroke="#5d5b80" stroke-width="14.0" stroke-linecap="round" stroke-linejoin="round"/>
<path d="M453.8,1570.7 L444.8,1580.2" fill="none" stroke="#5d5b80" stroke-width="14.0" stroke-linecap="round" stroke-linejoin="round"/>
<path d="M478.6,1563.1 L494.4,1565.0" fill="none" stroke="#5d5b80" stroke-width="14.0" stroke-linecap="round" stroke-linejoin="round"/>
<path d="M453.8,1570.7 L462.8,1561.1 L478.6,1563.1" fill="none" stroke="#25256b" stroke-width="14.0" stroke-linecap="butt" stroke-linejoin="round"/>
<path d="M524.5,1560.4 L539.4,1572.4" fill="none" stroke="#5d5b80" stroke-width="5.9" stroke-linecap="round" stroke-linejoin="round"/>
<path d="M538.3,1605.0 L523.2,1611.3" fill="none" stroke="#5d5b80" stroke-width="5.9" stroke-linecap="round" stroke-linejoin="round"/>
<path d="M486.0,1572.1 L484.8,1597.8" fill="none" stroke="#5d5b80" stroke-width="5.9" stroke-linecap="round" stroke-linejoin="round"/>
<path d="M439.6,1589.9 L445.4,1607.3" fill="none" stroke="#5d5b80" stroke-width="5.9" stroke-linecap="round" stroke-linejoin="round"/>
<path d="M464.8,1674.0 L443.7,1648.6 L455.4,1611.9" fill="none" stroke="#aaa6ea" stroke-width="12.3" stroke-linecap="round" stroke-linejoin="round"/>
<path d="M444.8,1580.2 L455.4,1611.9 L492.5,1605.6 L494.4,1565.0" fill="none" stroke="#aaa6ea" stroke-width="12.3" stroke-linecap="round" stroke-linejoin="round"/>
<path d="M494.4,1565.0 L523.7,1549.4 L550.3,1570.9 L548.3,1609.5 L519.4,1621.7 L492.5,1605.6" fill="none" stroke="#aaa6ea" stroke-width="12.3" stroke-linecap="round" stroke-linejoin="round"/>
<path d="M453.8,1570.7 L444.8,1580.2" fill="none" stroke="#aaa6ea" stroke-width="12.3" stroke-linecap="round" stroke-linejoin="round"/>
<path d="M478.6,1563.1 L494.4,1565.0" fill="none" stroke="#aaa6ea" stroke-width="12.3" stroke-linecap="round" stroke-linejoin="round"/>
<path d="M453.8,1570.7 L462.8,1561.1 L478.6,1563.1" fill="none" stroke="#4545c4" stroke-width="12.3" stroke-linecap="butt" stroke-linejoin="round"/>
<path d="M524.5,1560.4 L539.4,1572.4" fill="none" stroke="#aaa6ea" stroke-width="4.2" stroke-linecap="round" stroke-linejoin="round"/>
<path d="M538.3,1605.0 L523.2,1611.3" fill="none" stroke="#aaa6ea" stroke-width="4.2" stroke-linecap="round" stroke-linejoin="round"/>
<path d="M486.0,1572.1 L484.8,1597.8" fill="none" stroke="#aaa6ea" stroke-width="4.2" stroke-linecap="round" stroke-linejoin="round"/>
<path d="M439.6,1589.9 L445.4,1607.3" fill="none" stroke="#aaa6ea" stroke-width="4.2" stroke-linecap="round" stroke-linejoin="round"/>
<path d="M495.6,1563.2 L524.9,1547.6 L551.5,1569.1 L549.5,1607.7" fill="none" stroke="#ffffff" stroke-width="3.0" stroke-linecap="round" stroke-linejoin="round" opacity="0.25"/>
<path d="M465.6,1360.7 L466.1,1340.3" fill="none" stroke="#7f2522" stroke-width="13.5" stroke-linecap="round" stroke-linejoin="round"/>
<path d="M465.2,1377.4 L465.6,1360.7" fill="none" stroke="#5d5b80" stroke-width="13.5" stroke-linecap="butt" stroke-linejoin="round"/><circle cx="465.2" cy="1377.4" r="6.75" fill="#5d5b80"/>
<path d="M400.5,1390.3 L388.8,1406.7" fill="none" stroke="#7f2522" stroke-width="13.5" stroke-linecap="round" stroke-linejoin="round"/>
<path d="M408.3,1379.4 L400.5,1390.3" fill="none" stroke="#5d5b80" stroke-width="13.5" stroke-linecap="butt" stroke-linejoin="round"/><circle cx="408.3" cy="1379.4" r="6.75" fill="#5d5b80"/>
<path d="M408.3,1379.4 L433.7,1389.1" fill="none" stroke="#5d5b80" stroke-width="13.5" stroke-linecap="round" stroke-linejoin="round"/>
<path d="M502.4,1400.2 L521.8,1397.0" fill="none" stroke="#7f2522" stroke-width="13.5" stroke-linecap="round" stroke-linejoin="round"/>
<path d="M486.6,1402.8 L502.4,1400.2" fill="none" stroke="#5d5b80" stroke-width="13.5" stroke-linecap="butt" stroke-linejoin="round"/><circle cx="486.6" cy="1402.8" r="6.75" fill="#5d5b80"/>
<path d="M472.0,1479.6 L461.9,1491.0" fill="none" stroke="#7f2522" stroke-width="13.5" stroke-linecap="round" stroke-linejoin="round"/>
<path d="M477.5,1473.4 L472.0,1479.6" fill="none" stroke="#5d5b80" stroke-width="13.5" stroke-linecap="butt" stroke-linejoin="round"/><circle cx="477.5" cy="1473.4" r="6.75" fill="#5d5b80"/>
<path d="M475.9,1436.0 L477.5,1473.4" fill="none" stroke="#5d5b80" stroke-width="13.5" stroke-linecap="round" stroke-linejoin="round"/>
<path d="M433.7,1389.1 L465.2,1377.4 L486.6,1402.8 L475.9,1436.0" fill="none" stroke="#5d5b80" stroke-width="13.5" stroke-linecap="round" stroke-linejoin="round"/>
<path d="M437.7,1408.7 L441.7,1428.2 L458.8,1432.1" fill="none" stroke="#7f2522" stroke-width="13.5" stroke-linecap="round" stroke-linejoin="round"/>
<path d="M433.7,1389.1 L437.7,1408.7" fill="none" stroke="#5d5b80" stroke-width="13.5" stroke-linecap="butt" stroke-linejoin="round"/>
<path d="M475.9,1436.0 L458.8,1432.1" fill="none" stroke="#5d5b80" stroke-width="13.5" stroke-linecap="butt" stroke-linejoin="round"/>
<path d="M433.7,1389.1 L436.8,1387.9" fill="none" stroke="#5d5b80" stroke-width="13.5" stroke-linecap="round" stroke-linejoin="round"/>
<path d="M465.6,1360.7 L466.1,1340.3" fill="none" stroke="#e8453f" stroke-width="11.8" stroke-linecap="round" stroke-linejoin="round"/>
<path d="M465.2,1377.4 L465.6,1360.7" fill="none" stroke="#aaa6ea" stroke-width="11.8" stroke-linecap="butt" stroke-linejoin="round"/><circle cx="465.2" cy="1377.4" r="5.90" fill="#aaa6ea"/>
<path d="M400.5,1390.3 L388.8,1406.7" fill="none" stroke="#e8453f" stroke-width="11.8" stroke-linecap="round" stroke-linejoin="round"/>
<path d="M408.3,1379.4 L400.5,1390.3" fill="none" stroke="#aaa6ea" stroke-width="11.8" stroke-linecap="butt" stroke-linejoin="round"/><circle cx="408.3" cy="1379.4" r="5.90" fill="#aaa6ea"/>
<path d="M408.3,1379.4 L433.7,1389.1" fill="none" stroke="#aaa6ea" stroke-width="11.8" stroke-linecap="round" stroke-linejoin="round"/>
<path d="M502.4,1400.2 L521.8,1397.0" fill="none" stroke="#e8453f" stroke-width="11.8" stroke-linecap="round" stroke-linejoin="round"/>
<path d="M486.6,1402.8 L502.4,1400.2" fill="none" stroke="#aaa6ea" stroke-width="11.8" stroke-linecap="butt" stroke-linejoin="round"/><circle cx="486.6" cy="1402.8" r="5.90" fill="#aaa6ea"/>
<path d="M472.0,1479.6 L461.9,1491.0" fill="none" stroke="#e8453f" stroke-width="11.8" stroke-linecap="round" stroke-linejoin="round"/>
<path d="M477.5,1473.4 L472.0,1479.6" fill="none" stroke="#aaa6ea" stroke-width="11.8" stroke-linecap="butt" stroke-linejoin="round"/><circle cx="477.5" cy="1473.4" r="5.90" fill="#aaa6ea"/>
<path d="M475.9,1436.0 L477.5,1473.4" fill="none" stroke="#aaa6ea" stroke-width="11.8" stroke-linecap="round" stroke-linejoin="round"/>
<path d="M433.7,1389.1 L465.2,1377.4 L486.6,1402.8 L475.9,1436.0" fill="none" stroke="#aaa6ea" stroke-width="11.8" stroke-linecap="round" stroke-linejoin="round"/>
<path d="M437.7,1408.7 L441.7,1428.2 L458.8,1432.1" fill="none" stroke="#e8453f" stroke-width="11.8" stroke-linecap="round" stroke-linejoin="round"/>
<path d="M433.7,1389.1 L437.7,1408.7" fill="none" stroke="#aaa6ea" stroke-width="11.8" stroke-linecap="butt" stroke-linejoin="round"/>
<path d="M475.9,1436.0 L458.8,1432.1" fill="none" stroke="#aaa6ea" stroke-width="11.8" stroke-linecap="butt" stroke-linejoin="round"/>
<path d="M433.7,1389.1 L436.8,1387.9" fill="none" stroke="#aaa6ea" stroke-width="11.8" stroke-linecap="round" stroke-linejoin="round"/>
<path d="M432.5,1387.7 L464.0,1376.0 L485.4,1401.4 L474.7,1434.6" fill="none" stroke="#ffffff" stroke-width="3.0" stroke-linecap="round" stroke-linejoin="round" opacity="0.30"/>
<text x="218.3" y="1384.1" class="rl" textLength="48.4" lengthAdjust="spacingAndGlyphs">N341</text>
<text x="507.1" y="1263.0" class="rl" textLength="48.4" lengthAdjust="spacingAndGlyphs">N311</text>
<text x="630.1" y="1444.6" class="rl" textLength="49.5" lengthAdjust="spacingAndGlyphs">Q306</text>
<text x="293.6" y="1484.5" class="rl" textLength="48.1" lengthAdjust="spacingAndGlyphs">A404</text>
<text x="259.3" y="1592.5" class="rl" textLength="49.4" lengthAdjust="spacingAndGlyphs">Q169</text>
<text x="598.9" y="1532.9" class="rl" textLength="48.4" lengthAdjust="spacingAndGlyphs">Q305</text>
<text x="463.1" y="1711.6" class="rl" textLength="53.4" lengthAdjust="spacingAndGlyphs">W412</text>
</g></g>
<rect x="780.5" y="1176.2" width="550.2" height="549.9" fill="none" stroke="#000" stroke-width="2.2"/>
</svg>
</body></html>
